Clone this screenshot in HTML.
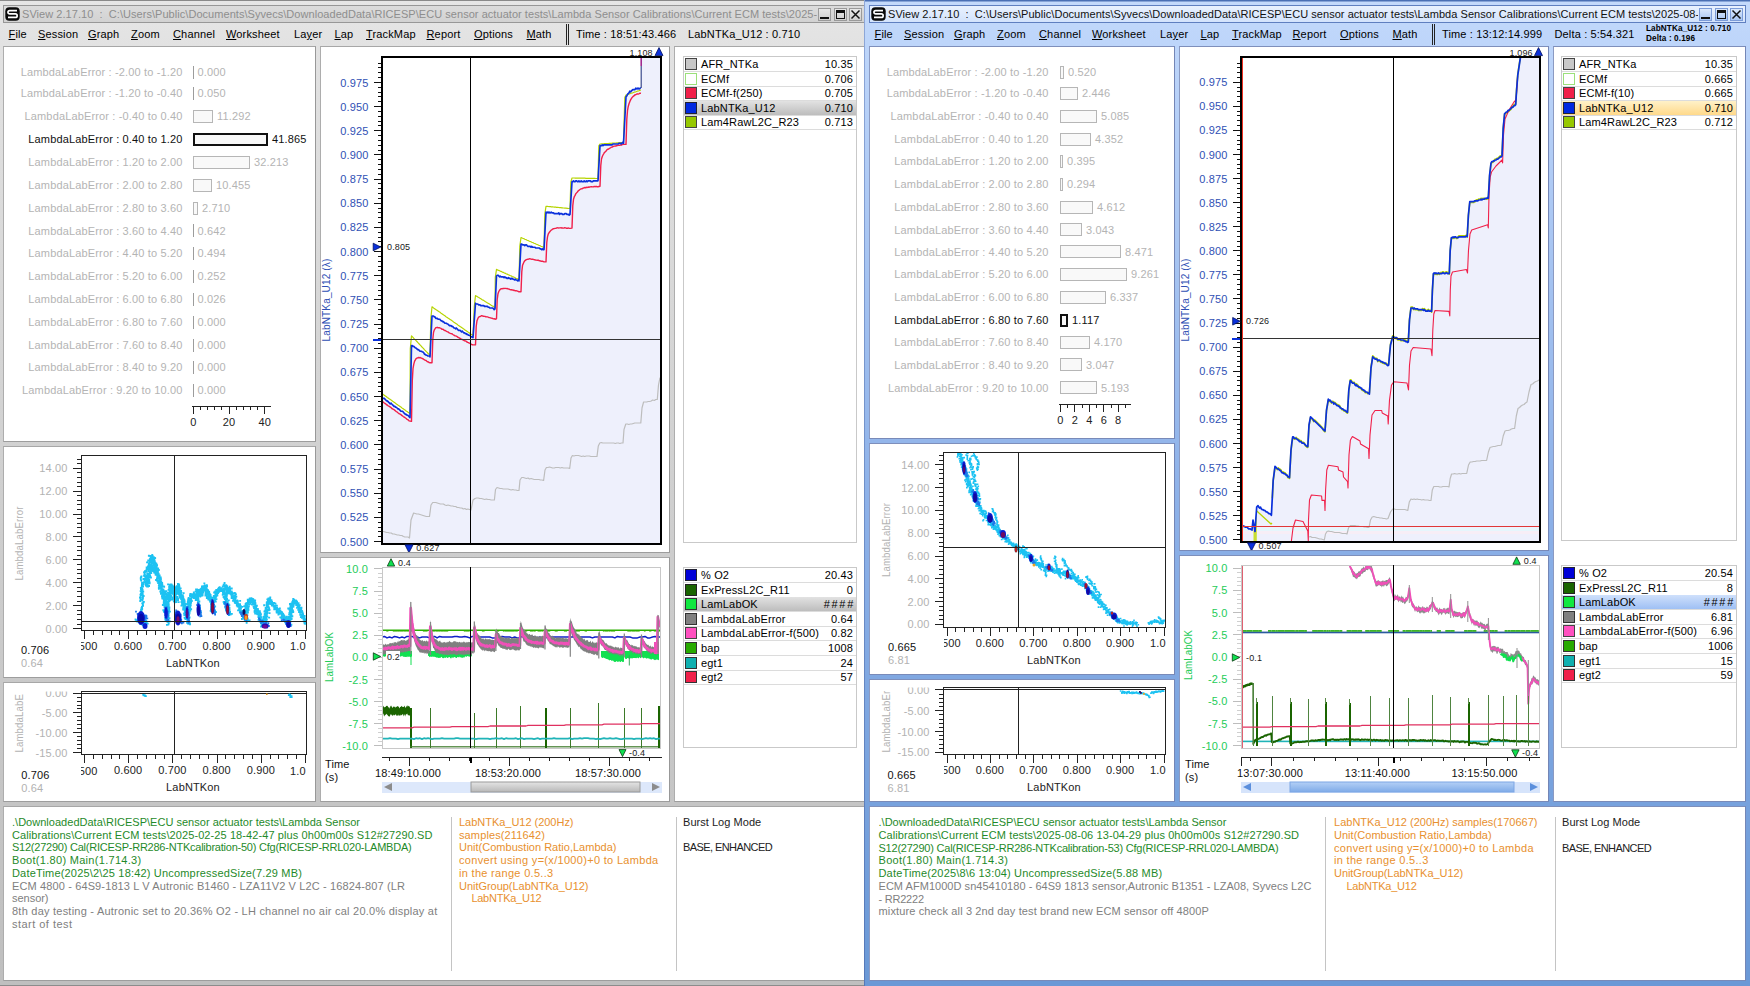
<!DOCTYPE html>
<html lang="en"><head><meta charset="utf-8"><title>SView</title>
<style>
*{box-sizing:border-box;margin:0;padding:0}
html,body{width:1750px;height:986px;overflow:hidden;background:#fff}
body{font-family:"Liberation Sans",sans-serif;font-size:11px;color:#000;position:relative;letter-spacing:0.15px}
.win{position:absolute;top:0;height:986px;overflow:hidden}
#L{left:0;width:864px;background:linear-gradient(#8a8a8a 0,#8a8a8a 1px,#e6e6e6 1px,#e2e2e2 46px,#cfcfcf 500px,#bfbfbf 985px,#8c8c8c 985px)}
#R{left:864px;width:886px;background:linear-gradient(#4a6fb4 0,#4a6fb4 1px,#c3d9fb 2px,#bdd5fa 46px,#8db1e8 500px,#6a98d6 986px);border-left:1px solid;border-image:linear-gradient(#8fa8d8,#6f8fc8 500px,#5578b8) 1}
#Ri{position:absolute;left:1px;top:0;width:884px;height:986px}
.abs{position:absolute}
.pn{position:absolute;background:#fff;border:1px solid;border-color:rgba(0,0,0,.34) rgba(0,0,0,.40) rgba(0,0,0,.38) rgba(0,0,0,.32);overflow:hidden}
#R .pn{border-color:rgba(25,55,135,.56) rgba(25,55,135,.60) rgba(25,55,135,.58) rgba(25,55,135,.5)}
.tb{position:absolute;left:3px;top:5px;height:18px;border:1px solid #979797;background:linear-gradient(#dcdcdc,#d2d2d2);overflow:hidden;white-space:nowrap}
#R .tb{border-color:#5f7fc0;background:linear-gradient(#e9f1fe,#d3e3fc)}
.tt{position:absolute;left:18px;top:2px;line-height:13px;font-size:11px;white-space:pre;color:#8e8e8e;letter-spacing:.045px}
#R .tt{color:#111}
.mi{position:absolute;top:27px;line-height:14px;white-space:pre}
.mi u{text-decoration:underline;text-underline-offset:1px}
.wb{position:absolute;top:2px;width:13px;height:13px;border:1px solid #9a9a9a;background:linear-gradient(#e8e8e8,#cfcfcf)}
#R .wb{border-color:#7c9cd8;background:linear-gradient(#dce9fd,#a9c6f3)}
svg{position:absolute;left:0;top:0;overflow:visible}
svg text{font-family:"Liberation Sans",sans-serif;letter-spacing:0.15px}
.r{white-space:pre;position:absolute;line-height:13px}
.info{position:absolute;white-space:pre;line-height:12.75px;font-size:11px;letter-spacing:.05px}
.lg{position:absolute;border:1px solid #c9c9c9;background:#fff}
.lr{position:absolute;left:0;right:0;height:15px;border-bottom:1px solid #dcdcdc;line-height:14px;white-space:pre}
.lr i{position:absolute;left:1px;top:1px;width:12px;height:12px;border:1px solid #3a3a3a}
.lr b{position:absolute;left:17px;top:0;font-weight:normal}
.lr s{position:absolute;right:3px;top:0;text-decoration:none}
</style></head>
<body>
<div id="L" class="win"><div class="tb" style="width:862px"><svg class="abs" style="left:1px;top:1px" width="15" height="14" viewBox="0 0 15 14"><rect x="0.3" y="0.3" width="14.4" height="13.4" rx="4" fill="#0a0a0a"/><path d="M12 3.6H4.6a1.6 1.6 0 0 0 0 3.3h5.8a1.7 1.7 0 0 1 0 3.5H3" fill="none" stroke="#fff" stroke-width="1.7"/></svg><div class="tt">SView 2.17.10  :  C:\Users\Public\Documents\Syvecs\DownloadedData\RICESP\ECU sensor actuator tests\Lambda Sensor Calibrations\Current ECM tests\2025-02-25 18-42-47</div><div class="abs" style="left:813px;top:0;width:60px;height:16px;background:inherit"></div><div class="wb" style="left:814px"><div class="abs" style="left:1px;top:8px;width:9px;height:2px;background:#111"></div></div><div class="wb" style="left:829.5px"><div class="abs" style="left:1px;top:1px;width:9px;height:9px;border:1px solid #111;border-top-width:3px"></div></div><div class="wb" style="left:845px"><svg width="11" height="11" viewBox="0 0 11 11"><path d="M1.5 1.5L9.5 9.5M9.5 1.5L1.5 9.5" stroke="#111" stroke-width="1.5"/></svg></div></div><div class="mi" style="left:8.5px"><u>F</u>ile</div><div class="mi" style="left:38px"><u>S</u>ession</div><div class="mi" style="left:88px"><u>G</u>raph</div><div class="mi" style="left:131px"><u>Z</u>oom</div><div class="mi" style="left:173px"><u>C</u>hannel</div><div class="mi" style="left:226px"><u>W</u>orksheet</div><div class="mi" style="left:294px">La<u>y</u>er</div><div class="mi" style="left:334.5px"><u>L</u>ap</div><div class="mi" style="left:366px"><u>T</u>rackMap</div><div class="mi" style="left:426.5px"><u>R</u>eport</div><div class="mi" style="left:474px"><u>O</u>ptions</div><div class="mi" style="left:526.5px"><u>M</u>ath</div><div class="abs" style="left:566px;top:24px;width:3px;height:21px;border-left:1px solid #222;border-right:1px solid #222"></div><div class="mi" style="left:576px">Time : 18:51:43.466</div><div class="mi" style="left:688px">LabNTKa_U12 : 0.710</div><div class="pn" style="left:3px;top:46px;width:313px;height:396px;"><div class="r" style="right:132.5px;top:18.8px;color:#b4b4b4">LambdaLabError : -2.00 to -1.20</div><div class="abs" style="left:189px;top:18.5px;width:1px;height:13px;background:#9c9c9c"></div><div class="r" style="left:193.5px;top:18.8px;color:#b4b4b4">0.000</div><div class="r" style="right:132.5px;top:40.1px;color:#b4b4b4">LambdaLabError : -1.20 to -0.40</div><div class="abs" style="left:189px;top:39.8px;width:1px;height:13px;background:#9c9c9c"></div><div class="r" style="left:193.5px;top:40.1px;color:#b4b4b4">0.050</div><div class="r" style="right:132.5px;top:63.1px;color:#b4b4b4">LambdaLabError : -0.40 to 0.40</div><div class="abs" style="left:189px;top:62.8px;width:20px;height:13px;border:1px solid #b6b6b6;background:#f9f9f9"></div><div class="r" style="left:213px;top:63.1px;color:#b4b4b4">11.292</div><div class="r" style="right:132.5px;top:86.1px;color:#111">LambdaLabError : 0.40 to 1.20</div><div class="abs" style="left:189px;top:85.8px;width:75px;height:13px;border:2px solid #111;background:#f8f8f8"></div><div class="r" style="left:268px;top:86.1px;color:#111">41.865</div><div class="r" style="right:132.5px;top:108.8px;color:#b4b4b4">LambdaLabError : 1.20 to 2.00</div><div class="abs" style="left:189px;top:108.5px;width:57px;height:13px;border:1px solid #b6b6b6;background:#f9f9f9"></div><div class="r" style="left:250px;top:108.8px;color:#b4b4b4">32.213</div><div class="r" style="right:132.5px;top:131.8px;color:#b4b4b4">LambdaLabError : 2.00 to 2.80</div><div class="abs" style="left:189px;top:131.5px;width:19px;height:13px;border:1px solid #b6b6b6;background:#f9f9f9"></div><div class="r" style="left:212px;top:131.8px;color:#b4b4b4">10.455</div><div class="r" style="right:132.5px;top:154.8px;color:#b4b4b4">LambdaLabError : 2.80 to 3.60</div><div class="abs" style="left:189px;top:154.5px;width:5px;height:13px;border:1px solid #b6b6b6;background:#f9f9f9"></div><div class="r" style="left:198px;top:154.8px;color:#b4b4b4">2.710</div><div class="r" style="right:132.5px;top:177.5px;color:#b4b4b4">LambdaLabError : 3.60 to 4.40</div><div class="abs" style="left:189px;top:177.2px;width:1px;height:13px;background:#9c9c9c"></div><div class="r" style="left:193.5px;top:177.5px;color:#b4b4b4">0.642</div><div class="r" style="right:132.5px;top:200.3px;color:#b4b4b4">LambdaLabError : 4.40 to 5.20</div><div class="abs" style="left:189px;top:200.0px;width:1px;height:13px;background:#9c9c9c"></div><div class="r" style="left:193.5px;top:200.3px;color:#b4b4b4">0.494</div><div class="r" style="right:132.5px;top:223.1px;color:#b4b4b4">LambdaLabError : 5.20 to 6.00</div><div class="abs" style="left:189px;top:222.8px;width:1px;height:13px;background:#9c9c9c"></div><div class="r" style="left:193.5px;top:223.1px;color:#b4b4b4">0.252</div><div class="r" style="right:132.5px;top:245.8px;color:#b4b4b4">LambdaLabError : 6.00 to 6.80</div><div class="abs" style="left:189px;top:245.5px;width:1px;height:13px;background:#9c9c9c"></div><div class="r" style="left:193.5px;top:245.8px;color:#b4b4b4">0.026</div><div class="r" style="right:132.5px;top:268.8px;color:#b4b4b4">LambdaLabError : 6.80 to 7.60</div><div class="abs" style="left:189px;top:268.5px;width:1px;height:13px;background:#9c9c9c"></div><div class="r" style="left:193.5px;top:268.8px;color:#b4b4b4">0.000</div><div class="r" style="right:132.5px;top:291.8px;color:#b4b4b4">LambdaLabError : 7.60 to 8.40</div><div class="abs" style="left:189px;top:291.5px;width:1px;height:13px;background:#9c9c9c"></div><div class="r" style="left:193.5px;top:291.8px;color:#b4b4b4">0.000</div><div class="r" style="right:132.5px;top:314.3px;color:#b4b4b4">LambdaLabError : 8.40 to 9.20</div><div class="abs" style="left:189px;top:314.0px;width:1px;height:13px;background:#9c9c9c"></div><div class="r" style="left:193.5px;top:314.3px;color:#b4b4b4">0.000</div><div class="r" style="right:132.5px;top:337.1px;color:#b4b4b4">LambdaLabError : 9.20 to 10.00</div><div class="abs" style="left:189px;top:336.8px;width:1px;height:13px;background:#9c9c9c"></div><div class="r" style="left:193.5px;top:337.1px;color:#b4b4b4">0.000</div><svg width="311" height="394" shape-rendering="crispEdges"><rect x="188" y="359" width="79" height="1" fill="#222"/><rect x="189" y="359" width="1" height="8" fill="#222"/><rect x="196" y="359" width="1" height="4" fill="#222"/><rect x="203" y="359" width="1" height="4" fill="#222"/><rect x="210" y="359" width="1" height="4" fill="#222"/><rect x="217" y="359" width="1" height="4" fill="#222"/><rect x="225" y="359" width="1" height="8" fill="#222"/><rect x="232" y="359" width="1" height="4" fill="#222"/><rect x="239" y="359" width="1" height="4" fill="#222"/><rect x="246" y="359" width="1" height="4" fill="#222"/><rect x="253" y="359" width="1" height="4" fill="#222"/><rect x="260" y="359" width="1" height="8" fill="#222"/></svg><div class="r" style="left:169.0px;width:41px;text-align:center;top:369px;color:#222">0</div><div class="r" style="left:204.6px;width:41px;text-align:center;top:369px;color:#222">20</div><div class="r" style="left:240.2px;width:41px;text-align:center;top:369px;color:#222">40</div></div><div class="pn" style="left:3px;top:446px;width:313px;height:232px;"><svg width="311" height="230" viewBox="4 447 311 230"><clipPath id="cs1"><rect x="82" y="456" width="224" height="174"/></clipPath><g clip-path="url(#cs1)"><path d="M140.4 612.7h1.9v1.9h-1.9zM139.7 610.7h1.9v1.9h-1.9zM140.5 611.3h1.9v1.9h-1.9zM140.6 609h1.9v1.9h-1.9zM140.1 608.8h1.9v1.9h-1.9zM141.2 608h1.9v1.9h-1.9zM140.6 607.1h1.9v1.9h-1.9zM141 606h1.9v1.9h-1.9zM141.1 605.8h1.9v1.9h-1.9zM142.1 604.8h1.9v1.9h-1.9zM141.9 603.5h1.9v1.9h-1.9zM141.9 603.3h1.9v1.9h-1.9zM141.3 602.4h1.9v1.9h-1.9zM142.2 601.4h1.9v1.9h-1.9zM142.4 601.6h1.9v1.9h-1.9zM142.9 600.9h1.9v1.9h-1.9zM141.3 599.4h1.9v1.9h-1.9zM141.5 598.9h1.9v1.9h-1.9zM141.9 597.7h1.9v1.9h-1.9zM142 596.5h1.9v1.9h-1.9zM141.7 595.6h1.9v1.9h-1.9zM142.7 595h1.9v1.9h-1.9zM141.6 593.5h1.9v1.9h-1.9zM140.7 593.2h1.9v1.9h-1.9zM141.8 593.2h1.9v1.9h-1.9zM141.5 591.7h1.9v1.9h-1.9zM142.3 590.7h1.9v1.9h-1.9zM140.8 590.7h1.9v1.9h-1.9zM140.6 589.8h1.9v1.9h-1.9zM141.6 588.8h1.9v1.9h-1.9zM141.2 588h1.9v1.9h-1.9zM140.9 585.6h1.9v1.9h-1.9zM140.8 586.5h1.9v1.9h-1.9zM140.8 585.4h1.9v1.9h-1.9zM142.1 585.7h1.9v1.9h-1.9zM141.4 583.9h1.9v1.9h-1.9zM142.5 583.7h1.9v1.9h-1.9zM141.9 583.6h1.9v1.9h-1.9zM142.4 582.4h1.9v1.9h-1.9zM143 581.3h1.9v1.9h-1.9zM144.2 580.7h1.9v1.9h-1.9zM143.6 579h1.9v1.9h-1.9zM143.4 578h1.9v1.9h-1.9zM145.1 577.2h1.9v1.9h-1.9zM142.5 578h1.9v1.9h-1.9zM144.4 576.1h1.9v1.9h-1.9zM144 575h1.9v1.9h-1.9zM143.1 574.9h1.9v1.9h-1.9zM143.5 573.5h1.9v1.9h-1.9zM144 573.3h1.9v1.9h-1.9zM143.1 571.4h1.9v1.9h-1.9zM143.5 571.2h1.9v1.9h-1.9zM143.9 571.1h1.9v1.9h-1.9zM144 570.2h1.9v1.9h-1.9zM145.2 569.5h1.9v1.9h-1.9zM146.5 567.8h1.9v1.9h-1.9zM145.7 567.4h1.9v1.9h-1.9zM146.1 568.7h1.9v1.9h-1.9zM145.7 566.5h1.9v1.9h-1.9zM139.3 600.1h1.9v1.9h-1.9zM139.6 598.1h1.9v1.9h-1.9zM139.8 597.1h1.9v1.9h-1.9zM139 596.5h1.9v1.9h-1.9zM139.9 594.7h1.9v1.9h-1.9zM139.5 593.7h1.9v1.9h-1.9zM140 592.4h1.9v1.9h-1.9zM139.7 590.2h1.9v1.9h-1.9zM140.9 590.1h1.9v1.9h-1.9zM140 588.1h1.9v1.9h-1.9zM140.4 587.3h1.9v1.9h-1.9zM139.9 586.9h1.9v1.9h-1.9zM141.2 584.9h1.9v1.9h-1.9zM141 583.8h1.9v1.9h-1.9zM141.2 582.5h1.9v1.9h-1.9zM141.1 581.8h1.9v1.9h-1.9zM140.3 579.7h1.9v1.9h-1.9zM139.9 578.5h1.9v1.9h-1.9zM139.8 577.3h1.9v1.9h-1.9zM140.1 576.2h1.9v1.9h-1.9zM140.5 575.5h1.9v1.9h-1.9zM145.6 584.9h1.9v1.9h-1.9zM145.4 582.3h1.9v1.9h-1.9zM146.4 582.4h1.9v1.9h-1.9zM147.5 584.4h1.9v1.9h-1.9zM148.1 585h1.9v1.9h-1.9zM147.1 585.7h1.9v1.9h-1.9zM146.2 585.6h1.9v1.9h-1.9zM146.1 583.8h1.9v1.9h-1.9zM145.4 583.9h1.9v1.9h-1.9zM147.2 582.4h1.9v1.9h-1.9zM144.7 582.8h1.9v1.9h-1.9zM146.9 582.4h1.9v1.9h-1.9zM145.2 581.5h1.9v1.9h-1.9zM146.1 578.9h1.9v1.9h-1.9zM145.8 583.7h1.9v1.9h-1.9zM144.9 581.4h1.9v1.9h-1.9zM148.7 582.4h1.9v1.9h-1.9zM147.7 581.1h1.9v1.9h-1.9zM145 584.7h1.9v1.9h-1.9zM147 581.1h1.9v1.9h-1.9zM148.7 581.6h1.9v1.9h-1.9zM146.8 579h1.9v1.9h-1.9zM146.6 580h1.9v1.9h-1.9zM145.9 578.9h1.9v1.9h-1.9zM145.6 579.6h1.9v1.9h-1.9zM146.1 580h1.9v1.9h-1.9zM148.2 579.7h1.9v1.9h-1.9zM147 581h1.9v1.9h-1.9zM147.8 577h1.9v1.9h-1.9zM146.1 578.9h1.9v1.9h-1.9zM145.9 579.3h1.9v1.9h-1.9zM144.9 575.8h1.9v1.9h-1.9zM148.3 578.7h1.9v1.9h-1.9zM145.1 577.8h1.9v1.9h-1.9zM148.8 576.1h1.9v1.9h-1.9zM145.7 575.8h1.9v1.9h-1.9zM146 574.9h1.9v1.9h-1.9zM146.7 575h1.9v1.9h-1.9zM147.4 579.4h1.9v1.9h-1.9zM146 577.5h1.9v1.9h-1.9zM148.8 573.3h1.9v1.9h-1.9zM147.5 576h1.9v1.9h-1.9zM147 576.8h1.9v1.9h-1.9zM146.9 576h1.9v1.9h-1.9zM147 575.1h1.9v1.9h-1.9zM146.5 577.9h1.9v1.9h-1.9zM147.5 573.5h1.9v1.9h-1.9zM150 576.6h1.9v1.9h-1.9zM147.4 573.6h1.9v1.9h-1.9zM146.7 575.8h1.9v1.9h-1.9zM147.3 573.1h1.9v1.9h-1.9zM148.8 573.4h1.9v1.9h-1.9zM147.7 576h1.9v1.9h-1.9zM148.9 574.9h1.9v1.9h-1.9zM148.4 574.7h1.9v1.9h-1.9zM147.7 574.1h1.9v1.9h-1.9zM149.2 572.1h1.9v1.9h-1.9zM146.3 573.1h1.9v1.9h-1.9zM147.8 573h1.9v1.9h-1.9zM147.2 572.7h1.9v1.9h-1.9zM149.2 574.7h1.9v1.9h-1.9zM150.3 572h1.9v1.9h-1.9zM149.9 570.5h1.9v1.9h-1.9zM149.5 571.3h1.9v1.9h-1.9zM149.8 571.3h1.9v1.9h-1.9zM147.8 569.8h1.9v1.9h-1.9zM149.7 570.5h1.9v1.9h-1.9zM149 570.8h1.9v1.9h-1.9zM145.6 570.8h1.9v1.9h-1.9zM147.7 570.3h1.9v1.9h-1.9zM148.8 567.3h1.9v1.9h-1.9zM147.8 569.3h1.9v1.9h-1.9zM148.7 570.3h1.9v1.9h-1.9zM147.4 568.6h1.9v1.9h-1.9zM149.1 566.4h1.9v1.9h-1.9zM150.6 567.3h1.9v1.9h-1.9zM150 568.4h1.9v1.9h-1.9zM150.7 569.3h1.9v1.9h-1.9zM148.3 565.7h1.9v1.9h-1.9zM148.5 568h1.9v1.9h-1.9zM149.1 565.8h1.9v1.9h-1.9zM147.4 566.1h1.9v1.9h-1.9zM148.8 565.8h1.9v1.9h-1.9zM148.3 567.8h1.9v1.9h-1.9zM147.9 568.1h1.9v1.9h-1.9zM148.9 565.9h1.9v1.9h-1.9zM149.9 566.6h1.9v1.9h-1.9zM148.2 565h1.9v1.9h-1.9zM148.5 566h1.9v1.9h-1.9zM150 565.7h1.9v1.9h-1.9zM147.8 563.4h1.9v1.9h-1.9zM148.9 565.4h1.9v1.9h-1.9zM150 564h1.9v1.9h-1.9zM147 565.5h1.9v1.9h-1.9zM148.4 562.7h1.9v1.9h-1.9zM150.7 565.1h1.9v1.9h-1.9zM148.8 564.1h1.9v1.9h-1.9zM147.8 564.8h1.9v1.9h-1.9zM148.2 562.8h1.9v1.9h-1.9zM148.4 561.7h1.9v1.9h-1.9zM150.1 565h1.9v1.9h-1.9zM149.7 560.1h1.9v1.9h-1.9zM148.4 561.6h1.9v1.9h-1.9zM149.3 559.5h1.9v1.9h-1.9zM146.1 561.4h1.9v1.9h-1.9zM150.1 561.5h1.9v1.9h-1.9zM151.6 560.5h1.9v1.9h-1.9zM148.9 561.2h1.9v1.9h-1.9zM147.9 562.5h1.9v1.9h-1.9zM147.3 559.6h1.9v1.9h-1.9zM148.5 560.1h1.9v1.9h-1.9zM150.4 559.8h1.9v1.9h-1.9zM149.6 559.6h1.9v1.9h-1.9zM150.6 560h1.9v1.9h-1.9zM149.4 557.8h1.9v1.9h-1.9zM150.1 558.8h1.9v1.9h-1.9zM150.5 560.1h1.9v1.9h-1.9zM150.2 560.7h1.9v1.9h-1.9zM150.1 558h1.9v1.9h-1.9zM149.9 559.1h1.9v1.9h-1.9zM148.4 559.4h1.9v1.9h-1.9zM151.8 558.8h1.9v1.9h-1.9zM150.2 558.9h1.9v1.9h-1.9zM151.6 557.4h1.9v1.9h-1.9zM151.5 557h1.9v1.9h-1.9zM151.1 558.4h1.9v1.9h-1.9zM148.9 558.3h1.9v1.9h-1.9zM150.9 555.2h1.9v1.9h-1.9zM150.2 556.4h1.9v1.9h-1.9zM149.8 557.5h1.9v1.9h-1.9zM150 556.8h1.9v1.9h-1.9zM149.8 556.2h1.9v1.9h-1.9zM153.5 556.9h1.9v1.9h-1.9zM149.4 555h1.9v1.9h-1.9zM151.3 554h1.9v1.9h-1.9zM152.8 556.2h1.9v1.9h-1.9zM151.6 556.5h1.9v1.9h-1.9zM150.9 555.2h1.9v1.9h-1.9zM147.9 554.8h1.9v1.9h-1.9zM152.2 557.9h1.9v1.9h-1.9zM151.7 555h1.9v1.9h-1.9zM151.6 557.5h1.9v1.9h-1.9zM150.5 559.4h1.9v1.9h-1.9zM150.8 557.9h1.9v1.9h-1.9zM150.9 559.3h1.9v1.9h-1.9zM150.8 557.2h1.9v1.9h-1.9zM153.8 557h1.9v1.9h-1.9zM151.8 559.4h1.9v1.9h-1.9zM153 556.8h1.9v1.9h-1.9zM153.4 558.8h1.9v1.9h-1.9zM154.2 557.2h1.9v1.9h-1.9zM153.7 560.1h1.9v1.9h-1.9zM152.4 559.3h1.9v1.9h-1.9zM153.4 559.2h1.9v1.9h-1.9zM152.6 559.3h1.9v1.9h-1.9zM153.3 561.3h1.9v1.9h-1.9zM151.2 560.7h1.9v1.9h-1.9zM153.6 562.8h1.9v1.9h-1.9zM152.4 562.7h1.9v1.9h-1.9zM152.8 561.9h1.9v1.9h-1.9zM153.7 561.9h1.9v1.9h-1.9zM153.1 560.5h1.9v1.9h-1.9zM155.5 563.8h1.9v1.9h-1.9zM153.6 561.9h1.9v1.9h-1.9zM153.5 560.7h1.9v1.9h-1.9zM152.5 563.1h1.9v1.9h-1.9zM155.1 562.5h1.9v1.9h-1.9zM152.8 561.6h1.9v1.9h-1.9zM153.3 564.1h1.9v1.9h-1.9zM154.2 561.6h1.9v1.9h-1.9zM152.7 564.1h1.9v1.9h-1.9zM154.6 566.1h1.9v1.9h-1.9zM156.1 564.3h1.9v1.9h-1.9zM153.5 564.6h1.9v1.9h-1.9zM153 563.7h1.9v1.9h-1.9zM155.7 565.5h1.9v1.9h-1.9zM155.7 566.9h1.9v1.9h-1.9zM154.1 566.2h1.9v1.9h-1.9zM154.7 565.8h1.9v1.9h-1.9zM155 566.3h1.9v1.9h-1.9zM153 564.1h1.9v1.9h-1.9zM154.9 566.6h1.9v1.9h-1.9zM154.3 566.1h1.9v1.9h-1.9zM153.2 567.7h1.9v1.9h-1.9zM155.6 568.6h1.9v1.9h-1.9zM154.5 566.8h1.9v1.9h-1.9zM155.2 568.8h1.9v1.9h-1.9zM155.9 567.8h1.9v1.9h-1.9zM153.2 566.5h1.9v1.9h-1.9zM153.4 567.5h1.9v1.9h-1.9zM156.4 568.1h1.9v1.9h-1.9zM154.2 570.8h1.9v1.9h-1.9zM154.1 570.2h1.9v1.9h-1.9zM157 569h1.9v1.9h-1.9zM157.2 567.5h1.9v1.9h-1.9zM154.9 568.7h1.9v1.9h-1.9zM156.1 569.1h1.9v1.9h-1.9zM157.9 569h1.9v1.9h-1.9zM155.5 568.2h1.9v1.9h-1.9zM156.4 570.9h1.9v1.9h-1.9zM155 568.6h1.9v1.9h-1.9zM154.2 571.8h1.9v1.9h-1.9zM157 571h1.9v1.9h-1.9zM157 571.4h1.9v1.9h-1.9zM156.7 569h1.9v1.9h-1.9zM156.8 572.1h1.9v1.9h-1.9zM157.7 572.7h1.9v1.9h-1.9zM155.5 572h1.9v1.9h-1.9zM154.6 573.7h1.9v1.9h-1.9zM154.7 573h1.9v1.9h-1.9zM155.5 571.3h1.9v1.9h-1.9zM155.4 572.1h1.9v1.9h-1.9zM157.1 574.2h1.9v1.9h-1.9zM156.3 574.1h1.9v1.9h-1.9zM157.8 575.8h1.9v1.9h-1.9zM156 573.8h1.9v1.9h-1.9zM157.7 573.8h1.9v1.9h-1.9zM157.7 573h1.9v1.9h-1.9zM156.5 573.3h1.9v1.9h-1.9zM156.2 573.2h1.9v1.9h-1.9zM156.9 573h1.9v1.9h-1.9zM156.4 575.5h1.9v1.9h-1.9zM155.2 573.6h1.9v1.9h-1.9zM156.7 573.8h1.9v1.9h-1.9zM156 577.7h1.9v1.9h-1.9zM157.8 575h1.9v1.9h-1.9zM156.5 573.9h1.9v1.9h-1.9zM156 573.1h1.9v1.9h-1.9zM158.2 575.6h1.9v1.9h-1.9zM158.7 576.5h1.9v1.9h-1.9zM155.1 579.1h1.9v1.9h-1.9zM158.3 578h1.9v1.9h-1.9zM157.1 576.4h1.9v1.9h-1.9zM157.6 579.6h1.9v1.9h-1.9zM156.3 576.2h1.9v1.9h-1.9zM158.6 575.3h1.9v1.9h-1.9zM159.8 576.5h1.9v1.9h-1.9zM159.5 578h1.9v1.9h-1.9zM157.7 577h1.9v1.9h-1.9zM160 578.3h1.9v1.9h-1.9zM156.6 579.6h1.9v1.9h-1.9zM158.1 579.7h1.9v1.9h-1.9zM157.9 579.7h1.9v1.9h-1.9zM159 579.5h1.9v1.9h-1.9zM156.4 580.3h1.9v1.9h-1.9zM160.3 580.5h1.9v1.9h-1.9zM159.8 581.1h1.9v1.9h-1.9zM158.3 581.7h1.9v1.9h-1.9zM158.4 579.3h1.9v1.9h-1.9zM157.2 582.1h1.9v1.9h-1.9zM159.7 581.8h1.9v1.9h-1.9zM158.2 578.9h1.9v1.9h-1.9zM159.9 581.3h1.9v1.9h-1.9zM158.3 580.9h1.9v1.9h-1.9zM158.4 579.5h1.9v1.9h-1.9zM159.9 583h1.9v1.9h-1.9zM160.3 581.8h1.9v1.9h-1.9zM157.7 580.8h1.9v1.9h-1.9zM159 584.9h1.9v1.9h-1.9zM160.6 583h1.9v1.9h-1.9zM160.1 584.2h1.9v1.9h-1.9zM159.6 583.7h1.9v1.9h-1.9zM159.9 582.9h1.9v1.9h-1.9zM158.2 583.1h1.9v1.9h-1.9zM161.2 582.1h1.9v1.9h-1.9zM159.2 583.7h1.9v1.9h-1.9zM159.9 583.9h1.9v1.9h-1.9zM160.9 584.2h1.9v1.9h-1.9zM160 585.8h1.9v1.9h-1.9zM158.3 586.5h1.9v1.9h-1.9zM161.4 583.7h1.9v1.9h-1.9zM160 584.6h1.9v1.9h-1.9zM159.8 586.7h1.9v1.9h-1.9zM157.9 587h1.9v1.9h-1.9zM160.9 586.2h1.9v1.9h-1.9zM163.2 585.8h1.9v1.9h-1.9zM158.6 587.1h1.9v1.9h-1.9zM160.7 586h1.9v1.9h-1.9zM157.9 584.7h1.9v1.9h-1.9zM162.7 585.4h1.9v1.9h-1.9zM162.4 588.5h1.9v1.9h-1.9zM158 587.9h1.9v1.9h-1.9zM161.6 589.3h1.9v1.9h-1.9zM162.5 589.7h1.9v1.9h-1.9zM160.9 588h1.9v1.9h-1.9zM160.8 589.2h1.9v1.9h-1.9zM159.9 587.4h1.9v1.9h-1.9zM164 590.2h1.9v1.9h-1.9zM162.5 588.9h1.9v1.9h-1.9zM160.2 588.9h1.9v1.9h-1.9zM160.3 588.8h1.9v1.9h-1.9zM159.4 590.6h1.9v1.9h-1.9zM161.9 591h1.9v1.9h-1.9zM161.6 589.4h1.9v1.9h-1.9zM164.1 591.7h1.9v1.9h-1.9zM162.3 591.8h1.9v1.9h-1.9zM161.3 591.8h1.9v1.9h-1.9zM160.8 592.4h1.9v1.9h-1.9zM163 592.4h1.9v1.9h-1.9zM162.4 591.7h1.9v1.9h-1.9zM162.2 592.7h1.9v1.9h-1.9zM161.4 592.9h1.9v1.9h-1.9zM163 590.6h1.9v1.9h-1.9zM160 592.8h1.9v1.9h-1.9zM161.7 591.6h1.9v1.9h-1.9zM160.7 591.5h1.9v1.9h-1.9zM160.2 592.6h1.9v1.9h-1.9zM160.4 591.2h1.9v1.9h-1.9zM162.2 595.4h1.9v1.9h-1.9zM164 593.5h1.9v1.9h-1.9zM163 593.6h1.9v1.9h-1.9zM162.4 593.2h1.9v1.9h-1.9zM162.6 593.1h1.9v1.9h-1.9zM161.7 594.4h1.9v1.9h-1.9zM162.6 597.4h1.9v1.9h-1.9zM161.7 593.7h1.9v1.9h-1.9zM163.6 596h1.9v1.9h-1.9zM163.7 595.3h1.9v1.9h-1.9zM161 595.3h1.9v1.9h-1.9zM161.4 595.8h1.9v1.9h-1.9zM165.2 595.7h1.9v1.9h-1.9zM163.2 597.7h1.9v1.9h-1.9zM161.5 597.5h1.9v1.9h-1.9zM162.8 595.9h1.9v1.9h-1.9zM162.8 595.8h1.9v1.9h-1.9zM164.4 597.3h1.9v1.9h-1.9zM162.8 598h1.9v1.9h-1.9zM161.5 594.2h1.9v1.9h-1.9zM165.1 597.2h1.9v1.9h-1.9zM164.4 597h1.9v1.9h-1.9zM161.3 596.9h1.9v1.9h-1.9zM164.7 599h1.9v1.9h-1.9zM162.9 599.6h1.9v1.9h-1.9zM163.4 599.2h1.9v1.9h-1.9zM162.4 596.4h1.9v1.9h-1.9zM163.9 600.2h1.9v1.9h-1.9zM162.8 601.6h1.9v1.9h-1.9zM164.3 602h1.9v1.9h-1.9zM164.8 601.6h1.9v1.9h-1.9zM163.7 598.4h1.9v1.9h-1.9zM166.8 602.1h1.9v1.9h-1.9zM165 599.5h1.9v1.9h-1.9zM165.3 599.6h1.9v1.9h-1.9zM164.9 602.3h1.9v1.9h-1.9zM165 600.1h1.9v1.9h-1.9zM165.1 601.8h1.9v1.9h-1.9zM165.1 603.4h1.9v1.9h-1.9zM163.7 601h1.9v1.9h-1.9zM161.9 604.1h1.9v1.9h-1.9zM163.6 604h1.9v1.9h-1.9zM165.1 604.1h1.9v1.9h-1.9zM165 603.5h1.9v1.9h-1.9zM164.5 603.7h1.9v1.9h-1.9zM163.5 604.6h1.9v1.9h-1.9zM162.8 602.9h1.9v1.9h-1.9zM164.4 603.9h1.9v1.9h-1.9zM164.8 602.7h1.9v1.9h-1.9zM165.1 600.8h1.9v1.9h-1.9zM164.1 604.3h1.9v1.9h-1.9zM164.1 605.8h1.9v1.9h-1.9zM164.9 605.4h1.9v1.9h-1.9zM163.6 606.2h1.9v1.9h-1.9zM166 603.4h1.9v1.9h-1.9zM166.9 604h1.9v1.9h-1.9zM163.7 606.7h1.9v1.9h-1.9zM167.3 606.7h1.9v1.9h-1.9zM165 605.3h1.9v1.9h-1.9zM164.3 606.6h1.9v1.9h-1.9zM165.7 605.4h1.9v1.9h-1.9zM165.9 604.1h1.9v1.9h-1.9zM165.6 605.9h1.9v1.9h-1.9zM163.7 609.9h1.9v1.9h-1.9zM166.1 607.1h1.9v1.9h-1.9zM164 609.5h1.9v1.9h-1.9zM165.5 607h1.9v1.9h-1.9zM162.4 609.3h1.9v1.9h-1.9zM166.3 609h1.9v1.9h-1.9zM164.1 606.3h1.9v1.9h-1.9zM166.9 608.4h1.9v1.9h-1.9zM166.4 605.8h1.9v1.9h-1.9zM165.2 610.1h1.9v1.9h-1.9zM165.5 611.8h1.9v1.9h-1.9zM166.7 611h1.9v1.9h-1.9zM166.4 609.6h1.9v1.9h-1.9zM164.6 609.1h1.9v1.9h-1.9zM167.2 610.1h1.9v1.9h-1.9zM163 610.8h1.9v1.9h-1.9zM165.8 610.2h1.9v1.9h-1.9zM166.2 609.9h1.9v1.9h-1.9zM169 610.7h1.9v1.9h-1.9zM164.5 611.6h1.9v1.9h-1.9zM166 612.8h1.9v1.9h-1.9zM166.1 612.7h1.9v1.9h-1.9zM165.9 611.8h1.9v1.9h-1.9zM164.6 611.5h1.9v1.9h-1.9zM165.8 611h1.9v1.9h-1.9zM166.9 612.4h1.9v1.9h-1.9zM167.4 614h1.9v1.9h-1.9zM165.6 617.1h1.9v1.9h-1.9zM167.8 612.6h1.9v1.9h-1.9zM166.6 613h1.9v1.9h-1.9zM164.9 614.1h1.9v1.9h-1.9zM165.4 615.2h1.9v1.9h-1.9zM164.3 614.7h1.9v1.9h-1.9zM167.7 614.9h1.9v1.9h-1.9zM168.5 617.3h1.9v1.9h-1.9zM164.6 614.6h1.9v1.9h-1.9zM165.5 617.1h1.9v1.9h-1.9zM165.6 612.9h1.9v1.9h-1.9zM165.4 615.3h1.9v1.9h-1.9zM166.1 615.7h1.9v1.9h-1.9zM166.3 615.1h1.9v1.9h-1.9zM166.3 615.8h1.9v1.9h-1.9zM165.8 616.2h1.9v1.9h-1.9zM167.4 617.1h1.9v1.9h-1.9zM167.2 616.1h1.9v1.9h-1.9zM164.3 617h1.9v1.9h-1.9zM167.5 617.4h1.9v1.9h-1.9zM165.8 615.7h1.9v1.9h-1.9zM166.9 616.9h1.9v1.9h-1.9zM164.4 618.6h1.9v1.9h-1.9zM166.6 619.9h1.9v1.9h-1.9zM165 616.8h1.9v1.9h-1.9zM166.7 620.8h1.9v1.9h-1.9zM166.8 619.8h1.9v1.9h-1.9zM164.9 619.6h1.9v1.9h-1.9zM164.8 617.2h1.9v1.9h-1.9zM167.5 621.1h1.9v1.9h-1.9zM165.8 620.1h1.9v1.9h-1.9zM167.4 619.9h1.9v1.9h-1.9zM166.8 620.8h1.9v1.9h-1.9zM165.7 619.2h1.9v1.9h-1.9zM167.3 623.7h1.9v1.9h-1.9zM166.3 620.5h1.9v1.9h-1.9zM169.2 620.4h1.9v1.9h-1.9zM166 623.9h1.9v1.9h-1.9zM167.8 622.6h1.9v1.9h-1.9zM148.6 559.4h1.9v1.9h-1.9zM150.7 559.4h1.9v1.9h-1.9zM151.7 560.7h1.9v1.9h-1.9zM152.1 561h1.9v1.9h-1.9zM150.6 560.5h1.9v1.9h-1.9zM152 559h1.9v1.9h-1.9zM149.9 559.7h1.9v1.9h-1.9zM150.6 559.7h1.9v1.9h-1.9zM151.1 559.8h1.9v1.9h-1.9zM151.8 561h1.9v1.9h-1.9zM150.7 560.3h1.9v1.9h-1.9zM152.1 560.9h1.9v1.9h-1.9zM151.4 560.8h1.9v1.9h-1.9zM150 561.9h1.9v1.9h-1.9zM150.9 562.4h1.9v1.9h-1.9zM151.8 562.4h1.9v1.9h-1.9zM153.2 562.2h1.9v1.9h-1.9zM153.6 563.9h1.9v1.9h-1.9zM155.4 562.8h1.9v1.9h-1.9zM151.7 564.6h1.9v1.9h-1.9zM153.5 564.1h1.9v1.9h-1.9zM153.5 564.9h1.9v1.9h-1.9zM151.1 565.4h1.9v1.9h-1.9zM153.8 565.9h1.9v1.9h-1.9zM152.8 564.8h1.9v1.9h-1.9zM153.8 567.7h1.9v1.9h-1.9zM151.5 567.1h1.9v1.9h-1.9zM151.1 567h1.9v1.9h-1.9zM150.2 566.8h1.9v1.9h-1.9zM154 565.7h1.9v1.9h-1.9zM151.9 567.8h1.9v1.9h-1.9zM153.2 568.4h1.9v1.9h-1.9zM155.1 567h1.9v1.9h-1.9zM153.9 566.5h1.9v1.9h-1.9zM150.3 567.9h1.9v1.9h-1.9zM150.7 569.9h1.9v1.9h-1.9zM154.9 570.2h1.9v1.9h-1.9zM152.1 569.1h1.9v1.9h-1.9zM152.2 570h1.9v1.9h-1.9zM153.2 571.7h1.9v1.9h-1.9zM155 569.3h1.9v1.9h-1.9zM156.4 571.3h1.9v1.9h-1.9zM156 571.3h1.9v1.9h-1.9zM156.6 572.9h1.9v1.9h-1.9zM156.3 573.4h1.9v1.9h-1.9zM156.3 572.5h1.9v1.9h-1.9zM154.9 570h1.9v1.9h-1.9zM157.4 573.3h1.9v1.9h-1.9zM154.9 573.9h1.9v1.9h-1.9zM156.6 573.3h1.9v1.9h-1.9zM158.7 574.6h1.9v1.9h-1.9zM155.3 573.8h1.9v1.9h-1.9zM167.1 613.2h1.9v1.9h-1.9zM166.6 611.3h1.9v1.9h-1.9zM166.4 609.5h1.9v1.9h-1.9zM167.5 611.2h1.9v1.9h-1.9zM165.5 610.3h1.9v1.9h-1.9zM166.3 609.9h1.9v1.9h-1.9zM165.1 609.5h1.9v1.9h-1.9zM168.1 610.2h1.9v1.9h-1.9zM166.7 610.5h1.9v1.9h-1.9zM165.5 610.7h1.9v1.9h-1.9zM166.1 608.8h1.9v1.9h-1.9zM165.2 609h1.9v1.9h-1.9zM165.8 610.6h1.9v1.9h-1.9zM163.6 610.1h1.9v1.9h-1.9zM167.9 610.3h1.9v1.9h-1.9zM165.6 607.5h1.9v1.9h-1.9zM167.8 608.9h1.9v1.9h-1.9zM166.7 607h1.9v1.9h-1.9zM166.1 606.4h1.9v1.9h-1.9zM168.3 608.6h1.9v1.9h-1.9zM166 608.4h1.9v1.9h-1.9zM166.7 604.8h1.9v1.9h-1.9zM167.2 605.9h1.9v1.9h-1.9zM166.9 606h1.9v1.9h-1.9zM165.5 605.9h1.9v1.9h-1.9zM167.7 604.8h1.9v1.9h-1.9zM165.6 604.2h1.9v1.9h-1.9zM166 606.5h1.9v1.9h-1.9zM167.5 605.9h1.9v1.9h-1.9zM167.2 606.8h1.9v1.9h-1.9zM168.4 606.6h1.9v1.9h-1.9zM165.8 603.9h1.9v1.9h-1.9zM167.6 605.2h1.9v1.9h-1.9zM166.2 603.9h1.9v1.9h-1.9zM167.8 603.8h1.9v1.9h-1.9zM166 604h1.9v1.9h-1.9zM166.3 604.1h1.9v1.9h-1.9zM167.1 602.9h1.9v1.9h-1.9zM165.9 604h1.9v1.9h-1.9zM166 602.8h1.9v1.9h-1.9zM166.6 602.5h1.9v1.9h-1.9zM166.6 603.3h1.9v1.9h-1.9zM167.1 600.9h1.9v1.9h-1.9zM165.7 602.6h1.9v1.9h-1.9zM166.8 602.9h1.9v1.9h-1.9zM167.6 602.7h1.9v1.9h-1.9zM165.6 600.7h1.9v1.9h-1.9zM168.5 599.4h1.9v1.9h-1.9zM167.9 600.5h1.9v1.9h-1.9zM168.3 600h1.9v1.9h-1.9zM166.4 601h1.9v1.9h-1.9zM169.6 598.6h1.9v1.9h-1.9zM167.5 598.8h1.9v1.9h-1.9zM167.8 599.9h1.9v1.9h-1.9zM166.5 597.7h1.9v1.9h-1.9zM167.4 598.9h1.9v1.9h-1.9zM168.3 598.6h1.9v1.9h-1.9zM168.5 598.7h1.9v1.9h-1.9zM169 599.3h1.9v1.9h-1.9zM165.9 597.7h1.9v1.9h-1.9zM167.9 597.5h1.9v1.9h-1.9zM167.9 599.3h1.9v1.9h-1.9zM166.6 596.5h1.9v1.9h-1.9zM166.6 598.2h1.9v1.9h-1.9zM170 595.9h1.9v1.9h-1.9zM170.1 595h1.9v1.9h-1.9zM167.7 596.5h1.9v1.9h-1.9zM168 595.3h1.9v1.9h-1.9zM166.4 595.6h1.9v1.9h-1.9zM168.8 595.4h1.9v1.9h-1.9zM168.2 595.9h1.9v1.9h-1.9zM169.3 594h1.9v1.9h-1.9zM169.5 597h1.9v1.9h-1.9zM166.5 595.9h1.9v1.9h-1.9zM165.8 593.5h1.9v1.9h-1.9zM167.5 594.2h1.9v1.9h-1.9zM165.8 593.2h1.9v1.9h-1.9zM166.1 594.7h1.9v1.9h-1.9zM166.9 593.8h1.9v1.9h-1.9zM167.4 593.8h1.9v1.9h-1.9zM165.2 592.9h1.9v1.9h-1.9zM166.4 591.7h1.9v1.9h-1.9zM168.4 593.4h1.9v1.9h-1.9zM167 591.7h1.9v1.9h-1.9zM170.2 592.1h1.9v1.9h-1.9zM169.1 592.9h1.9v1.9h-1.9zM169 591.4h1.9v1.9h-1.9zM168.1 592.3h1.9v1.9h-1.9zM165.3 590.3h1.9v1.9h-1.9zM168.8 591.5h1.9v1.9h-1.9zM169 590.1h1.9v1.9h-1.9zM167.6 588.9h1.9v1.9h-1.9zM168.7 590.1h1.9v1.9h-1.9zM168.7 587.5h1.9v1.9h-1.9zM168.2 588.5h1.9v1.9h-1.9zM169.7 590.2h1.9v1.9h-1.9zM169.4 589.8h1.9v1.9h-1.9zM170 589.2h1.9v1.9h-1.9zM168 588.9h1.9v1.9h-1.9zM169 588.9h1.9v1.9h-1.9zM169.5 588.3h1.9v1.9h-1.9zM169.3 588h1.9v1.9h-1.9zM168.8 586.6h1.9v1.9h-1.9zM168.3 587h1.9v1.9h-1.9zM171.1 587.1h1.9v1.9h-1.9zM168.3 587.7h1.9v1.9h-1.9zM169.8 586.5h1.9v1.9h-1.9zM170.4 585.5h1.9v1.9h-1.9zM168.2 585.8h1.9v1.9h-1.9zM169.1 585.9h1.9v1.9h-1.9zM169.5 586.9h1.9v1.9h-1.9zM169.7 586.1h1.9v1.9h-1.9zM169.4 584.3h1.9v1.9h-1.9zM169.6 584.1h1.9v1.9h-1.9zM170.5 584.7h1.9v1.9h-1.9zM168.7 584.6h1.9v1.9h-1.9zM170 583.9h1.9v1.9h-1.9zM168.8 583.9h1.9v1.9h-1.9zM169.4 583.4h1.9v1.9h-1.9zM167.1 583.4h1.9v1.9h-1.9zM172.5 586.2h1.9v1.9h-1.9zM171.4 584.4h1.9v1.9h-1.9zM171.4 585.5h1.9v1.9h-1.9zM170.5 585.1h1.9v1.9h-1.9zM170.5 583.5h1.9v1.9h-1.9zM171.7 586.6h1.9v1.9h-1.9zM171 586.2h1.9v1.9h-1.9zM169.9 585.9h1.9v1.9h-1.9zM170.1 585.2h1.9v1.9h-1.9zM171.3 588.9h1.9v1.9h-1.9zM173 586.8h1.9v1.9h-1.9zM170.7 589.2h1.9v1.9h-1.9zM170.3 586.5h1.9v1.9h-1.9zM171.7 589.5h1.9v1.9h-1.9zM173.1 585.5h1.9v1.9h-1.9zM169.4 586.6h1.9v1.9h-1.9zM172.8 587.1h1.9v1.9h-1.9zM170.9 589.6h1.9v1.9h-1.9zM170.6 590.2h1.9v1.9h-1.9zM169.8 588.1h1.9v1.9h-1.9zM173.3 587.9h1.9v1.9h-1.9zM172.3 590.2h1.9v1.9h-1.9zM172.9 590h1.9v1.9h-1.9zM172.6 590.5h1.9v1.9h-1.9zM172.4 589.4h1.9v1.9h-1.9zM174.4 589h1.9v1.9h-1.9zM172.5 589.6h1.9v1.9h-1.9zM172.2 591.8h1.9v1.9h-1.9zM170.8 589.2h1.9v1.9h-1.9zM173.1 591.1h1.9v1.9h-1.9zM172.8 591.1h1.9v1.9h-1.9zM173.4 591.1h1.9v1.9h-1.9zM174.1 591.6h1.9v1.9h-1.9zM171.4 590.8h1.9v1.9h-1.9zM173.5 591.2h1.9v1.9h-1.9zM171.3 592.9h1.9v1.9h-1.9zM173.1 593.6h1.9v1.9h-1.9zM174.7 591.3h1.9v1.9h-1.9zM173.7 592.3h1.9v1.9h-1.9zM173 593.9h1.9v1.9h-1.9zM173.5 593.4h1.9v1.9h-1.9zM173.5 594.1h1.9v1.9h-1.9zM170 595.1h1.9v1.9h-1.9zM174.2 594.7h1.9v1.9h-1.9zM173.3 596.3h1.9v1.9h-1.9zM173.2 595.4h1.9v1.9h-1.9zM172.8 592.9h1.9v1.9h-1.9zM173.9 595.7h1.9v1.9h-1.9zM171.6 597h1.9v1.9h-1.9zM174.3 596h1.9v1.9h-1.9zM172.7 594.6h1.9v1.9h-1.9zM173.5 596.4h1.9v1.9h-1.9zM173.4 596.4h1.9v1.9h-1.9zM174.3 596.9h1.9v1.9h-1.9zM174.5 596.8h1.9v1.9h-1.9zM172.1 597.5h1.9v1.9h-1.9zM174.4 598.5h1.9v1.9h-1.9zM174.5 596.4h1.9v1.9h-1.9zM174.7 599.2h1.9v1.9h-1.9zM176.2 598.1h1.9v1.9h-1.9zM174.5 598.4h1.9v1.9h-1.9zM175.5 599.1h1.9v1.9h-1.9zM177.1 599.1h1.9v1.9h-1.9zM174.1 600.5h1.9v1.9h-1.9zM175.3 598.6h1.9v1.9h-1.9zM174.6 599h1.9v1.9h-1.9zM172.9 600.4h1.9v1.9h-1.9zM173.9 600.2h1.9v1.9h-1.9zM175.3 599.5h1.9v1.9h-1.9zM175.5 600.1h1.9v1.9h-1.9zM175 600.3h1.9v1.9h-1.9zM173.6 598.7h1.9v1.9h-1.9zM174.1 600.5h1.9v1.9h-1.9zM177.7 601.2h1.9v1.9h-1.9zM175.3 601.1h1.9v1.9h-1.9zM175.4 600.9h1.9v1.9h-1.9zM174.3 600.1h1.9v1.9h-1.9zM171.4 598.6h1.9v1.9h-1.9zM173.8 601.4h1.9v1.9h-1.9zM176.9 598.4h1.9v1.9h-1.9zM174.7 599.1h1.9v1.9h-1.9zM177.2 597.7h1.9v1.9h-1.9zM174.6 599h1.9v1.9h-1.9zM174.2 597.6h1.9v1.9h-1.9zM174.9 598.3h1.9v1.9h-1.9zM173.4 597.1h1.9v1.9h-1.9zM174.8 596.8h1.9v1.9h-1.9zM176.1 595.9h1.9v1.9h-1.9zM173.4 598h1.9v1.9h-1.9zM174.3 596.1h1.9v1.9h-1.9zM175.7 595.9h1.9v1.9h-1.9zM172.4 596h1.9v1.9h-1.9zM175.6 596.1h1.9v1.9h-1.9zM176.6 596.1h1.9v1.9h-1.9zM175.1 597.3h1.9v1.9h-1.9zM174 591.5h1.9v1.9h-1.9zM175.3 596.1h1.9v1.9h-1.9zM175.2 593.5h1.9v1.9h-1.9zM175.7 596.1h1.9v1.9h-1.9zM175.3 593.1h1.9v1.9h-1.9zM174.5 594.5h1.9v1.9h-1.9zM173.2 595.1h1.9v1.9h-1.9zM173.3 595.9h1.9v1.9h-1.9zM174.3 594.4h1.9v1.9h-1.9zM175.6 590.6h1.9v1.9h-1.9zM175.9 591.8h1.9v1.9h-1.9zM174.6 592.8h1.9v1.9h-1.9zM173.2 591.9h1.9v1.9h-1.9zM175.7 593.1h1.9v1.9h-1.9zM176.5 592.4h1.9v1.9h-1.9zM171.9 592.1h1.9v1.9h-1.9zM174.2 589.1h1.9v1.9h-1.9zM175.9 592.4h1.9v1.9h-1.9zM175.4 590.5h1.9v1.9h-1.9zM174.1 590h1.9v1.9h-1.9zM176.4 590.6h1.9v1.9h-1.9zM175.8 589.6h1.9v1.9h-1.9zM174.9 589.1h1.9v1.9h-1.9zM173.9 591.3h1.9v1.9h-1.9zM173.8 591h1.9v1.9h-1.9zM176.4 587.9h1.9v1.9h-1.9zM176.7 589.7h1.9v1.9h-1.9zM176.7 588.6h1.9v1.9h-1.9zM175.2 588.2h1.9v1.9h-1.9zM175.7 586.6h1.9v1.9h-1.9zM177.2 587.1h1.9v1.9h-1.9zM177.6 589.2h1.9v1.9h-1.9zM173.6 586.3h1.9v1.9h-1.9zM175.1 587.3h1.9v1.9h-1.9zM174.7 587.7h1.9v1.9h-1.9zM175.7 585.3h1.9v1.9h-1.9zM177.2 585.6h1.9v1.9h-1.9zM176.9 588.7h1.9v1.9h-1.9zM176.1 585.5h1.9v1.9h-1.9zM174.1 586.5h1.9v1.9h-1.9zM175.9 585.4h1.9v1.9h-1.9zM177.7 584.1h1.9v1.9h-1.9zM177 586.9h1.9v1.9h-1.9zM177.5 583.8h1.9v1.9h-1.9zM178 584.8h1.9v1.9h-1.9zM178.4 585.6h1.9v1.9h-1.9zM178.1 583.4h1.9v1.9h-1.9zM177 583.1h1.9v1.9h-1.9zM177.4 584.9h1.9v1.9h-1.9zM177.7 586.6h1.9v1.9h-1.9zM179.7 587.4h1.9v1.9h-1.9zM178.2 584.4h1.9v1.9h-1.9zM177.6 585.7h1.9v1.9h-1.9zM177.2 587.1h1.9v1.9h-1.9zM178.2 588.4h1.9v1.9h-1.9zM178.6 588h1.9v1.9h-1.9zM177.1 587.8h1.9v1.9h-1.9zM178.1 588.6h1.9v1.9h-1.9zM175.8 588.9h1.9v1.9h-1.9zM176.3 589.1h1.9v1.9h-1.9zM177.7 586.7h1.9v1.9h-1.9zM178.6 587.7h1.9v1.9h-1.9zM179 589.4h1.9v1.9h-1.9zM178.3 590.5h1.9v1.9h-1.9zM177.4 588.9h1.9v1.9h-1.9zM178.5 590.6h1.9v1.9h-1.9zM178.5 586.3h1.9v1.9h-1.9zM178.6 589.7h1.9v1.9h-1.9zM178.2 588.6h1.9v1.9h-1.9zM177.4 590.4h1.9v1.9h-1.9zM180 590h1.9v1.9h-1.9zM179 590.5h1.9v1.9h-1.9zM180.1 590.1h1.9v1.9h-1.9zM180 593.2h1.9v1.9h-1.9zM180.1 590.8h1.9v1.9h-1.9zM178.9 593.8h1.9v1.9h-1.9zM182.7 592.2h1.9v1.9h-1.9zM179.3 593.8h1.9v1.9h-1.9zM179.4 593.2h1.9v1.9h-1.9zM179.1 592.7h1.9v1.9h-1.9zM177.9 593.5h1.9v1.9h-1.9zM176.8 592.2h1.9v1.9h-1.9zM180.4 594.4h1.9v1.9h-1.9zM181.9 594.6h1.9v1.9h-1.9zM180.1 595h1.9v1.9h-1.9zM178.1 591.7h1.9v1.9h-1.9zM180.5 591.7h1.9v1.9h-1.9zM181.8 594.3h1.9v1.9h-1.9zM180.9 597h1.9v1.9h-1.9zM180.7 595.7h1.9v1.9h-1.9zM179.3 596.9h1.9v1.9h-1.9zM179.9 594.9h1.9v1.9h-1.9zM181.3 596.5h1.9v1.9h-1.9zM179.8 595.4h1.9v1.9h-1.9zM179.1 596h1.9v1.9h-1.9zM178.9 595.6h1.9v1.9h-1.9zM182.3 596.2h1.9v1.9h-1.9zM180.2 598.2h1.9v1.9h-1.9zM181.2 598.1h1.9v1.9h-1.9zM181 596.4h1.9v1.9h-1.9zM182.4 598h1.9v1.9h-1.9zM181.2 598.5h1.9v1.9h-1.9zM183 598.5h1.9v1.9h-1.9zM182.2 596.4h1.9v1.9h-1.9zM180.9 598.3h1.9v1.9h-1.9zM181 598.3h1.9v1.9h-1.9zM181.8 600.3h1.9v1.9h-1.9zM182.1 599.9h1.9v1.9h-1.9zM182.3 599.6h1.9v1.9h-1.9zM183.6 599.6h1.9v1.9h-1.9zM181.9 599.6h1.9v1.9h-1.9zM181.6 599.7h1.9v1.9h-1.9zM180.7 600.6h1.9v1.9h-1.9zM182.5 600.5h1.9v1.9h-1.9zM183.7 601.1h1.9v1.9h-1.9zM180.5 601h1.9v1.9h-1.9zM183.2 602.1h1.9v1.9h-1.9zM182 600.2h1.9v1.9h-1.9zM182.3 602.1h1.9v1.9h-1.9zM184.8 602.9h1.9v1.9h-1.9zM182.5 602.9h1.9v1.9h-1.9zM182.4 603.5h1.9v1.9h-1.9zM182.3 602.8h1.9v1.9h-1.9zM181.1 602.7h1.9v1.9h-1.9zM181.2 603h1.9v1.9h-1.9zM182.9 604.8h1.9v1.9h-1.9zM182.9 602.9h1.9v1.9h-1.9zM183.3 603.4h1.9v1.9h-1.9zM180.5 604.7h1.9v1.9h-1.9zM182.6 603.7h1.9v1.9h-1.9zM182.5 605.5h1.9v1.9h-1.9zM183.2 603.9h1.9v1.9h-1.9zM184.2 603.7h1.9v1.9h-1.9zM184 604.2h1.9v1.9h-1.9zM183 607.4h1.9v1.9h-1.9zM183.1 606.1h1.9v1.9h-1.9zM182.8 606.4h1.9v1.9h-1.9zM184.4 606.8h1.9v1.9h-1.9zM185.3 606.1h1.9v1.9h-1.9zM182.3 607.5h1.9v1.9h-1.9zM182.6 608.1h1.9v1.9h-1.9zM183.7 609.6h1.9v1.9h-1.9zM184.2 606.3h1.9v1.9h-1.9zM182.9 607.4h1.9v1.9h-1.9zM184.3 605.8h1.9v1.9h-1.9zM184.6 608h1.9v1.9h-1.9zM184.8 608h1.9v1.9h-1.9zM185.1 609.5h1.9v1.9h-1.9zM183.9 608.5h1.9v1.9h-1.9zM182.4 606.8h1.9v1.9h-1.9zM184.7 607.2h1.9v1.9h-1.9zM185 610.5h1.9v1.9h-1.9zM184.5 611h1.9v1.9h-1.9zM187.4 607.5h1.9v1.9h-1.9zM184.4 611.8h1.9v1.9h-1.9zM182.2 608.6h1.9v1.9h-1.9zM184.1 611h1.9v1.9h-1.9zM185.3 611.4h1.9v1.9h-1.9zM184.3 611.3h1.9v1.9h-1.9zM184.6 610.8h1.9v1.9h-1.9zM186.7 612.2h1.9v1.9h-1.9zM183.1 612.4h1.9v1.9h-1.9zM184 611.6h1.9v1.9h-1.9zM187.2 613.4h1.9v1.9h-1.9zM184.8 611.8h1.9v1.9h-1.9zM186.7 613.7h1.9v1.9h-1.9zM187 612.3h1.9v1.9h-1.9zM188.6 611.6h1.9v1.9h-1.9zM185.9 614.1h1.9v1.9h-1.9zM184.9 613.9h1.9v1.9h-1.9zM183.4 614.2h1.9v1.9h-1.9zM185.4 616.4h1.9v1.9h-1.9zM185.6 616.6h1.9v1.9h-1.9zM186.2 615h1.9v1.9h-1.9zM187.2 615.4h1.9v1.9h-1.9zM187.6 615.4h1.9v1.9h-1.9zM183.6 616.7h1.9v1.9h-1.9zM184.2 617.1h1.9v1.9h-1.9zM186 614.8h1.9v1.9h-1.9zM186.3 614.6h1.9v1.9h-1.9zM185.1 615.7h1.9v1.9h-1.9zM187 617.8h1.9v1.9h-1.9zM185 616.7h1.9v1.9h-1.9zM187 617h1.9v1.9h-1.9zM187.6 616.5h1.9v1.9h-1.9zM187.6 618.4h1.9v1.9h-1.9zM187 619h1.9v1.9h-1.9zM184.5 618.2h1.9v1.9h-1.9zM186.9 618h1.9v1.9h-1.9zM188.6 616.5h1.9v1.9h-1.9zM186.9 619.1h1.9v1.9h-1.9zM186.4 619h1.9v1.9h-1.9zM187.8 620.1h1.9v1.9h-1.9zM187.2 620.9h1.9v1.9h-1.9zM187.4 621.3h1.9v1.9h-1.9zM186.6 619.5h1.9v1.9h-1.9zM186 617.6h1.9v1.9h-1.9zM187.4 620.3h1.9v1.9h-1.9zM186.7 619.6h1.9v1.9h-1.9zM186.1 621.4h1.9v1.9h-1.9zM188.8 621.5h1.9v1.9h-1.9zM188.9 622.9h1.9v1.9h-1.9zM188.7 622.4h1.9v1.9h-1.9zM187.1 621.6h1.9v1.9h-1.9zM188.5 622.8h1.9v1.9h-1.9zM187 622.6h1.9v1.9h-1.9zM188.3 622.9h1.9v1.9h-1.9zM187.9 622h1.9v1.9h-1.9zM187.7 622.3h1.9v1.9h-1.9zM188.6 621.2h1.9v1.9h-1.9zM188.7 622.5h1.9v1.9h-1.9zM189.1 623.3h1.9v1.9h-1.9zM186.4 622.2h1.9v1.9h-1.9zM188.2 612.3h1.9v1.9h-1.9zM187.7 611h1.9v1.9h-1.9zM188.3 612.9h1.9v1.9h-1.9zM188.5 612.1h1.9v1.9h-1.9zM188.2 611.5h1.9v1.9h-1.9zM189 608.7h1.9v1.9h-1.9zM188 609.3h1.9v1.9h-1.9zM189.4 609.6h1.9v1.9h-1.9zM187.9 610h1.9v1.9h-1.9zM187.7 610.5h1.9v1.9h-1.9zM186.5 607.1h1.9v1.9h-1.9zM187.5 608.6h1.9v1.9h-1.9zM188.4 608.7h1.9v1.9h-1.9zM188.3 608.5h1.9v1.9h-1.9zM190.2 608.2h1.9v1.9h-1.9zM189.6 608.3h1.9v1.9h-1.9zM187.6 607.1h1.9v1.9h-1.9zM188.3 606.4h1.9v1.9h-1.9zM186.3 608.2h1.9v1.9h-1.9zM189.2 607.1h1.9v1.9h-1.9zM188.2 610.9h1.9v1.9h-1.9zM187.8 607.9h1.9v1.9h-1.9zM187.5 606.4h1.9v1.9h-1.9zM187.5 606.7h1.9v1.9h-1.9zM186.5 607h1.9v1.9h-1.9zM188.7 603.3h1.9v1.9h-1.9zM189.3 605.3h1.9v1.9h-1.9zM188.8 603.7h1.9v1.9h-1.9zM187.5 604.3h1.9v1.9h-1.9zM189.8 604.3h1.9v1.9h-1.9zM189 604.5h1.9v1.9h-1.9zM188.1 605h1.9v1.9h-1.9zM188.3 603h1.9v1.9h-1.9zM188.1 605h1.9v1.9h-1.9zM187.6 603.9h1.9v1.9h-1.9zM187 603.6h1.9v1.9h-1.9zM189.4 603.4h1.9v1.9h-1.9zM186.9 602.8h1.9v1.9h-1.9zM187.1 601.8h1.9v1.9h-1.9zM186.3 603.6h1.9v1.9h-1.9zM188.8 601h1.9v1.9h-1.9zM186.8 601.2h1.9v1.9h-1.9zM188.5 602.8h1.9v1.9h-1.9zM187.4 601.6h1.9v1.9h-1.9zM190.1 601.8h1.9v1.9h-1.9zM190.8 600h1.9v1.9h-1.9zM187 600.4h1.9v1.9h-1.9zM188.5 601h1.9v1.9h-1.9zM189.5 599.1h1.9v1.9h-1.9zM187.6 599.1h1.9v1.9h-1.9zM189.8 599.8h1.9v1.9h-1.9zM187.2 598.9h1.9v1.9h-1.9zM187.9 597.1h1.9v1.9h-1.9zM190.9 599.7h1.9v1.9h-1.9zM189.9 599.2h1.9v1.9h-1.9zM187.7 600.4h1.9v1.9h-1.9zM190.1 597.5h1.9v1.9h-1.9zM187.4 597.6h1.9v1.9h-1.9zM190.1 598.2h1.9v1.9h-1.9zM188.8 597.9h1.9v1.9h-1.9zM188.9 598.5h1.9v1.9h-1.9zM190 598h1.9v1.9h-1.9zM188.4 598.5h1.9v1.9h-1.9zM190.3 596.2h1.9v1.9h-1.9zM190.3 595.1h1.9v1.9h-1.9zM190.6 597.1h1.9v1.9h-1.9zM190.6 596h1.9v1.9h-1.9zM189.2 595.2h1.9v1.9h-1.9zM191.1 594.2h1.9v1.9h-1.9zM190.8 595.3h1.9v1.9h-1.9zM190.3 593.3h1.9v1.9h-1.9zM189.4 593h1.9v1.9h-1.9zM192.1 596h1.9v1.9h-1.9zM192.1 594.9h1.9v1.9h-1.9zM190.7 595.8h1.9v1.9h-1.9zM190.6 595.6h1.9v1.9h-1.9zM190.7 594.5h1.9v1.9h-1.9zM189 594.4h1.9v1.9h-1.9zM191.3 594.9h1.9v1.9h-1.9zM193.6 593.1h1.9v1.9h-1.9zM192.9 591.6h1.9v1.9h-1.9zM193.4 594.2h1.9v1.9h-1.9zM194.5 594.4h1.9v1.9h-1.9zM192.1 593.6h1.9v1.9h-1.9zM194.7 593.5h1.9v1.9h-1.9zM191.7 594.2h1.9v1.9h-1.9zM192.7 595.4h1.9v1.9h-1.9zM193 597h1.9v1.9h-1.9zM192.3 595.3h1.9v1.9h-1.9zM192.4 593.2h1.9v1.9h-1.9zM194.5 595.9h1.9v1.9h-1.9zM194.4 594.9h1.9v1.9h-1.9zM193.2 595.3h1.9v1.9h-1.9zM193.9 594.5h1.9v1.9h-1.9zM193.6 597.1h1.9v1.9h-1.9zM197.1 595.4h1.9v1.9h-1.9zM193.4 596.9h1.9v1.9h-1.9zM194.8 599.1h1.9v1.9h-1.9zM197.1 596.7h1.9v1.9h-1.9zM196.1 594.3h1.9v1.9h-1.9zM194.6 596.6h1.9v1.9h-1.9zM194.6 595.5h1.9v1.9h-1.9zM195 597.7h1.9v1.9h-1.9zM196.3 596.8h1.9v1.9h-1.9zM197 596.4h1.9v1.9h-1.9zM196 596.2h1.9v1.9h-1.9zM196.9 593.9h1.9v1.9h-1.9zM196.1 595.9h1.9v1.9h-1.9zM194.7 596.4h1.9v1.9h-1.9zM197.8 593.4h1.9v1.9h-1.9zM195.3 596.2h1.9v1.9h-1.9zM196 594.5h1.9v1.9h-1.9zM198.6 593.3h1.9v1.9h-1.9zM197.7 594.2h1.9v1.9h-1.9zM195.4 594.2h1.9v1.9h-1.9zM196.1 594.2h1.9v1.9h-1.9zM198.6 594.6h1.9v1.9h-1.9zM196.7 593.8h1.9v1.9h-1.9zM198.1 594.5h1.9v1.9h-1.9zM198.5 591.4h1.9v1.9h-1.9zM196.8 591.6h1.9v1.9h-1.9zM197.6 590.5h1.9v1.9h-1.9zM201.2 592.2h1.9v1.9h-1.9zM197.9 591.8h1.9v1.9h-1.9zM198 589.6h1.9v1.9h-1.9zM197.4 592.5h1.9v1.9h-1.9zM200.4 591.6h1.9v1.9h-1.9zM197.6 589h1.9v1.9h-1.9zM196.1 591.1h1.9v1.9h-1.9zM198.7 590.5h1.9v1.9h-1.9zM199.8 590.8h1.9v1.9h-1.9zM195.1 588.4h1.9v1.9h-1.9zM195.8 589.1h1.9v1.9h-1.9zM196.2 588.5h1.9v1.9h-1.9zM194.9 590.5h1.9v1.9h-1.9zM194.7 590.5h1.9v1.9h-1.9zM195.5 590.8h1.9v1.9h-1.9zM196.1 592.1h1.9v1.9h-1.9zM196.6 592.7h1.9v1.9h-1.9zM196.6 593.2h1.9v1.9h-1.9zM195.7 593.3h1.9v1.9h-1.9zM196.4 594.6h1.9v1.9h-1.9zM195.8 595.1h1.9v1.9h-1.9zM196 596.1h1.9v1.9h-1.9zM196.5 596.2h1.9v1.9h-1.9zM196.4 598.4h1.9v1.9h-1.9zM197 598h1.9v1.9h-1.9zM197.5 598.3h1.9v1.9h-1.9zM197 599.6h1.9v1.9h-1.9zM196.5 599.1h1.9v1.9h-1.9zM198.4 600.6h1.9v1.9h-1.9zM197.2 601.1h1.9v1.9h-1.9zM197.5 601.4h1.9v1.9h-1.9zM197.3 602.6h1.9v1.9h-1.9zM198.2 603.4h1.9v1.9h-1.9zM197.4 603.7h1.9v1.9h-1.9zM198 604.6h1.9v1.9h-1.9zM198.8 604.4h1.9v1.9h-1.9zM198.9 606.5h1.9v1.9h-1.9zM197.7 606.3h1.9v1.9h-1.9zM197.6 607.6h1.9v1.9h-1.9zM199.1 607.6h1.9v1.9h-1.9zM197.9 608.8h1.9v1.9h-1.9zM198.9 609.9h1.9v1.9h-1.9zM199.2 609.4h1.9v1.9h-1.9zM198.3 610.3h1.9v1.9h-1.9zM199.9 611.2h1.9v1.9h-1.9zM197.2 595.8h1.9v1.9h-1.9zM199.4 594.9h1.9v1.9h-1.9zM198.5 594.8h1.9v1.9h-1.9zM199.3 594.3h1.9v1.9h-1.9zM201.2 594.6h1.9v1.9h-1.9zM197.8 594.6h1.9v1.9h-1.9zM198.6 594.2h1.9v1.9h-1.9zM200.9 594.6h1.9v1.9h-1.9zM199.3 595.6h1.9v1.9h-1.9zM199.9 594.8h1.9v1.9h-1.9zM201 593.6h1.9v1.9h-1.9zM199.9 592.8h1.9v1.9h-1.9zM201.6 594.3h1.9v1.9h-1.9zM198 594h1.9v1.9h-1.9zM201.6 593.1h1.9v1.9h-1.9zM199.5 592.1h1.9v1.9h-1.9zM200.1 591.6h1.9v1.9h-1.9zM201 592.6h1.9v1.9h-1.9zM201.7 592.3h1.9v1.9h-1.9zM200.7 591h1.9v1.9h-1.9zM200.4 592.6h1.9v1.9h-1.9zM201.2 593.8h1.9v1.9h-1.9zM201.1 590.5h1.9v1.9h-1.9zM199.4 588.5h1.9v1.9h-1.9zM202.2 590.7h1.9v1.9h-1.9zM202.1 590.6h1.9v1.9h-1.9zM202.1 591.1h1.9v1.9h-1.9zM201.8 591.9h1.9v1.9h-1.9zM200.9 590.1h1.9v1.9h-1.9zM200 589h1.9v1.9h-1.9zM201.3 587.2h1.9v1.9h-1.9zM201.5 590.3h1.9v1.9h-1.9zM201 585.6h1.9v1.9h-1.9zM200.1 588h1.9v1.9h-1.9zM201.1 589.5h1.9v1.9h-1.9zM201.3 589.5h1.9v1.9h-1.9zM201.7 589h1.9v1.9h-1.9zM202.6 587.8h1.9v1.9h-1.9zM202.9 586.6h1.9v1.9h-1.9zM203.1 587h1.9v1.9h-1.9zM200.5 589h1.9v1.9h-1.9zM200.6 587.4h1.9v1.9h-1.9zM202.6 585.3h1.9v1.9h-1.9zM202.6 586.5h1.9v1.9h-1.9zM203.7 584.9h1.9v1.9h-1.9zM203.4 582.4h1.9v1.9h-1.9zM203.9 584.5h1.9v1.9h-1.9zM204.1 586.5h1.9v1.9h-1.9zM202.3 585.3h1.9v1.9h-1.9zM204.2 585.1h1.9v1.9h-1.9zM201.3 587.1h1.9v1.9h-1.9zM206.1 585.3h1.9v1.9h-1.9zM202.3 587.9h1.9v1.9h-1.9zM202.6 586.7h1.9v1.9h-1.9zM203.3 585.9h1.9v1.9h-1.9zM203.5 585.9h1.9v1.9h-1.9zM202.1 585.4h1.9v1.9h-1.9zM205.7 587.4h1.9v1.9h-1.9zM202.9 586.8h1.9v1.9h-1.9zM204.4 586h1.9v1.9h-1.9zM204.8 588.5h1.9v1.9h-1.9zM202.9 589.3h1.9v1.9h-1.9zM204.9 589h1.9v1.9h-1.9zM205 586.6h1.9v1.9h-1.9zM204.4 588.8h1.9v1.9h-1.9zM204 589.6h1.9v1.9h-1.9zM205.9 584.3h1.9v1.9h-1.9zM203.7 588.5h1.9v1.9h-1.9zM205.4 587.6h1.9v1.9h-1.9zM205.4 591.2h1.9v1.9h-1.9zM206 588.7h1.9v1.9h-1.9zM206 589.3h1.9v1.9h-1.9zM206.2 591h1.9v1.9h-1.9zM207.1 589.3h1.9v1.9h-1.9zM205.5 591.1h1.9v1.9h-1.9zM204.6 590.8h1.9v1.9h-1.9zM204.1 589.2h1.9v1.9h-1.9zM207.8 592.3h1.9v1.9h-1.9zM208.2 590.7h1.9v1.9h-1.9zM206.1 589.2h1.9v1.9h-1.9zM207.6 590.9h1.9v1.9h-1.9zM204.6 592.5h1.9v1.9h-1.9zM207.7 593.2h1.9v1.9h-1.9zM208.3 592h1.9v1.9h-1.9zM206 593h1.9v1.9h-1.9zM205.1 592.9h1.9v1.9h-1.9zM208.4 593.8h1.9v1.9h-1.9zM204.5 594.5h1.9v1.9h-1.9zM208.1 592.5h1.9v1.9h-1.9zM205.9 597.1h1.9v1.9h-1.9zM209.6 593.9h1.9v1.9h-1.9zM208.8 594.1h1.9v1.9h-1.9zM206.7 592.7h1.9v1.9h-1.9zM207.3 593.8h1.9v1.9h-1.9zM206 596.1h1.9v1.9h-1.9zM207.8 596.5h1.9v1.9h-1.9zM205.8 594.3h1.9v1.9h-1.9zM209 593.3h1.9v1.9h-1.9zM207.2 597.3h1.9v1.9h-1.9zM208.8 595.5h1.9v1.9h-1.9zM208.3 594.7h1.9v1.9h-1.9zM207.2 597.5h1.9v1.9h-1.9zM209.6 593.9h1.9v1.9h-1.9zM209.6 593.9h1.9v1.9h-1.9zM209.8 595.8h1.9v1.9h-1.9zM207.9 594.6h1.9v1.9h-1.9zM208.6 597.1h1.9v1.9h-1.9zM207.5 598.7h1.9v1.9h-1.9zM209.7 597.9h1.9v1.9h-1.9zM210.3 596.5h1.9v1.9h-1.9zM211.5 598.5h1.9v1.9h-1.9zM208.4 597.7h1.9v1.9h-1.9zM209.1 598.3h1.9v1.9h-1.9zM210.8 600.4h1.9v1.9h-1.9zM208.9 597.6h1.9v1.9h-1.9zM208.9 599.7h1.9v1.9h-1.9zM211.8 601.8h1.9v1.9h-1.9zM209.5 601.1h1.9v1.9h-1.9zM209.8 600.1h1.9v1.9h-1.9zM209.7 601.1h1.9v1.9h-1.9zM212.4 602.3h1.9v1.9h-1.9zM210.7 601.7h1.9v1.9h-1.9zM210 603.2h1.9v1.9h-1.9zM211.6 599.9h1.9v1.9h-1.9zM209.3 600.2h1.9v1.9h-1.9zM212.3 602h1.9v1.9h-1.9zM213.1 601.1h1.9v1.9h-1.9zM211.2 601.8h1.9v1.9h-1.9zM209.9 598.5h1.9v1.9h-1.9zM210.9 603.6h1.9v1.9h-1.9zM211.8 602.6h1.9v1.9h-1.9zM212.1 604.6h1.9v1.9h-1.9zM210.3 604.8h1.9v1.9h-1.9zM211.1 604.4h1.9v1.9h-1.9zM210 603h1.9v1.9h-1.9zM210.4 602.6h1.9v1.9h-1.9zM211.3 605h1.9v1.9h-1.9zM211.8 604.7h1.9v1.9h-1.9zM211.1 603.6h1.9v1.9h-1.9zM211.7 604.9h1.9v1.9h-1.9zM212.6 603.7h1.9v1.9h-1.9zM212 607.5h1.9v1.9h-1.9zM211.9 605.3h1.9v1.9h-1.9zM212.4 607.6h1.9v1.9h-1.9zM211.8 605.1h1.9v1.9h-1.9zM210.6 606.4h1.9v1.9h-1.9zM210 608.2h1.9v1.9h-1.9zM210.3 606h1.9v1.9h-1.9zM214.2 605.5h1.9v1.9h-1.9zM211.8 607h1.9v1.9h-1.9zM209.7 609.9h1.9v1.9h-1.9zM211.7 607.8h1.9v1.9h-1.9zM211.3 606.6h1.9v1.9h-1.9zM211.9 606.6h1.9v1.9h-1.9zM212 609.6h1.9v1.9h-1.9zM213.1 609.7h1.9v1.9h-1.9zM211.6 608.9h1.9v1.9h-1.9zM214.1 609.7h1.9v1.9h-1.9zM211 607.7h1.9v1.9h-1.9zM211.9 609.7h1.9v1.9h-1.9zM211.5 609.7h1.9v1.9h-1.9zM213.3 609.6h1.9v1.9h-1.9zM213.3 608.7h1.9v1.9h-1.9zM212.2 612.2h1.9v1.9h-1.9zM213.7 611.2h1.9v1.9h-1.9zM212.7 610.7h1.9v1.9h-1.9zM210.3 610.3h1.9v1.9h-1.9zM215 611h1.9v1.9h-1.9zM213.5 610.8h1.9v1.9h-1.9zM212.4 600.8h1.9v1.9h-1.9zM213.6 600h1.9v1.9h-1.9zM214 599.8h1.9v1.9h-1.9zM212.6 600.4h1.9v1.9h-1.9zM210.9 599.3h1.9v1.9h-1.9zM212.4 599.9h1.9v1.9h-1.9zM213.9 597.3h1.9v1.9h-1.9zM212.9 595.1h1.9v1.9h-1.9zM214.4 597.5h1.9v1.9h-1.9zM215.2 595.5h1.9v1.9h-1.9zM213.8 598.4h1.9v1.9h-1.9zM213.5 595.6h1.9v1.9h-1.9zM214.8 600.6h1.9v1.9h-1.9zM210.5 597.7h1.9v1.9h-1.9zM212 596.7h1.9v1.9h-1.9zM215.5 598.2h1.9v1.9h-1.9zM213.3 596.6h1.9v1.9h-1.9zM212.5 596.9h1.9v1.9h-1.9zM215.9 594.4h1.9v1.9h-1.9zM216.2 594.5h1.9v1.9h-1.9zM213.9 595.9h1.9v1.9h-1.9zM215.6 594.4h1.9v1.9h-1.9zM216.4 594.4h1.9v1.9h-1.9zM215 593h1.9v1.9h-1.9zM215.1 595.8h1.9v1.9h-1.9zM214.4 593.7h1.9v1.9h-1.9zM213.3 595.6h1.9v1.9h-1.9zM214.9 593.9h1.9v1.9h-1.9zM215.2 594.8h1.9v1.9h-1.9zM214.7 594.8h1.9v1.9h-1.9zM214.9 594.4h1.9v1.9h-1.9zM217.2 591.6h1.9v1.9h-1.9zM215.3 591.2h1.9v1.9h-1.9zM213.2 591.6h1.9v1.9h-1.9zM215.7 593.2h1.9v1.9h-1.9zM216.3 592.9h1.9v1.9h-1.9zM214.8 593.4h1.9v1.9h-1.9zM214.4 592.8h1.9v1.9h-1.9zM214.2 590.4h1.9v1.9h-1.9zM214.5 591.5h1.9v1.9h-1.9zM217.1 592h1.9v1.9h-1.9zM215.4 591.4h1.9v1.9h-1.9zM217 589.4h1.9v1.9h-1.9zM217.4 591.1h1.9v1.9h-1.9zM215.2 590.6h1.9v1.9h-1.9zM215.3 588.9h1.9v1.9h-1.9zM217.5 589h1.9v1.9h-1.9zM217.8 587.3h1.9v1.9h-1.9zM217.1 589.7h1.9v1.9h-1.9zM218.2 590.6h1.9v1.9h-1.9zM218.5 588.2h1.9v1.9h-1.9zM217.9 590.8h1.9v1.9h-1.9zM218.7 586.2h1.9v1.9h-1.9zM217.4 588.6h1.9v1.9h-1.9zM217 588.3h1.9v1.9h-1.9zM218.8 589.2h1.9v1.9h-1.9zM219.6 587.8h1.9v1.9h-1.9zM220.2 587.3h1.9v1.9h-1.9zM222.1 588.4h1.9v1.9h-1.9zM220.3 588.1h1.9v1.9h-1.9zM219.6 587.8h1.9v1.9h-1.9zM220.5 587.6h1.9v1.9h-1.9zM218.6 586.8h1.9v1.9h-1.9zM218.1 587h1.9v1.9h-1.9zM222 591.6h1.9v1.9h-1.9zM220.3 588.2h1.9v1.9h-1.9zM221.7 589.1h1.9v1.9h-1.9zM222 589.9h1.9v1.9h-1.9zM222 590h1.9v1.9h-1.9zM222.6 587.8h1.9v1.9h-1.9zM221.4 590.2h1.9v1.9h-1.9zM222.7 590.3h1.9v1.9h-1.9zM222.5 590.2h1.9v1.9h-1.9zM223.2 590h1.9v1.9h-1.9zM222.5 589.9h1.9v1.9h-1.9zM222.7 590.8h1.9v1.9h-1.9zM220.1 590.1h1.9v1.9h-1.9zM223.5 589.8h1.9v1.9h-1.9zM223.3 589.8h1.9v1.9h-1.9zM222.1 591h1.9v1.9h-1.9zM222.4 592.9h1.9v1.9h-1.9zM222.8 592h1.9v1.9h-1.9zM223.5 592h1.9v1.9h-1.9zM221.8 593.8h1.9v1.9h-1.9zM223.1 591.6h1.9v1.9h-1.9zM222.5 592.5h1.9v1.9h-1.9zM225 593.7h1.9v1.9h-1.9zM224 593.3h1.9v1.9h-1.9zM224.3 594.1h1.9v1.9h-1.9zM224.1 592.8h1.9v1.9h-1.9zM222.6 593.6h1.9v1.9h-1.9zM224.7 593.1h1.9v1.9h-1.9zM224.5 592.8h1.9v1.9h-1.9zM225.7 595.5h1.9v1.9h-1.9zM223.5 590.5h1.9v1.9h-1.9zM224.4 596.6h1.9v1.9h-1.9zM225.9 594.3h1.9v1.9h-1.9zM224.3 594.5h1.9v1.9h-1.9zM224.2 596.5h1.9v1.9h-1.9zM224.8 596.1h1.9v1.9h-1.9zM223.4 597.1h1.9v1.9h-1.9zM223.1 595.9h1.9v1.9h-1.9zM222.6 596h1.9v1.9h-1.9zM224.7 595.3h1.9v1.9h-1.9zM225.3 597.1h1.9v1.9h-1.9zM224 598h1.9v1.9h-1.9zM224.7 596.6h1.9v1.9h-1.9zM225.4 599.4h1.9v1.9h-1.9zM225.5 596.9h1.9v1.9h-1.9zM223.5 597.3h1.9v1.9h-1.9zM225 599.6h1.9v1.9h-1.9zM227.8 599.4h1.9v1.9h-1.9zM225.2 601.3h1.9v1.9h-1.9zM226.1 598h1.9v1.9h-1.9zM225.7 600h1.9v1.9h-1.9zM225.6 599.1h1.9v1.9h-1.9zM225.2 600.5h1.9v1.9h-1.9zM223 602.6h1.9v1.9h-1.9zM222.7 601h1.9v1.9h-1.9zM225.3 600.1h1.9v1.9h-1.9zM224.7 601.4h1.9v1.9h-1.9zM225.8 601.6h1.9v1.9h-1.9zM226 603.5h1.9v1.9h-1.9zM224.3 600.7h1.9v1.9h-1.9zM225.1 603.1h1.9v1.9h-1.9zM225.4 601.9h1.9v1.9h-1.9zM226.8 603.8h1.9v1.9h-1.9zM224.9 600.3h1.9v1.9h-1.9zM224.1 603.1h1.9v1.9h-1.9zM227.5 602.8h1.9v1.9h-1.9zM226.7 601.3h1.9v1.9h-1.9zM223.9 602.8h1.9v1.9h-1.9zM226.1 602h1.9v1.9h-1.9zM227.3 604.7h1.9v1.9h-1.9zM224.1 601.4h1.9v1.9h-1.9zM227.6 604.3h1.9v1.9h-1.9zM226.4 604h1.9v1.9h-1.9zM225.3 602.8h1.9v1.9h-1.9zM226.9 603.3h1.9v1.9h-1.9zM225.3 602.9h1.9v1.9h-1.9zM226.3 605.4h1.9v1.9h-1.9zM226.1 604.7h1.9v1.9h-1.9zM226.8 606.1h1.9v1.9h-1.9zM228.4 604.3h1.9v1.9h-1.9zM224.4 606.5h1.9v1.9h-1.9zM226.3 607h1.9v1.9h-1.9zM225.8 606h1.9v1.9h-1.9zM228.5 607.5h1.9v1.9h-1.9zM228.5 607.1h1.9v1.9h-1.9zM227.1 608.3h1.9v1.9h-1.9zM225.4 609.2h1.9v1.9h-1.9zM226.4 607.4h1.9v1.9h-1.9zM226.2 609.5h1.9v1.9h-1.9zM228.2 607.9h1.9v1.9h-1.9zM227.8 606.4h1.9v1.9h-1.9zM227 607.8h1.9v1.9h-1.9zM228.4 610.8h1.9v1.9h-1.9zM227.3 610.7h1.9v1.9h-1.9zM225.6 610.3h1.9v1.9h-1.9zM228 609.4h1.9v1.9h-1.9zM229.1 610.9h1.9v1.9h-1.9zM227.5 611.8h1.9v1.9h-1.9zM227 612.9h1.9v1.9h-1.9zM225.8 609h1.9v1.9h-1.9zM226.9 611.6h1.9v1.9h-1.9zM227 610.4h1.9v1.9h-1.9zM230.9 612.9h1.9v1.9h-1.9zM227.8 611.2h1.9v1.9h-1.9zM227.1 612.1h1.9v1.9h-1.9zM229.2 612.7h1.9v1.9h-1.9zM228.6 609.3h1.9v1.9h-1.9zM228.7 611.9h1.9v1.9h-1.9zM229.6 613.2h1.9v1.9h-1.9zM227.2 613.1h1.9v1.9h-1.9zM227.9 614h1.9v1.9h-1.9zM228.9 613.1h1.9v1.9h-1.9zM229.6 613.5h1.9v1.9h-1.9zM223.6 582h1.9v1.9h-1.9zM224.4 586.5h1.9v1.9h-1.9zM224.6 584.2h1.9v1.9h-1.9zM223.9 585.5h1.9v1.9h-1.9zM222.7 583.7h1.9v1.9h-1.9zM225.3 584.2h1.9v1.9h-1.9zM226.2 585.3h1.9v1.9h-1.9zM224.4 584.3h1.9v1.9h-1.9zM223.6 584.8h1.9v1.9h-1.9zM225.2 584.7h1.9v1.9h-1.9zM224.4 587.1h1.9v1.9h-1.9zM224.4 587.2h1.9v1.9h-1.9zM221.8 585.6h1.9v1.9h-1.9zM226 586.9h1.9v1.9h-1.9zM223.9 588h1.9v1.9h-1.9zM225 587.8h1.9v1.9h-1.9zM226 589.9h1.9v1.9h-1.9zM225.1 588h1.9v1.9h-1.9zM224.8 587.6h1.9v1.9h-1.9zM227.1 587.2h1.9v1.9h-1.9zM226.7 588.7h1.9v1.9h-1.9zM226.6 589.3h1.9v1.9h-1.9zM226.6 586.9h1.9v1.9h-1.9zM227 588.4h1.9v1.9h-1.9zM224.7 588.8h1.9v1.9h-1.9zM225.8 592.6h1.9v1.9h-1.9zM227.5 592.4h1.9v1.9h-1.9zM226.8 592.1h1.9v1.9h-1.9zM226 590.4h1.9v1.9h-1.9zM226.8 589.2h1.9v1.9h-1.9zM230.1 593.7h1.9v1.9h-1.9zM227.7 589.8h1.9v1.9h-1.9zM228.8 592.6h1.9v1.9h-1.9zM229.6 592.3h1.9v1.9h-1.9zM227.2 589.7h1.9v1.9h-1.9zM228.4 591.1h1.9v1.9h-1.9zM226.2 592.6h1.9v1.9h-1.9zM226.1 592.4h1.9v1.9h-1.9zM226.7 589.8h1.9v1.9h-1.9zM225.5 591.3h1.9v1.9h-1.9zM230.1 591.2h1.9v1.9h-1.9zM227.7 591.7h1.9v1.9h-1.9zM227.6 589.1h1.9v1.9h-1.9zM227.6 590.6h1.9v1.9h-1.9zM227.7 588.7h1.9v1.9h-1.9zM227.7 590.9h1.9v1.9h-1.9zM225.5 588.2h1.9v1.9h-1.9zM227.6 588.6h1.9v1.9h-1.9zM229.1 589.8h1.9v1.9h-1.9zM228.9 589.6h1.9v1.9h-1.9zM228.7 587.5h1.9v1.9h-1.9zM228.5 589.1h1.9v1.9h-1.9zM228.7 585.7h1.9v1.9h-1.9zM228.7 587.1h1.9v1.9h-1.9zM228.6 588.4h1.9v1.9h-1.9zM229.1 589h1.9v1.9h-1.9zM227.6 588.7h1.9v1.9h-1.9zM227.5 588.6h1.9v1.9h-1.9zM230.8 587.5h1.9v1.9h-1.9zM228.2 590h1.9v1.9h-1.9zM228.3 588.4h1.9v1.9h-1.9zM230.2 587.5h1.9v1.9h-1.9zM228 590.5h1.9v1.9h-1.9zM227.9 590.8h1.9v1.9h-1.9zM228 591.1h1.9v1.9h-1.9zM232.2 592.7h1.9v1.9h-1.9zM233.7 592h1.9v1.9h-1.9zM230.5 590.5h1.9v1.9h-1.9zM230.4 592.1h1.9v1.9h-1.9zM230 591.8h1.9v1.9h-1.9zM231.5 592.9h1.9v1.9h-1.9zM230.8 590.8h1.9v1.9h-1.9zM231.4 592.2h1.9v1.9h-1.9zM234.4 592.6h1.9v1.9h-1.9zM231 591.7h1.9v1.9h-1.9zM231.5 592.6h1.9v1.9h-1.9zM231.7 592.9h1.9v1.9h-1.9zM231.7 593.6h1.9v1.9h-1.9zM231.8 592.6h1.9v1.9h-1.9zM230.9 594.3h1.9v1.9h-1.9zM230.1 592.8h1.9v1.9h-1.9zM231.5 593.7h1.9v1.9h-1.9zM233.8 594.9h1.9v1.9h-1.9zM231 595h1.9v1.9h-1.9zM233 595.3h1.9v1.9h-1.9zM235 593.4h1.9v1.9h-1.9zM232 596.2h1.9v1.9h-1.9zM234.3 594.1h1.9v1.9h-1.9zM231.9 597.2h1.9v1.9h-1.9zM232.7 596.4h1.9v1.9h-1.9zM234 595.4h1.9v1.9h-1.9zM235.4 595.7h1.9v1.9h-1.9zM230.7 595.8h1.9v1.9h-1.9zM232.1 597.3h1.9v1.9h-1.9zM233.5 597h1.9v1.9h-1.9zM233 597.4h1.9v1.9h-1.9zM232.7 598.3h1.9v1.9h-1.9zM232.6 599.1h1.9v1.9h-1.9zM234.2 596.4h1.9v1.9h-1.9zM230.7 597.1h1.9v1.9h-1.9zM232.8 598.2h1.9v1.9h-1.9zM234.1 598.1h1.9v1.9h-1.9zM234.2 599.4h1.9v1.9h-1.9zM234.2 598.8h1.9v1.9h-1.9zM234.7 597.1h1.9v1.9h-1.9zM232.1 599.9h1.9v1.9h-1.9zM233.6 599.6h1.9v1.9h-1.9zM235.8 600.4h1.9v1.9h-1.9zM233.8 601.4h1.9v1.9h-1.9zM235.3 599.6h1.9v1.9h-1.9zM233.7 600.2h1.9v1.9h-1.9zM234.3 601.4h1.9v1.9h-1.9zM236.5 600.5h1.9v1.9h-1.9zM234.2 601.8h1.9v1.9h-1.9zM236.9 600.3h1.9v1.9h-1.9zM236.8 601.3h1.9v1.9h-1.9zM236.3 599.5h1.9v1.9h-1.9zM239.2 599.9h1.9v1.9h-1.9zM235.1 601.9h1.9v1.9h-1.9zM234.5 602h1.9v1.9h-1.9zM237.7 603.6h1.9v1.9h-1.9zM236.3 601.8h1.9v1.9h-1.9zM235.9 604.7h1.9v1.9h-1.9zM239.1 603.3h1.9v1.9h-1.9zM236.5 602h1.9v1.9h-1.9zM235.8 603.3h1.9v1.9h-1.9zM237.2 603h1.9v1.9h-1.9zM237 603.9h1.9v1.9h-1.9zM239.7 604.9h1.9v1.9h-1.9zM237.7 604.5h1.9v1.9h-1.9zM237.4 603.2h1.9v1.9h-1.9zM239 606.7h1.9v1.9h-1.9zM238.6 605.9h1.9v1.9h-1.9zM236.6 603.5h1.9v1.9h-1.9zM237.2 604.3h1.9v1.9h-1.9zM238.5 606.4h1.9v1.9h-1.9zM236.7 605.5h1.9v1.9h-1.9zM237.1 609.4h1.9v1.9h-1.9zM238.3 603.8h1.9v1.9h-1.9zM238.8 609.4h1.9v1.9h-1.9zM239.8 606.4h1.9v1.9h-1.9zM241.4 605.9h1.9v1.9h-1.9zM239.4 606.9h1.9v1.9h-1.9zM238.9 607.9h1.9v1.9h-1.9zM239.4 607.3h1.9v1.9h-1.9zM238.8 607.9h1.9v1.9h-1.9zM239.5 605.8h1.9v1.9h-1.9zM240 607.9h1.9v1.9h-1.9zM239.9 610.3h1.9v1.9h-1.9zM238.8 608.7h1.9v1.9h-1.9zM238.6 608.3h1.9v1.9h-1.9zM239.2 607.4h1.9v1.9h-1.9zM239.2 610h1.9v1.9h-1.9zM242.4 610.3h1.9v1.9h-1.9zM241.6 609.9h1.9v1.9h-1.9zM238.8 607.6h1.9v1.9h-1.9zM238.2 607.5h1.9v1.9h-1.9zM241.9 610.2h1.9v1.9h-1.9zM239.9 610.8h1.9v1.9h-1.9zM240.2 611.3h1.9v1.9h-1.9zM239.5 610.8h1.9v1.9h-1.9zM242.8 610.2h1.9v1.9h-1.9zM240.2 611.5h1.9v1.9h-1.9zM238.9 611.5h1.9v1.9h-1.9zM241.6 611.4h1.9v1.9h-1.9zM243 612.5h1.9v1.9h-1.9zM241.1 612.8h1.9v1.9h-1.9zM241.1 614h1.9v1.9h-1.9zM242.3 614.7h1.9v1.9h-1.9zM240.9 611.8h1.9v1.9h-1.9zM240.7 614h1.9v1.9h-1.9zM240.8 613.6h1.9v1.9h-1.9zM241.7 612.9h1.9v1.9h-1.9zM240.7 614.4h1.9v1.9h-1.9zM241.6 614.4h1.9v1.9h-1.9zM242.6 613.5h1.9v1.9h-1.9zM242 616.7h1.9v1.9h-1.9zM243.5 613.5h1.9v1.9h-1.9zM242.9 614.7h1.9v1.9h-1.9zM245 616.5h1.9v1.9h-1.9zM242.7 614.5h1.9v1.9h-1.9zM245 615.2h1.9v1.9h-1.9zM243.9 614.9h1.9v1.9h-1.9zM243.5 615.6h1.9v1.9h-1.9zM241 618h1.9v1.9h-1.9zM244.2 616.4h1.9v1.9h-1.9zM243.6 617.6h1.9v1.9h-1.9zM244.7 615.8h1.9v1.9h-1.9zM246.1 616.7h1.9v1.9h-1.9zM244.9 618.2h1.9v1.9h-1.9zM244.5 618.1h1.9v1.9h-1.9zM244.2 619.1h1.9v1.9h-1.9zM246.7 617.6h1.9v1.9h-1.9zM243.9 618.9h1.9v1.9h-1.9zM244 618.7h1.9v1.9h-1.9zM244.6 617.3h1.9v1.9h-1.9zM244.3 619.1h1.9v1.9h-1.9zM245.7 621.9h1.9v1.9h-1.9zM248.6 619.5h1.9v1.9h-1.9zM244.9 617.7h1.9v1.9h-1.9zM244.9 617.7h1.9v1.9h-1.9zM245.8 620h1.9v1.9h-1.9zM247.4 619.5h1.9v1.9h-1.9zM245.3 613.6h1.9v1.9h-1.9zM245.1 616.2h1.9v1.9h-1.9zM246.3 614.3h1.9v1.9h-1.9zM244.5 615.4h1.9v1.9h-1.9zM245.1 614.8h1.9v1.9h-1.9zM245.7 612.1h1.9v1.9h-1.9zM244.4 615.3h1.9v1.9h-1.9zM245.3 613.8h1.9v1.9h-1.9zM245.2 616.4h1.9v1.9h-1.9zM244.8 615.5h1.9v1.9h-1.9zM243.7 612.6h1.9v1.9h-1.9zM245.4 614.4h1.9v1.9h-1.9zM243.2 615.1h1.9v1.9h-1.9zM246.4 614.2h1.9v1.9h-1.9zM245.9 609.5h1.9v1.9h-1.9zM245.7 612.9h1.9v1.9h-1.9zM243.4 611.3h1.9v1.9h-1.9zM244.2 610.5h1.9v1.9h-1.9zM243.1 612.5h1.9v1.9h-1.9zM243.7 611.4h1.9v1.9h-1.9zM247 611.6h1.9v1.9h-1.9zM246 611.5h1.9v1.9h-1.9zM246.2 610.4h1.9v1.9h-1.9zM247.5 609h1.9v1.9h-1.9zM246.5 611.5h1.9v1.9h-1.9zM246 610.1h1.9v1.9h-1.9zM245.5 609.6h1.9v1.9h-1.9zM244.3 607.3h1.9v1.9h-1.9zM245.7 612.2h1.9v1.9h-1.9zM245.4 608.8h1.9v1.9h-1.9zM245.5 609.7h1.9v1.9h-1.9zM245.9 609.8h1.9v1.9h-1.9zM246.8 609.5h1.9v1.9h-1.9zM245.6 606.9h1.9v1.9h-1.9zM247.1 608.7h1.9v1.9h-1.9zM245.2 608.4h1.9v1.9h-1.9zM245.5 605.5h1.9v1.9h-1.9zM247.4 608.1h1.9v1.9h-1.9zM247.2 606.1h1.9v1.9h-1.9zM245.5 607.5h1.9v1.9h-1.9zM244.8 607.2h1.9v1.9h-1.9zM243.4 605.2h1.9v1.9h-1.9zM247 606.9h1.9v1.9h-1.9zM244.8 604.6h1.9v1.9h-1.9zM244.6 603.2h1.9v1.9h-1.9zM245.7 605.2h1.9v1.9h-1.9zM244.7 604.7h1.9v1.9h-1.9zM247.9 605.7h1.9v1.9h-1.9zM245.9 604.5h1.9v1.9h-1.9zM244.8 603.4h1.9v1.9h-1.9zM245.6 605.7h1.9v1.9h-1.9zM245 606.1h1.9v1.9h-1.9zM246.4 604.8h1.9v1.9h-1.9zM245.2 603.3h1.9v1.9h-1.9zM245.1 602.4h1.9v1.9h-1.9zM247.1 602h1.9v1.9h-1.9zM247 601.7h1.9v1.9h-1.9zM246.7 602.7h1.9v1.9h-1.9zM245.4 603.3h1.9v1.9h-1.9zM247.8 600.9h1.9v1.9h-1.9zM248.7 601.2h1.9v1.9h-1.9zM246.2 601.9h1.9v1.9h-1.9zM247 600.8h1.9v1.9h-1.9zM248.2 603.5h1.9v1.9h-1.9zM249.2 602.9h1.9v1.9h-1.9zM246.8 598.8h1.9v1.9h-1.9zM248.1 599.9h1.9v1.9h-1.9zM247.3 599.5h1.9v1.9h-1.9zM247.5 598.8h1.9v1.9h-1.9zM247.1 600.5h1.9v1.9h-1.9zM248.5 600.9h1.9v1.9h-1.9zM250 600.1h1.9v1.9h-1.9zM248.8 597.4h1.9v1.9h-1.9zM248.5 598.5h1.9v1.9h-1.9zM251.2 600h1.9v1.9h-1.9zM250.9 598.4h1.9v1.9h-1.9zM249.6 598.5h1.9v1.9h-1.9zM250.5 597.3h1.9v1.9h-1.9zM248.4 599.6h1.9v1.9h-1.9zM252.6 598.7h1.9v1.9h-1.9zM252.1 598.3h1.9v1.9h-1.9zM252.8 599.6h1.9v1.9h-1.9zM251.6 598h1.9v1.9h-1.9zM250.5 597.4h1.9v1.9h-1.9zM251 600.6h1.9v1.9h-1.9zM248.9 599.2h1.9v1.9h-1.9zM248.2 599.4h1.9v1.9h-1.9zM250.3 599.9h1.9v1.9h-1.9zM251.6 597.9h1.9v1.9h-1.9zM250.9 599.7h1.9v1.9h-1.9zM251.4 600.8h1.9v1.9h-1.9zM254.2 599.6h1.9v1.9h-1.9zM251.9 601.5h1.9v1.9h-1.9zM251.6 601.2h1.9v1.9h-1.9zM252.5 600.2h1.9v1.9h-1.9zM252.1 599.7h1.9v1.9h-1.9zM249.9 601.3h1.9v1.9h-1.9zM251.6 601.8h1.9v1.9h-1.9zM251.1 603.7h1.9v1.9h-1.9zM252.9 602.5h1.9v1.9h-1.9zM252.8 602.6h1.9v1.9h-1.9zM252.6 601.5h1.9v1.9h-1.9zM252.3 603.1h1.9v1.9h-1.9zM252.5 603.2h1.9v1.9h-1.9zM254.2 602.6h1.9v1.9h-1.9zM254.5 602.6h1.9v1.9h-1.9zM253.9 601.4h1.9v1.9h-1.9zM254.4 603.4h1.9v1.9h-1.9zM255.9 604.8h1.9v1.9h-1.9zM251.6 603.7h1.9v1.9h-1.9zM253.8 606.3h1.9v1.9h-1.9zM255.3 605h1.9v1.9h-1.9zM253.5 602.6h1.9v1.9h-1.9zM253.5 605.4h1.9v1.9h-1.9zM254.3 602h1.9v1.9h-1.9zM254.3 605.3h1.9v1.9h-1.9zM255 606.7h1.9v1.9h-1.9zM253.9 606.5h1.9v1.9h-1.9zM255.1 606.6h1.9v1.9h-1.9zM253.8 605.2h1.9v1.9h-1.9zM254.9 606.4h1.9v1.9h-1.9zM253.6 607.2h1.9v1.9h-1.9zM254.8 608.5h1.9v1.9h-1.9zM254.8 606.4h1.9v1.9h-1.9zM254.3 607.7h1.9v1.9h-1.9zM252.6 605.7h1.9v1.9h-1.9zM255.3 607.8h1.9v1.9h-1.9zM253.1 607h1.9v1.9h-1.9zM255.8 608.1h1.9v1.9h-1.9zM253.7 609.5h1.9v1.9h-1.9zM255.4 607.5h1.9v1.9h-1.9zM256.9 608.1h1.9v1.9h-1.9zM257 609.1h1.9v1.9h-1.9zM256.4 609.3h1.9v1.9h-1.9zM255.5 610.4h1.9v1.9h-1.9zM253.6 610.8h1.9v1.9h-1.9zM254.4 609.6h1.9v1.9h-1.9zM258.9 610.3h1.9v1.9h-1.9zM255.8 612h1.9v1.9h-1.9zM257.6 611.5h1.9v1.9h-1.9zM257.9 612.5h1.9v1.9h-1.9zM254.2 612.5h1.9v1.9h-1.9zM257.2 610.3h1.9v1.9h-1.9zM256.7 613.3h1.9v1.9h-1.9zM256.7 612.4h1.9v1.9h-1.9zM259.3 612.1h1.9v1.9h-1.9zM256.8 611.2h1.9v1.9h-1.9zM258.1 612.2h1.9v1.9h-1.9zM257.3 613.6h1.9v1.9h-1.9zM257.6 612.9h1.9v1.9h-1.9zM257.9 615.3h1.9v1.9h-1.9zM258.1 614.3h1.9v1.9h-1.9zM257.9 613h1.9v1.9h-1.9zM255.9 612.9h1.9v1.9h-1.9zM259.7 615.1h1.9v1.9h-1.9zM257.4 613.1h1.9v1.9h-1.9zM259.5 613.5h1.9v1.9h-1.9zM260 613.2h1.9v1.9h-1.9zM258.1 615.3h1.9v1.9h-1.9zM258.9 615h1.9v1.9h-1.9zM260.2 616.2h1.9v1.9h-1.9zM259 617h1.9v1.9h-1.9zM259.3 615.6h1.9v1.9h-1.9zM259.3 616.2h1.9v1.9h-1.9zM257.5 616.1h1.9v1.9h-1.9zM259.6 618.9h1.9v1.9h-1.9zM259.3 615.9h1.9v1.9h-1.9zM258.3 615.9h1.9v1.9h-1.9zM259 616.1h1.9v1.9h-1.9zM259.1 617.8h1.9v1.9h-1.9zM258.3 616.8h1.9v1.9h-1.9zM257.6 618.9h1.9v1.9h-1.9zM259.9 617.5h1.9v1.9h-1.9zM260.9 618.8h1.9v1.9h-1.9zM259.4 618.8h1.9v1.9h-1.9zM258.4 617.1h1.9v1.9h-1.9zM258.8 620.5h1.9v1.9h-1.9zM261.5 620.6h1.9v1.9h-1.9zM258.8 618.2h1.9v1.9h-1.9zM259.8 617.9h1.9v1.9h-1.9zM259.7 620.2h1.9v1.9h-1.9zM259 618.9h1.9v1.9h-1.9zM260.8 619.1h1.9v1.9h-1.9zM259.7 620.3h1.9v1.9h-1.9zM258.7 620.2h1.9v1.9h-1.9zM260.6 621.4h1.9v1.9h-1.9zM261.2 619.9h1.9v1.9h-1.9zM260 622.4h1.9v1.9h-1.9zM261.9 619.3h1.9v1.9h-1.9zM259.6 619.7h1.9v1.9h-1.9zM262 622.3h1.9v1.9h-1.9zM261.5 620.9h1.9v1.9h-1.9zM260.1 625.5h1.9v1.9h-1.9zM260.8 623.2h1.9v1.9h-1.9zM262.7 623.1h1.9v1.9h-1.9zM262.8 625.9h1.9v1.9h-1.9zM262.7 622.2h1.9v1.9h-1.9zM260.9 623.5h1.9v1.9h-1.9zM261.9 623.5h1.9v1.9h-1.9zM262.5 623.8h1.9v1.9h-1.9zM264 622.8h1.9v1.9h-1.9zM264.5 621.1h1.9v1.9h-1.9zM263.3 620h1.9v1.9h-1.9zM264.1 621.1h1.9v1.9h-1.9zM265.3 620.4h1.9v1.9h-1.9zM265.8 621.9h1.9v1.9h-1.9zM263.6 619.6h1.9v1.9h-1.9zM264.1 619.1h1.9v1.9h-1.9zM263 619.9h1.9v1.9h-1.9zM264.8 617.7h1.9v1.9h-1.9zM262.7 621.6h1.9v1.9h-1.9zM265.1 617.8h1.9v1.9h-1.9zM264 617.9h1.9v1.9h-1.9zM262.6 617.9h1.9v1.9h-1.9zM264.3 617.4h1.9v1.9h-1.9zM265.9 618.6h1.9v1.9h-1.9zM264 619.1h1.9v1.9h-1.9zM263.7 619h1.9v1.9h-1.9zM262.4 617.5h1.9v1.9h-1.9zM264.5 616.3h1.9v1.9h-1.9zM265.3 616.6h1.9v1.9h-1.9zM263.4 615.6h1.9v1.9h-1.9zM263 617.7h1.9v1.9h-1.9zM266.3 615.6h1.9v1.9h-1.9zM264.2 616.5h1.9v1.9h-1.9zM264.3 614.5h1.9v1.9h-1.9zM264.4 615.7h1.9v1.9h-1.9zM265.4 615.7h1.9v1.9h-1.9zM268.2 616.7h1.9v1.9h-1.9zM262.6 616.1h1.9v1.9h-1.9zM263 616h1.9v1.9h-1.9zM265.7 614.8h1.9v1.9h-1.9zM264.8 612.9h1.9v1.9h-1.9zM264.8 614.6h1.9v1.9h-1.9zM266 612.8h1.9v1.9h-1.9zM263.7 613.3h1.9v1.9h-1.9zM265.4 612.8h1.9v1.9h-1.9zM264.9 614.2h1.9v1.9h-1.9zM264.4 612.8h1.9v1.9h-1.9zM265 613.1h1.9v1.9h-1.9zM265.2 612.3h1.9v1.9h-1.9zM265.7 612.6h1.9v1.9h-1.9zM265.6 611.4h1.9v1.9h-1.9zM264.2 612.8h1.9v1.9h-1.9zM264.8 610.3h1.9v1.9h-1.9zM264.8 611.3h1.9v1.9h-1.9zM268.6 612.2h1.9v1.9h-1.9zM263.5 610.6h1.9v1.9h-1.9zM266.5 611.8h1.9v1.9h-1.9zM265.6 608.8h1.9v1.9h-1.9zM268.6 608.9h1.9v1.9h-1.9zM266 610.5h1.9v1.9h-1.9zM264.9 609.8h1.9v1.9h-1.9zM264.7 609.3h1.9v1.9h-1.9zM266.2 609.6h1.9v1.9h-1.9zM266.6 609.1h1.9v1.9h-1.9zM264.3 609.5h1.9v1.9h-1.9zM267.8 609.3h1.9v1.9h-1.9zM266.2 606.3h1.9v1.9h-1.9zM265.2 608.1h1.9v1.9h-1.9zM266.3 608.6h1.9v1.9h-1.9zM263.2 604.3h1.9v1.9h-1.9zM266.3 609.5h1.9v1.9h-1.9zM267.6 605.8h1.9v1.9h-1.9zM265.5 608.4h1.9v1.9h-1.9zM266.3 604.4h1.9v1.9h-1.9zM267.2 603h1.9v1.9h-1.9zM266.2 604.8h1.9v1.9h-1.9zM266 606.3h1.9v1.9h-1.9zM264.7 607h1.9v1.9h-1.9zM268.2 607.2h1.9v1.9h-1.9zM266.5 604.5h1.9v1.9h-1.9zM267 603.3h1.9v1.9h-1.9zM266.5 606h1.9v1.9h-1.9zM265.6 603.9h1.9v1.9h-1.9zM266.2 604.2h1.9v1.9h-1.9zM265.7 605.6h1.9v1.9h-1.9zM265.9 601.2h1.9v1.9h-1.9zM265.6 604.1h1.9v1.9h-1.9zM265.7 605.5h1.9v1.9h-1.9zM267.2 601.4h1.9v1.9h-1.9zM266.9 604.5h1.9v1.9h-1.9zM268.2 601.6h1.9v1.9h-1.9zM268.4 602.8h1.9v1.9h-1.9zM267.3 602.3h1.9v1.9h-1.9zM268.2 602.7h1.9v1.9h-1.9zM266.4 598.4h1.9v1.9h-1.9zM269.1 601.1h1.9v1.9h-1.9zM269.1 600.4h1.9v1.9h-1.9zM268 602.6h1.9v1.9h-1.9zM265.8 602.2h1.9v1.9h-1.9zM267.9 600.7h1.9v1.9h-1.9zM269.5 601.3h1.9v1.9h-1.9zM267.1 599.4h1.9v1.9h-1.9zM269.2 598.1h1.9v1.9h-1.9zM268.2 598.7h1.9v1.9h-1.9zM267.4 597.8h1.9v1.9h-1.9zM268.9 599.3h1.9v1.9h-1.9zM267 599.4h1.9v1.9h-1.9zM268.8 599.6h1.9v1.9h-1.9zM268.8 600h1.9v1.9h-1.9zM269.2 598h1.9v1.9h-1.9zM268.1 598.3h1.9v1.9h-1.9zM268.7 598.3h1.9v1.9h-1.9zM269.3 596.6h1.9v1.9h-1.9zM269.1 598.4h1.9v1.9h-1.9zM270.3 599.4h1.9v1.9h-1.9zM270.5 599.3h1.9v1.9h-1.9zM267.7 597.5h1.9v1.9h-1.9zM270.5 599.7h1.9v1.9h-1.9zM268.3 600.4h1.9v1.9h-1.9zM271 600.8h1.9v1.9h-1.9zM273 602.1h1.9v1.9h-1.9zM269.1 600.6h1.9v1.9h-1.9zM271.1 601.1h1.9v1.9h-1.9zM270 600.4h1.9v1.9h-1.9zM271 601.1h1.9v1.9h-1.9zM271.9 602.2h1.9v1.9h-1.9zM270.4 601.9h1.9v1.9h-1.9zM270.9 601.7h1.9v1.9h-1.9zM271.1 603.6h1.9v1.9h-1.9zM269.4 601.3h1.9v1.9h-1.9zM272.7 605h1.9v1.9h-1.9zM272.4 602.1h1.9v1.9h-1.9zM270.9 604.6h1.9v1.9h-1.9zM272.3 604.1h1.9v1.9h-1.9zM272.1 602.4h1.9v1.9h-1.9zM269.9 603.2h1.9v1.9h-1.9zM270.5 601.7h1.9v1.9h-1.9zM273.2 602.2h1.9v1.9h-1.9zM274.4 604.9h1.9v1.9h-1.9zM274.5 602.8h1.9v1.9h-1.9zM273.4 602.2h1.9v1.9h-1.9zM272.4 604.7h1.9v1.9h-1.9zM274.2 605.7h1.9v1.9h-1.9zM273.4 602.1h1.9v1.9h-1.9zM272.2 603.3h1.9v1.9h-1.9zM273.2 605.5h1.9v1.9h-1.9zM272.7 605.5h1.9v1.9h-1.9zM273.4 606.8h1.9v1.9h-1.9zM273.4 605.5h1.9v1.9h-1.9zM275.9 604.7h1.9v1.9h-1.9zM274.2 605.6h1.9v1.9h-1.9zM272 604.3h1.9v1.9h-1.9zM277.1 608.3h1.9v1.9h-1.9zM275.9 607.4h1.9v1.9h-1.9zM276.1 608.8h1.9v1.9h-1.9zM273.3 608.4h1.9v1.9h-1.9zM274.8 607.2h1.9v1.9h-1.9zM274.8 607h1.9v1.9h-1.9zM275 608.3h1.9v1.9h-1.9zM276.4 608.4h1.9v1.9h-1.9zM276.1 606.8h1.9v1.9h-1.9zM278.9 607.4h1.9v1.9h-1.9zM277.9 608.5h1.9v1.9h-1.9zM276.3 607.6h1.9v1.9h-1.9zM276.6 609.4h1.9v1.9h-1.9zM276.7 608.2h1.9v1.9h-1.9zM275.3 608h1.9v1.9h-1.9zM278.6 609.4h1.9v1.9h-1.9zM276.6 608.1h1.9v1.9h-1.9zM275.6 610.5h1.9v1.9h-1.9zM276.4 610.7h1.9v1.9h-1.9zM279.5 609.8h1.9v1.9h-1.9zM276.2 610.4h1.9v1.9h-1.9zM278.9 610.3h1.9v1.9h-1.9zM278.1 611.1h1.9v1.9h-1.9zM275.8 611.5h1.9v1.9h-1.9zM278.8 610.4h1.9v1.9h-1.9zM278.5 611.2h1.9v1.9h-1.9zM276.2 611.5h1.9v1.9h-1.9zM280.5 610.9h1.9v1.9h-1.9zM280.5 611.4h1.9v1.9h-1.9zM278.1 612.3h1.9v1.9h-1.9zM276.2 611.4h1.9v1.9h-1.9zM278.9 612.8h1.9v1.9h-1.9zM281 612.1h1.9v1.9h-1.9zM279.4 611h1.9v1.9h-1.9zM279.8 612.6h1.9v1.9h-1.9zM277.5 613.5h1.9v1.9h-1.9zM279 612.6h1.9v1.9h-1.9zM280.9 612.5h1.9v1.9h-1.9zM281.1 611.6h1.9v1.9h-1.9zM280.9 611.5h1.9v1.9h-1.9zM281.4 614.3h1.9v1.9h-1.9zM279.4 616.4h1.9v1.9h-1.9zM282.2 612.7h1.9v1.9h-1.9zM282.3 614.6h1.9v1.9h-1.9zM281.1 616.1h1.9v1.9h-1.9zM282.3 613.9h1.9v1.9h-1.9zM280.8 614.7h1.9v1.9h-1.9zM283.4 615.1h1.9v1.9h-1.9zM284.9 616.3h1.9v1.9h-1.9zM281.3 616.8h1.9v1.9h-1.9zM281 614.2h1.9v1.9h-1.9zM282.4 615.7h1.9v1.9h-1.9zM282.7 617.3h1.9v1.9h-1.9zM282.4 615.2h1.9v1.9h-1.9zM283 614.6h1.9v1.9h-1.9zM282.5 613.9h1.9v1.9h-1.9zM280.5 617.2h1.9v1.9h-1.9zM284.6 616.9h1.9v1.9h-1.9zM285.4 617.6h1.9v1.9h-1.9zM285.1 617.4h1.9v1.9h-1.9zM286.4 617.4h1.9v1.9h-1.9zM282.8 616.1h1.9v1.9h-1.9zM283.9 617.8h1.9v1.9h-1.9zM284.6 619.3h1.9v1.9h-1.9zM285.5 616.5h1.9v1.9h-1.9zM284.3 619h1.9v1.9h-1.9zM285.9 615.7h1.9v1.9h-1.9zM285 618h1.9v1.9h-1.9zM284.5 619.7h1.9v1.9h-1.9zM284.9 619.9h1.9v1.9h-1.9zM285.5 619.3h1.9v1.9h-1.9zM284.3 621.3h1.9v1.9h-1.9zM287.6 620.4h1.9v1.9h-1.9zM286.7 621.2h1.9v1.9h-1.9zM287.2 620.6h1.9v1.9h-1.9zM285.3 621.3h1.9v1.9h-1.9zM287.9 621.2h1.9v1.9h-1.9zM286.2 619.6h1.9v1.9h-1.9zM289.3 621.3h1.9v1.9h-1.9zM285.8 621h1.9v1.9h-1.9zM287.1 620.2h1.9v1.9h-1.9zM289 620.8h1.9v1.9h-1.9zM287.3 621.4h1.9v1.9h-1.9zM286.9 621.9h1.9v1.9h-1.9zM285.4 622.5h1.9v1.9h-1.9zM286.2 622.5h1.9v1.9h-1.9zM289 622.2h1.9v1.9h-1.9zM289 621.1h1.9v1.9h-1.9zM288.9 623.2h1.9v1.9h-1.9zM287.9 623.3h1.9v1.9h-1.9zM286.4 621.7h1.9v1.9h-1.9zM289.4 620.6h1.9v1.9h-1.9zM290.4 623.8h1.9v1.9h-1.9zM287.9 623.1h1.9v1.9h-1.9zM289.1 623.8h1.9v1.9h-1.9zM289.4 619.3h1.9v1.9h-1.9zM288.8 618.2h1.9v1.9h-1.9zM289.5 616h1.9v1.9h-1.9zM289.1 617.4h1.9v1.9h-1.9zM287.9 616h1.9v1.9h-1.9zM289.5 614.9h1.9v1.9h-1.9zM287.2 618h1.9v1.9h-1.9zM290.2 617.6h1.9v1.9h-1.9zM290.4 618.1h1.9v1.9h-1.9zM290.7 617.8h1.9v1.9h-1.9zM289.4 615.1h1.9v1.9h-1.9zM288.6 613.7h1.9v1.9h-1.9zM289.2 613.7h1.9v1.9h-1.9zM291.4 615.3h1.9v1.9h-1.9zM289.4 615.4h1.9v1.9h-1.9zM289.2 613.4h1.9v1.9h-1.9zM289.9 614.5h1.9v1.9h-1.9zM290.1 613.6h1.9v1.9h-1.9zM290 615.4h1.9v1.9h-1.9zM289.3 613.1h1.9v1.9h-1.9zM288.8 612.3h1.9v1.9h-1.9zM288.2 613.7h1.9v1.9h-1.9zM289.9 613.5h1.9v1.9h-1.9zM288.5 612h1.9v1.9h-1.9zM289.4 611.9h1.9v1.9h-1.9zM290.5 613.8h1.9v1.9h-1.9zM288.9 610.9h1.9v1.9h-1.9zM290.8 610.8h1.9v1.9h-1.9zM289.7 612.4h1.9v1.9h-1.9zM290.5 612.1h1.9v1.9h-1.9zM290 610.3h1.9v1.9h-1.9zM289.4 611.6h1.9v1.9h-1.9zM289.8 611.1h1.9v1.9h-1.9zM289.5 609.5h1.9v1.9h-1.9zM292.3 611.1h1.9v1.9h-1.9zM289.5 607.4h1.9v1.9h-1.9zM290.9 609.7h1.9v1.9h-1.9zM288.4 608.5h1.9v1.9h-1.9zM292 609.4h1.9v1.9h-1.9zM287.3 607.5h1.9v1.9h-1.9zM290 608.5h1.9v1.9h-1.9zM289.1 609.6h1.9v1.9h-1.9zM289 608.5h1.9v1.9h-1.9zM289.1 607.3h1.9v1.9h-1.9zM290.9 607.9h1.9v1.9h-1.9zM291.3 606.1h1.9v1.9h-1.9zM290 607.4h1.9v1.9h-1.9zM290.6 606.4h1.9v1.9h-1.9zM291.1 608h1.9v1.9h-1.9zM290.1 607.1h1.9v1.9h-1.9zM290.2 606.9h1.9v1.9h-1.9zM292.5 605.5h1.9v1.9h-1.9zM291.7 605.6h1.9v1.9h-1.9zM291.7 605.8h1.9v1.9h-1.9zM289.5 606h1.9v1.9h-1.9zM289.1 603.4h1.9v1.9h-1.9zM290.3 604.7h1.9v1.9h-1.9zM289 603.1h1.9v1.9h-1.9zM291.5 605.2h1.9v1.9h-1.9zM290.7 603.3h1.9v1.9h-1.9zM289.6 604h1.9v1.9h-1.9zM290.5 603.9h1.9v1.9h-1.9zM291.2 604.5h1.9v1.9h-1.9zM291.1 603.3h1.9v1.9h-1.9zM292.6 602.5h1.9v1.9h-1.9zM291.5 604.5h1.9v1.9h-1.9zM291.9 600.1h1.9v1.9h-1.9zM292.1 601.3h1.9v1.9h-1.9zM291.4 603.1h1.9v1.9h-1.9zM290.3 602.7h1.9v1.9h-1.9zM290.7 603.1h1.9v1.9h-1.9zM291.3 601.2h1.9v1.9h-1.9zM292.2 601.9h1.9v1.9h-1.9zM293.7 602h1.9v1.9h-1.9zM293 601.1h1.9v1.9h-1.9zM291.3 601.3h1.9v1.9h-1.9zM292.8 603.7h1.9v1.9h-1.9zM295.1 602h1.9v1.9h-1.9zM292.3 598.1h1.9v1.9h-1.9zM291.7 601.7h1.9v1.9h-1.9zM294.6 601.5h1.9v1.9h-1.9zM294.7 599.6h1.9v1.9h-1.9zM293 600.8h1.9v1.9h-1.9zM293.1 598.7h1.9v1.9h-1.9zM293.7 600.2h1.9v1.9h-1.9zM294.9 600.3h1.9v1.9h-1.9zM295.3 599.9h1.9v1.9h-1.9zM295 600.3h1.9v1.9h-1.9zM295.1 599.7h1.9v1.9h-1.9zM295.5 601.8h1.9v1.9h-1.9zM293.9 602.4h1.9v1.9h-1.9zM296.1 600.7h1.9v1.9h-1.9zM295.6 603.5h1.9v1.9h-1.9zM295.6 601.4h1.9v1.9h-1.9zM295.8 602h1.9v1.9h-1.9zM296 602.8h1.9v1.9h-1.9zM296.3 602.9h1.9v1.9h-1.9zM295.7 603h1.9v1.9h-1.9zM297.6 602.2h1.9v1.9h-1.9zM296.5 602.4h1.9v1.9h-1.9zM297.3 604.2h1.9v1.9h-1.9zM295.5 602.5h1.9v1.9h-1.9zM297.2 603.7h1.9v1.9h-1.9zM295.5 604.1h1.9v1.9h-1.9zM295.2 603.9h1.9v1.9h-1.9zM296.7 604.6h1.9v1.9h-1.9zM297.6 603.2h1.9v1.9h-1.9zM298.4 605.4h1.9v1.9h-1.9zM296.9 604.8h1.9v1.9h-1.9zM296.1 606.9h1.9v1.9h-1.9zM296.4 603.9h1.9v1.9h-1.9zM296.9 604.3h1.9v1.9h-1.9zM298.8 604.2h1.9v1.9h-1.9zM296.6 605.9h1.9v1.9h-1.9zM297.6 606h1.9v1.9h-1.9zM298.1 606.8h1.9v1.9h-1.9zM299.1 607.7h1.9v1.9h-1.9zM298.9 607.6h1.9v1.9h-1.9zM298.1 607.5h1.9v1.9h-1.9zM297.5 604.9h1.9v1.9h-1.9zM297.8 608.1h1.9v1.9h-1.9zM299.5 608.4h1.9v1.9h-1.9zM300.5 606.7h1.9v1.9h-1.9zM299.7 606.7h1.9v1.9h-1.9zM300.1 608.6h1.9v1.9h-1.9zM298.6 609.4h1.9v1.9h-1.9zM300.4 607.8h1.9v1.9h-1.9zM299.3 608.5h1.9v1.9h-1.9zM297.3 608.9h1.9v1.9h-1.9zM298.3 610.4h1.9v1.9h-1.9zM301 610.1h1.9v1.9h-1.9zM298.3 610.5h1.9v1.9h-1.9zM298.9 609h1.9v1.9h-1.9zM298.1 611.1h1.9v1.9h-1.9zM300.2 610.7h1.9v1.9h-1.9zM300.3 611.4h1.9v1.9h-1.9zM299.1 611.8h1.9v1.9h-1.9zM301.2 613.4h1.9v1.9h-1.9zM299.8 611.1h1.9v1.9h-1.9zM301.4 610.8h1.9v1.9h-1.9zM301 611.4h1.9v1.9h-1.9zM300 611.4h1.9v1.9h-1.9zM300.2 610h1.9v1.9h-1.9zM302 612.4h1.9v1.9h-1.9zM302.1 614.2h1.9v1.9h-1.9zM301.9 612.7h1.9v1.9h-1.9zM300.4 614.4h1.9v1.9h-1.9zM301.3 614.5h1.9v1.9h-1.9zM300.4 614.9h1.9v1.9h-1.9zM299.8 613.9h1.9v1.9h-1.9zM299.3 613.9h1.9v1.9h-1.9zM303.7 615h1.9v1.9h-1.9zM303.3 615.3h1.9v1.9h-1.9zM300.5 613.4h1.9v1.9h-1.9zM301 614.8h1.9v1.9h-1.9zM299.9 616.2h1.9v1.9h-1.9zM301.4 615.9h1.9v1.9h-1.9zM301 616.8h1.9v1.9h-1.9zM302.7 616.3h1.9v1.9h-1.9zM301.7 616.4h1.9v1.9h-1.9zM302.1 616.7h1.9v1.9h-1.9zM303.1 618.3h1.9v1.9h-1.9zM303.7 617.2h1.9v1.9h-1.9zM302.6 618.6h1.9v1.9h-1.9zM302.9 618.8h1.9v1.9h-1.9zM302.9 616.3h1.9v1.9h-1.9zM302.8 618h1.9v1.9h-1.9zM302.8 616.4h1.9v1.9h-1.9zM303.1 618.6h1.9v1.9h-1.9zM305.4 618.9h1.9v1.9h-1.9zM303 617.6h1.9v1.9h-1.9zM302.6 617.8h1.9v1.9h-1.9zM304.3 618.4h1.9v1.9h-1.9zM304.2 619.8h1.9v1.9h-1.9zM303.7 619.3h1.9v1.9h-1.9zM302.7 618.7h1.9v1.9h-1.9zM303.5 621.2h1.9v1.9h-1.9zM304 620h1.9v1.9h-1.9zM304.1 620.9h1.9v1.9h-1.9zM303.4 621.6h1.9v1.9h-1.9zM304.5 622.9h1.9v1.9h-1.9zM304.6 621.6h1.9v1.9h-1.9zM306 620.7h1.9v1.9h-1.9zM306.3 620.1h1.9v1.9h-1.9zM303.8 622.7h1.9v1.9h-1.9zM306.4 621h1.9v1.9h-1.9zM136.5 620.5h1.9v1.9h-1.9zM135.4 619.3h1.9v1.9h-1.9zM136.1 619.8h1.9v1.9h-1.9zM137.4 620.6h1.9v1.9h-1.9zM134.6 618.6h1.9v1.9h-1.9zM137.5 617.8h1.9v1.9h-1.9zM136.1 620.4h1.9v1.9h-1.9zM137.8 620.4h1.9v1.9h-1.9zM139 622.6h1.9v1.9h-1.9zM141.4 619.9h1.9v1.9h-1.9zM139.2 622.5h1.9v1.9h-1.9zM140.7 621.4h1.9v1.9h-1.9zM142.7 621.9h1.9v1.9h-1.9zM141.1 621.9h1.9v1.9h-1.9zM141.9 620.6h1.9v1.9h-1.9zM141.8 622.4h1.9v1.9h-1.9zM140.6 621.3h1.9v1.9h-1.9zM141.6 620.3h1.9v1.9h-1.9zM143.3 621.6h1.9v1.9h-1.9zM141.7 624h1.9v1.9h-1.9zM140.2 622.9h1.9v1.9h-1.9zM141.7 622.3h1.9v1.9h-1.9zM143.9 620.1h1.9v1.9h-1.9zM143.3 624.2h1.9v1.9h-1.9zM145.3 619.9h1.9v1.9h-1.9zM145.7 621.3h1.9v1.9h-1.9zM144.8 621.3h1.9v1.9h-1.9zM146.7 622.7h1.9v1.9h-1.9zM145.3 621.4h1.9v1.9h-1.9zM144.9 621.8h1.9v1.9h-1.9z" fill="#1cc2f2"/><path d="M138.1 613.3h1.8v1.8h-1.8zM135.1 610.7h1.8v1.8h-1.8zM138.9 614h1.8v1.8h-1.8zM137.6 615h1.8v1.8h-1.8zM136.7 613h1.8v1.8h-1.8zM141.9 615.5h1.8v1.8h-1.8zM137.1 613.4h1.8v1.8h-1.8zM138.4 614.7h1.8v1.8h-1.8zM139.8 614.9h1.8v1.8h-1.8zM139.2 614.7h1.8v1.8h-1.8zM139.8 613.6h1.8v1.8h-1.8zM139.8 613.9h1.8v1.8h-1.8zM139 613.9h1.8v1.8h-1.8zM142.3 613h1.8v1.8h-1.8zM140.2 614.8h1.8v1.8h-1.8zM140.1 614.6h1.8v1.8h-1.8zM138.2 615.5h1.8v1.8h-1.8zM140.3 614.7h1.8v1.8h-1.8zM143.1 615.7h1.8v1.8h-1.8zM143 616.2h1.8v1.8h-1.8zM141.3 614.8h1.8v1.8h-1.8zM142.2 615.7h1.8v1.8h-1.8zM144.9 618h1.8v1.8h-1.8zM143.4 616.4h1.8v1.8h-1.8zM142.5 616.9h1.8v1.8h-1.8zM143.9 618.6h1.8v1.8h-1.8zM144.4 614.5h1.8v1.8h-1.8zM145.6 615.3h1.8v1.8h-1.8zM145.2 614.8h1.8v1.8h-1.8zM146.4 617.5h1.8v1.8h-1.8zM144 615.1h1.8v1.8h-1.8zM145.2 616.4h1.8v1.8h-1.8zM165.8 606.4h1.8v1.8h-1.8zM164.9 607.1h1.8v1.8h-1.8zM164.6 607.8h1.8v1.8h-1.8zM164.4 606.7h1.8v1.8h-1.8zM165.5 607.1h1.8v1.8h-1.8zM164.7 608.4h1.8v1.8h-1.8zM165.6 609.3h1.8v1.8h-1.8zM165.9 609.4h1.8v1.8h-1.8zM164.7 611.1h1.8v1.8h-1.8zM166.2 610.5h1.8v1.8h-1.8zM166.9 610.7h1.8v1.8h-1.8zM166.1 611.6h1.8v1.8h-1.8zM166.4 611.5h1.8v1.8h-1.8zM166.5 612.7h1.8v1.8h-1.8zM166.6 613.4h1.8v1.8h-1.8zM166.3 614.6h1.8v1.8h-1.8zM166.9 613.2h1.8v1.8h-1.8zM165.5 614.6h1.8v1.8h-1.8zM166.1 615.2h1.8v1.8h-1.8zM167 614.9h1.8v1.8h-1.8zM166.7 615.4h1.8v1.8h-1.8zM166.6 616.3h1.8v1.8h-1.8zM166.2 616.8h1.8v1.8h-1.8zM165.6 618.5h1.8v1.8h-1.8zM166.3 618.2h1.8v1.8h-1.8zM167.6 618.9h1.8v1.8h-1.8zM165.9 619.4h1.8v1.8h-1.8zM167 619.3h1.8v1.8h-1.8zM175.3 609.6h1.8v1.8h-1.8zM175 612h1.8v1.8h-1.8zM176.6 610.9h1.8v1.8h-1.8zM176.3 610.7h1.8v1.8h-1.8zM177.6 611.4h1.8v1.8h-1.8zM175.9 610.8h1.8v1.8h-1.8zM176.7 612.8h1.8v1.8h-1.8zM174.9 611.6h1.8v1.8h-1.8zM176.4 612.7h1.8v1.8h-1.8zM177.7 613.3h1.8v1.8h-1.8zM176.6 612.9h1.8v1.8h-1.8zM175.5 613.9h1.8v1.8h-1.8zM176.1 613.4h1.8v1.8h-1.8zM176.4 613.4h1.8v1.8h-1.8zM177.3 614.5h1.8v1.8h-1.8zM177.2 615.3h1.8v1.8h-1.8zM174.5 615.3h1.8v1.8h-1.8zM177.3 614.2h1.8v1.8h-1.8zM176.4 614.9h1.8v1.8h-1.8zM179.8 613.8h1.8v1.8h-1.8zM178.3 616.2h1.8v1.8h-1.8zM179.7 615.4h1.8v1.8h-1.8zM178.4 617.5h1.8v1.8h-1.8zM176.5 616.9h1.8v1.8h-1.8zM177.3 618.7h1.8v1.8h-1.8zM178.3 616.9h1.8v1.8h-1.8zM177.8 618.3h1.8v1.8h-1.8zM178.6 617.9h1.8v1.8h-1.8zM179.1 618.6h1.8v1.8h-1.8zM180.3 618.8h1.8v1.8h-1.8zM177.7 618.9h1.8v1.8h-1.8zM180.3 620h1.8v1.8h-1.8zM178.1 620.9h1.8v1.8h-1.8zM179.1 618.1h1.8v1.8h-1.8zM179.3 620.4h1.8v1.8h-1.8zM180.8 621.3h1.8v1.8h-1.8zM182.5 621.8h1.8v1.8h-1.8zM180 621.1h1.8v1.8h-1.8zM180.9 622.5h1.8v1.8h-1.8zM180.7 622h1.8v1.8h-1.8zM186.5 605.9h1.8v1.8h-1.8zM186.7 606.3h1.8v1.8h-1.8zM186.4 606.2h1.8v1.8h-1.8zM185.7 607.6h1.8v1.8h-1.8zM186.4 608.2h1.8v1.8h-1.8zM186 608.3h1.8v1.8h-1.8zM186.2 609.4h1.8v1.8h-1.8zM187 608.7h1.8v1.8h-1.8zM186.2 610.4h1.8v1.8h-1.8zM186.6 611.2h1.8v1.8h-1.8zM186.5 610.9h1.8v1.8h-1.8zM187 611.2h1.8v1.8h-1.8zM186.9 612.3h1.8v1.8h-1.8zM187.3 612.1h1.8v1.8h-1.8zM186.7 613.6h1.8v1.8h-1.8zM187.1 613h1.8v1.8h-1.8zM186.9 613.7h1.8v1.8h-1.8zM188 614.2h1.8v1.8h-1.8zM187.5 615.2h1.8v1.8h-1.8zM187.5 615.2h1.8v1.8h-1.8zM187.6 615.8h1.8v1.8h-1.8zM188 617.1h1.8v1.8h-1.8zM186.8 617.9h1.8v1.8h-1.8zM187.3 616.8h1.8v1.8h-1.8zM187.8 617.7h1.8v1.8h-1.8zM187.2 619h1.8v1.8h-1.8zM187.8 619.2h1.8v1.8h-1.8zM188.1 619.7h1.8v1.8h-1.8zM187.5 621h1.8v1.8h-1.8zM188.1 621h1.8v1.8h-1.8zM187.7 621.5h1.8v1.8h-1.8zM187.7 622h1.8v1.8h-1.8zM197.6 603.3h1.8v1.8h-1.8zM196.9 602.2h1.8v1.8h-1.8zM196.3 604.1h1.8v1.8h-1.8zM197.3 604.1h1.8v1.8h-1.8zM197.6 603.9h1.8v1.8h-1.8zM197.1 604.9h1.8v1.8h-1.8zM198.8 604.7h1.8v1.8h-1.8zM198.2 605.3h1.8v1.8h-1.8zM197.8 607.2h1.8v1.8h-1.8zM198.5 606.6h1.8v1.8h-1.8zM198.4 607.6h1.8v1.8h-1.8zM198.6 608.1h1.8v1.8h-1.8zM198.1 608.8h1.8v1.8h-1.8zM197.8 609.6h1.8v1.8h-1.8zM197.5 610.7h1.8v1.8h-1.8zM199.2 611.3h1.8v1.8h-1.8zM199.7 610h1.8v1.8h-1.8zM199 611.9h1.8v1.8h-1.8zM199.9 612.1h1.8v1.8h-1.8zM199.4 612.6h1.8v1.8h-1.8zM199.5 612.8h1.8v1.8h-1.8zM199.9 613.2h1.8v1.8h-1.8zM200 614.1h1.8v1.8h-1.8zM199.8 613.7h1.8v1.8h-1.8zM200.5 615.2h1.8v1.8h-1.8zM199.3 615.4h1.8v1.8h-1.8zM211.2 599.2h1.8v1.8h-1.8zM211.8 598.9h1.8v1.8h-1.8zM210.9 599.1h1.8v1.8h-1.8zM210.6 600.1h1.8v1.8h-1.8zM211.8 600.2h1.8v1.8h-1.8zM211.4 602.4h1.8v1.8h-1.8zM211.6 601.6h1.8v1.8h-1.8zM211.1 602.7h1.8v1.8h-1.8zM212.4 602.4h1.8v1.8h-1.8zM212 603.1h1.8v1.8h-1.8zM213 603.7h1.8v1.8h-1.8zM211.5 603.8h1.8v1.8h-1.8zM212.6 604.4h1.8v1.8h-1.8zM211.7 605.8h1.8v1.8h-1.8zM212.7 606.2h1.8v1.8h-1.8zM211.8 606.2h1.8v1.8h-1.8zM213.2 606.9h1.8v1.8h-1.8zM213.2 606.8h1.8v1.8h-1.8zM212 607h1.8v1.8h-1.8zM213 608.1h1.8v1.8h-1.8zM213.4 608.8h1.8v1.8h-1.8zM213.3 610h1.8v1.8h-1.8zM212.1 610.4h1.8v1.8h-1.8zM213 611.3h1.8v1.8h-1.8zM213.5 610.7h1.8v1.8h-1.8zM213.8 611.1h1.8v1.8h-1.8zM213.5 612.3h1.8v1.8h-1.8zM213.7 612.4h1.8v1.8h-1.8zM214 612h1.8v1.8h-1.8zM214.2 613.6h1.8v1.8h-1.8zM224 601.5h1.8v1.8h-1.8zM225.1 603.1h1.8v1.8h-1.8zM224.8 602.8h1.8v1.8h-1.8zM224.6 603.6h1.8v1.8h-1.8zM224.2 602.8h1.8v1.8h-1.8zM225.4 604.4h1.8v1.8h-1.8zM224.7 605.3h1.8v1.8h-1.8zM225.9 606h1.8v1.8h-1.8zM224.4 605.8h1.8v1.8h-1.8zM225.9 606.3h1.8v1.8h-1.8zM226.4 606.7h1.8v1.8h-1.8zM226 606.4h1.8v1.8h-1.8zM225.3 607.9h1.8v1.8h-1.8zM225.9 607.8h1.8v1.8h-1.8zM225.4 609.5h1.8v1.8h-1.8zM226.7 609.7h1.8v1.8h-1.8zM226.3 609.9h1.8v1.8h-1.8zM226.9 609.9h1.8v1.8h-1.8zM226.8 610.1h1.8v1.8h-1.8zM227 611.7h1.8v1.8h-1.8zM227.6 612h1.8v1.8h-1.8zM227.3 612.5h1.8v1.8h-1.8zM227.9 612.2h1.8v1.8h-1.8zM228 613.7h1.8v1.8h-1.8zM227.2 612.8h1.8v1.8h-1.8zM240.5 611.7h1.8v1.8h-1.8zM239.7 611.4h1.8v1.8h-1.8zM240.3 612.1h1.8v1.8h-1.8zM240.2 613.2h1.8v1.8h-1.8zM241.1 613.5h1.8v1.8h-1.8zM241.9 612.4h1.8v1.8h-1.8zM242.3 614.6h1.8v1.8h-1.8zM242 614.1h1.8v1.8h-1.8zM241 615.1h1.8v1.8h-1.8zM243.6 614.5h1.8v1.8h-1.8zM243.7 615.1h1.8v1.8h-1.8zM243.4 616.9h1.8v1.8h-1.8zM244.5 616.7h1.8v1.8h-1.8zM244.2 617.2h1.8v1.8h-1.8zM244 617.1h1.8v1.8h-1.8zM243.9 617.6h1.8v1.8h-1.8zM243.6 618.5h1.8v1.8h-1.8zM245.5 619.3h1.8v1.8h-1.8zM245.6 619.9h1.8v1.8h-1.8zM245.6 620h1.8v1.8h-1.8zM258.1 617.5h1.8v1.8h-1.8zM258.8 619h1.8v1.8h-1.8zM258.8 618.8h1.8v1.8h-1.8zM259.1 618.8h1.8v1.8h-1.8zM258.9 619.5h1.8v1.8h-1.8zM260.4 620.2h1.8v1.8h-1.8zM260.6 620h1.8v1.8h-1.8zM261 620.9h1.8v1.8h-1.8zM261.4 619.9h1.8v1.8h-1.8zM260.3 622h1.8v1.8h-1.8zM262.1 620.6h1.8v1.8h-1.8zM261.8 621.5h1.8v1.8h-1.8zM262.2 620.8h1.8v1.8h-1.8zM263.2 623.2h1.8v1.8h-1.8zM263.9 622.5h1.8v1.8h-1.8zM262.9 623.3h1.8v1.8h-1.8zM264.1 623.5h1.8v1.8h-1.8zM265.2 622.1h1.8v1.8h-1.8zM265.9 624.6h1.8v1.8h-1.8zM267.5 622.2h1.8v1.8h-1.8zM266.9 624.1h1.8v1.8h-1.8zM266.9 625.5h1.8v1.8h-1.8zM268 625.2h1.8v1.8h-1.8zM268 625.1h1.8v1.8h-1.8zM266.1 626.8h1.8v1.8h-1.8zM280.8 619.2h1.8v1.8h-1.8zM282.9 619.1h1.8v1.8h-1.8zM282.5 618.7h1.8v1.8h-1.8zM283.5 619.5h1.8v1.8h-1.8zM283.1 619.3h1.8v1.8h-1.8zM284 620.5h1.8v1.8h-1.8zM283.2 620.1h1.8v1.8h-1.8zM285.3 621.5h1.8v1.8h-1.8zM285.8 620h1.8v1.8h-1.8zM285 621.7h1.8v1.8h-1.8zM285.6 621.7h1.8v1.8h-1.8zM285.3 623.3h1.8v1.8h-1.8zM285.9 622.6h1.8v1.8h-1.8zM286.3 623.2h1.8v1.8h-1.8zM286.1 623.6h1.8v1.8h-1.8zM286.4 624.7h1.8v1.8h-1.8zM288 623.8h1.8v1.8h-1.8zM287.7 624.6h1.8v1.8h-1.8zM288.7 624.1h1.8v1.8h-1.8zM289.4 624.6h1.8v1.8h-1.8zM289 624.7h1.8v1.8h-1.8zM289.8 625.2h1.8v1.8h-1.8z" fill="#1c78e8"/><ellipse cx="141" cy="618" rx="4" ry="7" fill="#0a1ed0"/><ellipse cx="141" cy="618.8" rx="2.9" ry="5" fill="#0808a8"/><ellipse cx="145" cy="626" rx="2.5" ry="3" fill="#0a1ed0"/><ellipse cx="166" cy="613" rx="1.8" ry="6" fill="#0a1ed0"/><ellipse cx="178" cy="618" rx="3.5" ry="7.5" fill="#0a1ed0"/><ellipse cx="178" cy="618.8" rx="2.5" ry="5.4" fill="#0808a8"/><ellipse cx="178" cy="619.6" rx="1.5" ry="3.3" fill="#7a0a6a"/><ellipse cx="187" cy="613" rx="1.5" ry="6" fill="#0a1ed0"/><ellipse cx="187" cy="613.8" rx="1.1" ry="4.3" fill="#5a0a8a"/><ellipse cx="198.5" cy="610" rx="2" ry="6.5" fill="#0a1ed0"/><ellipse cx="198.5" cy="610.8" rx="1.4" ry="4.7" fill="#1408a0"/><ellipse cx="212.5" cy="607" rx="1.8" ry="7.5" fill="#1414b4"/><ellipse cx="212.5" cy="607.8" rx="1.3" ry="5.4" fill="#8a0a3a"/><ellipse cx="227.5" cy="609" rx="1.6" ry="6" fill="#1414b4"/><ellipse cx="227.5" cy="609.8" rx="1.2" ry="4.3" fill="#a01030"/><ellipse cx="244" cy="612" rx="1.5" ry="3" fill="#0a0a60"/><ellipse cx="246" cy="617" rx="2" ry="3" fill="#d03020"/><ellipse cx="246" cy="617.8" rx="1.4" ry="2.2" fill="#f0a020"/><ellipse cx="265" cy="626" rx="3.5" ry="2.5" fill="#2a0ab0"/><ellipse cx="265" cy="626.8" rx="2.5" ry="1.8" fill="#700a90"/><ellipse cx="288.5" cy="624" rx="2.5" ry="4" fill="#0a1ed0"/><ellipse cx="288.5" cy="624.8" rx="1.8" ry="2.9" fill="#0808a8"/></g><rect x="81" y="455" width="226" height="1" fill="#222" shape-rendering="crispEdges"/><rect x="81" y="455" width="1" height="175" fill="#222" shape-rendering="crispEdges"/><rect x="306" y="455" width="1" height="175" fill="#222" shape-rendering="crispEdges"/><rect x="174" y="455" width="1" height="175" fill="#222" shape-rendering="crispEdges"/><rect x="81" y="621" width="225" height="1" fill="#222" shape-rendering="crispEdges"/><rect x="81" y="630" width="226" height="1" fill="#222" shape-rendering="crispEdges"/><rect x="84" y="630" width="1" height="9" fill="#222" shape-rendering="crispEdges"/><rect x="93" y="630" width="1" height="5" fill="#222" shape-rendering="crispEdges"/><rect x="102" y="630" width="1" height="5" fill="#222" shape-rendering="crispEdges"/><rect x="111" y="630" width="1" height="5" fill="#222" shape-rendering="crispEdges"/><rect x="119" y="630" width="1" height="5" fill="#222" shape-rendering="crispEdges"/><rect x="128" y="630" width="1" height="9" fill="#222" shape-rendering="crispEdges"/><rect x="137" y="630" width="1" height="5" fill="#222" shape-rendering="crispEdges"/><rect x="146" y="630" width="1" height="5" fill="#222" shape-rendering="crispEdges"/><rect x="155" y="630" width="1" height="5" fill="#222" shape-rendering="crispEdges"/><rect x="164" y="630" width="1" height="5" fill="#222" shape-rendering="crispEdges"/><rect x="172" y="630" width="1" height="9" fill="#222" shape-rendering="crispEdges"/><rect x="181" y="630" width="1" height="5" fill="#222" shape-rendering="crispEdges"/><rect x="190" y="630" width="1" height="5" fill="#222" shape-rendering="crispEdges"/><rect x="199" y="630" width="1" height="5" fill="#222" shape-rendering="crispEdges"/><rect x="208" y="630" width="1" height="5" fill="#222" shape-rendering="crispEdges"/><rect x="217" y="630" width="1" height="9" fill="#222" shape-rendering="crispEdges"/><rect x="225" y="630" width="1" height="5" fill="#222" shape-rendering="crispEdges"/><rect x="234" y="630" width="1" height="5" fill="#222" shape-rendering="crispEdges"/><rect x="243" y="630" width="1" height="5" fill="#222" shape-rendering="crispEdges"/><rect x="252" y="630" width="1" height="5" fill="#222" shape-rendering="crispEdges"/><rect x="261" y="630" width="1" height="9" fill="#222" shape-rendering="crispEdges"/><rect x="270" y="630" width="1" height="5" fill="#222" shape-rendering="crispEdges"/><rect x="278" y="630" width="1" height="5" fill="#222" shape-rendering="crispEdges"/><rect x="287" y="630" width="1" height="5" fill="#222" shape-rendering="crispEdges"/><rect x="296" y="630" width="1" height="5" fill="#222" shape-rendering="crispEdges"/><rect x="305" y="630" width="1" height="9" fill="#222" shape-rendering="crispEdges"/><text x="128.2" y="650" fill="#222" font-size="11" text-anchor="middle">0.600</text><text x="172.4" y="650" fill="#222" font-size="11" text-anchor="middle">0.700</text><text x="216.6" y="650" fill="#222" font-size="11" text-anchor="middle">0.800</text><text x="260.8" y="650" fill="#222" font-size="11" text-anchor="middle">0.900</text><clipPath id="cx1"><rect x="81" y="630" width="60" height="30"/></clipPath><text x="83.5" y="650" fill="#222" font-size="11" text-anchor="middle" clip-path="url(#cx1)">0.500</text><text x="290" y="650" fill="#222" font-size="11" text-anchor="start">1.0</text><rect x="73" y="628" width="8" height="1" fill="#222" shape-rendering="crispEdges"/><text x="67.5" y="632.6" fill="#b2b2b2" font-size="11" text-anchor="end">0.00</text><rect x="73" y="605" width="8" height="1" fill="#222" shape-rendering="crispEdges"/><text x="67.5" y="609.7" fill="#b2b2b2" font-size="11" text-anchor="end">2.00</text><rect x="73" y="582" width="8" height="1" fill="#222" shape-rendering="crispEdges"/><text x="67.5" y="586.8" fill="#b2b2b2" font-size="11" text-anchor="end">4.00</text><rect x="73" y="559" width="8" height="1" fill="#222" shape-rendering="crispEdges"/><text x="67.5" y="563.9" fill="#b2b2b2" font-size="11" text-anchor="end">6.00</text><rect x="73" y="536" width="8" height="1" fill="#222" shape-rendering="crispEdges"/><text x="67.5" y="541" fill="#b2b2b2" font-size="11" text-anchor="end">8.00</text><rect x="73" y="514" width="8" height="1" fill="#222" shape-rendering="crispEdges"/><text x="67.5" y="518.1" fill="#b2b2b2" font-size="11" text-anchor="end">10.00</text><rect x="73" y="491" width="8" height="1" fill="#222" shape-rendering="crispEdges"/><text x="67.5" y="495.2" fill="#b2b2b2" font-size="11" text-anchor="end">12.00</text><rect x="73" y="468" width="8" height="1" fill="#222" shape-rendering="crispEdges"/><text x="67.5" y="472.3" fill="#b2b2b2" font-size="11" text-anchor="end">14.00</text><rect x="77" y="624" width="4" height="1" fill="#222" shape-rendering="crispEdges"/><rect x="77" y="619" width="4" height="1" fill="#222" shape-rendering="crispEdges"/><rect x="77" y="614" width="4" height="1" fill="#222" shape-rendering="crispEdges"/><rect x="77" y="610" width="4" height="1" fill="#222" shape-rendering="crispEdges"/><rect x="77" y="601" width="4" height="1" fill="#222" shape-rendering="crispEdges"/><rect x="77" y="596" width="4" height="1" fill="#222" shape-rendering="crispEdges"/><rect x="77" y="591" width="4" height="1" fill="#222" shape-rendering="crispEdges"/><rect x="77" y="587" width="4" height="1" fill="#222" shape-rendering="crispEdges"/><rect x="77" y="578" width="4" height="1" fill="#222" shape-rendering="crispEdges"/><rect x="77" y="573" width="4" height="1" fill="#222" shape-rendering="crispEdges"/><rect x="77" y="569" width="4" height="1" fill="#222" shape-rendering="crispEdges"/><rect x="77" y="564" width="4" height="1" fill="#222" shape-rendering="crispEdges"/><rect x="77" y="555" width="4" height="1" fill="#222" shape-rendering="crispEdges"/><rect x="77" y="550" width="4" height="1" fill="#222" shape-rendering="crispEdges"/><rect x="77" y="546" width="4" height="1" fill="#222" shape-rendering="crispEdges"/><rect x="77" y="541" width="4" height="1" fill="#222" shape-rendering="crispEdges"/><rect x="77" y="532" width="4" height="1" fill="#222" shape-rendering="crispEdges"/><rect x="77" y="527" width="4" height="1" fill="#222" shape-rendering="crispEdges"/><rect x="77" y="523" width="4" height="1" fill="#222" shape-rendering="crispEdges"/><rect x="77" y="518" width="4" height="1" fill="#222" shape-rendering="crispEdges"/><rect x="77" y="509" width="4" height="1" fill="#222" shape-rendering="crispEdges"/><rect x="77" y="504" width="4" height="1" fill="#222" shape-rendering="crispEdges"/><rect x="77" y="500" width="4" height="1" fill="#222" shape-rendering="crispEdges"/><rect x="77" y="495" width="4" height="1" fill="#222" shape-rendering="crispEdges"/><rect x="77" y="486" width="4" height="1" fill="#222" shape-rendering="crispEdges"/><rect x="77" y="482" width="4" height="1" fill="#222" shape-rendering="crispEdges"/><rect x="77" y="477" width="4" height="1" fill="#222" shape-rendering="crispEdges"/><rect x="77" y="472" width="4" height="1" fill="#222" shape-rendering="crispEdges"/><rect x="77" y="463" width="4" height="1" fill="#222" shape-rendering="crispEdges"/><rect x="77" y="459" width="4" height="1" fill="#222" shape-rendering="crispEdges"/><text transform="translate(23,543.5) rotate(-90)" fill="#b2b2b2" font-size="11" text-anchor="middle" textLength="74" lengthAdjust="spacingAndGlyphs">LambdaLabError</text><text x="193" y="667" fill="#222" font-size="11" text-anchor="middle">LabNTKon</text><text x="21" y="654" fill="#111" font-size="11" text-anchor="start">0.706</text><text x="21" y="667" fill="#b2b2b2" font-size="11" text-anchor="start">0.64</text></svg></div><div class="pn" style="left:3px;top:682px;width:313px;height:120px;"><svg width="311" height="118" viewBox="4 683 311 118"><rect x="81" y="691" width="226" height="1" fill="#222" shape-rendering="crispEdges"/><rect x="81" y="691" width="1" height="63" fill="#222" shape-rendering="crispEdges"/><rect x="306" y="691" width="1" height="63" fill="#222" shape-rendering="crispEdges"/><rect x="81" y="693" width="225" height="1" fill="#222" shape-rendering="crispEdges"/><path d="M142.3 693.9h1.6v1.6h-1.6zM144.2 694.5h1.6v1.6h-1.6zM142.7 694.7h1.6v1.6h-1.6zM142.6 694.2h1.6v1.6h-1.6zM143.5 694.5h1.6v1.6h-1.6zM144 694.9h1.6v1.6h-1.6zM142.8 694.5h1.6v1.6h-1.6zM143.6 694.3h1.6v1.6h-1.6zM144.4 695.4h1.6v1.6h-1.6zM145.2 695.3h1.6v1.6h-1.6zM287.9 694.3h1.6v1.6h-1.6zM288.7 693.6h1.6v1.6h-1.6zM289.5 694h1.6v1.6h-1.6zM289.6 694.4h1.6v1.6h-1.6zM289 694.1h1.6v1.6h-1.6zM289.4 696.4h1.6v1.6h-1.6zM289.4 696.1h1.6v1.6h-1.6zM290.9 695.2h1.6v1.6h-1.6zM291 696.4h1.6v1.6h-1.6zM290.5 695.5h1.6v1.6h-1.6z" fill="#1cc2f2"/><path d="M266 693.5h1.6v1.6h-1.6z" fill="#f0a020"/><rect x="174" y="691" width="1" height="63" fill="#222" shape-rendering="crispEdges"/><rect x="81" y="754" width="226" height="1" fill="#222" shape-rendering="crispEdges"/><rect x="84" y="754" width="1" height="9" fill="#222" shape-rendering="crispEdges"/><rect x="93" y="754" width="1" height="5" fill="#222" shape-rendering="crispEdges"/><rect x="102" y="754" width="1" height="5" fill="#222" shape-rendering="crispEdges"/><rect x="111" y="754" width="1" height="5" fill="#222" shape-rendering="crispEdges"/><rect x="119" y="754" width="1" height="5" fill="#222" shape-rendering="crispEdges"/><rect x="128" y="754" width="1" height="9" fill="#222" shape-rendering="crispEdges"/><rect x="137" y="754" width="1" height="5" fill="#222" shape-rendering="crispEdges"/><rect x="146" y="754" width="1" height="5" fill="#222" shape-rendering="crispEdges"/><rect x="155" y="754" width="1" height="5" fill="#222" shape-rendering="crispEdges"/><rect x="164" y="754" width="1" height="5" fill="#222" shape-rendering="crispEdges"/><rect x="172" y="754" width="1" height="9" fill="#222" shape-rendering="crispEdges"/><rect x="181" y="754" width="1" height="5" fill="#222" shape-rendering="crispEdges"/><rect x="190" y="754" width="1" height="5" fill="#222" shape-rendering="crispEdges"/><rect x="199" y="754" width="1" height="5" fill="#222" shape-rendering="crispEdges"/><rect x="208" y="754" width="1" height="5" fill="#222" shape-rendering="crispEdges"/><rect x="217" y="754" width="1" height="9" fill="#222" shape-rendering="crispEdges"/><rect x="225" y="754" width="1" height="5" fill="#222" shape-rendering="crispEdges"/><rect x="234" y="754" width="1" height="5" fill="#222" shape-rendering="crispEdges"/><rect x="243" y="754" width="1" height="5" fill="#222" shape-rendering="crispEdges"/><rect x="252" y="754" width="1" height="5" fill="#222" shape-rendering="crispEdges"/><rect x="261" y="754" width="1" height="9" fill="#222" shape-rendering="crispEdges"/><rect x="270" y="754" width="1" height="5" fill="#222" shape-rendering="crispEdges"/><rect x="278" y="754" width="1" height="5" fill="#222" shape-rendering="crispEdges"/><rect x="287" y="754" width="1" height="5" fill="#222" shape-rendering="crispEdges"/><rect x="296" y="754" width="1" height="5" fill="#222" shape-rendering="crispEdges"/><rect x="305" y="754" width="1" height="9" fill="#222" shape-rendering="crispEdges"/><text x="128.2" y="774.3" fill="#222" font-size="11" text-anchor="middle">0.600</text><text x="172.4" y="774.3" fill="#222" font-size="11" text-anchor="middle">0.700</text><text x="216.6" y="774.3" fill="#222" font-size="11" text-anchor="middle">0.800</text><text x="260.8" y="774.3" fill="#222" font-size="11" text-anchor="middle">0.900</text><clipPath id="cx2"><rect x="81" y="754" width="60" height="30"/></clipPath><text x="83.5" y="774.5" fill="#222" font-size="11" text-anchor="middle" clip-path="url(#cx2)">0.500</text><text x="290" y="774.5" fill="#222" font-size="11" text-anchor="start">1.0</text><clipPath id="cs2"><rect x="4" y="691.5" width="80" height="80"/></clipPath><g clip-path="url(#cs2)"><rect x="73" y="693" width="8" height="1" fill="#222" shape-rendering="crispEdges"/><text x="67.5" y="697.2" fill="#b2b2b2" font-size="11" text-anchor="end">0.00</text><rect x="73" y="712" width="8" height="1" fill="#222" shape-rendering="crispEdges"/><text x="67.5" y="717" fill="#b2b2b2" font-size="11" text-anchor="end">-5.00</text><rect x="73" y="732" width="8" height="1" fill="#222" shape-rendering="crispEdges"/><text x="67.5" y="736.7" fill="#b2b2b2" font-size="11" text-anchor="end">-10.00</text><rect x="73" y="752" width="8" height="1" fill="#222" shape-rendering="crispEdges"/><text x="67.5" y="756.5" fill="#b2b2b2" font-size="11" text-anchor="end">-15.00</text><rect x="77" y="748" width="4" height="1" fill="#222" shape-rendering="crispEdges"/><rect x="77" y="744" width="4" height="1" fill="#222" shape-rendering="crispEdges"/><rect x="77" y="740" width="4" height="1" fill="#222" shape-rendering="crispEdges"/><rect x="77" y="736" width="4" height="1" fill="#222" shape-rendering="crispEdges"/><rect x="77" y="728" width="4" height="1" fill="#222" shape-rendering="crispEdges"/><rect x="77" y="724" width="4" height="1" fill="#222" shape-rendering="crispEdges"/><rect x="77" y="720" width="4" height="1" fill="#222" shape-rendering="crispEdges"/><rect x="77" y="716" width="4" height="1" fill="#222" shape-rendering="crispEdges"/><rect x="77" y="708" width="4" height="1" fill="#222" shape-rendering="crispEdges"/><rect x="77" y="705" width="4" height="1" fill="#222" shape-rendering="crispEdges"/><rect x="77" y="701" width="4" height="1" fill="#222" shape-rendering="crispEdges"/><rect x="77" y="697" width="4" height="1" fill="#222" shape-rendering="crispEdges"/></g><clipPath id="cy2"><rect x="4" y="694" width="40" height="80"/></clipPath><g clip-path="url(#cy2)"><text transform="translate(23,752.5) rotate(-90)" fill="#b2b2b2" font-size="11" text-anchor="start" textLength="74" lengthAdjust="spacingAndGlyphs">LambdaLabError</text></g><text x="193" y="791" fill="#222" font-size="11" text-anchor="middle">LabNTKon</text><text x="21.3" y="779" fill="#111" font-size="11" text-anchor="start">0.706</text><text x="21.3" y="791.8" fill="#b2b2b2" font-size="11" text-anchor="start">0.64</text></svg></div><div class="pn" style="left:320px;top:46px;width:350px;height:507px;"><svg width="348" height="505" viewBox="321 47 348 505"><polygon points="382,543 382,397.6 382.8,398.4 383.5,398.4 384.3,398.4 385,399.2 385.8,400 386.5,400.8 387.3,400.8 388.1,401.6 388.8,402.4 389.6,403.2 390.3,404 391.1,403.2 391.8,404 392.6,404.8 393.4,405.6 394.1,406.4 394.9,406.4 395.6,407.2 396.4,407.2 397.1,408 397.9,408.8 398.6,408.8 399.4,409.6 400.2,410.4 400.9,411.2 401.7,411.2 402.4,411.2 403.2,412 403.9,412.8 404.7,413.6 405.5,414.4 406.2,414.4 407,415.2 407.7,415.2 408.5,416 409.2,416.8 410,417.6 411.5,345.6 412.3,345.6 413,346.4 413.8,346.4 414.6,347.2 415.4,348 416.1,348 416.9,348.8 417.7,349.6 418.4,349.6 419.2,350.4 420,351.2 420.8,351.2 421.5,351.2 422.3,352 423.1,352 423.8,352.8 424.6,354.4 425.4,354.4 426.1,355.2 426.9,355.2 427.7,356 428.5,356 429.2,356 430,356.8 432,316 432.8,316 433.5,316 434.3,316.8 435,316.8 435.8,318.4 436.6,318.4 437.3,318.4 438.1,319.2 438.8,319.2 439.6,319.2 440.4,320 441.1,320.8 441.9,320.8 442.6,321.6 443.4,321.6 444.1,322.4 444.9,323.2 445.7,323.2 446.4,323.2 447.2,324 447.9,324 448.7,324.8 449.5,325.6 450.2,325.6 451,325.6 451.7,326.4 452.5,326.4 453.3,327.2 454,328 454.8,328 455.5,328.8 456.3,328 457.1,328.8 457.8,329.6 458.6,330.4 459.3,330.4 460.1,330.4 460.9,331.2 461.6,332 462.4,331.2 463.1,332 463.9,332.8 464.6,332.8 465.4,333.6 466.2,333.6 466.9,334.4 467.7,334.4 468.4,335.2 469.2,335.2 470,335.2 470.7,336.8 471.5,336.8 472.2,336.8 473,337.6 475.5,303.2 476.2,304 477,304 477.8,304 478.5,304.8 479.2,304.8 480,304.8 480.8,305.6 481.5,305.6 482.2,305.6 483,305.6 483.8,305.6 484.5,306.4 485.2,306.4 486,306.4 486.8,306.4 487.5,306.4 488.2,307.2 489,307.2 489.8,308 490.5,308 491.2,308 492,308 492.8,308 493.5,308.8 494.2,309.6 495,308.8 496.5,276 497.2,275.2 498,275.2 498.8,276 499.5,276.8 500.2,276 501,276.8 501.8,276.8 502.5,276.8 503.2,276.8 504,277.6 504.8,276.8 505.5,277.6 506.2,277.6 507,278.4 507.8,278.4 508.5,277.6 509.2,278.4 510,278.4 510.8,279.2 511.5,278.4 512.2,278.4 513,279.2 513.8,279.2 514.5,280 515.2,279.2 516,280 516.8,280 517.5,280.8 518.2,280 519,280.8 521,244 521.8,244 522.5,244.8 523.3,244.8 524.1,244.8 524.8,245.6 525.6,244.8 526.4,244.8 527.1,245.6 527.9,246.4 528.7,246.4 529.4,246.4 530.2,246.4 531,247.2 531.7,246.4 532.5,247.2 533.3,247.2 534,247.2 534.8,247.2 535.6,248 536.3,248 537.1,248 537.9,248 538.6,248 539.4,248 540.2,248.8 540.9,248.8 541.7,249.6 542.5,248.8 543.2,249.6 544,249.6 546,212 546.8,212.8 547.5,212 548.2,212.8 549,212 549.8,212.8 550.5,212.8 551.2,212 552,212.8 552.8,212.8 553.5,212.8 554.2,213.6 555,213.6 555.8,213.6 556.5,213.6 557.2,213.6 558,213.6 558.8,212.8 559.5,214.4 560.2,213.6 561,213.6 561.8,213.6 562.5,214.4 563.2,214.4 564,214.4 564.8,213.6 565.5,213.6 566.2,213.6 567,214.4 567.8,214.4 568.5,214.4 569.2,215.2 570,214.4 572,181.6 572.8,181.6 573.5,180.8 574.3,181.6 575.1,181.6 575.8,180.8 576.6,180.8 577.4,181.6 578.1,181.6 578.9,180.8 579.6,181.6 580.4,181.6 581.2,180.8 581.9,181.6 582.7,181.6 583.5,181.6 584.2,180.8 585,181.6 585.8,181.6 586.5,180.8 587.3,181.6 588.1,180.8 588.8,180.8 589.6,180.8 590.4,180.8 591.1,181.6 591.9,181.6 592.6,181.6 593.4,180.8 594.2,180.8 594.9,180.8 595.7,180.8 596.5,180.8 597.2,180.8 598,180.8 600,145.6 600.8,145.6 601.5,145.6 602.3,144.8 603,145.6 603.8,144.8 604.5,144.8 605.3,144.8 606.1,144.8 606.8,144.8 607.6,144.8 608.3,144.8 609.1,144.8 609.9,144.8 610.6,144.8 611.4,144.8 612.1,144.8 612.9,144 613.6,144 614.4,144 615.2,144 615.9,144 616.7,144 617.4,144 618.2,144 619,143.2 619.7,143.2 620.5,143.2 621.2,144 622,143.2 622.7,142.4 623.5,143.2 626,96.8 626.8,96 627.5,94.4 628.2,93.6 629,92.8 629.8,91.2 630.5,92 631.2,91.2 632,90.4 632.8,89.6 633.5,89.6 634.2,89.6 635,89.6 635.8,88 636.5,88.8 637.2,88.8 638,88 638.8,88.8 639.5,88.8 640.2,88 641,88 641.3,57 660,57 660,543" fill="#eef0fc"/><polyline points="382,531.5 383.5,531.5 385.1,532 386.6,532.5 388.1,532.5 389.6,533 391.2,533 392.7,534 394.2,534 395.8,534.5 397.3,535 398.8,535 400.3,535.5 401.9,535.5 403.4,536.5 404.9,537 406.4,537 408,537 409.5,538 411,520 413.6,513 415.2,513.5 416.8,514 418.4,514 420,514.5 421.6,515 423.1,515.5 424.7,516 426.3,516.5 427.9,516.5 429.5,516.5 431,505 432.7,502.5 434.2,502.5 435.8,502.5 437.3,503 438.8,503.5 440.4,504 441.9,504 443.4,504 445,505 446.5,505.5 448,505 449.6,505.5 451.1,506 452.6,506 454.1,506.5 455.7,506.5 457.2,507.5 458.7,507.5 460.3,508 461.8,508 463.3,509 464.9,508.5 466.4,509.5 467.9,509 469.5,509.5 471,510 473,500 475,498.5 476.6,498 478.2,498 479.9,498.5 481.5,498.5 483.1,499 484.7,499.5 486.3,499 487.9,499.5 489.5,499.5 491.2,500 492.8,500 494.4,500 495.5,489.5 497,487.5 498.6,488 500.1,488.5 501.7,488.5 503.3,489 504.9,489 506.4,489 508,489 509.6,489.5 511.1,490 512.7,489.5 514.3,490 515.9,490 517.4,490.5 519,490.5 520,480 521.7,477.5 523.3,477.5 524.8,478 526.4,478.5 528,478 529.5,479 531.1,478.5 532.7,479 534.2,479.5 535.8,479.5 537.3,479.5 538.9,479.5 540.5,480 542,480 543.6,480.5 545,470 546.4,467.5 548,467.5 549.5,467 551.1,467.5 552.6,468 554.2,468 555.7,467.5 557.3,467.5 558.8,467.5 560.4,468 561.9,467.5 563.5,468 565,468 566.6,468 568.1,468 569.7,468.5 571,458 572.4,455.5 573.9,456 575.5,455.5 577,455.5 578.5,455.5 580.1,456 581.6,456.5 583.2,456 584.7,456.5 586.2,456 587.8,456 589.3,456 590.9,456.5 592.4,456.5 593.9,456.5 595.5,456.5 597,456.5 598.3,446 599.8,443 601.3,442.5 602.9,443 604.4,443 606,443 607.5,443 609.1,443 610.6,443 612.2,443 613.7,443 615.3,443.5 616.8,443 618.4,443 619.9,443.5 621.5,443 623,443 624,429.5 625.8,424 627.3,424 628.8,424.5 630.3,424 631.8,424 633.3,423.5 634.8,423 636.3,423 637.8,423 639.3,423 640.8,423 642,408 643.6,402 645.1,402 646.6,402 648.2,401.5 649.7,401.5 651.2,401 652.7,400 654.3,400.5 655.8,399.5 657.3,399.5 658.5,385 660,377.6" fill="none" stroke="#bdbdbd" stroke-width="1.2" stroke-linejoin="round"/><polyline points="382,393.6 382.8,394.1 383.5,394.7 384.3,395.2 385,395.8 385.8,396.3 386.5,396.8 387.3,397.4 388.1,397.9 388.8,398.5 389.6,399 390.3,399.5 391.1,400.1 391.8,400.6 392.6,401.2 393.4,401.7 394.1,402.2 394.9,402.8 395.6,403.3 396.4,403.9 397.1,404.4 397.9,405 398.6,405.5 399.4,406 400.2,406.6 400.9,407.1 401.7,407.7 402.4,408.2 403.2,408.7 403.9,409.3 404.7,409.8 405.5,410.4 406.2,410.9 407,411.4 407.7,412 408.5,412.5 409.2,413.1 410,413.6 410.3,348.5 411.5,335.8 412.3,336.6 413,337.4 413.8,338.3 414.6,339.1 415.4,339.9 416.1,340.7 416.9,341.5 417.7,342.4 418.4,343.2 419.2,344 420,344.8 420.8,345.6 421.5,346.5 422.3,347.3 423.1,348.1 423.8,348.9 424.6,349.8 425.4,350.6 426.1,351.4 426.9,352.2 427.7,353 428.5,353.9 429.2,354.7 430,355.5 430.8,318.8 432,306.8 432.8,307.3 433.5,307.9 434.3,308.4 435,308.9 435.8,309.5 436.6,310 437.3,310.5 438.1,311.1 438.8,311.6 439.6,312.1 440.4,312.6 441.1,313.2 441.9,313.7 442.6,314.2 443.4,314.8 444.1,315.3 444.9,315.8 445.7,316.4 446.4,316.9 447.2,317.4 447.9,318 448.7,318.5 449.5,319 450.2,319.6 451,320.1 451.7,320.6 452.5,321.1 453.3,321.7 454,322.2 454.8,322.7 455.5,323.3 456.3,323.8 457.1,324.3 457.8,324.9 458.6,325.4 459.3,325.9 460.1,326.5 460.9,327 461.6,327.5 462.4,328.1 463.1,328.6 463.9,329.1 464.6,329.7 465.4,330.2 466.2,330.7 466.9,331.2 467.7,331.8 468.4,332.3 469.2,332.8 470,333.4 470.7,333.9 471.5,334.4 472.2,335 473,335.5 474.3,306.3 475.5,295.5 476.2,296 477,296.4 477.8,296.9 478.5,297.3 479.2,297.8 480,298.3 480.8,298.7 481.5,299.2 482.2,299.7 483,300.1 483.8,300.6 484.5,301 485.2,301.5 486,302 486.8,302.4 487.5,302.9 488.2,303.3 489,303.8 489.8,304.3 490.5,304.7 491.2,305.2 492,305.7 492.8,306.1 493.5,306.6 494.2,307 495,307.5 495.3,277.3 496.5,269.4 497.2,269.7 498,270.1 498.8,270.4 499.5,270.7 500.2,271.1 501,271.4 501.8,271.8 502.5,272.1 503.2,272.4 504,272.8 504.8,273.1 505.5,273.4 506.2,273.8 507,274.1 507.8,274.4 508.5,274.8 509.2,275.1 510,275.5 510.8,275.8 511.5,276.1 512.2,276.5 513,276.8 513.8,277.1 514.5,277.5 515.2,277.8 516,278.2 516.8,278.5 517.5,278.8 518.2,279.2 519,279.5 519.8,246.3 521,237.5 521.8,237.8 522.5,238.2 523.3,238.5 524.1,238.8 524.8,239.2 525.6,239.5 526.4,239.8 527.1,240.2 527.9,240.5 528.7,240.8 529.4,241.2 530.2,241.5 531,241.8 531.7,242.2 532.5,242.5 533.3,242.8 534,243.2 534.8,243.5 535.6,243.8 536.3,244.2 537.1,244.5 537.9,244.8 538.6,245.2 539.4,245.5 540.2,245.8 540.9,246.2 541.7,246.5 542.5,246.8 543.2,247.2 544,247.5 544.8,214.2 546,206.3 546.8,206.4 547.5,206.4 548.2,206.5 549,206.6 549.8,206.7 550.5,206.7 551.2,206.8 552,206.9 552.8,206.9 553.5,207 554.2,207.1 555,207.2 555.8,207.2 556.5,207.3 557.2,207.4 558,207.4 558.8,207.5 559.5,207.6 560.2,207.7 561,207.7 561.8,207.8 562.5,207.9 563.2,208 564,208 564.8,208.1 565.5,208.2 566.2,208.2 567,208.3 567.8,208.4 568.5,208.5 569.2,208.5 570,208.6 570.8,182.2 572,178 572.8,178 573.5,178 574.3,178 575.1,178.1 575.8,178.1 576.6,178.1 577.4,178.1 578.1,178.1 578.9,178.1 579.6,178.1 580.4,178.2 581.2,178.2 581.9,178.2 582.7,178.2 583.5,178.2 584.2,178.2 585,178.2 585.8,178.3 586.5,178.3 587.3,178.3 588.1,178.3 588.8,178.3 589.6,178.3 590.4,178.4 591.1,178.4 591.9,178.4 592.6,178.4 593.4,178.4 594.2,178.4 594.9,178.4 595.7,178.5 596.5,178.5 597.2,178.5 598,178.5 598.8,145.9 600,144 600.8,144 601.5,143.9 602.3,143.9 603,143.8 603.8,143.8 604.5,143.7 605.3,143.7 606.1,143.6 606.8,143.6 607.6,143.5 608.3,143.5 609.1,143.4 609.9,143.4 610.6,143.3 611.4,143.3 612.1,143.2 612.9,143.2 613.6,143.1 614.4,143.1 615.2,143 615.9,143 616.7,142.9 617.4,142.9 618.2,142.8 619,142.8 619.7,142.7 620.5,142.7 621.2,142.6 622,142.6 622.7,142.5 623.5,142.5 624.8,97.6 626,95 626.8,94.8 627.5,94.5 628.2,94.2 629,94 629.8,93.8 630.5,93.5 631.2,93.2 632,93 632.8,92.8 633.5,92.5 634.2,92.2 635,92 635.8,91.8 636.5,91.5 637.2,91.2 638,91 638.8,90.8 639.5,90.5 640.2,90.2 641,90" fill="none" stroke="#b6d400" stroke-width="1.2" stroke-linejoin="round"/><polyline points="382,401.2 382.8,401.7 383.5,402.4 384.3,403 385,403.5 385.8,403.9 386.5,404.8 387.3,405 388.1,405.9 388.8,406.2 389.6,406.5 390.3,407.2 391.1,407.6 391.8,408.5 392.6,408.9 393.4,409.4 394.1,409.7 394.9,410.4 395.6,411 396.4,411.6 397.1,412 397.9,412.7 398.6,413.2 399.4,413.9 400.2,414.1 400.9,414.6 401.7,415.4 402.4,415.8 403.2,416.5 403.9,417 404.7,417.4 405.5,418 406.2,418.5 407,419.3 407.7,419.7 408.5,420.2 409.2,420.9 410,421.1 411.5,421.3 412.3,380.7 413,368.6 413.8,364.1 414.6,361.2 415.4,359.8 416.1,358.6 416.9,358.2 417.7,357.8 418.4,357.5 419.2,357.8 420,357.5 420.8,357.8 421.5,358.2 422.3,358.5 423.1,358.9 423.8,359.4 424.6,359.9 425.4,360.3 426.1,360.5 426.9,361.3 427.7,361.8 428.5,362 429.2,362.6 430,362.8 432,362.8 432.8,339.4 433.5,332.5 434.3,329.9 435,328.8 435.8,327.7 436.6,327.5 437.3,327.3 438.1,327.8 438.8,327.7 439.6,327.8 440.4,328.2 441.1,328.4 441.9,329.2 442.6,329.1 443.4,329.4 444.1,330.3 444.9,330.5 445.7,330.7 446.4,331.3 447.2,331.7 447.9,331.9 448.7,332.6 449.5,332.9 450.2,333.3 451,333.6 451.7,333.7 452.5,334.2 453.3,334.8 454,335.1 454.8,335.8 455.5,335.9 456.3,336.2 457.1,336.6 457.8,337.3 458.6,337.5 459.3,338 460.1,338.4 460.9,338.8 461.6,339.1 462.4,339.6 463.1,340 463.9,340.2 464.6,340.9 465.4,340.9 466.2,341.3 466.9,342 467.7,342.4 468.4,342.7 469.2,343.1 470,343.2 470.7,343.9 471.5,344.4 472.2,344.8 473,344.9 475.5,344.9 476.2,326.5 477,320.7 477.8,318.7 478.5,317.3 479.2,316.8 480,316.5 480.8,316.1 481.5,315.7 482.2,315.8 483,316.2 483.8,316.2 484.5,316.4 485.2,316.5 486,316.8 486.8,316.9 487.5,316.9 488.2,317.2 489,317.5 489.8,317.6 490.5,317.8 491.2,318.1 492,318.2 492.8,318.6 493.5,318.8 494.2,318.7 495,319.2 496.5,318.8 497.2,299.7 498,293.7 498.8,291.5 499.5,290.3 500.2,289.5 501,288.7 501.8,288.8 502.5,288.7 503.2,288.4 504,288.5 504.8,288.4 505.5,288.4 506.2,288.6 507,288.5 507.8,288.9 508.5,289 509.2,289.2 510,289.6 510.8,289.8 511.5,289.6 512.2,290.1 513,289.9 513.8,290.5 514.5,290.3 515.2,290.8 516,290.9 516.8,290.8 517.5,291.1 518.2,291.5 519,291.7 521,291.7 521.8,271.7 522.5,265.6 523.3,263.5 524.1,261.7 524.8,260.8 525.6,260.1 526.4,259.6 527.1,259.4 527.9,259.2 528.7,259 529.4,258.8 530.2,258.8 531,259.1 531.7,259.2 532.5,259.1 533.3,259.4 534,259.7 534.8,259.7 535.6,260.1 536.3,260.1 537.1,260.2 537.9,260.2 538.6,260.3 539.4,260.8 540.2,260.7 540.9,261.2 541.7,261.3 542.5,261.2 543.2,261.5 544,261.7 546,261.9 546.8,242.3 547.5,236.9 548.2,234.2 549,232.8 549.8,231.8 550.5,230.9 551.2,230.1 552,229.6 552.8,229 553.5,228.7 554.2,228.6 555,228.4 555.8,228.4 556.5,228 557.2,227.8 558,227.9 558.8,228 559.5,227.9 560.2,227.9 561,227.8 561.8,228 562.5,228 563.2,228.1 564,228 564.8,227.7 565.5,227.9 566.2,228.2 567,228.2 567.8,228.2 568.5,228 569.2,228.4 570,228.4 572,228.1 572.8,205.6 573.5,199.3 574.3,196.7 575.1,195.4 575.8,193.8 576.6,192.9 577.4,192 578.1,191 578.9,190.4 579.6,189.8 580.4,189.2 581.2,188.9 581.9,188.8 582.7,188.3 583.5,188.1 584.2,187.7 585,187.5 585.8,187.7 586.5,187.3 587.3,187.5 588.1,187 588.8,187.3 589.6,187 590.4,186.9 591.1,186.7 591.9,186.8 592.6,186.9 593.4,186.9 594.2,186.5 594.9,186.7 595.7,186.5 596.5,186.5 597.2,186.8 598,186.7 600,186.3 600.8,165.3 601.5,159 602.3,156.5 603,155 603.8,153.6 604.5,152.3 605.3,151.8 606.1,151 606.8,150 607.6,149.3 608.3,149.2 609.1,148.6 609.9,148.2 610.6,147.7 611.4,147.1 612.1,147 612.9,146.8 613.6,146.3 614.4,146.1 615.2,146 615.9,146 616.7,145.6 617.4,145.5 618.2,145.4 619,145.2 619.7,145.4 620.5,144.9 621.2,145.2 622,144.7 622.7,144.5 623.5,144.4 626,144.4 626.8,119.4 627.5,110.7 628.2,106.7 629,103.8 629.8,101.7 630.5,100 631.2,98.9 632,97.6 632.8,96.7 633.5,96.1 634.2,95.7 635,94.8 635.8,94.8 636.5,94.3 637.2,93.8 638,94.1 638.8,93.8 639.5,93.4 640.2,93.2 641,93.4" fill="none" stroke="#f0204a" stroke-width="1.4" stroke-linejoin="round"/><polyline points="382,397.6 382.8,398.4 383.5,398.4 384.3,398.4 385,399.2 385.8,400 386.5,400.8 387.3,400.8 388.1,401.6 388.8,402.4 389.6,403.2 390.3,404 391.1,403.2 391.8,404 392.6,404.8 393.4,405.6 394.1,406.4 394.9,406.4 395.6,407.2 396.4,407.2 397.1,408 397.9,408.8 398.6,408.8 399.4,409.6 400.2,410.4 400.9,411.2 401.7,411.2 402.4,411.2 403.2,412 403.9,412.8 404.7,413.6 405.5,414.4 406.2,414.4 407,415.2 407.7,415.2 408.5,416 409.2,416.8 410,417.6 411.5,345.6 412.3,345.6 413,346.4 413.8,346.4 414.6,347.2 415.4,348 416.1,348 416.9,348.8 417.7,349.6 418.4,349.6 419.2,350.4 420,351.2 420.8,351.2 421.5,351.2 422.3,352 423.1,352 423.8,352.8 424.6,354.4 425.4,354.4 426.1,355.2 426.9,355.2 427.7,356 428.5,356 429.2,356 430,356.8 432,316 432.8,316 433.5,316 434.3,316.8 435,316.8 435.8,318.4 436.6,318.4 437.3,318.4 438.1,319.2 438.8,319.2 439.6,319.2 440.4,320 441.1,320.8 441.9,320.8 442.6,321.6 443.4,321.6 444.1,322.4 444.9,323.2 445.7,323.2 446.4,323.2 447.2,324 447.9,324 448.7,324.8 449.5,325.6 450.2,325.6 451,325.6 451.7,326.4 452.5,326.4 453.3,327.2 454,328 454.8,328 455.5,328.8 456.3,328 457.1,328.8 457.8,329.6 458.6,330.4 459.3,330.4 460.1,330.4 460.9,331.2 461.6,332 462.4,331.2 463.1,332 463.9,332.8 464.6,332.8 465.4,333.6 466.2,333.6 466.9,334.4 467.7,334.4 468.4,335.2 469.2,335.2 470,335.2 470.7,336.8 471.5,336.8 472.2,336.8 473,337.6 475.5,303.2 476.2,304 477,304 477.8,304 478.5,304.8 479.2,304.8 480,304.8 480.8,305.6 481.5,305.6 482.2,305.6 483,305.6 483.8,305.6 484.5,306.4 485.2,306.4 486,306.4 486.8,306.4 487.5,306.4 488.2,307.2 489,307.2 489.8,308 490.5,308 491.2,308 492,308 492.8,308 493.5,308.8 494.2,309.6 495,308.8 496.5,276 497.2,275.2 498,275.2 498.8,276 499.5,276.8 500.2,276 501,276.8 501.8,276.8 502.5,276.8 503.2,276.8 504,277.6 504.8,276.8 505.5,277.6 506.2,277.6 507,278.4 507.8,278.4 508.5,277.6 509.2,278.4 510,278.4 510.8,279.2 511.5,278.4 512.2,278.4 513,279.2 513.8,279.2 514.5,280 515.2,279.2 516,280 516.8,280 517.5,280.8 518.2,280 519,280.8 521,244 521.8,244 522.5,244.8 523.3,244.8 524.1,244.8 524.8,245.6 525.6,244.8 526.4,244.8 527.1,245.6 527.9,246.4 528.7,246.4 529.4,246.4 530.2,246.4 531,247.2 531.7,246.4 532.5,247.2 533.3,247.2 534,247.2 534.8,247.2 535.6,248 536.3,248 537.1,248 537.9,248 538.6,248 539.4,248 540.2,248.8 540.9,248.8 541.7,249.6 542.5,248.8 543.2,249.6 544,249.6 546,212 546.8,212.8 547.5,212 548.2,212.8 549,212 549.8,212.8 550.5,212.8 551.2,212 552,212.8 552.8,212.8 553.5,212.8 554.2,213.6 555,213.6 555.8,213.6 556.5,213.6 557.2,213.6 558,213.6 558.8,212.8 559.5,214.4 560.2,213.6 561,213.6 561.8,213.6 562.5,214.4 563.2,214.4 564,214.4 564.8,213.6 565.5,213.6 566.2,213.6 567,214.4 567.8,214.4 568.5,214.4 569.2,215.2 570,214.4 572,181.6 572.8,181.6 573.5,180.8 574.3,181.6 575.1,181.6 575.8,180.8 576.6,180.8 577.4,181.6 578.1,181.6 578.9,180.8 579.6,181.6 580.4,181.6 581.2,180.8 581.9,181.6 582.7,181.6 583.5,181.6 584.2,180.8 585,181.6 585.8,181.6 586.5,180.8 587.3,181.6 588.1,180.8 588.8,180.8 589.6,180.8 590.4,180.8 591.1,181.6 591.9,181.6 592.6,181.6 593.4,180.8 594.2,180.8 594.9,180.8 595.7,180.8 596.5,180.8 597.2,180.8 598,180.8 600,145.6 600.8,145.6 601.5,145.6 602.3,144.8 603,145.6 603.8,144.8 604.5,144.8 605.3,144.8 606.1,144.8 606.8,144.8 607.6,144.8 608.3,144.8 609.1,144.8 609.9,144.8 610.6,144.8 611.4,144.8 612.1,144.8 612.9,144 613.6,144 614.4,144 615.2,144 615.9,144 616.7,144 617.4,144 618.2,144 619,143.2 619.7,143.2 620.5,143.2 621.2,144 622,143.2 622.7,142.4 623.5,143.2 626,96.8 626.8,96 627.5,94.4 628.2,93.6 629,92.8 629.8,91.2 630.5,92 631.2,91.2 632,90.4 632.8,89.6 633.5,89.6 634.2,89.6 635,89.6 635.8,88 636.5,88.8 637.2,88.8 638,88 638.8,88.8 639.5,88.8 640.2,88 641,88" fill="none" stroke="#0a30dc" stroke-width="1.65" stroke-linejoin="round"/><polyline points="641.2,88 641.2,66" fill="none" stroke="#3a4a8c" stroke-width="1.2" stroke-linejoin="round"/><polyline points="641.2,66 641.2,57" fill="none" stroke="#a02a90" stroke-width="1.6" stroke-linejoin="round"/><rect x="470" y="58" width="1" height="485" fill="#000" shape-rendering="crispEdges"/><rect x="383" y="339" width="277" height="1" fill="#333" shape-rendering="crispEdges"/><rect x="373" y="338.5" width="8" height="2" fill="#0a30dc" shape-rendering="crispEdges"/><rect x="381" y="56" width="281" height="2" fill="#000" shape-rendering="crispEdges"/><rect x="381" y="543" width="281" height="2" fill="#000" shape-rendering="crispEdges"/><rect x="381" y="56" width="2" height="489" fill="#000" shape-rendering="crispEdges"/><rect x="660" y="56" width="2" height="489" fill="#000" shape-rendering="crispEdges"/><rect x="374" y="541" width="7" height="1" fill="#111" shape-rendering="crispEdges"/><text x="368.5" y="545.5" fill="#2f50b4" font-size="11" text-anchor="end">0.500</text><rect x="374" y="517" width="7" height="1" fill="#111" shape-rendering="crispEdges"/><text x="368.5" y="521.3" fill="#2f50b4" font-size="11" text-anchor="end">0.525</text><rect x="374" y="493" width="7" height="1" fill="#111" shape-rendering="crispEdges"/><text x="368.5" y="497.2" fill="#2f50b4" font-size="11" text-anchor="end">0.550</text><rect x="374" y="469" width="7" height="1" fill="#111" shape-rendering="crispEdges"/><text x="368.5" y="473" fill="#2f50b4" font-size="11" text-anchor="end">0.575</text><rect x="374" y="444" width="7" height="1" fill="#111" shape-rendering="crispEdges"/><text x="368.5" y="448.9" fill="#2f50b4" font-size="11" text-anchor="end">0.600</text><rect x="374" y="420" width="7" height="1" fill="#111" shape-rendering="crispEdges"/><text x="368.5" y="424.7" fill="#2f50b4" font-size="11" text-anchor="end">0.625</text><rect x="374" y="396" width="7" height="1" fill="#111" shape-rendering="crispEdges"/><text x="368.5" y="400.5" fill="#2f50b4" font-size="11" text-anchor="end">0.650</text><rect x="374" y="372" width="7" height="1" fill="#111" shape-rendering="crispEdges"/><text x="368.5" y="376.4" fill="#2f50b4" font-size="11" text-anchor="end">0.675</text><rect x="374" y="348" width="7" height="1" fill="#111" shape-rendering="crispEdges"/><text x="368.5" y="352.2" fill="#2f50b4" font-size="11" text-anchor="end">0.700</text><rect x="374" y="324" width="7" height="1" fill="#111" shape-rendering="crispEdges"/><text x="368.5" y="328.1" fill="#2f50b4" font-size="11" text-anchor="end">0.725</text><rect x="374" y="299" width="7" height="1" fill="#111" shape-rendering="crispEdges"/><text x="368.5" y="303.9" fill="#2f50b4" font-size="11" text-anchor="end">0.750</text><rect x="374" y="275" width="7" height="1" fill="#111" shape-rendering="crispEdges"/><text x="368.5" y="279.7" fill="#2f50b4" font-size="11" text-anchor="end">0.775</text><rect x="374" y="251" width="7" height="1" fill="#111" shape-rendering="crispEdges"/><text x="368.5" y="255.6" fill="#2f50b4" font-size="11" text-anchor="end">0.800</text><rect x="374" y="227" width="7" height="1" fill="#111" shape-rendering="crispEdges"/><text x="368.5" y="231.4" fill="#2f50b4" font-size="11" text-anchor="end">0.825</text><rect x="374" y="203" width="7" height="1" fill="#111" shape-rendering="crispEdges"/><text x="368.5" y="207.3" fill="#2f50b4" font-size="11" text-anchor="end">0.850</text><rect x="374" y="179" width="7" height="1" fill="#111" shape-rendering="crispEdges"/><text x="368.5" y="183.1" fill="#2f50b4" font-size="11" text-anchor="end">0.875</text><rect x="374" y="154" width="7" height="1" fill="#111" shape-rendering="crispEdges"/><text x="368.5" y="158.9" fill="#2f50b4" font-size="11" text-anchor="end">0.900</text><rect x="374" y="130" width="7" height="1" fill="#111" shape-rendering="crispEdges"/><text x="368.5" y="134.8" fill="#2f50b4" font-size="11" text-anchor="end">0.925</text><rect x="374" y="106" width="7" height="1" fill="#111" shape-rendering="crispEdges"/><text x="368.5" y="110.6" fill="#2f50b4" font-size="11" text-anchor="end">0.950</text><rect x="374" y="82" width="7" height="1" fill="#111" shape-rendering="crispEdges"/><text x="368.5" y="86.5" fill="#2f50b4" font-size="11" text-anchor="end">0.975</text><rect x="378" y="536" width="3" height="1" fill="#111" shape-rendering="crispEdges"/><rect x="378" y="531" width="3" height="1" fill="#111" shape-rendering="crispEdges"/><rect x="378" y="527" width="3" height="1" fill="#111" shape-rendering="crispEdges"/><rect x="378" y="522" width="3" height="1" fill="#111" shape-rendering="crispEdges"/><rect x="378" y="512" width="3" height="1" fill="#111" shape-rendering="crispEdges"/><rect x="378" y="507" width="3" height="1" fill="#111" shape-rendering="crispEdges"/><rect x="378" y="502" width="3" height="1" fill="#111" shape-rendering="crispEdges"/><rect x="378" y="498" width="3" height="1" fill="#111" shape-rendering="crispEdges"/><rect x="378" y="488" width="3" height="1" fill="#111" shape-rendering="crispEdges"/><rect x="378" y="483" width="3" height="1" fill="#111" shape-rendering="crispEdges"/><rect x="378" y="478" width="3" height="1" fill="#111" shape-rendering="crispEdges"/><rect x="378" y="473" width="3" height="1" fill="#111" shape-rendering="crispEdges"/><rect x="378" y="464" width="3" height="1" fill="#111" shape-rendering="crispEdges"/><rect x="378" y="459" width="3" height="1" fill="#111" shape-rendering="crispEdges"/><rect x="378" y="454" width="3" height="1" fill="#111" shape-rendering="crispEdges"/><rect x="378" y="449" width="3" height="1" fill="#111" shape-rendering="crispEdges"/><rect x="378" y="440" width="3" height="1" fill="#111" shape-rendering="crispEdges"/><rect x="378" y="435" width="3" height="1" fill="#111" shape-rendering="crispEdges"/><rect x="378" y="430" width="3" height="1" fill="#111" shape-rendering="crispEdges"/><rect x="378" y="425" width="3" height="1" fill="#111" shape-rendering="crispEdges"/><rect x="378" y="415" width="3" height="1" fill="#111" shape-rendering="crispEdges"/><rect x="378" y="411" width="3" height="1" fill="#111" shape-rendering="crispEdges"/><rect x="378" y="406" width="3" height="1" fill="#111" shape-rendering="crispEdges"/><rect x="378" y="401" width="3" height="1" fill="#111" shape-rendering="crispEdges"/><rect x="378" y="391" width="3" height="1" fill="#111" shape-rendering="crispEdges"/><rect x="378" y="386" width="3" height="1" fill="#111" shape-rendering="crispEdges"/><rect x="378" y="382" width="3" height="1" fill="#111" shape-rendering="crispEdges"/><rect x="378" y="377" width="3" height="1" fill="#111" shape-rendering="crispEdges"/><rect x="378" y="367" width="3" height="1" fill="#111" shape-rendering="crispEdges"/><rect x="378" y="362" width="3" height="1" fill="#111" shape-rendering="crispEdges"/><rect x="378" y="357" width="3" height="1" fill="#111" shape-rendering="crispEdges"/><rect x="378" y="353" width="3" height="1" fill="#111" shape-rendering="crispEdges"/><rect x="378" y="343" width="3" height="1" fill="#111" shape-rendering="crispEdges"/><rect x="378" y="338" width="3" height="1" fill="#111" shape-rendering="crispEdges"/><rect x="378" y="333" width="3" height="1" fill="#111" shape-rendering="crispEdges"/><rect x="378" y="328" width="3" height="1" fill="#111" shape-rendering="crispEdges"/><rect x="378" y="319" width="3" height="1" fill="#111" shape-rendering="crispEdges"/><rect x="378" y="314" width="3" height="1" fill="#111" shape-rendering="crispEdges"/><rect x="378" y="309" width="3" height="1" fill="#111" shape-rendering="crispEdges"/><rect x="378" y="304" width="3" height="1" fill="#111" shape-rendering="crispEdges"/><rect x="378" y="295" width="3" height="1" fill="#111" shape-rendering="crispEdges"/><rect x="378" y="290" width="3" height="1" fill="#111" shape-rendering="crispEdges"/><rect x="378" y="285" width="3" height="1" fill="#111" shape-rendering="crispEdges"/><rect x="378" y="280" width="3" height="1" fill="#111" shape-rendering="crispEdges"/><rect x="378" y="270" width="3" height="1" fill="#111" shape-rendering="crispEdges"/><rect x="378" y="266" width="3" height="1" fill="#111" shape-rendering="crispEdges"/><rect x="378" y="261" width="3" height="1" fill="#111" shape-rendering="crispEdges"/><rect x="378" y="256" width="3" height="1" fill="#111" shape-rendering="crispEdges"/><rect x="378" y="246" width="3" height="1" fill="#111" shape-rendering="crispEdges"/><rect x="378" y="241" width="3" height="1" fill="#111" shape-rendering="crispEdges"/><rect x="378" y="237" width="3" height="1" fill="#111" shape-rendering="crispEdges"/><rect x="378" y="232" width="3" height="1" fill="#111" shape-rendering="crispEdges"/><rect x="378" y="222" width="3" height="1" fill="#111" shape-rendering="crispEdges"/><rect x="378" y="217" width="3" height="1" fill="#111" shape-rendering="crispEdges"/><rect x="378" y="212" width="3" height="1" fill="#111" shape-rendering="crispEdges"/><rect x="378" y="208" width="3" height="1" fill="#111" shape-rendering="crispEdges"/><rect x="378" y="198" width="3" height="1" fill="#111" shape-rendering="crispEdges"/><rect x="378" y="193" width="3" height="1" fill="#111" shape-rendering="crispEdges"/><rect x="378" y="188" width="3" height="1" fill="#111" shape-rendering="crispEdges"/><rect x="378" y="183" width="3" height="1" fill="#111" shape-rendering="crispEdges"/><rect x="378" y="174" width="3" height="1" fill="#111" shape-rendering="crispEdges"/><rect x="378" y="169" width="3" height="1" fill="#111" shape-rendering="crispEdges"/><rect x="378" y="164" width="3" height="1" fill="#111" shape-rendering="crispEdges"/><rect x="378" y="159" width="3" height="1" fill="#111" shape-rendering="crispEdges"/><rect x="378" y="150" width="3" height="1" fill="#111" shape-rendering="crispEdges"/><rect x="378" y="145" width="3" height="1" fill="#111" shape-rendering="crispEdges"/><rect x="378" y="140" width="3" height="1" fill="#111" shape-rendering="crispEdges"/><rect x="378" y="135" width="3" height="1" fill="#111" shape-rendering="crispEdges"/><rect x="378" y="125" width="3" height="1" fill="#111" shape-rendering="crispEdges"/><rect x="378" y="121" width="3" height="1" fill="#111" shape-rendering="crispEdges"/><rect x="378" y="116" width="3" height="1" fill="#111" shape-rendering="crispEdges"/><rect x="378" y="111" width="3" height="1" fill="#111" shape-rendering="crispEdges"/><rect x="378" y="101" width="3" height="1" fill="#111" shape-rendering="crispEdges"/><rect x="378" y="96" width="3" height="1" fill="#111" shape-rendering="crispEdges"/><rect x="378" y="92" width="3" height="1" fill="#111" shape-rendering="crispEdges"/><rect x="378" y="87" width="3" height="1" fill="#111" shape-rendering="crispEdges"/><rect x="378" y="77" width="3" height="1" fill="#111" shape-rendering="crispEdges"/><rect x="378" y="72" width="3" height="1" fill="#111" shape-rendering="crispEdges"/><rect x="378" y="67" width="3" height="1" fill="#111" shape-rendering="crispEdges"/><rect x="378" y="63" width="3" height="1" fill="#111" shape-rendering="crispEdges"/><text transform="translate(330,300) rotate(-90)" fill="#2f50b4" font-size="11" text-anchor="middle" textLength="83" lengthAdjust="spacingAndGlyphs">LabNTKa_U12 (λ)</text><polygon points="373.2,243.2 373.2,250.8 380.8,247" fill="#0a30dc" stroke="#001060" stroke-width="0.8"/><text x="387" y="250.3" fill="#1a1a1a" font-size="9" text-anchor="start">0.805</text><text x="629.5" y="55.5" fill="#1a1a1a" font-size="9" text-anchor="start">1.108</text><polygon points="655,55.6 663,55.6 659,47.6" fill="#0a30dc" stroke="#001060" stroke-width="0.8"/><polygon points="405,544.8 413,544.8 409,552.8" fill="#0a30dc" stroke="#001060" stroke-width="0.8"/><text x="416.3" y="551" fill="#1a1a1a" font-size="9" text-anchor="start">0.627</text></svg></div><div class="pn" style="left:320px;top:557px;width:350px;height:245px;"><svg width="348" height="243" viewBox="321 558 348 243"><rect x="382.5" y="567.5" width="278" height="181" fill="#fff" stroke="#c8c8c8" stroke-width="1"/><clipPath id="cl1"><rect x="383" y="568" width="277" height="180"/></clipPath><g clip-path="url(#cl1)"><polygon points="382,651 382.8,651 383.6,651 384.4,651 385.2,651 386.1,651 386.9,651 387.7,651 388.5,651 389.3,651 390.1,651 390.9,651 391.7,651 392.5,651 393.4,651 394.2,651 395,651 395.8,651 396.6,651 397.4,651 398.2,651 399,651 399.8,651 400.6,651 401.5,651 402.3,651 403.1,651 403.9,651 404.7,651 405.5,651 406.3,651 407.1,651 407.9,651 408.8,651 409.6,651 410.4,651 411.2,651 412,651 412,655.9 411.2,657.1 410.4,657.2 409.6,656.4 408.8,657 407.9,656.3 407.1,657.2 406.3,656.8 405.5,657.1 404.7,656.9 403.9,656.5 403.1,657.1 402.3,655.7 401.5,656.2 400.6,656.6 399.8,656.9 399,655.8 398.2,656.8 397.4,656.9 396.6,656.5 395.8,657.1 395,656.7 394.2,655.9 393.4,656.7 392.5,656.5 391.7,657 390.9,656.5 390.1,657.3 389.3,656.1 388.5,656.1 387.7,657 386.9,655.7 386.1,655.8 385.2,656.7 384.4,656.7 383.6,656.3 382.8,656.6 382,656.1" fill="#10e050"/><polygon points="428,651 428.8,651 429.6,651 430.4,651 431.2,651 432,651 432.8,651 433.6,651 434.4,651 435.2,651 436,651 436.8,651 437.6,651 438.4,651 439.2,651 440,651 440.8,651 441.6,651 442.4,651 443.2,651 444,651 444.8,651 445.6,651 446.4,651 447.2,651 448,651 448.8,651 449.6,651 450.4,651 451.2,651 452,651 452.8,651 453.6,651 454.4,651 455.2,651 456,651 456.8,651 457.6,651 458.4,651 459.2,651 460,651 460.8,651 461.6,651 462.4,651 463.2,651 464,651 464.8,651 465.6,651 466.4,651 467.2,651 468,651 468.8,651 469.6,651 470.4,651 471.2,651 472,651 472,657 471.2,655.8 470.4,656 469.6,656.8 468.8,656.6 468,656.3 467.2,656.1 466.4,657.1 465.6,656.3 464.8,656.7 464,657.9 463.2,657.1 462.4,658 461.6,657.8 460.8,657 460,657.7 459.2,656.6 458.4,657.6 457.6,656.7 456.8,658.1 456,657.9 455.2,657.2 454.4,657 453.6,657.4 452.8,658.1 452,656.9 451.2,658.4 450.4,658.2 449.6,656.9 448.8,657.2 448,657.7 447.2,658.1 446.4,657.1 445.6,657.9 444.8,657.6 444,658.1 443.2,658.2 442.4,658 441.6,656.8 440.8,657.6 440,658.1 439.2,657.8 438.4,657.9 437.6,657.4 436.8,657.7 436,657.2 435.2,657.1 434.4,656.7 433.6,656.7 432.8,656.8 432,656.4 431.2,656.9 430.4,656.5 429.6,657.3 428.8,656 428,655.8" fill="#10e050"/><polygon points="601,651 601.8,651 602.6,651 603.5,651 604.3,651 605.1,651 605.9,651 606.8,651 607.6,651 608.4,651 609.2,651 610,651 610.9,651 611.7,651 612.5,651 613.3,651 614.1,651 615,651 615.8,651 616.6,651 617.4,651 618.2,651 619.1,651 619.9,651 620.7,651 621.5,651 622.4,651 623.2,651 624,651 624,662.1 623.2,661.7 622.4,662 621.5,661.1 620.7,662 619.9,662 619.1,661 618.2,661.9 617.4,661.7 616.6,661 615.8,661.9 615,661.7 614.1,662.1 613.3,660.8 612.5,660.4 611.7,660.9 610.9,660.1 610,660 609.2,660.4 608.4,659.6 607.6,659.2 606.8,659 605.9,658.7 605.1,658.3 604.3,657.9 603.5,657.5 602.6,658 601.8,657.8 601,656.5" fill="#10e050"/><polygon points="625,651 625.8,651 626.6,651 627.4,651 628.2,651 629,651 629.8,651 630.6,651 631.4,651 632.2,651 633,651 633.8,651 634.6,651 635.4,651 636.2,651 637,651 637.8,651 638.6,651 639.4,651 640.2,651 641,651 641,658.2 640.2,658 639.4,657.1 638.6,658.4 637.8,657.8 637,657.7 636.2,658.3 635.4,657.9 634.6,657.9 633.8,658 633,658 632.2,658.5 631.4,658.3 630.6,658.1 629.8,659.2 629,658.8 628.2,657.9 627.4,657.9 626.6,659.1 625.8,659.1 625,658.6" fill="#10e050"/><polygon points="642,651 642.8,651 643.6,651 644.4,651 645.2,651 646,651 646.9,651 647.7,651 648.5,651 649.3,651 650.1,651 650.9,651 651.7,651 652.5,651 653.3,651 654.1,651 655,651 655.8,651 656.6,651 657.4,651 658.2,651 659,651 659,659.8 658.2,660.2 657.4,659.5 656.6,659.5 655.8,659.7 655,660.3 654.1,659.8 653.3,659.2 652.5,658.8 651.7,659.8 650.9,659 650.1,659.5 649.3,658.6 648.5,658.5 647.7,658 646.9,658.8 646,658.3 645.2,657.8 644.4,657.7 643.6,658.5 642.8,657.5 642,657.5" fill="#10e050"/><polyline points="411,655 411,665" fill="none" stroke="#10e050" stroke-width="1" stroke-linejoin="round"/><polyline points="629.3,655 629.3,665.5" fill="none" stroke="#3aa860" stroke-width="1" stroke-linejoin="round"/><polyline points="382,630.3 385,630.3 388,630.3 391.1,630.3 394.1,630.3 397.1,630.3 400.1,630.3 403.2,630.3 406.2,630.3 409.2,630.3 412.2,630.3 415.2,630.3 418.3,630.3 421.3,630.3 424.3,630.3 427.3,630.3 430.3,630.3 433.4,630.3 436.4,630.3 439.4,630.3 442.4,630.3 445.5,630.3 448.5,630.3 451.5,630.3 454.5,630.3 457.5,630.3 460.6,630.3 463.6,630.3 466.6,630.3 469.6,630.3 472.7,630.3 475.7,630.3 478.7,630.3 481.7,630.3 484.7,630.3 487.8,630.3 490.8,630.3 493.8,630.3 496.8,630.3 499.8,630.3 502.9,630.3 505.9,630.3 508.9,630.3 511.9,630.3 515,630.3 518,630.3 521,630.3 524,630.3 527,630.3 530.1,630.3 533.1,630.3 536.1,630.3 539.1,630.3 542.2,630.3 545.2,630.3 548.2,630.3 551.2,630.3 554.2,630.3 557.3,630.3 560.3,630.3 563.3,630.3 566.3,630.3 569.3,630.3 572.4,630.3 575.4,630.3 578.4,630.3 581.4,630.3 584.5,630.3 587.5,630.3 590.5,630.3 593.5,630.3 596.5,630.3 599.6,630.3 602.6,630.3 605.6,630.3 608.6,630.3 611.7,630.3 614.7,630.3 617.7,630.3 620.7,630.3 623.7,630.3 626.8,630.3 629.8,630.3 632.8,630.3 635.8,630.3 638.8,630.3 641.9,630.3 644.9,630.3 647.9,630.3 650.9,630.3 654,630.3 657,630.3 660,630.3" fill="none" stroke="#2cb000" stroke-width="1.4" stroke-linejoin="round"/><rect x="386.3" y="631" width="2.1" height="1" fill="#8fd070"/><rect x="392.8" y="631" width="4.3" height="1" fill="#8fd070"/><rect x="397.1" y="631" width="2" height="1" fill="#8fd070"/><rect x="399.1" y="631" width="4.3" height="1" fill="#8fd070"/><rect x="403.3" y="631" width="2.7" height="1" fill="#8fd070"/><rect x="406.1" y="631" width="3" height="1" fill="#8fd070"/><rect x="409" y="631" width="4.7" height="1" fill="#8fd070"/><rect x="422.9" y="631" width="4.7" height="1" fill="#8fd070"/><rect x="431.7" y="631" width="3.8" height="1" fill="#8fd070"/><rect x="435.5" y="631" width="2.5" height="1" fill="#8fd070"/><rect x="438.1" y="631" width="2.3" height="1" fill="#8fd070"/><rect x="440.3" y="631" width="3.6" height="1" fill="#8fd070"/><rect x="443.9" y="631" width="4.3" height="1" fill="#8fd070"/><rect x="463.8" y="631" width="2.1" height="1" fill="#8fd070"/><rect x="465.9" y="631" width="3.8" height="1" fill="#8fd070"/><rect x="472.7" y="631" width="3.6" height="1" fill="#8fd070"/><rect x="481.9" y="631" width="2.7" height="1" fill="#8fd070"/><rect x="494.8" y="631" width="4.4" height="1" fill="#8fd070"/><rect x="502.9" y="631" width="1.7" height="1" fill="#8fd070"/><rect x="504.6" y="631" width="2.4" height="1" fill="#8fd070"/><rect x="507" y="631" width="3" height="1" fill="#8fd070"/><rect x="510" y="631" width="4.2" height="1" fill="#8fd070"/><rect x="514.2" y="631" width="1.7" height="1" fill="#8fd070"/><rect x="515.9" y="631" width="1.9" height="1" fill="#8fd070"/><rect x="522.8" y="631" width="1.8" height="1" fill="#8fd070"/><rect x="524.6" y="631" width="2.6" height="1" fill="#8fd070"/><rect x="529.9" y="631" width="3.6" height="1" fill="#8fd070"/><rect x="533.5" y="631" width="2.2" height="1" fill="#8fd070"/><rect x="537.6" y="631" width="4" height="1" fill="#8fd070"/><rect x="541.6" y="631" width="1.8" height="1" fill="#8fd070"/><rect x="546.1" y="631" width="4.2" height="1" fill="#8fd070"/><rect x="554.7" y="631" width="3" height="1" fill="#8fd070"/><rect x="563.9" y="631" width="3.1" height="1" fill="#8fd070"/><rect x="570.4" y="631" width="1.8" height="1" fill="#8fd070"/><rect x="575.1" y="631" width="4.8" height="1" fill="#8fd070"/><rect x="584.6" y="631" width="2.4" height="1" fill="#8fd070"/><rect x="602.9" y="631" width="1.5" height="1" fill="#8fd070"/><rect x="604.4" y="631" width="4.2" height="1" fill="#8fd070"/><rect x="608.7" y="631" width="1.8" height="1" fill="#8fd070"/><rect x="610.5" y="631" width="4.6" height="1" fill="#8fd070"/><rect x="627.3" y="631" width="4.3" height="1" fill="#8fd070"/><rect x="631.6" y="631" width="4.2" height="1" fill="#8fd070"/><rect x="635.7" y="631" width="4" height="1" fill="#8fd070"/><rect x="643.9" y="631" width="1.7" height="1" fill="#8fd070"/><rect x="649.1" y="631" width="2.3" height="1" fill="#8fd070"/><rect x="653.8" y="631" width="4.1" height="1" fill="#8fd070"/><rect x="657.9" y="631" width="2.8" height="1" fill="#8fd070"/><polyline points="382,637 384.5,636.4 387,637.9 389.5,637 392,637.9 394.5,636.4 397,637 399.5,637.9 402,637 404.5,637.9 407,636.4 409.5,636.4 412.1,636.4 414.6,637.9 417.1,637 419.6,637.9 422.1,637 424.6,637 427.1,637 429.6,637.9 432.1,637.9 434.6,636.4 437.1,637.9 439.6,636.4 442.1,637 444.6,637 447.1,637 449.6,637 452.1,637 454.6,636.4 457.1,636.4 459.6,637 462.1,637 464.6,636.4 467.2,637 469.7,637.9 472.2,636.4 474.7,636.4 477.2,636.4 479.7,637 482.2,637 484.7,637 487.2,637 489.7,637 492.2,637.9 494.7,637.9 497.2,637 499.7,637 502.2,636.4 504.7,637 507.2,637 509.7,637 512.2,637.9 514.7,637 517.2,637.9 519.7,637.9 522.3,636.4 524.8,637 527.3,637.9 529.8,636.4 532.3,636.4 534.8,637 537.3,637.9 539.8,637 542.3,637.9 544.8,637 547.3,637.9 549.8,637 552.3,637 554.8,637 557.3,637 559.8,637 562.3,637 564.8,637 567.3,637 569.8,637 572.3,637 574.8,636.4 577.4,637 579.9,637 582.4,637 584.9,637 587.4,637 589.9,637 592.4,637.9 594.9,637 597.4,637 599.9,637 602.4,637 604.9,637 607.4,637 609.9,637 612.4,637 614.9,637.9 617.4,636.4 619.9,637 622.4,637 624.9,637 627.4,637 629.9,637 632.5,637.9 635,637.9 637.5,637.9 640,637 642.5,637 645,636.4 647.5,637.9 650,637.9 652.5,637 655,636.4 657.5,637 660,637" fill="none" stroke="#1020c8" stroke-width="1.5" stroke-linejoin="round"/><polygon points="382,645.1 382.7,645.8 383.4,644.2 384.1,644.4 384.8,645.1 385.5,643.6 386.2,644.8 386.9,644.4 387.6,644.3 388.3,644.3 389,644.2 389.7,643.1 390.4,643 391.1,643.6 391.8,642.9 392.5,642.7 393.2,643.7 393.9,642.1 394.6,642.5 395.3,641.9 396,642.6 396.7,642.8 397.4,642.2 398.1,640.5 398.8,642.3 399.5,641 400.2,641.1 400.9,640.3 401.6,640 402.3,639.8 403,641 403.7,639.7 404.4,640 405.1,640.6 405.8,641 406.5,640.5 407.2,639.6 407.9,639.9 408.6,638.3 409.3,638.6 410,638.7 410.7,600.7 411.4,608.8 412.1,614.6 412.8,620.8 413.5,625.6 414.2,628.4 414.9,631.4 415.6,633.6 416.3,635.3 417,635.1 417.7,637.6 418.4,637.5 419.1,638.5 419.8,639.8 420.5,640 421.2,640.7 421.9,640.5 422.6,640.1 423.3,641.5 424,641 424.7,640.7 425.4,641.8 426.1,640.6 426.8,640.8 427.5,641.5 428.2,641.4 428.9,641.2 429.6,641.3 430.3,619.9 431,624 431.7,628.3 432.4,632.1 433.1,634.8 433.8,636.5 434.5,638.5 435.2,639 435.9,639.3 436.6,639.5 437.3,640.3 438,640.9 438.7,641.8 439.4,641 440.1,640.6 440.8,642.2 441.5,642.5 442.2,642.3 442.9,643.1 443.6,642.1 444.3,642.2 445,641.7 445.7,642.9 446.4,642.2 447.1,642.4 447.8,641.7 448.5,642.3 449.2,640.8 449.9,641.4 450.6,641.9 451.3,642.4 452,642.1 452.7,642.5 453.4,641.2 454.1,641.5 454.8,641 455.5,641.5 456.2,641.5 456.9,642.5 457.6,641.7 458.3,642.6 459,642.1 459.7,641.8 460.4,642.8 461.1,641.8 461.8,642.7 462.5,642.3 463.2,642.2 463.9,641.3 464.6,642.3 465.3,642.3 466,643 466.7,641.8 467.4,642.5 468.1,641.7 468.8,642.3 469.5,642 470.2,642.3 470.9,643.1 471.6,642.3 472.3,642.3 473,642.2 473.7,642.1 474.4,621 475.1,624.6 475.8,627.9 476.5,630.5 477.2,632.9 477.9,633.7 478.6,634.9 479.3,635.3 480,636.3 480.7,636.8 481.4,638.8 482.1,638.2 482.8,639 483.5,638.3 484.2,640 484.9,638.6 485.6,638.4 486.3,639.5 487,638.6 487.7,639.6 488.4,638.9 489.1,639.4 489.8,638.4 490.5,639.4 491.2,640 491.9,639.4 492.6,639.8 493.3,640.1 494,640.1 494.7,640.1 495.4,638.9 496.1,628.2 496.8,630 497.5,631.3 498.2,633.1 498.9,633 499.6,634.2 500.3,635.9 501,635.6 501.7,636.8 502.4,636.8 503.1,637.9 503.8,636.8 504.5,638.4 505.2,637.4 505.9,638.1 506.6,638 507.3,638.2 508,637.5 508.7,637.7 509.4,637.6 510.1,638.8 510.8,638.5 511.5,637.6 512.2,638.3 512.9,637.6 513.6,638.4 514.3,637.8 515,638.4 515.7,637.9 516.4,638.2 517.1,637.5 517.8,638.1 518.5,638.1 519.2,638.7 519.9,638.2 520.6,621 521.3,622.4 522,625.2 522.7,627.4 523.4,628.8 524.1,630 524.8,629.4 525.5,631.1 526.2,632.3 526.9,633.2 527.6,633.5 528.3,634.7 529,634 529.7,634 530.4,635.3 531.1,634.5 531.8,635.1 532.5,634.3 533.2,636.6 533.9,636 534.6,635.4 535.3,635.5 536,636 536.7,636.5 537.4,636 538.1,636.7 538.8,636.8 539.5,635.8 540.2,637.2 540.9,635.7 541.6,636.6 542.3,635.6 543,636.3 543.7,636 544.4,637.2 545.1,624.7 545.8,627.3 546.5,629 547.2,629.2 547.9,631.5 548.6,633 549.3,633 550,634.7 550.7,635.6 551.4,636 552.1,636.8 552.8,635.3 553.5,637.3 554.2,636.8 554.9,637.7 555.6,638.4 556.3,637.1 557,638.2 557.7,637.2 558.4,637.5 559.1,637.5 559.8,637.5 560.5,637.9 561.2,638.3 561.9,637.9 562.6,637.7 563.3,637.3 564,638.8 564.7,638.2 565.4,638.5 566.1,637.5 566.8,638.7 567.5,639 568.2,637.5 568.9,638.7 569.6,637 570.3,617.8 571,620.4 571.7,621.6 572.4,623.8 573.1,626 573.8,627.6 574.5,628.6 575.2,629.4 575.9,630.4 576.6,632.9 577.3,633.9 578,633.4 578.7,634.8 579.4,634.5 580.1,636.8 580.8,635.9 581.5,637.4 582.2,638.4 582.9,637.9 583.6,639.7 584.3,638.5 585,639.9 585.7,641.1 586.4,640.1 587.1,640.6 587.8,639.8 588.5,642 589.2,641.9 589.9,641.7 590.6,640.6 591.3,643.3 592,641.9 592.7,641.2 593.4,642.3 594.1,643.4 594.8,642.3 595.5,643 596.2,642.3 596.9,642.5 597.6,642.5 598.3,643.2 599,630.4 599.7,632 600.4,635 601.1,638.3 601.8,638.4 602.5,639.8 603.2,640.1 603.9,640.8 604.6,642.3 605.3,643 606,643.7 606.7,643.1 607.4,644.6 608.1,645 608.8,645.5 609.5,645.6 610.2,645.9 610.9,645.2 611.6,646.3 612.3,646.5 613,646.6 613.7,647.2 614.4,647.6 615.1,647.3 615.8,646.4 616.5,647.4 617.2,647.3 617.9,647.8 618.6,647.1 619.3,648.6 620,648.6 620.7,647.3 621.4,647.9 622.1,648 622.8,648.4 623.5,648.1 624.2,633.8 624.9,635.7 625.6,638 626.3,640.2 627,639.4 627.7,641.1 628.4,642.5 629.1,644 629.8,644 630.5,645.4 631.2,644.5 631.9,645.5 632.6,645.1 633.3,645.7 634,646.6 634.7,645.7 635.4,646.2 636.1,646.5 636.8,646.5 637.5,647.4 638.2,647 638.9,647.5 639.6,647.5 640.3,647 641,647.7 641.7,635.9 642.4,637.3 643.1,638.6 643.8,640.5 644.5,641.1 645.2,642.3 645.9,643.4 646.6,643.9 647.3,645 648,644.6 648.7,645.2 649.4,646.3 650.1,646.5 650.8,645.2 651.5,647.4 652.2,646.6 652.9,646.4 653.6,647.3 654.3,647.1 655,647.1 655.7,647.9 656.4,646.8 657.1,647.4 657.8,614.2 658.5,617.6 659.2,619.5 659.9,622.1 659.9,629.5 659.2,626.8 658.5,624.5 657.8,620.8 657.1,653.9 656.4,655.4 655.7,654.6 655,653.8 654.3,653.7 653.6,653.5 652.9,652.7 652.2,653.3 651.5,653.7 650.8,653.7 650.1,653.9 649.4,652.3 648.7,653.1 648,652 647.3,651.6 646.6,650.8 645.9,650 645.2,648.6 644.5,648.3 643.8,647.7 643.1,645.6 642.4,644.5 641.7,642.5 641,655.1 640.3,654.3 639.6,653.9 638.9,654.1 638.2,654.4 637.5,653.7 636.8,654 636.1,653.7 635.4,653.8 634.7,652.6 634,652.9 633.3,653.4 632.6,653.1 631.9,652.1 631.2,651 630.5,652.1 629.8,651.1 629.1,650.3 628.4,649.3 627.7,649.1 627,646.9 626.3,646.3 625.6,645.1 624.9,642.3 624.2,640 623.5,654.5 622.8,655.3 622.1,656 621.4,655.1 620.7,655.5 620,655.8 619.3,655.7 618.6,655.1 617.9,654.5 617.2,654.5 616.5,654.4 615.8,654 615.1,654.4 614.4,654.2 613.7,654.3 613,654.5 612.3,653.5 611.6,653.8 610.9,652.7 610.2,653.4 609.5,653.1 608.8,652.9 608.1,652.2 607.4,651.6 606.7,650.7 606,650.3 605.3,650.1 604.6,649.7 603.9,648.3 603.2,647.1 602.5,646.3 601.8,645.4 601.1,645.5 600.4,643.2 599.7,643.2 599,642.3 598.3,654.5 597.6,655.6 596.9,655.4 596.2,654.8 595.5,653.7 594.8,655.1 594.1,654.6 593.4,654.8 592.7,654.3 592,653.7 591.3,653.9 590.6,652.9 589.9,653.4 589.2,653 588.5,653.5 587.8,652.2 587.1,652.9 586.4,652.4 585.7,651.6 585,652.1 584.3,651.3 583.6,651.3 582.9,650.6 582.2,650.2 581.5,649.3 580.8,649.2 580.1,647.8 579.4,646.6 578.7,647.3 578,646.1 577.3,645 576.6,643.9 575.9,642.5 575.2,641.4 574.5,640.6 573.8,639.4 573.1,636.7 572.4,636.3 571.7,634.6 571,632.4 570.3,628.8 569.6,646.6 568.9,648.1 568.2,647.1 567.5,647.9 566.8,647.7 566.1,647.2 565.4,647.6 564.7,647 564,647.6 563.3,647.7 562.6,647.7 561.9,647.4 561.2,646.9 560.5,647.3 559.8,648.1 559.1,646.9 558.4,646.8 557.7,646.4 557,647.9 556.3,646.8 555.6,647.5 554.9,646.5 554.2,646.7 553.5,646.1 552.8,645.6 552.1,645.3 551.4,644.6 550.7,644.1 550,644.5 549.3,642.8 548.6,641.5 547.9,641.1 547.2,639.3 546.5,637.8 545.8,637.2 545.1,634.2 544.4,648.4 543.7,648.3 543,648.3 542.3,647.8 541.6,647.8 540.9,647.3 540.2,647.8 539.5,647.3 538.8,648.3 538.1,648.5 537.4,647.8 536.7,647.9 536,647.3 535.3,648.2 534.6,647.2 533.9,647.6 533.2,648.1 532.5,646.8 531.8,647.3 531.1,646 530.4,646.7 529.7,646.2 529,645.6 528.3,646 527.6,645.4 526.9,644.7 526.2,644.4 525.5,642.9 524.8,641.7 524.1,641.7 523.4,641.2 522.7,638.6 522,636.2 521.3,634.8 520.6,632.9 519.9,649.9 519.2,650.5 518.5,650.3 517.8,650.6 517.1,649.5 516.4,650.7 515.7,650.5 515,650.4 514.3,650 513.6,649.5 512.9,649.4 512.2,649.2 511.5,649.7 510.8,650.3 510.1,649.7 509.4,650 508.7,648.7 508,648.9 507.3,650.3 506.6,649.6 505.9,649.9 505.2,648.8 504.5,649.1 503.8,648.6 503.1,649 502.4,648.5 501.7,648.1 501,647.9 500.3,647.5 499.6,646.4 498.9,646.1 498.2,645.2 497.5,643.4 496.8,642.4 496.1,639.6 495.4,650.8 494.7,652.2 494,652.1 493.3,651.5 492.6,650.9 491.9,651.9 491.2,651.6 490.5,651.8 489.8,651.1 489.1,651.3 488.4,651.2 487.7,651.1 487,651.3 486.3,650.5 485.6,650.5 484.9,650.3 484.2,651.4 483.5,649.6 482.8,651 482.1,649.8 481.4,649.7 480.7,649 480,648 479.3,647.3 478.6,646.2 477.9,645.1 477.2,644.3 476.5,641.9 475.8,639.6 475.1,636 474.4,632.1 473.7,654.1 473,652.9 472.3,653.3 471.6,655.4 470.9,655.4 470.2,654.1 469.5,654.2 468.8,654.4 468.1,654.8 467.4,653.9 466.7,654.7 466,654.2 465.3,654.6 464.6,655 463.9,654.3 463.2,655.4 462.5,654.3 461.8,654.8 461.1,654.6 460.4,654.3 459.7,654.7 459,653.7 458.3,654.6 457.6,654.8 456.9,655.3 456.2,654.9 455.5,654.8 454.8,653.9 454.1,654.5 453.4,654.3 452.7,653.8 452,655.6 451.3,653.9 450.6,654.3 449.9,654.2 449.2,654.9 448.5,654.9 447.8,655.2 447.1,654.5 446.4,654.9 445.7,654.9 445,654 444.3,655.3 443.6,653.9 442.9,655.2 442.2,653.7 441.5,654.2 440.8,654 440.1,653.5 439.4,654.4 438.7,653.8 438,652.9 437.3,652.7 436.6,653.4 435.9,652.4 435.2,651.6 434.5,650.1 433.8,648.2 433.1,647.9 432.4,643.8 431.7,642.1 431,637.1 430.3,631.2 429.6,652.7 428.9,654.5 428.2,653.1 427.5,653.5 426.8,654.3 426.1,652.5 425.4,653.4 424.7,653.8 424,652.2 423.3,653.2 422.6,652.7 421.9,652.8 421.2,652.5 420.5,652.4 419.8,652.6 419.1,651.4 418.4,650.3 417.7,649.7 417,648.1 416.3,646.8 415.6,645.3 414.9,643.1 414.2,640.8 413.5,637.6 412.8,633 412.1,628.3 411.4,622 410.7,613.4 410,651 409.3,651.1 408.6,651.1 407.9,650.9 407.2,651.8 406.5,651.3 405.8,652.4 405.1,651.5 404.4,651.8 403.7,652.1 403,652.9 402.3,651.9 401.6,652 400.9,653.2 400.2,652.6 399.5,652.9 398.8,652.8 398.1,653.1 397.4,651.9 396.7,652.7 396,653.4 395.3,653.6 394.6,652.8 393.9,652.8 393.2,653.3 392.5,652.8 391.8,653.7 391.1,654.4 390.4,653.9 389.7,653.8 389,654.4 388.3,654 387.6,654.8 386.9,654.2 386.2,654 385.5,653.7 384.8,654.6 384.1,654.5 383.4,654.6 382.7,654.9 382,655.4" fill="#808080"/><polyline points="382,648.8 382.7,648.4 383.4,648.7 384.1,648.9 384.8,649 385.5,647.9 386.2,648.8 386.9,648.8 387.6,648.1 388.3,647.6 389,647.6 389.7,648 390.4,648.5 391.1,647.8 391.8,648 392.5,646.9 393.2,648.5 393.9,647.6 394.6,647.3 395.3,647.3 396,648 396.7,647 397.4,646.5 398.1,647.4 398.8,647.6 399.5,647.3 400.2,647.1 400.9,646.3 401.6,646.5 402.3,646.3 403,647.1 403.7,646.1 404.4,645.9 405.1,646.1 405.8,646.5 406.5,646.3 407.2,646.6 407.9,645.5 408.6,645.7 409.3,644.8 410,645.9 410.7,608.1 411.4,616.2 412.1,622.7 412.8,627.4 413.5,632.7 414.2,635.6 414.9,637.7 415.6,639.6 416.3,641.9 417,642.2 417.7,643.6 418.4,644.5 419.1,645.2 419.8,646 420.5,646.4 421.2,647.7 421.9,647.5 422.6,647.6 423.3,648.2 424,647.2 424.7,647 425.4,648.5 426.1,647.3 426.8,647.4 427.5,648.2 428.2,648 428.9,648.7 429.6,647.2 430.3,626.6 431,631.5 431.7,636 432.4,638.9 433.1,641.9 433.8,643 434.5,645.1 435.2,645.4 435.9,646.8 436.6,647.4 437.3,647.4 438,647.4 438.7,648.1 439.4,648.6 440.1,648.5 440.8,649.5 441.5,649.1 442.2,648.4 442.9,649.7 443.6,649.2 444.3,649.5 445,648.4 445.7,649.1 446.4,648.5 447.1,649 447.8,649 448.5,649.2 449.2,648 449.9,648.5 450.6,648.9 451.3,648.7 452,649.7 452.7,648.9 453.4,649 454.1,648.7 454.8,648.6 455.5,649.4 456.2,648.5 456.9,649.9 457.6,649.4 458.3,649.1 459,648.3 459.7,648.2 460.4,649.6 461.1,648.1 461.8,649.4 462.5,648.2 463.2,649.4 463.9,648.3 464.6,648.7 465.3,648.8 466,649.4 466.7,648.5 467.4,648.9 468.1,648.9 468.8,648.3 469.5,649.2 470.2,648.8 470.9,649.1 471.6,649.4 472.3,648.6 473,648.4 473.7,649.8 474.4,627.6 475.1,630.8 475.8,633.9 476.5,636.8 477.2,639 477.9,640.2 478.6,641.5 479.3,642.5 480,643.6 480.7,644.8 481.4,644.3 482.1,645.4 482.8,645.2 483.5,645 484.2,645.5 484.9,646.2 485.6,646.4 486.3,645.5 487,645.6 487.7,646.7 488.4,646.2 489.1,646 489.8,645.4 490.5,646.1 491.2,647.3 491.9,646.9 492.6,645.9 493.3,646.9 494,646.8 494.7,646.7 495.4,645.7 496.1,634.4 496.8,637.4 497.5,639.2 498.2,639.3 498.9,641.1 499.6,641.8 500.3,642.7 501,642.9 501.7,642.7 502.4,643.7 503.1,644.2 503.8,643.6 504.5,644.3 505.2,644.1 505.9,644 506.6,644.7 507.3,645.5 508,644.9 508.7,644.4 509.4,645.3 510.1,645.2 510.8,645.8 511.5,645 512.2,644.7 512.9,644.4 513.6,644.7 514.3,644.7 515,644.9 515.7,644.9 516.4,644.8 517.1,645.2 517.8,645.7 518.5,645.3 519.2,645.6 519.9,645.2 520.6,628 521.3,630.4 522,631.9 522.7,633.9 523.4,636.2 524.1,636 524.8,637 525.5,637.9 526.2,639.4 526.9,639.7 527.6,640.1 528.3,641.3 529,640.9 529.7,641.1 530.4,641.9 531.1,641.5 531.8,642.5 532.5,642.2 533.2,642.4 533.9,642.4 534.6,642.8 535.3,642.3 536,642.2 536.7,643.4 537.4,642.2 538.1,643.4 538.8,643 539.5,643.3 540.2,642.8 540.9,643 541.6,642.7 542.3,643.4 543,643.5 543.7,643.4 544.4,643.3 545.1,630.5 545.8,632.3 546.5,634.2 547.2,635.7 547.9,636.9 548.6,638.3 549.3,638.1 550,640.5 550.7,640.5 551.4,640.9 552.1,641.2 552.8,641.2 553.5,642.5 554.2,642.3 554.9,643 555.6,643 556.3,642.6 557,643.2 557.7,643.1 558.4,643 559.1,643.9 559.8,643.6 560.5,642.8 561.2,643.1 561.9,643.4 562.6,643.1 563.3,643.3 564,643.9 564.7,643.2 565.4,644.1 566.1,643 566.8,643.1 567.5,644.1 568.2,643.6 568.9,644.3 569.6,642.8 570.3,624 571,626.9 571.7,629.4 572.4,630.4 573.1,632.5 573.8,633.7 574.5,636 575.2,636.9 575.9,638.5 576.6,638.9 577.3,639.9 578,640.6 578.7,641.8 579.4,642.2 580.1,643.1 580.8,643 581.5,644.6 582.2,645 582.9,644.9 583.6,646.1 584.3,646.1 585,646.5 585.7,646.8 586.4,647.1 587.1,647.6 587.8,647.9 588.5,648.8 589.2,648 589.9,648.4 590.6,647.8 591.3,649.6 592,649 592.7,649.2 593.4,648.9 594.1,649.4 594.8,650 595.5,648.8 596.2,649.7 596.9,650.2 597.6,649.7 598.3,649.6 599,637 599.7,638.7 600.4,640.1 601.1,642.4 601.8,642.3 602.5,643.4 603.2,644.6 603.9,645.6 604.6,646.3 605.3,646.8 606,647.6 606.7,647.8 607.4,649.2 608.1,649.2 608.8,649.2 609.5,649.3 610.2,649.9 610.9,650.5 611.6,650.4 612.3,650.2 613,651.7 613.7,651.2 614.4,650.8 615.1,651.3 615.8,651.3 616.5,651.2 617.2,651.9 617.9,652 618.6,651.8 619.3,652.5 620,651.9 620.7,652.2 621.4,652.8 622.1,652.6 622.8,651.6 623.5,651.9 624.2,637.8 624.9,639.9 625.6,642.4 626.3,643 627,644.2 627.7,646 628.4,646.1 629.1,648.2 629.8,647.1 630.5,648.4 631.2,648.5 631.9,649.4 632.6,649.4 633.3,649.4 634,650.4 634.7,650.7 635.4,650.1 636.1,651.3 636.8,650.4 637.5,650.4 638.2,651.3 638.9,651.8 639.6,650.7 640.3,651.3 641,651.1 641.7,638.9 642.4,640.3 643.1,642.4 643.8,644 644.5,645.6 645.2,646.4 645.9,647.6 646.6,648 647.3,648.3 648,649.4 648.7,649.7 649.4,650.1 650.1,649.9 650.8,649.8 651.5,651.3 652.2,650.2 652.9,650.5 653.6,650.2 654.3,651.2 655,651.1 655.7,651.7 656.4,651.5 657.1,651.1 657.8,617 658.5,621.5 659.2,623.9 659.9,626.4" fill="none" stroke="#f050b8" stroke-width="2.7" stroke-linejoin="round"/><rect x="654" y="642" width="5" height="12" fill="#f050b8"/><polyline points="410.8,602 410.8,654" fill="none" stroke="#858585" stroke-width="1.2" stroke-linejoin="round"/><polyline points="430.5,622 430.5,655" fill="none" stroke="#858585" stroke-width="1.2" stroke-linejoin="round"/><polyline points="474.3,621.5 474.3,652.5" fill="none" stroke="#858585" stroke-width="1.2" stroke-linejoin="round"/><polyline points="495.9,630 495.9,651" fill="none" stroke="#858585" stroke-width="1.2" stroke-linejoin="round"/><polyline points="520.5,623 520.5,649" fill="none" stroke="#858585" stroke-width="1.2" stroke-linejoin="round"/><polyline points="545,625.6 545,649.6" fill="none" stroke="#858585" stroke-width="1.2" stroke-linejoin="round"/><polyline points="570.3,620.8 570.3,656.8" fill="none" stroke="#858585" stroke-width="1.2" stroke-linejoin="round"/><polyline points="598.8,632.5 598.8,658.5" fill="none" stroke="#858585" stroke-width="1.2" stroke-linejoin="round"/><polyline points="624.3,633.5 624.3,657.5" fill="none" stroke="#858585" stroke-width="1.2" stroke-linejoin="round"/><polyline points="641.5,634.5 641.5,657.5" fill="none" stroke="#858585" stroke-width="1.2" stroke-linejoin="round"/><polyline points="658.1,615 658.1,654" fill="none" stroke="#858585" stroke-width="1.2" stroke-linejoin="round"/><polygon points="382,706.4 382.7,705.4 383.4,706 384.1,707.4 384.8,707 385.5,706.9 386.2,705.7 386.9,706.1 387.6,705.8 388.3,707.8 389,706.7 389.7,708.7 390.4,706.3 391.1,705.4 391.8,706.8 392.5,708.1 393.2,706.8 393.9,706.4 394.6,706.7 395.3,707.8 396,706.5 396.7,707 397.4,706.1 398.1,706.6 398.8,706.8 399.5,708.4 400.2,706.8 400.9,707.1 401.6,705.7 402.3,706.7 403,707.1 403.7,707 404.4,705.6 405.1,707.2 405.8,707.8 406.5,706.3 407.2,705.2 407.9,706.8 408.6,705.7 409.3,706.2 410,707.5 410,715.4 409.3,715.5 408.6,715.3 407.9,715.3 407.2,713.6 406.5,714.3 405.8,714.5 405.1,716.4 404.4,714 403.7,716.5 403,714 402.3,714.5 401.6,715.5 400.9,714.4 400.2,715.7 399.5,715.7 398.8,714.5 398.1,716 397.4,715.2 396.7,716.1 396,714.6 395.3,714.4 394.6,715.3 393.9,715.4 393.2,714.5 392.5,716 391.8,715.2 391.1,714.3 390.4,714.5 389.7,717 389,715.7 388.3,716.4 387.6,715.1 386.9,714.5 386.2,713.8 385.5,715 384.8,715.2 384.1,716.6 383.4,713.4 382.7,714.5 382,713.4" fill="#1a6400"/><rect x="409.5" y="708" width="2" height="40" fill="#1a6400" shape-rendering="crispEdges"/><rect x="410" y="746.2" width="251" height="1.2" fill="#3f7a2c"/><rect x="430" y="708" width="1" height="40" fill="#3d7a28" shape-rendering="crispEdges"/><rect x="474" y="713" width="1" height="35" fill="#3d7a28" shape-rendering="crispEdges"/><rect x="496" y="708" width="1" height="40" fill="#3d7a28" shape-rendering="crispEdges"/><rect x="520" y="705.6" width="1" height="42.4" fill="#3d7a28" shape-rendering="crispEdges"/><rect x="544.5" y="708" width="2" height="40" fill="#1a6400" shape-rendering="crispEdges"/><rect x="570" y="708" width="1" height="40" fill="#3d7a28" shape-rendering="crispEdges"/><rect x="598" y="703" width="1" height="45" fill="#3d7a28" shape-rendering="crispEdges"/><rect x="624" y="708" width="1" height="40" fill="#3d7a28" shape-rendering="crispEdges"/><rect x="641" y="707.7" width="1" height="40.3" fill="#3d7a28" shape-rendering="crispEdges"/><rect x="657.5" y="706" width="2" height="42" fill="#1a6400" shape-rendering="crispEdges"/><polyline points="382,727.8 384,727.8 386,727.8 388,727.8 390,727.8 392,727.8 394,727.8 396,727.8 398,727.8 400,727.8 402,727.8 404,727.8 406,727.8 408,727.8 410,727.8 412,727.8 414,727.2 416,727.2 418,727.2 420,727.2 422,727.2 424,727.2 426,727.2 428,727.2 430,727.2 432,727.2 434,727.2 436,727.2 438,727.2 440,727.2 442,727.2 444,727.2 446,727.2 448,727.2 450,727.2 452,726.6 454,726.6 456,726.6 458,726.6 460,726.6 462,726.6 464,726.6 466,726.6 468,726.6 470,726.6 472,726.6 474,726.6 476,726.6 478,726.6 480,726.6 482,726.6 484,726.6 486,726.6 488,726.6 490,726 492,726 494,726 496,726 498,726 500,726 502,726 504,726 506,726 508,726 510,726 512,726 514,726 516,726 518,726 520,726 522,726 524,726 526,726 528,725.4 530,725.4 532,725.4 534,725.4 536,725.4 538,725.4 540,725.4 542,725.4 544,725.4 546,725.4 548,725.4 550,725.4 552,725.4 554,725.4 556,725.4 558,725.4 560,725.4 562,725.4 564,725.4 566,724.8 568,724.8 570,724.8 572,724.8 574,724.8 576,724.8 578,724.8 580,724.8 582,724.8 584,724.8 586,724.8 588,724.8 590,724.8 592,724.8 594,724.8 596,724.8 598,724.8 600,724.8 602,724.8 604,724.2 606,724.2 608,724.2 610,724.2 612,724.2 614,724.2 616,724.2 618,724.2 620,724.2 622,724.2 624,724.2 626,724.2 628,724.2 630,724.2 632,724.2 634,724.2 636,724.2 638,724.2 640,724.2 642,723.6 644,723.6 646,723.6 648,723.6 650,723.6 652,723.6 654,723.6 656,723.6 658,723.6 660,723.6" fill="none" stroke="#e03060" stroke-width="1.3" stroke-linejoin="round"/><polyline points="382,738.6 384,738.6 386,738.6 388,738.6 390,738.2 392,738.6 394,738.6 396,738.6 398,739.1 400,738.6 402,738.6 404,738.6 406,738.6 408,738.6 410,738.6 412,738.6 414,739.1 416,738.2 418,738.6 420,738.2 422,739.1 424,738.2 426,738.6 428,738.2 430,738.6 432,739.1 434,738.6 436,738.6 438,738.6 440,738.6 442,738.2 444,738.6 446,738.6 448,738.6 450,738.6 452,738.6 454,738.6 456,738.2 458,738.2 460,738.6 462,738.6 464,738.6 466,738.6 468,738.6 470,738.6 472,738.6 474,738.6 476,739.1 478,738.6 480,738.6 482,738.6 484,738.6 486,738.6 488,738.6 490,739.1 492,738.6 494,738.6 496,738.2 498,738.6 500,738.6 502,738.2 504,739.1 506,738.2 508,738.6 510,738.6 512,738.6 514,738.6 516,738.2 518,739.1 520,738.6 522,738.2 524,739.1 526,738.6 528,738.6 530,738.6 532,738.6 534,739.1 536,738.6 538,738.2 540,739.1 542,738.6 544,738.6 546,738.6 548,738.6 550,738.6 552,738.6 554,738.2 556,738.6 558,738.6 560,738.6 562,738.6 564,738.6 566,738.6 568,738.6 570,738.2 572,739.1 574,738.6 576,738.6 578,738.6 580,738.2 582,738.6 584,738.2 586,738.2 588,738.2 590,738.6 592,738.6 594,738.6 596,739.1 598,738.6 600,739.1 602,738.6 604,738.2 606,738.6 608,738.6 610,738.2 612,738.6 614,738.6 616,738.2 618,738.6 620,739.1 622,739.1 624,738.6 626,738.6 628,738.6 630,738.6 632,738.6 634,739.1 636,738.6 638,738.6 640,738.6 642,739.1 644,738.6 646,738.2 648,738.6 650,738.2 652,738.6 654,738.2 656,739.1 658,738.6 660,738.6" fill="none" stroke="#20b4b8" stroke-width="1.8" stroke-linejoin="round"/></g><rect x="470" y="567" width="1" height="181" fill="#000" shape-rendering="crispEdges"/><rect x="374" y="745" width="8" height="1" fill="#bdbdbd" shape-rendering="crispEdges"/><text x="368" y="749.9" fill="#24cc58" font-size="11" text-anchor="end">-10.0</text><rect x="374" y="723" width="8" height="1" fill="#bdbdbd" shape-rendering="crispEdges"/><text x="368" y="727.8" fill="#24cc58" font-size="11" text-anchor="end">-7.5</text><rect x="374" y="701" width="8" height="1" fill="#bdbdbd" shape-rendering="crispEdges"/><text x="368" y="705.6" fill="#24cc58" font-size="11" text-anchor="end">-5.0</text><rect x="374" y="679" width="8" height="1" fill="#bdbdbd" shape-rendering="crispEdges"/><text x="368" y="683.5" fill="#24cc58" font-size="11" text-anchor="end">-2.5</text><rect x="374" y="657" width="8" height="1" fill="#bdbdbd" shape-rendering="crispEdges"/><text x="368" y="661.4" fill="#24cc58" font-size="11" text-anchor="end">0.0</text><rect x="374" y="635" width="8" height="1" fill="#bdbdbd" shape-rendering="crispEdges"/><text x="368" y="639.3" fill="#24cc58" font-size="11" text-anchor="end">2.5</text><rect x="374" y="613" width="8" height="1" fill="#bdbdbd" shape-rendering="crispEdges"/><text x="368" y="617.2" fill="#24cc58" font-size="11" text-anchor="end">5.0</text><rect x="374" y="591" width="8" height="1" fill="#bdbdbd" shape-rendering="crispEdges"/><text x="368" y="595" fill="#24cc58" font-size="11" text-anchor="end">7.5</text><rect x="374" y="568" width="8" height="1" fill="#bdbdbd" shape-rendering="crispEdges"/><text x="368" y="572.9" fill="#24cc58" font-size="11" text-anchor="end">10.0</text><rect x="378" y="741" width="4" height="1" fill="#cfcfcf" shape-rendering="crispEdges"/><rect x="378" y="737" width="4" height="1" fill="#cfcfcf" shape-rendering="crispEdges"/><rect x="378" y="732" width="4" height="1" fill="#cfcfcf" shape-rendering="crispEdges"/><rect x="378" y="728" width="4" height="1" fill="#cfcfcf" shape-rendering="crispEdges"/><rect x="378" y="719" width="4" height="1" fill="#cfcfcf" shape-rendering="crispEdges"/><rect x="378" y="714" width="4" height="1" fill="#cfcfcf" shape-rendering="crispEdges"/><rect x="378" y="710" width="4" height="1" fill="#cfcfcf" shape-rendering="crispEdges"/><rect x="378" y="706" width="4" height="1" fill="#cfcfcf" shape-rendering="crispEdges"/><rect x="378" y="697" width="4" height="1" fill="#cfcfcf" shape-rendering="crispEdges"/><rect x="378" y="692" width="4" height="1" fill="#cfcfcf" shape-rendering="crispEdges"/><rect x="378" y="688" width="4" height="1" fill="#cfcfcf" shape-rendering="crispEdges"/><rect x="378" y="683" width="4" height="1" fill="#cfcfcf" shape-rendering="crispEdges"/><rect x="378" y="675" width="4" height="1" fill="#cfcfcf" shape-rendering="crispEdges"/><rect x="378" y="670" width="4" height="1" fill="#cfcfcf" shape-rendering="crispEdges"/><rect x="378" y="666" width="4" height="1" fill="#cfcfcf" shape-rendering="crispEdges"/><rect x="378" y="661" width="4" height="1" fill="#cfcfcf" shape-rendering="crispEdges"/><rect x="378" y="652" width="4" height="1" fill="#cfcfcf" shape-rendering="crispEdges"/><rect x="378" y="648" width="4" height="1" fill="#cfcfcf" shape-rendering="crispEdges"/><rect x="378" y="644" width="4" height="1" fill="#cfcfcf" shape-rendering="crispEdges"/><rect x="378" y="639" width="4" height="1" fill="#cfcfcf" shape-rendering="crispEdges"/><rect x="378" y="630" width="4" height="1" fill="#cfcfcf" shape-rendering="crispEdges"/><rect x="378" y="626" width="4" height="1" fill="#cfcfcf" shape-rendering="crispEdges"/><rect x="378" y="622" width="4" height="1" fill="#cfcfcf" shape-rendering="crispEdges"/><rect x="378" y="617" width="4" height="1" fill="#cfcfcf" shape-rendering="crispEdges"/><rect x="378" y="608" width="4" height="1" fill="#cfcfcf" shape-rendering="crispEdges"/><rect x="378" y="604" width="4" height="1" fill="#cfcfcf" shape-rendering="crispEdges"/><rect x="378" y="599" width="4" height="1" fill="#cfcfcf" shape-rendering="crispEdges"/><rect x="378" y="595" width="4" height="1" fill="#cfcfcf" shape-rendering="crispEdges"/><rect x="378" y="586" width="4" height="1" fill="#cfcfcf" shape-rendering="crispEdges"/><rect x="378" y="582" width="4" height="1" fill="#cfcfcf" shape-rendering="crispEdges"/><rect x="378" y="577" width="4" height="1" fill="#cfcfcf" shape-rendering="crispEdges"/><rect x="378" y="573" width="4" height="1" fill="#cfcfcf" shape-rendering="crispEdges"/><text transform="translate(333,657) rotate(-90)" fill="#24cc58" font-size="11" text-anchor="middle" textLength="50" lengthAdjust="spacingAndGlyphs">LamLabOK</text><polygon points="387.3,566.1 394.7,566.1 391,558.7" fill="#10e050" stroke="#0a3a10" stroke-width="0.8"/><text x="398" y="566" fill="#1a1a1a" font-size="9" text-anchor="start">0.4</text><rect x="386" y="651" width="14" height="9" fill="#fff" shape-rendering="crispEdges"/><polygon points="373.3,652.8 373.3,660.2 380.7,656.5" fill="#10e050" stroke="#0a3a10" stroke-width="0.8"/><text x="387" y="660" fill="#1a1a1a" font-size="9" text-anchor="start">0.2</text><polygon points="619,749.6 626,749.6 622.5,756.6" fill="#10e050" stroke="#0a3a10" stroke-width="0.8"/><text x="629" y="756" fill="#1a1a1a" font-size="9" text-anchor="start">-0.4</text><rect x="382" y="757" width="280" height="1" fill="#222" shape-rendering="crispEdges"/><rect x="389" y="757" width="1" height="4" fill="#222" shape-rendering="crispEdges"/><rect x="409" y="757" width="1" height="4" fill="#222" shape-rendering="crispEdges"/><rect x="429" y="757" width="1" height="4" fill="#222" shape-rendering="crispEdges"/><rect x="449" y="757" width="1" height="4" fill="#222" shape-rendering="crispEdges"/><rect x="469" y="757" width="1" height="4" fill="#222" shape-rendering="crispEdges"/><rect x="489" y="757" width="1" height="4" fill="#222" shape-rendering="crispEdges"/><rect x="509" y="757" width="1" height="4" fill="#222" shape-rendering="crispEdges"/><rect x="529" y="757" width="1" height="4" fill="#222" shape-rendering="crispEdges"/><rect x="549" y="757" width="1" height="4" fill="#222" shape-rendering="crispEdges"/><rect x="569" y="757" width="1" height="4" fill="#222" shape-rendering="crispEdges"/><rect x="589" y="757" width="1" height="4" fill="#222" shape-rendering="crispEdges"/><rect x="609" y="757" width="1" height="4" fill="#222" shape-rendering="crispEdges"/><rect x="629" y="757" width="1" height="4" fill="#222" shape-rendering="crispEdges"/><rect x="649" y="757" width="1" height="4" fill="#222" shape-rendering="crispEdges"/><rect x="409" y="757" width="1" height="9" fill="#222" shape-rendering="crispEdges"/><rect x="509" y="757" width="1" height="9" fill="#222" shape-rendering="crispEdges"/><rect x="609" y="757" width="1" height="9" fill="#222" shape-rendering="crispEdges"/><rect x="469.5" y="757" width="2" height="6" fill="#000" shape-rendering="crispEdges"/><text x="408" y="777" fill="#111" font-size="11" text-anchor="middle">18:49:10.000</text><text x="508" y="777" fill="#111" font-size="11" text-anchor="middle">18:53:20.000</text><text x="608" y="777" fill="#111" font-size="11" text-anchor="middle">18:57:30.000</text><text x="325" y="767.5" fill="#111" font-size="11" text-anchor="start">Time</text><text x="325" y="780.5" fill="#111" font-size="11" text-anchor="start">(s)</text><rect x="382" y="781.5" width="280" height="11" fill="#dde8fb" shape-rendering="crispEdges"/><polygon points="384,787 392,783 392,791" fill="#8c8c8c"/><polygon points="660,787 652,783 652,791" fill="#8c8c8c"/><defs><linearGradient id="sbG" x1="0" y1="0" x2="0" y2="1"><stop offset="0" stop-color="#e4e4e4"/><stop offset="1" stop-color="#b8b8b8"/></linearGradient></defs><rect x="471" y="782.0" width="169" height="10" fill="url(#sbG)" stroke="#9a9a9a" stroke-width="1"/></svg></div><div class="pn" style="left:674px;top:46px;width:200px;height:756px;"><div class="lg" style="left:8px;top:9px;width:174px;height:487px"><div class="lr" style="top:0.0px;"><i style="background:#c8c8c8;border-color:#444"></i><b>AFR_NTKa</b><s>10.35</s></div><div class="lr" style="top:14.6px;"><i style="background:#ffffff;border-color:#9be07a"></i><b>ECMf</b><s>0.706</s></div><div class="lr" style="top:29.2px;"><i style="background:#f0204a;border-color:#444"></i><b>ECMf-f(250)</b><s>0.705</s></div><div class="lr" style="top:43.8px;background:linear-gradient(#e2e2e2,#bdbdbd);"><i style="background:#0028e0;border-color:#223"></i><b>LabNTKa_U12</b><s>0.710</s></div><div class="lr" style="top:58.4px;"><i style="background:#96c800;border-color:#444"></i><b>Lam4RawL2C_R23</b><s>0.713</s></div></div><div class="lg" style="left:8px;top:520px;width:174px;height:181px"><div class="lr" style="top:0.0px;"><i style="background:#0000d8;border-color:#223"></i><b>% O2</b><s>20.43</s></div><div class="lr" style="top:14.6px;"><i style="background:#1a6400;border-color:#222"></i><b>ExPressL2C_R11</b><s>0</s></div><div class="lr" style="top:29.2px;background:linear-gradient(#e2e2e2,#bdbdbd);"><i style="background:#10e840;border-color:#333"></i><b>LamLabOK</b><s style="letter-spacing:1.7px;right:1px">####</s></div><div class="lr" style="top:43.8px;"><i style="background:#808080;border-color:#333"></i><b>LambdaLabError</b><s>0.64</s></div><div class="lr" style="top:58.4px;"><i style="background:#ff50c0;border-color:#444"></i><b>LambdaLabError-f(500)</b><s>0.82</s></div><div class="lr" style="top:73.0px;"><i style="background:#28aa00;border-color:#333"></i><b>bap</b><s>1008</s></div><div class="lr" style="top:87.6px;"><i style="background:#10b0b0;border-color:#333"></i><b>egt1</b><s>24</s></div><div class="lr" style="top:102.2px;"><i style="background:#f0204a;border-color:#333"></i><b>egt2</b><s>57</s></div></div></div><div class="pn" style="left:3px;top:806px;width:870px;height:175px;"><div class="info" style="left:8.0px;top:8.80px;color:#1f8a2a;letter-spacing:0.021px">.\DownloadedData\RICESP\ECU sensor actuator tests\Lambda Sensor</div><div class="info" style="left:8.0px;top:21.55px;color:#1f8a2a;letter-spacing:0.093px">Calibrations\Current ECM tests\2025-02-25 18-42-47 plus 0h00m00s S12#27290.SD</div><div class="info" style="left:8.0px;top:34.30px;color:#1f8a2a;letter-spacing:-0.234px">S12(27290) Cal(RICESP-RR286-NTKcalibration-50) Cfg(RICESP-RRL020-LAMBDA)</div><div class="info" style="left:8.0px;top:47.05px;color:#1f8a2a;letter-spacing:0.300px">Boot(1.80) Main(1.714.3)</div><div class="info" style="left:8.0px;top:59.80px;color:#1f8a2a;letter-spacing:0.180px">DateTime(2025\2\25 18:42) UncompressedSize(7.29 MB)</div><div class="info" style="left:8.0px;top:72.55px;color:#808080;letter-spacing:0.127px">ECM 4800 - 64S9-1813 L V Autronic B1460 - LZA11V2 V L2C - 16824-807 (LR</div><div class="info" style="left:8.0px;top:85.30px;color:#808080;letter-spacing:-0.027px">sensor)</div><div class="info" style="left:8.0px;top:98.05px;color:#808080;letter-spacing:0.232px">8th day testing - Autronic set to 20.36% O2 - LH channel no air cal 20.0% display at</div><div class="info" style="left:8.0px;top:110.80px;color:#808080;letter-spacing:0.468px">start of test</div><div class="abs" style="left:446.5px;top:10px;width:1px;height:154px;background:#c4c4c4"></div><div class="info" style="left:455.0px;top:8.80px;color:#e8902e;letter-spacing:-0.024px">LabNTKa_U12 (200Hz)</div><div class="info" style="left:455.0px;top:21.55px;color:#e8902e;letter-spacing:0.121px">samples(211642)</div><div class="info" style="left:455.0px;top:34.30px;color:#e8902e;letter-spacing:0.012px">Unit(Combustion Ratio,Lambda)</div><div class="info" style="left:455.0px;top:47.05px;color:#e8902e;letter-spacing:0.310px">convert using y=(x/1000)+0 to Lambda</div><div class="info" style="left:455.0px;top:59.80px;color:#e8902e;letter-spacing:0.306px">in the range 0.5..3</div><div class="info" style="left:455.0px;top:72.55px;color:#e8902e;letter-spacing:-0.033px">UnitGroup(LabNTKa_U12)</div><div class="info" style="left:467.4px;top:85.30px;color:#e8902e;letter-spacing:-0.253px">LabNTKa_U12</div><div class="abs" style="left:672px;top:10px;width:1px;height:154px;background:#c4c4c4"></div><div class="info" style="left:679.0px;top:8.80px;color:#222;letter-spacing:0.039px">Burst Log Mode</div><div class="info" style="left:679.0px;top:21.55px;color:#222;letter-spacing:0.050px"></div><div class="info" style="left:679.0px;top:34.30px;color:#222;letter-spacing:-0.586px">BASE, ENHANCED</div></div></div>
<div id="R" class="win"><div id="Ri"><div class="tb" style="width:877px"><svg class="abs" style="left:1px;top:1px" width="15" height="14" viewBox="0 0 15 14"><rect x="0.3" y="0.3" width="14.4" height="13.4" rx="4" fill="#0a0a0a"/><path d="M12 3.6H4.6a1.6 1.6 0 0 0 0 3.3h5.8a1.7 1.7 0 0 1 0 3.5H3" fill="none" stroke="#fff" stroke-width="1.7"/></svg><div class="tt">SView 2.17.10  :  C:\Users\Public\Documents\Syvecs\DownloadedData\RICESP\ECU sensor actuator tests\Lambda Sensor Calibrations\Current ECM tests\2025-08-06 13-04-29</div><div class="abs" style="left:828px;top:0;width:60px;height:16px;background:inherit"></div><div class="wb" style="left:829px"><div class="abs" style="left:1px;top:8px;width:9px;height:2px;background:#111"></div></div><div class="wb" style="left:844.5px"><div class="abs" style="left:1px;top:1px;width:9px;height:9px;border:1px solid #111;border-top-width:3px"></div></div><div class="wb" style="left:860px"><svg width="11" height="11" viewBox="0 0 11 11"><path d="M1.5 1.5L9.5 9.5M9.5 1.5L1.5 9.5" stroke="#111" stroke-width="1.5"/></svg></div></div><div class="mi" style="left:8.5px"><u>F</u>ile</div><div class="mi" style="left:38px"><u>S</u>ession</div><div class="mi" style="left:88px"><u>G</u>raph</div><div class="mi" style="left:131px"><u>Z</u>oom</div><div class="mi" style="left:173px"><u>C</u>hannel</div><div class="mi" style="left:226px"><u>W</u>orksheet</div><div class="mi" style="left:294px">La<u>y</u>er</div><div class="mi" style="left:334.5px"><u>L</u>ap</div><div class="mi" style="left:366px"><u>T</u>rackMap</div><div class="mi" style="left:426.5px"><u>R</u>eport</div><div class="mi" style="left:474px"><u>O</u>ptions</div><div class="mi" style="left:526.5px"><u>M</u>ath</div><div class="abs" style="left:566px;top:24px;width:3px;height:21px;border-left:1px solid #222;border-right:1px solid #222"></div><div class="mi" style="left:576px">Time : 13:12:14.999</div><div class="mi" style="left:688.5px">Delta : 5:54.321</div><div class="abs" style="left:780px;top:23.5px;font-size:8.2px;line-height:10px;white-space:pre;font-weight:bold;letter-spacing:.1px">LabNTKa_U12 : 0.710
Delta : 0.196</div><div class="pn" style="left:3px;top:46px;width:306px;height:393px;"><div class="r" style="right:125.5px;top:18.8px;color:#b4b4b4">LambdaLabError : -2.00 to -1.20</div><div class="abs" style="left:190px;top:18.5px;width:4px;height:13px;border:1px solid #b6b6b6;background:#f9f9f9"></div><div class="r" style="left:198px;top:18.8px;color:#b4b4b4">0.520</div><div class="r" style="right:125.5px;top:40.1px;color:#b4b4b4">LambdaLabError : -1.20 to -0.40</div><div class="abs" style="left:190px;top:39.8px;width:18px;height:13px;border:1px solid #b6b6b6;background:#f9f9f9"></div><div class="r" style="left:212px;top:40.1px;color:#b4b4b4">2.446</div><div class="r" style="right:125.5px;top:63.1px;color:#b4b4b4">LambdaLabError : -0.40 to 0.40</div><div class="abs" style="left:190px;top:62.8px;width:37px;height:13px;border:1px solid #b6b6b6;background:#f9f9f9"></div><div class="r" style="left:231px;top:63.1px;color:#b4b4b4">5.085</div><div class="r" style="right:125.5px;top:86.1px;color:#b4b4b4">LambdaLabError : 0.40 to 1.20</div><div class="abs" style="left:190px;top:85.8px;width:31px;height:13px;border:1px solid #b6b6b6;background:#f9f9f9"></div><div class="r" style="left:225px;top:86.1px;color:#b4b4b4">4.352</div><div class="r" style="right:125.5px;top:108.1px;color:#b4b4b4">LambdaLabError : 1.20 to 2.00</div><div class="abs" style="left:190px;top:107.8px;width:3px;height:13px;border:1px solid #b6b6b6;background:#f9f9f9"></div><div class="r" style="left:197px;top:108.1px;color:#b4b4b4">0.395</div><div class="r" style="right:125.5px;top:130.8px;color:#b4b4b4">LambdaLabError : 2.00 to 2.80</div><div class="abs" style="left:190px;top:130.5px;width:3px;height:13px;border:1px solid #b6b6b6;background:#f9f9f9"></div><div class="r" style="left:197px;top:130.8px;color:#b4b4b4">0.294</div><div class="r" style="right:125.5px;top:153.8px;color:#b4b4b4">LambdaLabError : 2.80 to 3.60</div><div class="abs" style="left:190px;top:153.5px;width:33px;height:13px;border:1px solid #b6b6b6;background:#f9f9f9"></div><div class="r" style="left:227px;top:153.8px;color:#b4b4b4">4.612</div><div class="r" style="right:125.5px;top:176.6px;color:#b4b4b4">LambdaLabError : 3.60 to 4.40</div><div class="abs" style="left:190px;top:176.3px;width:22px;height:13px;border:1px solid #b6b6b6;background:#f9f9f9"></div><div class="r" style="left:216px;top:176.6px;color:#b4b4b4">3.043</div><div class="r" style="right:125.5px;top:198.6px;color:#b4b4b4">LambdaLabError : 4.40 to 5.20</div><div class="abs" style="left:190px;top:198.3px;width:61px;height:13px;border:1px solid #b6b6b6;background:#f9f9f9"></div><div class="r" style="left:255px;top:198.6px;color:#b4b4b4">8.471</div><div class="r" style="right:125.5px;top:221.3px;color:#b4b4b4">LambdaLabError : 5.20 to 6.00</div><div class="abs" style="left:190px;top:221.0px;width:67px;height:13px;border:1px solid #b6b6b6;background:#f9f9f9"></div><div class="r" style="left:261px;top:221.3px;color:#b4b4b4">9.261</div><div class="r" style="right:125.5px;top:243.8px;color:#b4b4b4">LambdaLabError : 6.00 to 6.80</div><div class="abs" style="left:190px;top:243.5px;width:46px;height:13px;border:1px solid #b6b6b6;background:#f9f9f9"></div><div class="r" style="left:240px;top:243.8px;color:#b4b4b4">6.337</div><div class="r" style="right:125.5px;top:266.8px;color:#111">LambdaLabError : 6.80 to 7.60</div><div class="abs" style="left:190px;top:266.5px;width:8px;height:13px;border:2px solid #111;background:#f8f8f8"></div><div class="r" style="left:202px;top:266.8px;color:#111">1.117</div><div class="r" style="right:125.5px;top:289.1px;color:#b4b4b4">LambdaLabError : 7.60 to 8.40</div><div class="abs" style="left:190px;top:288.8px;width:30px;height:13px;border:1px solid #b6b6b6;background:#f9f9f9"></div><div class="r" style="left:224px;top:289.1px;color:#b4b4b4">4.170</div><div class="r" style="right:125.5px;top:311.6px;color:#b4b4b4">LambdaLabError : 8.40 to 9.20</div><div class="abs" style="left:190px;top:311.3px;width:22px;height:13px;border:1px solid #b6b6b6;background:#f9f9f9"></div><div class="r" style="left:216px;top:311.6px;color:#b4b4b4">3.047</div><div class="r" style="right:125.5px;top:334.5px;color:#b4b4b4">LambdaLabError : 9.20 to 10.00</div><div class="abs" style="left:190px;top:334.2px;width:37px;height:13px;border:1px solid #b6b6b6;background:#f9f9f9"></div><div class="r" style="left:231px;top:334.5px;color:#b4b4b4">5.193</div><svg width="304" height="391" shape-rendering="crispEdges"><rect x="189" y="357" width="72" height="1" fill="#222"/><rect x="190" y="357" width="1" height="8" fill="#222"/><rect x="197" y="357" width="1" height="4" fill="#222"/><rect x="204" y="357" width="1" height="8" fill="#222"/><rect x="212" y="357" width="1" height="4" fill="#222"/><rect x="219" y="357" width="1" height="8" fill="#222"/><rect x="226" y="357" width="1" height="4" fill="#222"/><rect x="233" y="357" width="1" height="8" fill="#222"/><rect x="241" y="357" width="1" height="4" fill="#222"/><rect x="248" y="357" width="1" height="8" fill="#222"/><rect x="255" y="357" width="1" height="4" fill="#222"/></svg><div class="r" style="left:170.0px;width:41px;text-align:center;top:367px;color:#222">0</div><div class="r" style="left:184.44px;width:41px;text-align:center;top:367px;color:#222">2</div><div class="r" style="left:198.88px;width:41px;text-align:center;top:367px;color:#222">4</div><div class="r" style="left:213.32px;width:41px;text-align:center;top:367px;color:#222">6</div><div class="r" style="left:227.76px;width:41px;text-align:center;top:367px;color:#222">8</div></div><div class="pn" style="left:3px;top:443px;width:306px;height:232px;"><svg width="304" height="230" viewBox="4 444 304 230"><clipPath id="cs3"><rect x="78" y="453" width="221" height="174"/></clipPath><g clip-path="url(#cs3)"><path d="M94.7 448.6h1.6v1.6h-1.6zM92.5 449.9h1.6v1.6h-1.6zM91 449.7h1.6v1.6h-1.6zM91.5 450.5h1.6v1.6h-1.6zM92.7 452h1.6v1.6h-1.6zM92.6 452.3h1.6v1.6h-1.6zM92.9 451.2h1.6v1.6h-1.6zM92.1 450.1h1.6v1.6h-1.6zM90.4 451.4h1.6v1.6h-1.6zM92.3 452.1h1.6v1.6h-1.6zM92.9 450.3h1.6v1.6h-1.6zM91.7 450.7h1.6v1.6h-1.6zM93.9 452.1h1.6v1.6h-1.6zM92.9 451.3h1.6v1.6h-1.6zM91.2 451.9h1.6v1.6h-1.6zM92.7 453.4h1.6v1.6h-1.6zM91 453.4h1.6v1.6h-1.6zM91.9 452.5h1.6v1.6h-1.6zM92.6 452.8h1.6v1.6h-1.6zM93.6 454.7h1.6v1.6h-1.6zM93.5 453.1h1.6v1.6h-1.6zM93.7 454.4h1.6v1.6h-1.6zM94.3 454.5h1.6v1.6h-1.6zM91.3 453.4h1.6v1.6h-1.6zM92.9 455.7h1.6v1.6h-1.6zM93.2 455.9h1.6v1.6h-1.6zM93.8 453.4h1.6v1.6h-1.6zM93.6 455.8h1.6v1.6h-1.6zM94.1 453.5h1.6v1.6h-1.6zM94.2 454.8h1.6v1.6h-1.6zM91.1 455h1.6v1.6h-1.6zM91.3 454.3h1.6v1.6h-1.6zM95.6 459.1h1.6v1.6h-1.6zM95.2 456.8h1.6v1.6h-1.6zM96.3 456.9h1.6v1.6h-1.6zM92.8 453.6h1.6v1.6h-1.6zM95.2 454h1.6v1.6h-1.6zM90.6 456.2h1.6v1.6h-1.6zM94.3 456.2h1.6v1.6h-1.6zM95.6 457.3h1.6v1.6h-1.6zM94.6 458.2h1.6v1.6h-1.6zM93.7 458.1h1.6v1.6h-1.6zM97.4 456.8h1.6v1.6h-1.6zM94.7 458.9h1.6v1.6h-1.6zM93.9 458.3h1.6v1.6h-1.6zM92.5 458h1.6v1.6h-1.6zM94.7 460.2h1.6v1.6h-1.6zM95.9 458.3h1.6v1.6h-1.6zM93.4 461.5h1.6v1.6h-1.6zM96 457h1.6v1.6h-1.6zM94.5 458.4h1.6v1.6h-1.6zM94.2 457.6h1.6v1.6h-1.6zM94.5 459.3h1.6v1.6h-1.6zM94.8 461.5h1.6v1.6h-1.6zM95.5 458.8h1.6v1.6h-1.6zM93.1 459.9h1.6v1.6h-1.6zM96.8 461.9h1.6v1.6h-1.6zM94.6 462.4h1.6v1.6h-1.6zM96 460.4h1.6v1.6h-1.6zM96 461.2h1.6v1.6h-1.6zM94.2 461h1.6v1.6h-1.6zM95.8 463.4h1.6v1.6h-1.6zM94.4 462.2h1.6v1.6h-1.6zM95.8 462h1.6v1.6h-1.6zM94.3 463.9h1.6v1.6h-1.6zM97.5 464.5h1.6v1.6h-1.6zM96.5 464.5h1.6v1.6h-1.6zM96.7 464.1h1.6v1.6h-1.6zM95.6 463.4h1.6v1.6h-1.6zM95.7 461.9h1.6v1.6h-1.6zM95.6 462h1.6v1.6h-1.6zM94.8 463.2h1.6v1.6h-1.6zM95.5 466.5h1.6v1.6h-1.6zM98.6 465.4h1.6v1.6h-1.6zM97.4 463.1h1.6v1.6h-1.6zM96.8 462.6h1.6v1.6h-1.6zM95.8 464h1.6v1.6h-1.6zM96.1 465.9h1.6v1.6h-1.6zM95.7 468.1h1.6v1.6h-1.6zM96.1 466.3h1.6v1.6h-1.6zM94.8 466.5h1.6v1.6h-1.6zM95.3 465.8h1.6v1.6h-1.6zM96.9 466.8h1.6v1.6h-1.6zM97.7 466.5h1.6v1.6h-1.6zM96.8 468.6h1.6v1.6h-1.6zM96.5 466.4h1.6v1.6h-1.6zM96.6 466.7h1.6v1.6h-1.6zM96 466.2h1.6v1.6h-1.6zM97.9 466.2h1.6v1.6h-1.6zM97.9 466.4h1.6v1.6h-1.6zM99.2 467.2h1.6v1.6h-1.6zM99.7 468.1h1.6v1.6h-1.6zM97.4 468.9h1.6v1.6h-1.6zM99.1 469.8h1.6v1.6h-1.6zM99.4 469.2h1.6v1.6h-1.6zM96.2 469.5h1.6v1.6h-1.6zM97.6 469h1.6v1.6h-1.6zM99.4 467.8h1.6v1.6h-1.6zM99.6 471.9h1.6v1.6h-1.6zM98.6 468.7h1.6v1.6h-1.6zM99.7 469.5h1.6v1.6h-1.6zM99.4 471h1.6v1.6h-1.6zM96.2 470h1.6v1.6h-1.6zM96.2 468.9h1.6v1.6h-1.6zM99 468.5h1.6v1.6h-1.6zM97.4 469.6h1.6v1.6h-1.6zM98.8 470.8h1.6v1.6h-1.6zM99 470h1.6v1.6h-1.6zM97.5 471.3h1.6v1.6h-1.6zM97.4 469.9h1.6v1.6h-1.6zM99.5 470.2h1.6v1.6h-1.6zM97.5 472.8h1.6v1.6h-1.6zM98.7 468.7h1.6v1.6h-1.6zM97.8 474.2h1.6v1.6h-1.6zM102.4 471.6h1.6v1.6h-1.6zM99.8 473.1h1.6v1.6h-1.6zM99.3 470h1.6v1.6h-1.6zM100.3 472.9h1.6v1.6h-1.6zM98.8 470.7h1.6v1.6h-1.6zM98.3 472.8h1.6v1.6h-1.6zM98.9 473.4h1.6v1.6h-1.6zM98.8 474.5h1.6v1.6h-1.6zM100.1 472h1.6v1.6h-1.6zM98.6 474.2h1.6v1.6h-1.6zM98.7 475.6h1.6v1.6h-1.6zM98.8 474.4h1.6v1.6h-1.6zM100.3 472.8h1.6v1.6h-1.6zM101.2 474.2h1.6v1.6h-1.6zM98.8 473.7h1.6v1.6h-1.6zM97.6 473.1h1.6v1.6h-1.6zM101.7 474.8h1.6v1.6h-1.6zM99.5 475.4h1.6v1.6h-1.6zM100.6 474.4h1.6v1.6h-1.6zM99.7 475.9h1.6v1.6h-1.6zM101.3 476.1h1.6v1.6h-1.6zM102.2 475.7h1.6v1.6h-1.6zM99.7 474.4h1.6v1.6h-1.6zM100.1 477.2h1.6v1.6h-1.6zM99.9 476.3h1.6v1.6h-1.6zM99.1 476h1.6v1.6h-1.6zM99.8 476.8h1.6v1.6h-1.6zM101.8 477.8h1.6v1.6h-1.6zM101.7 478.8h1.6v1.6h-1.6zM100 479.2h1.6v1.6h-1.6zM100.7 476h1.6v1.6h-1.6zM99.9 477.8h1.6v1.6h-1.6zM98.8 481h1.6v1.6h-1.6zM100.7 479.4h1.6v1.6h-1.6zM99.3 478.6h1.6v1.6h-1.6zM101.2 477.7h1.6v1.6h-1.6zM101.3 478.9h1.6v1.6h-1.6zM101.5 477.5h1.6v1.6h-1.6zM101.7 478.9h1.6v1.6h-1.6zM100.1 476.7h1.6v1.6h-1.6zM101 479.2h1.6v1.6h-1.6zM104.3 478.3h1.6v1.6h-1.6zM103.2 481.6h1.6v1.6h-1.6zM101.9 480.5h1.6v1.6h-1.6zM102.1 478.5h1.6v1.6h-1.6zM103.3 480.2h1.6v1.6h-1.6zM100.6 480.8h1.6v1.6h-1.6zM98.2 479.3h1.6v1.6h-1.6zM100.2 479.2h1.6v1.6h-1.6zM102.5 483.4h1.6v1.6h-1.6zM101.8 481.1h1.6v1.6h-1.6zM102.3 481.1h1.6v1.6h-1.6zM102.1 482.4h1.6v1.6h-1.6zM101.7 481.6h1.6v1.6h-1.6zM102.1 482.4h1.6v1.6h-1.6zM103 480.6h1.6v1.6h-1.6zM100.8 482.1h1.6v1.6h-1.6zM102.8 481.2h1.6v1.6h-1.6zM103.8 484.9h1.6v1.6h-1.6zM101.4 484.7h1.6v1.6h-1.6zM99.8 483.3h1.6v1.6h-1.6zM100.5 485h1.6v1.6h-1.6zM103.6 484.5h1.6v1.6h-1.6zM101.9 482.6h1.6v1.6h-1.6zM103.2 483.5h1.6v1.6h-1.6zM103.6 482.4h1.6v1.6h-1.6zM103.3 485.2h1.6v1.6h-1.6zM100 483.1h1.6v1.6h-1.6zM102 484.2h1.6v1.6h-1.6zM100.8 485.1h1.6v1.6h-1.6zM101.6 485.2h1.6v1.6h-1.6zM100.8 484h1.6v1.6h-1.6zM104 483.5h1.6v1.6h-1.6zM103.2 487.7h1.6v1.6h-1.6zM104.3 484.4h1.6v1.6h-1.6zM106.1 485.5h1.6v1.6h-1.6zM104.6 487.7h1.6v1.6h-1.6zM103.1 487.4h1.6v1.6h-1.6zM100 486.9h1.6v1.6h-1.6zM103.8 486.6h1.6v1.6h-1.6zM103.8 488.5h1.6v1.6h-1.6zM104.9 486.6h1.6v1.6h-1.6zM104.8 489.1h1.6v1.6h-1.6zM104 488.3h1.6v1.6h-1.6zM100.8 486h1.6v1.6h-1.6zM104.4 486.3h1.6v1.6h-1.6zM105.1 489.8h1.6v1.6h-1.6zM102.8 487.1h1.6v1.6h-1.6zM103.9 489h1.6v1.6h-1.6zM105.2 488.6h1.6v1.6h-1.6zM104.3 487.8h1.6v1.6h-1.6zM104.7 488.3h1.6v1.6h-1.6zM105.7 490.3h1.6v1.6h-1.6zM102.4 490.1h1.6v1.6h-1.6zM103.1 491.1h1.6v1.6h-1.6zM103.3 491.6h1.6v1.6h-1.6zM106 492.7h1.6v1.6h-1.6zM105.1 490.5h1.6v1.6h-1.6zM106.3 489.1h1.6v1.6h-1.6zM104.8 490.4h1.6v1.6h-1.6zM104.8 489h1.6v1.6h-1.6zM102.8 489h1.6v1.6h-1.6zM106.9 490.9h1.6v1.6h-1.6zM105.9 491.4h1.6v1.6h-1.6zM104.8 493.4h1.6v1.6h-1.6zM102.3 491.7h1.6v1.6h-1.6zM104.3 491h1.6v1.6h-1.6zM103.3 490.4h1.6v1.6h-1.6zM103.9 493.9h1.6v1.6h-1.6zM104.6 492.1h1.6v1.6h-1.6zM105.3 493.7h1.6v1.6h-1.6zM106.9 493.3h1.6v1.6h-1.6zM105.6 493.9h1.6v1.6h-1.6zM104.7 493.7h1.6v1.6h-1.6zM107.9 492.8h1.6v1.6h-1.6zM104.8 491.9h1.6v1.6h-1.6zM106 494.8h1.6v1.6h-1.6zM105.5 493.8h1.6v1.6h-1.6zM107.6 494.4h1.6v1.6h-1.6zM107 494.1h1.6v1.6h-1.6zM107.9 495.9h1.6v1.6h-1.6zM106.1 494.2h1.6v1.6h-1.6zM109.6 493.8h1.6v1.6h-1.6zM105.3 492.2h1.6v1.6h-1.6zM107.4 495.6h1.6v1.6h-1.6zM106.6 493.8h1.6v1.6h-1.6zM106.8 494.9h1.6v1.6h-1.6zM105.4 495.8h1.6v1.6h-1.6zM107.3 496.1h1.6v1.6h-1.6zM106.4 497.3h1.6v1.6h-1.6zM107.4 496.1h1.6v1.6h-1.6zM107.9 497.2h1.6v1.6h-1.6zM108.4 498h1.6v1.6h-1.6zM108.3 496.4h1.6v1.6h-1.6zM109.1 498.6h1.6v1.6h-1.6zM106.8 499.1h1.6v1.6h-1.6zM107.7 496.5h1.6v1.6h-1.6zM107.6 496.3h1.6v1.6h-1.6zM109.2 496.5h1.6v1.6h-1.6zM109.7 497.2h1.6v1.6h-1.6zM107.7 500.1h1.6v1.6h-1.6zM108.4 496.6h1.6v1.6h-1.6zM107.9 496.6h1.6v1.6h-1.6zM109 497.7h1.6v1.6h-1.6zM108.1 499h1.6v1.6h-1.6zM106.4 499.8h1.6v1.6h-1.6zM110.6 498.4h1.6v1.6h-1.6zM107.8 500.2h1.6v1.6h-1.6zM110.1 498.8h1.6v1.6h-1.6zM108.9 500.6h1.6v1.6h-1.6zM110 499.3h1.6v1.6h-1.6zM111.9 503h1.6v1.6h-1.6zM107.2 499.7h1.6v1.6h-1.6zM109.4 500.1h1.6v1.6h-1.6zM108.4 501.1h1.6v1.6h-1.6zM108.2 500.5h1.6v1.6h-1.6zM109.5 500.9h1.6v1.6h-1.6zM109.8 502.9h1.6v1.6h-1.6zM110.8 501.9h1.6v1.6h-1.6zM112 501.5h1.6v1.6h-1.6zM110.7 504.4h1.6v1.6h-1.6zM109.9 503.4h1.6v1.6h-1.6zM109.2 501.8h1.6v1.6h-1.6zM110.1 503.3h1.6v1.6h-1.6zM110.4 503.7h1.6v1.6h-1.6zM110.4 503h1.6v1.6h-1.6zM109.4 503.1h1.6v1.6h-1.6zM110.3 503.4h1.6v1.6h-1.6zM109 505.2h1.6v1.6h-1.6zM111.8 504h1.6v1.6h-1.6zM110 505.3h1.6v1.6h-1.6zM110.4 503.8h1.6v1.6h-1.6zM111.6 503.6h1.6v1.6h-1.6zM111.1 503.8h1.6v1.6h-1.6zM111.8 505.1h1.6v1.6h-1.6zM112 505.3h1.6v1.6h-1.6zM111.7 505.4h1.6v1.6h-1.6zM112.4 503.9h1.6v1.6h-1.6zM110.1 505.4h1.6v1.6h-1.6zM111.8 505.1h1.6v1.6h-1.6zM113.6 506.2h1.6v1.6h-1.6zM113.4 505.9h1.6v1.6h-1.6zM110.3 504.3h1.6v1.6h-1.6zM113.4 506.2h1.6v1.6h-1.6zM111.6 507.9h1.6v1.6h-1.6zM114.4 506.9h1.6v1.6h-1.6zM114 506.2h1.6v1.6h-1.6zM111.4 504.8h1.6v1.6h-1.6zM114 505.1h1.6v1.6h-1.6zM112.2 507.2h1.6v1.6h-1.6zM113.6 505h1.6v1.6h-1.6zM112.7 506.5h1.6v1.6h-1.6zM114.8 507.4h1.6v1.6h-1.6zM112.4 509.9h1.6v1.6h-1.6zM113.5 508.9h1.6v1.6h-1.6zM113.8 507.9h1.6v1.6h-1.6zM114.4 507.4h1.6v1.6h-1.6zM111.9 507.7h1.6v1.6h-1.6zM114.5 508.2h1.6v1.6h-1.6zM115.1 509.7h1.6v1.6h-1.6zM114.2 510.3h1.6v1.6h-1.6zM114.5 509.5h1.6v1.6h-1.6zM113.8 509.2h1.6v1.6h-1.6zM114.2 510.7h1.6v1.6h-1.6zM116.3 510.9h1.6v1.6h-1.6zM114.8 509.6h1.6v1.6h-1.6zM114.9 509.3h1.6v1.6h-1.6zM114.7 509.7h1.6v1.6h-1.6zM114.8 507.4h1.6v1.6h-1.6zM115 511.3h1.6v1.6h-1.6zM113.8 512.8h1.6v1.6h-1.6zM115.4 510.1h1.6v1.6h-1.6zM117 509.8h1.6v1.6h-1.6zM118.7 510.3h1.6v1.6h-1.6zM116.7 513h1.6v1.6h-1.6zM116.5 511.6h1.6v1.6h-1.6zM114.9 511.5h1.6v1.6h-1.6zM116.1 513h1.6v1.6h-1.6zM113.3 512.7h1.6v1.6h-1.6zM114.7 511.4h1.6v1.6h-1.6zM116.1 511.5h1.6v1.6h-1.6zM117.1 510.5h1.6v1.6h-1.6zM117 511.4h1.6v1.6h-1.6zM116.1 512.7h1.6v1.6h-1.6zM115 513.4h1.6v1.6h-1.6zM119.4 512.3h1.6v1.6h-1.6zM115.9 515h1.6v1.6h-1.6zM119.1 510.9h1.6v1.6h-1.6zM116.8 512.5h1.6v1.6h-1.6zM117.5 513.6h1.6v1.6h-1.6zM116.2 513.3h1.6v1.6h-1.6zM118.9 512.9h1.6v1.6h-1.6zM118 514.9h1.6v1.6h-1.6zM119.9 514.8h1.6v1.6h-1.6zM118.3 513.3h1.6v1.6h-1.6zM118.4 516.2h1.6v1.6h-1.6zM118.8 516.3h1.6v1.6h-1.6zM117.8 515.9h1.6v1.6h-1.6zM118.2 514.2h1.6v1.6h-1.6zM117.8 516.7h1.6v1.6h-1.6zM119.4 515.2h1.6v1.6h-1.6zM118.5 516.5h1.6v1.6h-1.6zM118.4 517.1h1.6v1.6h-1.6zM119.5 515.2h1.6v1.6h-1.6zM119 514.7h1.6v1.6h-1.6zM118 515.6h1.6v1.6h-1.6zM118.9 515.9h1.6v1.6h-1.6zM118.7 515.7h1.6v1.6h-1.6zM120.1 515h1.6v1.6h-1.6zM116.8 518.9h1.6v1.6h-1.6zM120.1 517.2h1.6v1.6h-1.6zM121.5 518.5h1.6v1.6h-1.6zM122 518.4h1.6v1.6h-1.6zM121.3 518h1.6v1.6h-1.6zM120.3 517.4h1.6v1.6h-1.6zM116.2 519.8h1.6v1.6h-1.6zM120.6 516.7h1.6v1.6h-1.6zM122.2 517.2h1.6v1.6h-1.6zM121.4 517.2h1.6v1.6h-1.6zM119.7 519.7h1.6v1.6h-1.6zM121.4 516.6h1.6v1.6h-1.6zM122.1 519.8h1.6v1.6h-1.6zM121.1 519.7h1.6v1.6h-1.6zM123.2 520.4h1.6v1.6h-1.6zM122.5 520.1h1.6v1.6h-1.6zM123.8 519.6h1.6v1.6h-1.6zM121.6 519.1h1.6v1.6h-1.6zM126 518.4h1.6v1.6h-1.6zM122.3 517.5h1.6v1.6h-1.6zM122.3 519.7h1.6v1.6h-1.6zM122.4 521h1.6v1.6h-1.6zM124.4 520.5h1.6v1.6h-1.6zM121.7 519.8h1.6v1.6h-1.6zM122.9 519.7h1.6v1.6h-1.6zM122.9 521.4h1.6v1.6h-1.6zM123.4 523.4h1.6v1.6h-1.6zM121.2 521.2h1.6v1.6h-1.6zM124.6 519.8h1.6v1.6h-1.6zM121.4 523.9h1.6v1.6h-1.6zM124.8 522.2h1.6v1.6h-1.6zM125.2 520.4h1.6v1.6h-1.6zM122.4 523.7h1.6v1.6h-1.6zM124.1 520h1.6v1.6h-1.6zM123.9 524h1.6v1.6h-1.6zM122.9 520.3h1.6v1.6h-1.6zM121.5 522.2h1.6v1.6h-1.6zM124.4 521.8h1.6v1.6h-1.6zM123.9 522.4h1.6v1.6h-1.6zM124 522.2h1.6v1.6h-1.6zM126.1 523h1.6v1.6h-1.6zM125.6 520.9h1.6v1.6h-1.6zM124 524.6h1.6v1.6h-1.6zM125.5 524.7h1.6v1.6h-1.6zM123.6 524.4h1.6v1.6h-1.6zM124.8 523.8h1.6v1.6h-1.6zM124.8 522.7h1.6v1.6h-1.6zM124.5 523.9h1.6v1.6h-1.6zM127.2 522.9h1.6v1.6h-1.6zM125.3 523.2h1.6v1.6h-1.6zM125.2 525.3h1.6v1.6h-1.6zM125.8 523.5h1.6v1.6h-1.6zM127.3 525.2h1.6v1.6h-1.6zM127 525.2h1.6v1.6h-1.6zM126 526.1h1.6v1.6h-1.6zM126.1 525.5h1.6v1.6h-1.6zM127.2 526.8h1.6v1.6h-1.6zM126.9 526.6h1.6v1.6h-1.6zM125.2 525.9h1.6v1.6h-1.6zM127.6 526h1.6v1.6h-1.6zM125 526.9h1.6v1.6h-1.6zM126.9 525.3h1.6v1.6h-1.6zM129.7 526.1h1.6v1.6h-1.6zM129.1 524.4h1.6v1.6h-1.6zM128.9 526.9h1.6v1.6h-1.6zM128.5 525.6h1.6v1.6h-1.6zM128.8 526.7h1.6v1.6h-1.6zM130.1 526.5h1.6v1.6h-1.6zM126.6 528.5h1.6v1.6h-1.6zM127.4 527.1h1.6v1.6h-1.6zM129.8 529.6h1.6v1.6h-1.6zM129.7 528.6h1.6v1.6h-1.6zM129.3 528h1.6v1.6h-1.6zM129.2 528.4h1.6v1.6h-1.6zM128.3 528.4h1.6v1.6h-1.6zM130.9 528.5h1.6v1.6h-1.6zM129.5 529.4h1.6v1.6h-1.6zM128.7 528.4h1.6v1.6h-1.6zM132.7 529.8h1.6v1.6h-1.6zM131 528.8h1.6v1.6h-1.6zM129.3 527.7h1.6v1.6h-1.6zM130.4 530.8h1.6v1.6h-1.6zM130.4 530.4h1.6v1.6h-1.6zM130.2 529.7h1.6v1.6h-1.6zM131.2 533.3h1.6v1.6h-1.6zM131 528.7h1.6v1.6h-1.6zM132.1 530h1.6v1.6h-1.6zM131.8 529.2h1.6v1.6h-1.6zM132.4 529.4h1.6v1.6h-1.6zM131.9 529.9h1.6v1.6h-1.6zM130.7 531.3h1.6v1.6h-1.6zM132.2 528.2h1.6v1.6h-1.6zM132.7 531.8h1.6v1.6h-1.6zM132.2 531.4h1.6v1.6h-1.6zM132.5 531.5h1.6v1.6h-1.6zM131.9 532.6h1.6v1.6h-1.6zM133.9 530.4h1.6v1.6h-1.6zM132.6 530.4h1.6v1.6h-1.6zM132.1 532.9h1.6v1.6h-1.6zM132.9 532.1h1.6v1.6h-1.6zM132.5 534.9h1.6v1.6h-1.6zM134.6 532.6h1.6v1.6h-1.6zM133.5 534.4h1.6v1.6h-1.6zM134.9 532.8h1.6v1.6h-1.6zM133.4 531.2h1.6v1.6h-1.6zM135.4 534.8h1.6v1.6h-1.6zM136.7 533.2h1.6v1.6h-1.6zM135.1 530.6h1.6v1.6h-1.6zM134.9 532.2h1.6v1.6h-1.6zM133.3 532.3h1.6v1.6h-1.6zM133.4 532.8h1.6v1.6h-1.6zM135.2 532.7h1.6v1.6h-1.6zM134.3 533.5h1.6v1.6h-1.6zM137.3 534.8h1.6v1.6h-1.6zM134.2 535h1.6v1.6h-1.6zM137.2 534h1.6v1.6h-1.6zM136.2 535.6h1.6v1.6h-1.6zM133.7 534.6h1.6v1.6h-1.6zM135.4 535.6h1.6v1.6h-1.6zM137.3 534.1h1.6v1.6h-1.6zM134 534.3h1.6v1.6h-1.6zM136 534.2h1.6v1.6h-1.6zM136.4 533.7h1.6v1.6h-1.6zM136.9 536.2h1.6v1.6h-1.6zM138.9 535.3h1.6v1.6h-1.6zM137.8 534.7h1.6v1.6h-1.6zM135.9 534.8h1.6v1.6h-1.6zM136.7 534.3h1.6v1.6h-1.6zM134.8 538.7h1.6v1.6h-1.6zM136.8 536.1h1.6v1.6h-1.6zM137.5 535.7h1.6v1.6h-1.6zM137.2 537.8h1.6v1.6h-1.6zM137.9 537.9h1.6v1.6h-1.6zM136.3 537.2h1.6v1.6h-1.6zM136.8 535.2h1.6v1.6h-1.6zM138.9 537.2h1.6v1.6h-1.6zM139.1 537.8h1.6v1.6h-1.6zM136 537.8h1.6v1.6h-1.6zM140.8 537.5h1.6v1.6h-1.6zM139.8 539.2h1.6v1.6h-1.6zM141 534.6h1.6v1.6h-1.6zM138.6 537.5h1.6v1.6h-1.6zM138.8 539.1h1.6v1.6h-1.6zM137.8 535h1.6v1.6h-1.6zM139.8 537.8h1.6v1.6h-1.6zM140.9 539.5h1.6v1.6h-1.6zM140.2 540h1.6v1.6h-1.6zM138.3 538.4h1.6v1.6h-1.6zM138.4 540.9h1.6v1.6h-1.6zM139.9 539.9h1.6v1.6h-1.6zM140.9 539.8h1.6v1.6h-1.6zM141.7 540.3h1.6v1.6h-1.6zM141.6 539.3h1.6v1.6h-1.6zM141.7 537h1.6v1.6h-1.6zM139.9 541.1h1.6v1.6h-1.6zM141.8 537.8h1.6v1.6h-1.6zM139.7 538.2h1.6v1.6h-1.6zM140.9 540.8h1.6v1.6h-1.6zM141.5 540.8h1.6v1.6h-1.6zM140.2 539.9h1.6v1.6h-1.6zM142.1 540.7h1.6v1.6h-1.6zM142.9 540.4h1.6v1.6h-1.6zM143.2 541.9h1.6v1.6h-1.6zM142.9 539.1h1.6v1.6h-1.6zM141.7 539.7h1.6v1.6h-1.6zM144.5 541.8h1.6v1.6h-1.6zM142.9 540.2h1.6v1.6h-1.6zM142.2 542.9h1.6v1.6h-1.6zM142.9 540.5h1.6v1.6h-1.6zM142.3 542.2h1.6v1.6h-1.6zM141.2 540.8h1.6v1.6h-1.6zM144.3 542.6h1.6v1.6h-1.6zM144.4 541.4h1.6v1.6h-1.6zM144.8 543.9h1.6v1.6h-1.6zM143 541h1.6v1.6h-1.6zM143.7 542.2h1.6v1.6h-1.6zM143.7 541.5h1.6v1.6h-1.6zM141.8 543.4h1.6v1.6h-1.6zM143.4 542.5h1.6v1.6h-1.6zM144.2 543.4h1.6v1.6h-1.6zM143.5 541.4h1.6v1.6h-1.6zM145.2 542.9h1.6v1.6h-1.6zM144.7 543.4h1.6v1.6h-1.6zM144.8 542.6h1.6v1.6h-1.6zM144.2 543.2h1.6v1.6h-1.6zM146.9 543.1h1.6v1.6h-1.6zM145.8 544.6h1.6v1.6h-1.6zM145.6 542.8h1.6v1.6h-1.6zM146.3 545.7h1.6v1.6h-1.6zM145.9 543.7h1.6v1.6h-1.6zM146.9 543.4h1.6v1.6h-1.6zM146.3 545.6h1.6v1.6h-1.6zM144.8 544.7h1.6v1.6h-1.6zM148.1 545.8h1.6v1.6h-1.6zM147.5 545h1.6v1.6h-1.6zM146.7 542.5h1.6v1.6h-1.6zM147.8 544.8h1.6v1.6h-1.6zM148.2 546.3h1.6v1.6h-1.6zM150.9 545.5h1.6v1.6h-1.6zM150.1 545.2h1.6v1.6h-1.6zM148.6 544h1.6v1.6h-1.6zM148.6 544.5h1.6v1.6h-1.6zM148.7 543.7h1.6v1.6h-1.6zM150 543.7h1.6v1.6h-1.6zM149.4 543.2h1.6v1.6h-1.6zM149 546h1.6v1.6h-1.6zM150.1 547.7h1.6v1.6h-1.6zM147.8 545.8h1.6v1.6h-1.6zM149.2 546.1h1.6v1.6h-1.6zM151.1 545.5h1.6v1.6h-1.6zM148.5 545.6h1.6v1.6h-1.6zM151 545.5h1.6v1.6h-1.6zM147.9 546h1.6v1.6h-1.6zM151.6 548.6h1.6v1.6h-1.6zM149.6 546h1.6v1.6h-1.6zM151.5 548.1h1.6v1.6h-1.6zM150.7 547.1h1.6v1.6h-1.6zM151.8 545.3h1.6v1.6h-1.6zM152.8 546h1.6v1.6h-1.6zM148.9 549h1.6v1.6h-1.6zM151.4 548.5h1.6v1.6h-1.6zM149.7 548h1.6v1.6h-1.6zM152 548h1.6v1.6h-1.6zM152 547.8h1.6v1.6h-1.6zM151.9 546.6h1.6v1.6h-1.6zM154.6 547.5h1.6v1.6h-1.6zM150.8 548.6h1.6v1.6h-1.6zM152.1 547.5h1.6v1.6h-1.6zM156.5 549h1.6v1.6h-1.6zM150.6 548h1.6v1.6h-1.6zM152.4 548.7h1.6v1.6h-1.6zM153.8 549.5h1.6v1.6h-1.6zM155.5 548.5h1.6v1.6h-1.6zM153 550.5h1.6v1.6h-1.6zM155 549h1.6v1.6h-1.6zM153.1 550.8h1.6v1.6h-1.6zM154.6 551h1.6v1.6h-1.6zM155.4 550.3h1.6v1.6h-1.6zM154.4 550h1.6v1.6h-1.6zM154.4 548.4h1.6v1.6h-1.6zM155.1 551.1h1.6v1.6h-1.6zM155.5 549.4h1.6v1.6h-1.6zM154.6 551.7h1.6v1.6h-1.6zM156.3 549.4h1.6v1.6h-1.6zM153.3 550.9h1.6v1.6h-1.6zM153.5 553h1.6v1.6h-1.6zM155.3 551.7h1.6v1.6h-1.6zM153.3 551.1h1.6v1.6h-1.6zM156 549.2h1.6v1.6h-1.6zM158.1 551.2h1.6v1.6h-1.6zM156.6 551h1.6v1.6h-1.6zM156.4 552.3h1.6v1.6h-1.6zM156.8 552.1h1.6v1.6h-1.6zM154.5 551.7h1.6v1.6h-1.6zM155.1 552.2h1.6v1.6h-1.6zM155.9 549.8h1.6v1.6h-1.6zM158.9 551.8h1.6v1.6h-1.6zM156.6 552.2h1.6v1.6h-1.6zM157 553.2h1.6v1.6h-1.6zM159.4 552h1.6v1.6h-1.6zM158.3 553.4h1.6v1.6h-1.6zM156.1 553.6h1.6v1.6h-1.6zM159 552.7h1.6v1.6h-1.6zM157.6 551.8h1.6v1.6h-1.6zM159.4 552.3h1.6v1.6h-1.6zM158.5 551.6h1.6v1.6h-1.6zM158.1 551.3h1.6v1.6h-1.6zM157.6 554.3h1.6v1.6h-1.6zM157.4 552.2h1.6v1.6h-1.6zM158 553h1.6v1.6h-1.6zM157.7 553.9h1.6v1.6h-1.6zM158.5 554.6h1.6v1.6h-1.6zM159.9 554.2h1.6v1.6h-1.6zM160 554.6h1.6v1.6h-1.6zM157.5 556.6h1.6v1.6h-1.6zM157.7 556h1.6v1.6h-1.6zM159.1 551.7h1.6v1.6h-1.6zM158.5 552h1.6v1.6h-1.6zM160.7 554.2h1.6v1.6h-1.6zM163.9 554.8h1.6v1.6h-1.6zM159.8 556.4h1.6v1.6h-1.6zM164.5 553.9h1.6v1.6h-1.6zM160.1 554.9h1.6v1.6h-1.6zM159.7 554.2h1.6v1.6h-1.6zM163.4 556.6h1.6v1.6h-1.6zM162.9 555.5h1.6v1.6h-1.6zM163.3 553.4h1.6v1.6h-1.6zM163.6 553.7h1.6v1.6h-1.6zM160.9 556.1h1.6v1.6h-1.6zM160.8 556.1h1.6v1.6h-1.6zM162.7 557.2h1.6v1.6h-1.6zM162.4 556.1h1.6v1.6h-1.6zM162.4 556h1.6v1.6h-1.6zM162.6 556.2h1.6v1.6h-1.6zM163.7 557.7h1.6v1.6h-1.6zM163.6 552.8h1.6v1.6h-1.6zM163.7 554.4h1.6v1.6h-1.6zM162.3 557.4h1.6v1.6h-1.6zM160.7 555.9h1.6v1.6h-1.6zM164.1 556.8h1.6v1.6h-1.6zM163.4 555.3h1.6v1.6h-1.6zM166.6 555.4h1.6v1.6h-1.6zM163.4 558.2h1.6v1.6h-1.6zM164.7 558.3h1.6v1.6h-1.6zM166.3 556.2h1.6v1.6h-1.6zM165.5 556.8h1.6v1.6h-1.6zM165.1 557.7h1.6v1.6h-1.6zM164.1 558h1.6v1.6h-1.6zM164.2 561.8h1.6v1.6h-1.6zM168.7 558.3h1.6v1.6h-1.6zM163.7 554.9h1.6v1.6h-1.6zM163.6 560h1.6v1.6h-1.6zM164.4 558.1h1.6v1.6h-1.6zM165.5 558.1h1.6v1.6h-1.6zM165.7 558.4h1.6v1.6h-1.6zM168.4 559.5h1.6v1.6h-1.6zM169.4 559.7h1.6v1.6h-1.6zM167.2 562.1h1.6v1.6h-1.6zM166.2 561.3h1.6v1.6h-1.6zM166.1 561.2h1.6v1.6h-1.6zM167.6 560.5h1.6v1.6h-1.6zM167 563.4h1.6v1.6h-1.6zM168.6 559.2h1.6v1.6h-1.6zM170.5 559.3h1.6v1.6h-1.6zM168.9 561.6h1.6v1.6h-1.6zM168.3 561.5h1.6v1.6h-1.6zM167.9 561.3h1.6v1.6h-1.6zM167.6 560.1h1.6v1.6h-1.6zM168.1 561.3h1.6v1.6h-1.6zM168.4 563h1.6v1.6h-1.6zM168 564.2h1.6v1.6h-1.6zM169.2 561.3h1.6v1.6h-1.6zM169.1 562.7h1.6v1.6h-1.6zM168.8 562.5h1.6v1.6h-1.6zM169.4 559.6h1.6v1.6h-1.6zM169.7 564.2h1.6v1.6h-1.6zM168.6 563h1.6v1.6h-1.6zM168.5 563.5h1.6v1.6h-1.6zM168.7 561.3h1.6v1.6h-1.6zM170.4 562.6h1.6v1.6h-1.6zM170.2 564.7h1.6v1.6h-1.6zM171.6 561.8h1.6v1.6h-1.6zM171.4 562.8h1.6v1.6h-1.6zM171.4 562.3h1.6v1.6h-1.6zM170.6 562.9h1.6v1.6h-1.6zM170 562.8h1.6v1.6h-1.6zM174.9 562.5h1.6v1.6h-1.6zM169.1 563h1.6v1.6h-1.6zM171 561.9h1.6v1.6h-1.6zM171.9 562.9h1.6v1.6h-1.6zM173.2 565.4h1.6v1.6h-1.6zM170.3 563.2h1.6v1.6h-1.6zM170.4 562.1h1.6v1.6h-1.6zM172.5 564.5h1.6v1.6h-1.6zM172 566.2h1.6v1.6h-1.6zM170.7 563.8h1.6v1.6h-1.6zM173.2 562.9h1.6v1.6h-1.6zM173 561.9h1.6v1.6h-1.6zM171.8 564.1h1.6v1.6h-1.6zM172.1 564.6h1.6v1.6h-1.6zM174.1 566h1.6v1.6h-1.6zM174.4 563.8h1.6v1.6h-1.6zM172.9 565.3h1.6v1.6h-1.6zM173.3 567.5h1.6v1.6h-1.6zM174.3 564.4h1.6v1.6h-1.6zM173.3 564.9h1.6v1.6h-1.6zM174.3 565.6h1.6v1.6h-1.6zM173.9 564.5h1.6v1.6h-1.6zM174.7 564.8h1.6v1.6h-1.6zM173.8 565.3h1.6v1.6h-1.6zM175 565.2h1.6v1.6h-1.6zM175.9 564.2h1.6v1.6h-1.6zM175.7 566.5h1.6v1.6h-1.6zM175.9 565.7h1.6v1.6h-1.6zM175.1 565.4h1.6v1.6h-1.6zM174.4 568.8h1.6v1.6h-1.6zM176.9 566.7h1.6v1.6h-1.6zM177.8 566.2h1.6v1.6h-1.6zM177.1 566.4h1.6v1.6h-1.6zM175.7 563.5h1.6v1.6h-1.6zM178 567.8h1.6v1.6h-1.6zM178.1 566.2h1.6v1.6h-1.6zM178.4 567.6h1.6v1.6h-1.6zM179.3 567h1.6v1.6h-1.6zM179.3 564.2h1.6v1.6h-1.6zM179.4 567.6h1.6v1.6h-1.6zM177 566.6h1.6v1.6h-1.6zM179.2 568.2h1.6v1.6h-1.6zM179.8 568.2h1.6v1.6h-1.6zM179 566.8h1.6v1.6h-1.6zM179.8 565.9h1.6v1.6h-1.6zM178 567.6h1.6v1.6h-1.6zM179.3 566.9h1.6v1.6h-1.6zM181.2 563.8h1.6v1.6h-1.6zM179.6 568h1.6v1.6h-1.6zM179.8 568.8h1.6v1.6h-1.6zM178.7 566.8h1.6v1.6h-1.6zM179.7 566.5h1.6v1.6h-1.6zM179.1 567h1.6v1.6h-1.6zM179.6 565.9h1.6v1.6h-1.6zM181.7 567.2h1.6v1.6h-1.6zM179.6 567.2h1.6v1.6h-1.6zM182.1 568.4h1.6v1.6h-1.6zM181.7 569h1.6v1.6h-1.6zM181.6 566.5h1.6v1.6h-1.6zM181.2 567.7h1.6v1.6h-1.6zM179 569.6h1.6v1.6h-1.6zM183.3 566.8h1.6v1.6h-1.6zM182.2 568.3h1.6v1.6h-1.6zM185 565.8h1.6v1.6h-1.6zM184.3 568.1h1.6v1.6h-1.6zM182.5 568.4h1.6v1.6h-1.6zM182.2 565.8h1.6v1.6h-1.6zM181.2 570.5h1.6v1.6h-1.6zM183.1 567.4h1.6v1.6h-1.6zM183.7 567.4h1.6v1.6h-1.6zM182.8 568.9h1.6v1.6h-1.6zM184.6 568.7h1.6v1.6h-1.6zM182.8 569.9h1.6v1.6h-1.6zM185.2 569.7h1.6v1.6h-1.6zM184.3 567.8h1.6v1.6h-1.6zM183.4 570.2h1.6v1.6h-1.6zM185.7 566.9h1.6v1.6h-1.6zM185.4 568.5h1.6v1.6h-1.6zM185.8 569.8h1.6v1.6h-1.6zM187.2 569.2h1.6v1.6h-1.6zM184.7 567.6h1.6v1.6h-1.6zM185.1 567.9h1.6v1.6h-1.6zM187 568.1h1.6v1.6h-1.6zM186.4 569.9h1.6v1.6h-1.6zM186.1 571.5h1.6v1.6h-1.6zM184.4 569.9h1.6v1.6h-1.6zM186 569.3h1.6v1.6h-1.6zM187.2 569.1h1.6v1.6h-1.6zM186.5 569.5h1.6v1.6h-1.6zM186.5 569.6h1.6v1.6h-1.6zM187.1 567.9h1.6v1.6h-1.6zM189.7 569.6h1.6v1.6h-1.6zM187.3 570.3h1.6v1.6h-1.6zM189.5 571.8h1.6v1.6h-1.6zM189.2 570.7h1.6v1.6h-1.6zM187.7 572.3h1.6v1.6h-1.6zM188.4 570h1.6v1.6h-1.6zM189.6 571.1h1.6v1.6h-1.6zM189.6 570h1.6v1.6h-1.6zM189.8 572.2h1.6v1.6h-1.6zM191.3 571.1h1.6v1.6h-1.6zM190.8 569.1h1.6v1.6h-1.6zM189.7 568.8h1.6v1.6h-1.6zM192.9 568.2h1.6v1.6h-1.6zM189 569.4h1.6v1.6h-1.6zM190.2 568.3h1.6v1.6h-1.6zM189.5 571.7h1.6v1.6h-1.6zM189.1 572h1.6v1.6h-1.6zM191.9 569.8h1.6v1.6h-1.6zM188 569.9h1.6v1.6h-1.6zM191.7 570h1.6v1.6h-1.6zM191.5 571.1h1.6v1.6h-1.6zM191.9 573.3h1.6v1.6h-1.6zM193.1 572.7h1.6v1.6h-1.6zM192.8 568.1h1.6v1.6h-1.6zM192.4 571.5h1.6v1.6h-1.6zM191.3 572.2h1.6v1.6h-1.6zM193.3 569h1.6v1.6h-1.6zM194.6 572h1.6v1.6h-1.6zM193.4 570.6h1.6v1.6h-1.6zM195.1 568.3h1.6v1.6h-1.6zM193.1 573.2h1.6v1.6h-1.6zM195.9 572.3h1.6v1.6h-1.6zM196.4 571.2h1.6v1.6h-1.6zM193.2 574.5h1.6v1.6h-1.6zM196.3 572h1.6v1.6h-1.6zM196.1 572.6h1.6v1.6h-1.6zM195 572.8h1.6v1.6h-1.6zM196.9 570.6h1.6v1.6h-1.6zM194.7 572.1h1.6v1.6h-1.6zM194.7 572.3h1.6v1.6h-1.6zM194 571.9h1.6v1.6h-1.6zM196.9 572.2h1.6v1.6h-1.6zM196.1 573.4h1.6v1.6h-1.6zM198.5 571.9h1.6v1.6h-1.6zM195.8 573.8h1.6v1.6h-1.6zM197.5 571.3h1.6v1.6h-1.6zM195.8 572.2h1.6v1.6h-1.6zM197.1 572.9h1.6v1.6h-1.6zM198.4 575.1h1.6v1.6h-1.6zM199 572.3h1.6v1.6h-1.6zM197 572h1.6v1.6h-1.6zM196.8 574.5h1.6v1.6h-1.6zM198.6 570.6h1.6v1.6h-1.6zM198.2 574.7h1.6v1.6h-1.6zM196.5 574.2h1.6v1.6h-1.6zM201 571.1h1.6v1.6h-1.6zM198 572.1h1.6v1.6h-1.6zM199.4 573.9h1.6v1.6h-1.6zM201 574h1.6v1.6h-1.6zM199.1 573.6h1.6v1.6h-1.6zM201.1 572.6h1.6v1.6h-1.6zM199.5 573h1.6v1.6h-1.6zM199.5 575.5h1.6v1.6h-1.6zM199.4 575.4h1.6v1.6h-1.6zM199.4 572.7h1.6v1.6h-1.6zM198.7 577.8h1.6v1.6h-1.6zM200.7 575.9h1.6v1.6h-1.6zM200.7 574.6h1.6v1.6h-1.6zM200 575.9h1.6v1.6h-1.6zM202.2 573.6h1.6v1.6h-1.6zM202.5 576.1h1.6v1.6h-1.6zM203.1 575.1h1.6v1.6h-1.6zM203.3 576.1h1.6v1.6h-1.6zM202.2 572.6h1.6v1.6h-1.6zM201 576.8h1.6v1.6h-1.6zM201.5 574.9h1.6v1.6h-1.6zM202.4 574.2h1.6v1.6h-1.6zM205 574.4h1.6v1.6h-1.6zM204.9 575.3h1.6v1.6h-1.6zM202.8 575.4h1.6v1.6h-1.6zM201.7 575.6h1.6v1.6h-1.6zM204.3 575.6h1.6v1.6h-1.6zM203.9 574.5h1.6v1.6h-1.6zM204.8 574.6h1.6v1.6h-1.6zM203.5 574.6h1.6v1.6h-1.6zM206.2 575.9h1.6v1.6h-1.6zM204.1 577.4h1.6v1.6h-1.6zM204.2 574.4h1.6v1.6h-1.6zM205.2 576.7h1.6v1.6h-1.6zM206.4 573.7h1.6v1.6h-1.6zM204.4 577.6h1.6v1.6h-1.6zM206.2 576h1.6v1.6h-1.6zM203.4 576.2h1.6v1.6h-1.6zM204.9 575h1.6v1.6h-1.6zM206.3 575.2h1.6v1.6h-1.6zM206.4 577.6h1.6v1.6h-1.6zM205.9 577.8h1.6v1.6h-1.6zM208.4 578.3h1.6v1.6h-1.6zM205.6 575.2h1.6v1.6h-1.6zM205.8 575h1.6v1.6h-1.6zM206.2 577.2h1.6v1.6h-1.6zM207.5 577.6h1.6v1.6h-1.6zM209.4 576.6h1.6v1.6h-1.6zM206.6 575.8h1.6v1.6h-1.6zM206.5 577.8h1.6v1.6h-1.6zM210 577.7h1.6v1.6h-1.6zM207.8 577.6h1.6v1.6h-1.6zM209.9 576.9h1.6v1.6h-1.6zM209.6 577.6h1.6v1.6h-1.6zM208.2 578.9h1.6v1.6h-1.6zM210.3 577.6h1.6v1.6h-1.6zM208.3 576.1h1.6v1.6h-1.6zM208.4 579.5h1.6v1.6h-1.6zM209.8 578.1h1.6v1.6h-1.6zM210.6 578h1.6v1.6h-1.6zM210.5 577h1.6v1.6h-1.6zM211.9 577h1.6v1.6h-1.6zM211.4 575.1h1.6v1.6h-1.6zM209.3 576.9h1.6v1.6h-1.6zM211.3 576.8h1.6v1.6h-1.6zM209 579.5h1.6v1.6h-1.6zM212.8 579.9h1.6v1.6h-1.6zM213.9 580.1h1.6v1.6h-1.6zM209.8 576.4h1.6v1.6h-1.6zM210.5 578.2h1.6v1.6h-1.6zM210.1 579.3h1.6v1.6h-1.6zM213.6 580.8h1.6v1.6h-1.6zM212.2 580.4h1.6v1.6h-1.6zM211 581.4h1.6v1.6h-1.6zM211.2 580.4h1.6v1.6h-1.6zM211.3 579.4h1.6v1.6h-1.6zM213.4 582.2h1.6v1.6h-1.6zM210.7 580.8h1.6v1.6h-1.6zM216.3 581h1.6v1.6h-1.6zM213.5 582h1.6v1.6h-1.6zM213.5 581.6h1.6v1.6h-1.6zM213.4 579.3h1.6v1.6h-1.6zM213.9 580.8h1.6v1.6h-1.6zM215.4 579.1h1.6v1.6h-1.6zM212.4 583.7h1.6v1.6h-1.6zM213.5 583.2h1.6v1.6h-1.6zM213.2 582.8h1.6v1.6h-1.6zM212.4 579.8h1.6v1.6h-1.6zM214 582.2h1.6v1.6h-1.6zM214 583.9h1.6v1.6h-1.6zM213.8 583.1h1.6v1.6h-1.6zM213.9 581h1.6v1.6h-1.6zM215.8 581.4h1.6v1.6h-1.6zM212.4 582.6h1.6v1.6h-1.6zM216.3 582.9h1.6v1.6h-1.6zM214.4 581h1.6v1.6h-1.6zM214.2 583.2h1.6v1.6h-1.6zM217.8 581.4h1.6v1.6h-1.6zM215.6 584.4h1.6v1.6h-1.6zM216.5 583.2h1.6v1.6h-1.6zM215.3 584.3h1.6v1.6h-1.6zM216 582.8h1.6v1.6h-1.6zM214 584.3h1.6v1.6h-1.6zM217.1 584.3h1.6v1.6h-1.6zM215.6 585.1h1.6v1.6h-1.6zM217.6 583.6h1.6v1.6h-1.6zM215.3 584.6h1.6v1.6h-1.6zM218.3 581.7h1.6v1.6h-1.6zM217.9 583.9h1.6v1.6h-1.6zM217.2 584.8h1.6v1.6h-1.6zM218.8 584.9h1.6v1.6h-1.6zM216.1 585.4h1.6v1.6h-1.6zM218.4 584.6h1.6v1.6h-1.6zM219.9 584.6h1.6v1.6h-1.6zM219.4 586.6h1.6v1.6h-1.6zM218.6 585.6h1.6v1.6h-1.6zM218.1 584.8h1.6v1.6h-1.6zM217.9 584.4h1.6v1.6h-1.6zM218.2 584.8h1.6v1.6h-1.6zM218.4 585.5h1.6v1.6h-1.6zM220.4 584.3h1.6v1.6h-1.6zM218 587.5h1.6v1.6h-1.6zM220.8 587.3h1.6v1.6h-1.6zM219.7 589.6h1.6v1.6h-1.6zM219.8 586.8h1.6v1.6h-1.6zM221.2 585.5h1.6v1.6h-1.6zM219.5 586.5h1.6v1.6h-1.6zM218.1 587.7h1.6v1.6h-1.6zM222.2 588.1h1.6v1.6h-1.6zM219.7 586.9h1.6v1.6h-1.6zM219.1 587.3h1.6v1.6h-1.6zM221.1 586h1.6v1.6h-1.6zM221.8 585.9h1.6v1.6h-1.6zM220 587.9h1.6v1.6h-1.6zM222.1 587.9h1.6v1.6h-1.6zM219.5 586.4h1.6v1.6h-1.6zM221.4 588.7h1.6v1.6h-1.6zM221.9 586.4h1.6v1.6h-1.6zM222.1 589.5h1.6v1.6h-1.6zM220.5 587.6h1.6v1.6h-1.6zM222.7 587.7h1.6v1.6h-1.6zM222.8 591h1.6v1.6h-1.6zM221.3 589.6h1.6v1.6h-1.6zM222.9 590h1.6v1.6h-1.6zM222.9 589.9h1.6v1.6h-1.6zM222 589.5h1.6v1.6h-1.6zM223.6 591.5h1.6v1.6h-1.6zM223.8 591.8h1.6v1.6h-1.6zM224.1 590.1h1.6v1.6h-1.6zM224.1 591.4h1.6v1.6h-1.6zM221.2 590.5h1.6v1.6h-1.6zM221.2 591.4h1.6v1.6h-1.6zM225.2 591.2h1.6v1.6h-1.6zM224.8 591.1h1.6v1.6h-1.6zM224.6 590.3h1.6v1.6h-1.6zM227.3 592.3h1.6v1.6h-1.6zM225.8 591.3h1.6v1.6h-1.6zM225.3 592.7h1.6v1.6h-1.6zM224.7 590.9h1.6v1.6h-1.6zM226.2 590.7h1.6v1.6h-1.6zM225.3 592.3h1.6v1.6h-1.6zM223.1 593.3h1.6v1.6h-1.6zM225.5 591.5h1.6v1.6h-1.6zM226.2 590.9h1.6v1.6h-1.6zM226.7 592.7h1.6v1.6h-1.6zM225 594.1h1.6v1.6h-1.6zM225.6 592h1.6v1.6h-1.6zM226 593h1.6v1.6h-1.6zM223.7 592.5h1.6v1.6h-1.6zM225.6 595.1h1.6v1.6h-1.6zM227 592.2h1.6v1.6h-1.6zM226.3 593.5h1.6v1.6h-1.6zM227.9 594.9h1.6v1.6h-1.6zM226.4 593.6h1.6v1.6h-1.6zM224.7 591.8h1.6v1.6h-1.6zM225.7 597.1h1.6v1.6h-1.6zM227 593.4h1.6v1.6h-1.6zM227.8 596.5h1.6v1.6h-1.6zM227 594.8h1.6v1.6h-1.6zM229.1 594.8h1.6v1.6h-1.6zM227 594.1h1.6v1.6h-1.6zM228.4 594.3h1.6v1.6h-1.6zM227.6 596h1.6v1.6h-1.6zM226.5 593.5h1.6v1.6h-1.6zM228.1 595h1.6v1.6h-1.6zM227.2 594.7h1.6v1.6h-1.6zM229.7 596.6h1.6v1.6h-1.6zM228.5 596.3h1.6v1.6h-1.6zM228.8 595.9h1.6v1.6h-1.6zM227.2 596.3h1.6v1.6h-1.6zM230.3 599.6h1.6v1.6h-1.6zM229.2 596.6h1.6v1.6h-1.6zM228.2 598.1h1.6v1.6h-1.6zM227.2 596h1.6v1.6h-1.6zM227.9 596.2h1.6v1.6h-1.6zM229.9 597h1.6v1.6h-1.6zM228.3 597.4h1.6v1.6h-1.6zM231 597.1h1.6v1.6h-1.6zM227.5 597.5h1.6v1.6h-1.6zM231.7 597.5h1.6v1.6h-1.6zM230.7 598h1.6v1.6h-1.6zM230.4 598.2h1.6v1.6h-1.6zM233.2 598.8h1.6v1.6h-1.6zM228.6 599.4h1.6v1.6h-1.6zM230.4 599.3h1.6v1.6h-1.6zM231.1 598.5h1.6v1.6h-1.6zM231 598.4h1.6v1.6h-1.6zM229.5 599h1.6v1.6h-1.6zM229.4 598.3h1.6v1.6h-1.6zM232.9 601h1.6v1.6h-1.6zM231.5 600.2h1.6v1.6h-1.6zM232.2 599.7h1.6v1.6h-1.6zM230.3 598.9h1.6v1.6h-1.6zM233.9 599.1h1.6v1.6h-1.6zM231.1 600.8h1.6v1.6h-1.6zM230.9 600h1.6v1.6h-1.6zM230.9 601.6h1.6v1.6h-1.6zM232.7 603.4h1.6v1.6h-1.6zM233.7 599.2h1.6v1.6h-1.6zM231.7 596.5h1.6v1.6h-1.6zM231.3 601h1.6v1.6h-1.6zM231.4 599.2h1.6v1.6h-1.6zM232 601.4h1.6v1.6h-1.6zM235 601.2h1.6v1.6h-1.6zM232.9 600.9h1.6v1.6h-1.6zM231.8 602.5h1.6v1.6h-1.6zM234.1 600.9h1.6v1.6h-1.6zM235.2 602.9h1.6v1.6h-1.6zM234.7 600.8h1.6v1.6h-1.6zM233.5 601.1h1.6v1.6h-1.6zM233.7 602.9h1.6v1.6h-1.6zM235.8 603.8h1.6v1.6h-1.6zM234.9 601.1h1.6v1.6h-1.6zM232.9 602.3h1.6v1.6h-1.6zM234.6 602.4h1.6v1.6h-1.6zM234.8 603.8h1.6v1.6h-1.6zM236.2 603h1.6v1.6h-1.6zM234.6 602.3h1.6v1.6h-1.6zM235.8 601.5h1.6v1.6h-1.6zM231.7 606.3h1.6v1.6h-1.6zM237.4 603.6h1.6v1.6h-1.6zM233.7 606.5h1.6v1.6h-1.6zM237.1 603.8h1.6v1.6h-1.6zM234.5 605.6h1.6v1.6h-1.6zM235.5 605h1.6v1.6h-1.6zM235.5 605.7h1.6v1.6h-1.6zM234.5 604.9h1.6v1.6h-1.6zM237.8 604h1.6v1.6h-1.6zM235 605.4h1.6v1.6h-1.6zM236.9 603.4h1.6v1.6h-1.6zM235.5 605.9h1.6v1.6h-1.6zM236.6 603.6h1.6v1.6h-1.6zM236.5 606.2h1.6v1.6h-1.6zM237.2 606h1.6v1.6h-1.6zM236.6 603.5h1.6v1.6h-1.6zM237 605.9h1.6v1.6h-1.6zM236.9 606.9h1.6v1.6h-1.6zM239 607.3h1.6v1.6h-1.6zM239.1 604.6h1.6v1.6h-1.6zM238.2 605.8h1.6v1.6h-1.6zM237.8 605.8h1.6v1.6h-1.6zM236.8 608.7h1.6v1.6h-1.6zM239.9 607.3h1.6v1.6h-1.6zM237.7 608.5h1.6v1.6h-1.6zM238.6 608.2h1.6v1.6h-1.6zM240 607.2h1.6v1.6h-1.6zM239.2 609.5h1.6v1.6h-1.6zM239.9 606.9h1.6v1.6h-1.6zM237 606.8h1.6v1.6h-1.6zM240.2 607.2h1.6v1.6h-1.6zM238.6 608h1.6v1.6h-1.6zM241.2 611.1h1.6v1.6h-1.6zM239.7 610.1h1.6v1.6h-1.6zM239.8 609.3h1.6v1.6h-1.6zM239.7 610.2h1.6v1.6h-1.6zM240.1 611.8h1.6v1.6h-1.6zM239.4 611.8h1.6v1.6h-1.6zM238.8 607h1.6v1.6h-1.6zM240.2 609.5h1.6v1.6h-1.6zM240.9 610h1.6v1.6h-1.6zM241 610h1.6v1.6h-1.6zM240.9 611.3h1.6v1.6h-1.6zM240.6 609.3h1.6v1.6h-1.6zM239.4 611.2h1.6v1.6h-1.6zM242.8 611.5h1.6v1.6h-1.6zM241.6 610.5h1.6v1.6h-1.6zM241.8 609h1.6v1.6h-1.6zM240.9 610.1h1.6v1.6h-1.6zM242.8 612.2h1.6v1.6h-1.6zM240.7 614.5h1.6v1.6h-1.6zM242.9 608.6h1.6v1.6h-1.6zM242.8 612.4h1.6v1.6h-1.6zM242 611.9h1.6v1.6h-1.6zM240.9 611.8h1.6v1.6h-1.6zM242.5 612.5h1.6v1.6h-1.6zM243.8 612h1.6v1.6h-1.6zM239.2 612.3h1.6v1.6h-1.6zM242.9 611.2h1.6v1.6h-1.6zM243.2 613.1h1.6v1.6h-1.6zM243.5 612.3h1.6v1.6h-1.6zM245.4 611.4h1.6v1.6h-1.6zM243.2 614.3h1.6v1.6h-1.6zM245.4 614.1h1.6v1.6h-1.6zM246.6 615h1.6v1.6h-1.6zM242.6 614.1h1.6v1.6h-1.6zM246.9 612.7h1.6v1.6h-1.6zM245.2 611.9h1.6v1.6h-1.6zM243.5 614.7h1.6v1.6h-1.6zM244.7 612.6h1.6v1.6h-1.6zM246.5 613.2h1.6v1.6h-1.6zM245.6 613.7h1.6v1.6h-1.6zM243.6 614.2h1.6v1.6h-1.6zM244.8 615.8h1.6v1.6h-1.6zM244.2 614.4h1.6v1.6h-1.6zM245.5 616.1h1.6v1.6h-1.6zM245 615.3h1.6v1.6h-1.6zM247.2 615.3h1.6v1.6h-1.6zM245.7 614.4h1.6v1.6h-1.6zM246.7 614.7h1.6v1.6h-1.6zM246.6 615.5h1.6v1.6h-1.6zM246.8 614.6h1.6v1.6h-1.6zM248.4 616.2h1.6v1.6h-1.6zM246.8 616.8h1.6v1.6h-1.6zM246 615.3h1.6v1.6h-1.6zM248.1 615h1.6v1.6h-1.6zM246 614.6h1.6v1.6h-1.6zM245.4 615.5h1.6v1.6h-1.6zM247.3 617h1.6v1.6h-1.6zM245.4 617.1h1.6v1.6h-1.6zM246.4 616.7h1.6v1.6h-1.6zM249.9 615.2h1.6v1.6h-1.6zM250.1 616.2h1.6v1.6h-1.6zM247.7 615.8h1.6v1.6h-1.6zM248.7 619.5h1.6v1.6h-1.6zM246.7 614.4h1.6v1.6h-1.6zM249 620.2h1.6v1.6h-1.6zM249.5 619.4h1.6v1.6h-1.6zM246.9 618.5h1.6v1.6h-1.6zM248.4 617h1.6v1.6h-1.6zM249.7 617h1.6v1.6h-1.6zM249.4 616.2h1.6v1.6h-1.6zM249.6 615.6h1.6v1.6h-1.6zM251.5 620.2h1.6v1.6h-1.6zM250.1 616.1h1.6v1.6h-1.6zM251.8 618.1h1.6v1.6h-1.6zM250.6 617.1h1.6v1.6h-1.6zM251.8 618.2h1.6v1.6h-1.6zM250.4 618.8h1.6v1.6h-1.6zM250.2 619.3h1.6v1.6h-1.6zM252.5 619.2h1.6v1.6h-1.6zM251.6 619.5h1.6v1.6h-1.6zM252.1 619.2h1.6v1.6h-1.6zM250.3 621.2h1.6v1.6h-1.6zM254 620.2h1.6v1.6h-1.6zM251.2 619.8h1.6v1.6h-1.6zM252.8 620.5h1.6v1.6h-1.6zM251.2 618.7h1.6v1.6h-1.6zM252 620.5h1.6v1.6h-1.6zM252.2 619.2h1.6v1.6h-1.6zM251.3 620.5h1.6v1.6h-1.6zM250.1 618.9h1.6v1.6h-1.6zM253.8 617.7h1.6v1.6h-1.6zM252.9 622.1h1.6v1.6h-1.6zM252.4 618.5h1.6v1.6h-1.6zM251.1 621.8h1.6v1.6h-1.6zM251.2 620.7h1.6v1.6h-1.6zM252 620.8h1.6v1.6h-1.6zM254.3 621.4h1.6v1.6h-1.6zM252.6 620.2h1.6v1.6h-1.6zM252.1 620.5h1.6v1.6h-1.6zM255.6 619.7h1.6v1.6h-1.6zM256 621.3h1.6v1.6h-1.6zM256.4 622.8h1.6v1.6h-1.6zM255.1 622.7h1.6v1.6h-1.6zM255.3 619.5h1.6v1.6h-1.6zM256.6 620.1h1.6v1.6h-1.6zM252.9 621.6h1.6v1.6h-1.6zM256.8 622.8h1.6v1.6h-1.6zM257.2 621.3h1.6v1.6h-1.6zM253.6 621.3h1.6v1.6h-1.6zM258.2 619.6h1.6v1.6h-1.6zM258 622.5h1.6v1.6h-1.6zM257 621.8h1.6v1.6h-1.6zM257.1 619h1.6v1.6h-1.6zM255.9 622h1.6v1.6h-1.6zM257 622.4h1.6v1.6h-1.6zM259.7 622.5h1.6v1.6h-1.6zM257.9 620.5h1.6v1.6h-1.6zM257.2 625.2h1.6v1.6h-1.6zM258.7 623.1h1.6v1.6h-1.6zM261.2 622.9h1.6v1.6h-1.6zM258.9 620.2h1.6v1.6h-1.6zM258.5 622.3h1.6v1.6h-1.6zM260.2 623.4h1.6v1.6h-1.6zM258.3 622.1h1.6v1.6h-1.6zM258.8 621.7h1.6v1.6h-1.6zM260.6 620.4h1.6v1.6h-1.6zM260.8 622.9h1.6v1.6h-1.6zM261.3 623h1.6v1.6h-1.6zM259.6 622.3h1.6v1.6h-1.6zM262.6 621.9h1.6v1.6h-1.6zM259.6 623.3h1.6v1.6h-1.6zM260.7 621.7h1.6v1.6h-1.6zM259.5 622h1.6v1.6h-1.6zM261 623.3h1.6v1.6h-1.6zM260.5 620.7h1.6v1.6h-1.6zM262.5 621.7h1.6v1.6h-1.6zM260.3 624.2h1.6v1.6h-1.6zM262.6 622.5h1.6v1.6h-1.6zM263.3 622.6h1.6v1.6h-1.6zM263.3 623.3h1.6v1.6h-1.6zM261.9 622.3h1.6v1.6h-1.6zM261.3 621.4h1.6v1.6h-1.6zM262.9 623h1.6v1.6h-1.6zM264.7 622.2h1.6v1.6h-1.6zM264.1 622.7h1.6v1.6h-1.6zM263.6 621h1.6v1.6h-1.6zM265.9 621.6h1.6v1.6h-1.6zM266 623.5h1.6v1.6h-1.6zM269 621.4h1.6v1.6h-1.6zM265.6 621h1.6v1.6h-1.6zM266.8 621.4h1.6v1.6h-1.6zM264.1 623h1.6v1.6h-1.6zM265.7 622.6h1.6v1.6h-1.6zM265 622.9h1.6v1.6h-1.6zM266.5 623.6h1.6v1.6h-1.6zM265.7 625.8h1.6v1.6h-1.6zM266.6 624.1h1.6v1.6h-1.6zM264.9 622.5h1.6v1.6h-1.6zM267.2 619.6h1.6v1.6h-1.6zM266.8 622.3h1.6v1.6h-1.6zM266 623.7h1.6v1.6h-1.6zM268.6 621.7h1.6v1.6h-1.6zM265.8 624.2h1.6v1.6h-1.6zM267.9 622.7h1.6v1.6h-1.6zM268.2 622.7h1.6v1.6h-1.6zM268.2 622.8h1.6v1.6h-1.6zM268.7 622h1.6v1.6h-1.6zM269.4 621.5h1.6v1.6h-1.6zM271.5 623.9h1.6v1.6h-1.6zM270.2 625.4h1.6v1.6h-1.6zM270 621.9h1.6v1.6h-1.6zM269.5 623.2h1.6v1.6h-1.6zM269.3 623.8h1.6v1.6h-1.6zM269.4 622.1h1.6v1.6h-1.6zM269.1 623.2h1.6v1.6h-1.6zM270.4 622h1.6v1.6h-1.6zM101.3 452.2h1.6v1.6h-1.6zM99.8 451.6h1.6v1.6h-1.6zM100.4 452.3h1.6v1.6h-1.6zM101 452.1h1.6v1.6h-1.6zM99.3 454.2h1.6v1.6h-1.6zM100.5 455.4h1.6v1.6h-1.6zM100.8 454.7h1.6v1.6h-1.6zM99.9 454.5h1.6v1.6h-1.6zM104.7 455.5h1.6v1.6h-1.6zM100.5 456.9h1.6v1.6h-1.6zM103.4 458.2h1.6v1.6h-1.6zM102.9 457.7h1.6v1.6h-1.6zM100.5 458.3h1.6v1.6h-1.6zM103.8 457.5h1.6v1.6h-1.6zM104 458.5h1.6v1.6h-1.6zM102.8 459.3h1.6v1.6h-1.6zM101.4 459.9h1.6v1.6h-1.6zM103.7 459.1h1.6v1.6h-1.6zM102.9 459.8h1.6v1.6h-1.6zM103.3 461.8h1.6v1.6h-1.6zM103.3 461h1.6v1.6h-1.6zM104.5 462.7h1.6v1.6h-1.6zM102.5 462.1h1.6v1.6h-1.6zM103.1 463.3h1.6v1.6h-1.6zM104.8 463.5h1.6v1.6h-1.6zM103 463.7h1.6v1.6h-1.6zM104.7 464.7h1.6v1.6h-1.6zM103.3 466.8h1.6v1.6h-1.6zM106.4 466.1h1.6v1.6h-1.6zM104 465.6h1.6v1.6h-1.6zM104.8 464.9h1.6v1.6h-1.6zM105.1 466.9h1.6v1.6h-1.6zM105.7 467h1.6v1.6h-1.6zM105.9 467.3h1.6v1.6h-1.6zM105.7 468.3h1.6v1.6h-1.6zM104.1 469h1.6v1.6h-1.6zM105.2 470.9h1.6v1.6h-1.6zM106.6 470.8h1.6v1.6h-1.6zM107.4 470.7h1.6v1.6h-1.6zM106 472.2h1.6v1.6h-1.6zM107 471.9h1.6v1.6h-1.6zM105.9 471.8h1.6v1.6h-1.6zM106.1 473.7h1.6v1.6h-1.6zM105.5 472.6h1.6v1.6h-1.6zM108 473.9h1.6v1.6h-1.6zM105.6 474.1h1.6v1.6h-1.6zM108.6 474.8h1.6v1.6h-1.6zM107.9 475.3h1.6v1.6h-1.6zM106.5 475.8h1.6v1.6h-1.6zM107.6 476.4h1.6v1.6h-1.6zM107.4 476.1h1.6v1.6h-1.6zM105.9 477.9h1.6v1.6h-1.6zM107 479h1.6v1.6h-1.6zM108 478.5h1.6v1.6h-1.6zM107.4 478.7h1.6v1.6h-1.6zM108.3 479.9h1.6v1.6h-1.6zM107.7 479.5h1.6v1.6h-1.6zM107.9 480.6h1.6v1.6h-1.6zM107.1 481h1.6v1.6h-1.6zM106.6 481.6h1.6v1.6h-1.6zM108.9 480.4h1.6v1.6h-1.6zM106.5 482.5h1.6v1.6h-1.6zM108.1 483.3h1.6v1.6h-1.6zM109.2 483.5h1.6v1.6h-1.6zM110.8 483.4h1.6v1.6h-1.6zM108.3 484.8h1.6v1.6h-1.6zM108.8 485.4h1.6v1.6h-1.6zM108.9 484.4h1.6v1.6h-1.6zM111.5 485.4h1.6v1.6h-1.6zM109 485.6h1.6v1.6h-1.6zM111.1 487.4h1.6v1.6h-1.6zM110.4 486.7h1.6v1.6h-1.6zM109.4 488.1h1.6v1.6h-1.6zM109.8 487.5h1.6v1.6h-1.6zM109.2 488.4h1.6v1.6h-1.6zM110.4 490.5h1.6v1.6h-1.6zM110.8 488.7h1.6v1.6h-1.6zM109.7 490.3h1.6v1.6h-1.6zM110.6 490.6h1.6v1.6h-1.6zM110.3 491.1h1.6v1.6h-1.6zM110.4 491.8h1.6v1.6h-1.6zM110 490.7h1.6v1.6h-1.6zM111.3 492.2h1.6v1.6h-1.6zM111.7 491.4h1.6v1.6h-1.6zM112 492.5h1.6v1.6h-1.6zM111.7 492.3h1.6v1.6h-1.6zM112.6 494.6h1.6v1.6h-1.6zM112.6 493.2h1.6v1.6h-1.6zM111 494.5h1.6v1.6h-1.6zM111 496.4h1.6v1.6h-1.6zM111.2 496.7h1.6v1.6h-1.6zM112.7 495.5h1.6v1.6h-1.6zM111 497.6h1.6v1.6h-1.6zM113.6 498h1.6v1.6h-1.6zM111.7 498.1h1.6v1.6h-1.6zM113.2 498.5h1.6v1.6h-1.6zM113 501.3h1.6v1.6h-1.6zM112.9 498.9h1.6v1.6h-1.6zM106.8 450.9h1.6v1.6h-1.6zM107 452.3h1.6v1.6h-1.6zM107.5 453.9h1.6v1.6h-1.6zM106.1 454.8h1.6v1.6h-1.6zM107.6 455.1h1.6v1.6h-1.6zM108.5 455.3h1.6v1.6h-1.6zM110.1 456.3h1.6v1.6h-1.6zM108.5 456.8h1.6v1.6h-1.6zM109.3 457.2h1.6v1.6h-1.6zM109.3 458.2h1.6v1.6h-1.6zM109.5 458.1h1.6v1.6h-1.6zM109.9 458.9h1.6v1.6h-1.6zM110.9 459.3h1.6v1.6h-1.6zM111 460.3h1.6v1.6h-1.6zM111.7 460.4h1.6v1.6h-1.6zM111.7 461.2h1.6v1.6h-1.6zM112 461.7h1.6v1.6h-1.6zM111.6 463.1h1.6v1.6h-1.6zM110.7 463.1h1.6v1.6h-1.6zM112.3 463.6h1.6v1.6h-1.6zM110.6 463.7h1.6v1.6h-1.6zM110.8 465.7h1.6v1.6h-1.6zM111.6 466.3h1.6v1.6h-1.6zM110.9 466.5h1.6v1.6h-1.6zM109.9 467.2h1.6v1.6h-1.6zM110.1 468.1h1.6v1.6h-1.6zM111.2 468.3h1.6v1.6h-1.6zM110.6 469.5h1.6v1.6h-1.6zM125.4 508h1.6v1.6h-1.6zM126 508.3h1.6v1.6h-1.6zM126.5 509.7h1.6v1.6h-1.6zM125.8 510.6h1.6v1.6h-1.6zM126.5 510.6h1.6v1.6h-1.6zM126.8 511.4h1.6v1.6h-1.6zM127.5 512.7h1.6v1.6h-1.6zM128.3 512h1.6v1.6h-1.6zM128.9 512.9h1.6v1.6h-1.6zM128 514.1h1.6v1.6h-1.6zM129.1 514h1.6v1.6h-1.6zM128.7 515.5h1.6v1.6h-1.6zM128.5 517h1.6v1.6h-1.6zM128.9 517h1.6v1.6h-1.6zM129.4 517.3h1.6v1.6h-1.6zM129.8 516.8h1.6v1.6h-1.6zM129.1 518.9h1.6v1.6h-1.6zM130.2 519.6h1.6v1.6h-1.6zM130 519.6h1.6v1.6h-1.6zM130.8 521.2h1.6v1.6h-1.6zM130.4 521h1.6v1.6h-1.6zM130.3 521.5h1.6v1.6h-1.6zM130.2 522.9h1.6v1.6h-1.6zM131 524.9h1.6v1.6h-1.6zM130.4 523.5h1.6v1.6h-1.6zM131.8 524.2h1.6v1.6h-1.6zM131.7 525.5h1.6v1.6h-1.6zM131.6 526.1h1.6v1.6h-1.6zM132.3 527.2h1.6v1.6h-1.6zM131.5 527h1.6v1.6h-1.6zM132.2 527.9h1.6v1.6h-1.6zM130.8 528.7h1.6v1.6h-1.6zM133.2 528.8h1.6v1.6h-1.6zM132.1 529.3h1.6v1.6h-1.6zM132.8 530.5h1.6v1.6h-1.6zM132.3 531.5h1.6v1.6h-1.6zM134.2 531.2h1.6v1.6h-1.6zM134 532.3h1.6v1.6h-1.6zM133.4 533.7h1.6v1.6h-1.6zM133.4 534h1.6v1.6h-1.6zM135 534.9h1.6v1.6h-1.6zM133.7 536h1.6v1.6h-1.6zM156.5 545.8h1.6v1.6h-1.6zM156.1 545.3h1.6v1.6h-1.6zM156.2 545.3h1.6v1.6h-1.6zM157.4 545.9h1.6v1.6h-1.6zM157.3 550.7h1.6v1.6h-1.6zM158 548.8h1.6v1.6h-1.6zM159.4 547.6h1.6v1.6h-1.6zM157.8 549.3h1.6v1.6h-1.6zM159.3 550.7h1.6v1.6h-1.6zM160.1 547.9h1.6v1.6h-1.6zM158 551.2h1.6v1.6h-1.6zM158.2 550.6h1.6v1.6h-1.6zM160.6 551.7h1.6v1.6h-1.6zM160.1 553.2h1.6v1.6h-1.6zM160 553.1h1.6v1.6h-1.6zM162.1 552.2h1.6v1.6h-1.6zM161.9 551.8h1.6v1.6h-1.6zM161.9 552.2h1.6v1.6h-1.6zM159.2 553.4h1.6v1.6h-1.6zM161.9 554h1.6v1.6h-1.6zM188.1 555.6h1.6v1.6h-1.6zM188.8 556h1.6v1.6h-1.6zM188.8 556.4h1.6v1.6h-1.6zM187.5 557.6h1.6v1.6h-1.6zM188.2 557.6h1.6v1.6h-1.6zM188.9 559.4h1.6v1.6h-1.6zM187.8 560.4h1.6v1.6h-1.6zM188.4 560.9h1.6v1.6h-1.6zM188.4 561h1.6v1.6h-1.6zM189 561.7h1.6v1.6h-1.6zM188.9 563.1h1.6v1.6h-1.6zM188.6 562.9h1.6v1.6h-1.6zM190 563.9h1.6v1.6h-1.6zM189.3 563.4h1.6v1.6h-1.6zM189.5 564.6h1.6v1.6h-1.6zM190 565.6h1.6v1.6h-1.6zM189.3 565.4h1.6v1.6h-1.6zM189.7 566.7h1.6v1.6h-1.6zM190.3 567.6h1.6v1.6h-1.6zM189.9 568.2h1.6v1.6h-1.6zM191.4 568h1.6v1.6h-1.6zM191.7 569.6h1.6v1.6h-1.6zM190.2 569h1.6v1.6h-1.6zM190.7 570.5h1.6v1.6h-1.6zM191.3 570.5h1.6v1.6h-1.6zM191.3 571.9h1.6v1.6h-1.6zM191.7 572.4h1.6v1.6h-1.6zM191.7 572.6h1.6v1.6h-1.6zM193.2 572h1.6v1.6h-1.6zM192.1 574h1.6v1.6h-1.6zM191.5 573.4h1.6v1.6h-1.6zM192.4 574.6h1.6v1.6h-1.6zM192.6 575.2h1.6v1.6h-1.6zM193.4 576.2h1.6v1.6h-1.6zM194 576.5h1.6v1.6h-1.6zM194 577h1.6v1.6h-1.6zM195.8 557.7h1.6v1.6h-1.6zM195.5 558.9h1.6v1.6h-1.6zM196 559.6h1.6v1.6h-1.6zM198.2 559.9h1.6v1.6h-1.6zM197.1 558.8h1.6v1.6h-1.6zM197 559.5h1.6v1.6h-1.6zM195.9 559.9h1.6v1.6h-1.6zM197.5 561.2h1.6v1.6h-1.6zM198.1 562.1h1.6v1.6h-1.6zM198.4 561.5h1.6v1.6h-1.6zM197.6 562.9h1.6v1.6h-1.6zM199.2 563.6h1.6v1.6h-1.6zM197.7 562.3h1.6v1.6h-1.6zM197.6 565h1.6v1.6h-1.6zM198.8 564.9h1.6v1.6h-1.6zM200.1 565h1.6v1.6h-1.6zM199.9 565.2h1.6v1.6h-1.6zM199.7 565.1h1.6v1.6h-1.6zM200.6 566.2h1.6v1.6h-1.6zM201.8 566.9h1.6v1.6h-1.6zM201.5 567.3h1.6v1.6h-1.6zM202.1 568.9h1.6v1.6h-1.6zM202.8 568.7h1.6v1.6h-1.6zM201.6 567.2h1.6v1.6h-1.6zM201.9 568.6h1.6v1.6h-1.6zM202.5 568.5h1.6v1.6h-1.6zM203.7 569.3h1.6v1.6h-1.6zM204.4 569.3h1.6v1.6h-1.6zM204.6 568.7h1.6v1.6h-1.6zM204.6 570.5h1.6v1.6h-1.6zM205.9 571.7h1.6v1.6h-1.6zM204.6 572.5h1.6v1.6h-1.6zM205.2 570.3h1.6v1.6h-1.6zM206.1 572h1.6v1.6h-1.6zM208.1 573.4h1.6v1.6h-1.6zM206.4 571.7h1.6v1.6h-1.6zM208.1 573.8h1.6v1.6h-1.6zM206.7 573h1.6v1.6h-1.6zM207.3 574.2h1.6v1.6h-1.6zM206.6 575.9h1.6v1.6h-1.6zM205.8 576.1h1.6v1.6h-1.6zM208.1 577.3h1.6v1.6h-1.6zM207.3 575.2h1.6v1.6h-1.6zM210.1 576.4h1.6v1.6h-1.6zM209.3 578.7h1.6v1.6h-1.6zM209.7 578.1h1.6v1.6h-1.6zM209.7 578.4h1.6v1.6h-1.6zM210.3 577.7h1.6v1.6h-1.6zM209.3 578.5h1.6v1.6h-1.6zM210.9 578.7h1.6v1.6h-1.6zM209.7 578.9h1.6v1.6h-1.6zM210.1 581.5h1.6v1.6h-1.6zM209.5 580.5h1.6v1.6h-1.6zM211 580.5h1.6v1.6h-1.6zM208.9 580.3h1.6v1.6h-1.6zM211.5 582.9h1.6v1.6h-1.6zM213.1 582.9h1.6v1.6h-1.6zM212.9 583.6h1.6v1.6h-1.6zM211.9 583.6h1.6v1.6h-1.6zM173.9 555.2h1.6v1.6h-1.6zM173.6 556.5h1.6v1.6h-1.6zM174.5 557.5h1.6v1.6h-1.6zM173.8 557.8h1.6v1.6h-1.6zM174.4 559h1.6v1.6h-1.6zM174.8 559.6h1.6v1.6h-1.6zM174.7 559.6h1.6v1.6h-1.6zM176.1 560.4h1.6v1.6h-1.6zM175.3 561.1h1.6v1.6h-1.6zM176.1 562.5h1.6v1.6h-1.6zM176 562.7h1.6v1.6h-1.6zM176 563.4h1.6v1.6h-1.6zM176.5 563.1h1.6v1.6h-1.6zM176.2 564.4h1.6v1.6h-1.6zM176.6 564.7h1.6v1.6h-1.6zM176.4 566.4h1.6v1.6h-1.6zM176.7 566h1.6v1.6h-1.6zM177.6 567.7h1.6v1.6h-1.6zM178.1 567.6h1.6v1.6h-1.6zM176.8 569.5h1.6v1.6h-1.6zM178.1 569.2h1.6v1.6h-1.6zM176.9 569.9h1.6v1.6h-1.6zM178.1 570.4h1.6v1.6h-1.6zM178.8 571.1h1.6v1.6h-1.6zM179.1 571.7h1.6v1.6h-1.6zM178.8 572.3h1.6v1.6h-1.6zM178.8 574h1.6v1.6h-1.6zM178.6 574.3h1.6v1.6h-1.6zM179.8 574.5h1.6v1.6h-1.6zM179.5 575.6h1.6v1.6h-1.6zM219.4 575.9h1.6v1.6h-1.6zM220.5 576.1h1.6v1.6h-1.6zM219.2 576.5h1.6v1.6h-1.6zM220.3 576.6h1.6v1.6h-1.6zM220.7 575.5h1.6v1.6h-1.6zM220.9 578.6h1.6v1.6h-1.6zM220.5 577.9h1.6v1.6h-1.6zM221 577.7h1.6v1.6h-1.6zM222.9 578.4h1.6v1.6h-1.6zM222.2 579.7h1.6v1.6h-1.6zM223.7 579.7h1.6v1.6h-1.6zM224 580.7h1.6v1.6h-1.6zM222.4 582.4h1.6v1.6h-1.6zM224.1 580.5h1.6v1.6h-1.6zM225.2 581.2h1.6v1.6h-1.6zM223 582.9h1.6v1.6h-1.6zM224.5 582h1.6v1.6h-1.6zM225.5 582.9h1.6v1.6h-1.6zM225.3 584.9h1.6v1.6h-1.6zM227.6 583.1h1.6v1.6h-1.6zM224.5 583.4h1.6v1.6h-1.6zM227.9 583h1.6v1.6h-1.6zM226.9 585.7h1.6v1.6h-1.6zM227.1 586.7h1.6v1.6h-1.6zM228.5 585.9h1.6v1.6h-1.6zM228.4 586.4h1.6v1.6h-1.6zM228.7 587.3h1.6v1.6h-1.6zM227 587.1h1.6v1.6h-1.6zM228.6 587.5h1.6v1.6h-1.6zM229 588.4h1.6v1.6h-1.6zM228.8 589h1.6v1.6h-1.6zM227 588h1.6v1.6h-1.6zM228.5 588.9h1.6v1.6h-1.6zM228.4 589.9h1.6v1.6h-1.6zM229.6 588.5h1.6v1.6h-1.6zM229.2 591.4h1.6v1.6h-1.6zM231.2 590.9h1.6v1.6h-1.6zM230.3 590.8h1.6v1.6h-1.6zM232.4 592.2h1.6v1.6h-1.6zM232.2 591.6h1.6v1.6h-1.6zM232 591.4h1.6v1.6h-1.6zM230.7 594h1.6v1.6h-1.6zM231.6 594.5h1.6v1.6h-1.6zM234.3 593.7h1.6v1.6h-1.6zM233 593.7h1.6v1.6h-1.6zM232.4 596h1.6v1.6h-1.6zM233.1 595.3h1.6v1.6h-1.6zM232.8 596.2h1.6v1.6h-1.6zM282.3 623.5h1.6v1.6h-1.6zM281.6 622.1h1.6v1.6h-1.6zM282.7 622.3h1.6v1.6h-1.6zM282.5 622.4h1.6v1.6h-1.6zM284.8 623.1h1.6v1.6h-1.6zM284.8 621.9h1.6v1.6h-1.6zM283.6 622.1h1.6v1.6h-1.6zM285.5 622.2h1.6v1.6h-1.6zM283.6 621h1.6v1.6h-1.6zM284.2 620.8h1.6v1.6h-1.6zM284.6 620.6h1.6v1.6h-1.6zM285.3 621.7h1.6v1.6h-1.6zM284.8 621.4h1.6v1.6h-1.6zM287.3 621.3h1.6v1.6h-1.6zM286.6 620.5h1.6v1.6h-1.6zM287.3 621.3h1.6v1.6h-1.6zM287.9 620.8h1.6v1.6h-1.6zM286.3 620.3h1.6v1.6h-1.6zM288 620.5h1.6v1.6h-1.6zM287.5 621.4h1.6v1.6h-1.6zM288.2 620.2h1.6v1.6h-1.6zM287.8 619.1h1.6v1.6h-1.6zM289.8 620.8h1.6v1.6h-1.6zM289.6 620.2h1.6v1.6h-1.6zM288.4 621h1.6v1.6h-1.6zM290.3 620.8h1.6v1.6h-1.6zM289.6 621.4h1.6v1.6h-1.6zM289.6 619.4h1.6v1.6h-1.6zM291 620h1.6v1.6h-1.6zM291.6 621.4h1.6v1.6h-1.6zM291 621.2h1.6v1.6h-1.6zM292.3 621.7h1.6v1.6h-1.6zM291.7 620.9h1.6v1.6h-1.6zM293.1 621.4h1.6v1.6h-1.6zM294 621.4h1.6v1.6h-1.6zM294.1 622.3h1.6v1.6h-1.6zM293 621.8h1.6v1.6h-1.6zM292.7 622.5h1.6v1.6h-1.6zM292.8 622.9h1.6v1.6h-1.6zM294.2 621.2h1.6v1.6h-1.6zM293 622.4h1.6v1.6h-1.6zM294.6 621.2h1.6v1.6h-1.6zM294.8 621.5h1.6v1.6h-1.6zM295.5 622h1.6v1.6h-1.6zM295.4 622.9h1.6v1.6h-1.6zM295.2 620.5h1.6v1.6h-1.6zM296.1 620.3h1.6v1.6h-1.6zM296.3 619.6h1.6v1.6h-1.6zM296.7 620.1h1.6v1.6h-1.6zM296.1 620h1.6v1.6h-1.6zM297.2 620.6h1.6v1.6h-1.6zM298 619.5h1.6v1.6h-1.6zM297.2 619.9h1.6v1.6h-1.6zM299 619.9h1.6v1.6h-1.6zM299.6 619h1.6v1.6h-1.6zM291.7 616.3h1.6v1.6h-1.6zM292 616.9h1.6v1.6h-1.6zM292.2 617.4h1.6v1.6h-1.6zM292.2 616.7h1.6v1.6h-1.6zM293.3 617.4h1.6v1.6h-1.6zM294 618.3h1.6v1.6h-1.6zM293.4 618.7h1.6v1.6h-1.6zM293.4 619h1.6v1.6h-1.6zM293.9 619.1h1.6v1.6h-1.6zM294.4 620h1.6v1.6h-1.6zM295.3 620.8h1.6v1.6h-1.6zM296 621.8h1.6v1.6h-1.6zM296.5 622.4h1.6v1.6h-1.6zM295.9 621h1.6v1.6h-1.6z" fill="#1cc2f2"/><path d="M95.4 462.2h1.7v1.7h-1.7zM95.9 462.7h1.7v1.7h-1.7zM95.8 463h1.7v1.7h-1.7zM96.5 462.2h1.7v1.7h-1.7zM97.6 462.4h1.7v1.7h-1.7zM96.3 464.3h1.7v1.7h-1.7zM96.4 464.2h1.7v1.7h-1.7zM96.7 464.1h1.7v1.7h-1.7zM96.5 465.7h1.7v1.7h-1.7zM97.4 464.8h1.7v1.7h-1.7zM97.7 464.9h1.7v1.7h-1.7zM97.5 465.2h1.7v1.7h-1.7zM97.2 465h1.7v1.7h-1.7zM95.9 465.2h1.7v1.7h-1.7zM97.4 467.1h1.7v1.7h-1.7zM97.5 467h1.7v1.7h-1.7zM96.6 467.3h1.7v1.7h-1.7zM98.2 467.2h1.7v1.7h-1.7zM96.9 467.3h1.7v1.7h-1.7zM97.8 467.9h1.7v1.7h-1.7zM98.9 469.1h1.7v1.7h-1.7zM98.2 469.2h1.7v1.7h-1.7zM98 468.6h1.7v1.7h-1.7zM98 469.3h1.7v1.7h-1.7zM97.9 470h1.7v1.7h-1.7zM98.2 469.8h1.7v1.7h-1.7zM99.1 470.4h1.7v1.7h-1.7zM98.8 470.4h1.7v1.7h-1.7zM99.7 470.9h1.7v1.7h-1.7zM99.5 471.2h1.7v1.7h-1.7zM99 471.3h1.7v1.7h-1.7zM98.7 471.8h1.7v1.7h-1.7zM99.1 472.8h1.7v1.7h-1.7zM100 472.3h1.7v1.7h-1.7zM99.9 473.8h1.7v1.7h-1.7zM98.7 473.3h1.7v1.7h-1.7zM99.2 473.9h1.7v1.7h-1.7zM99.5 472.9h1.7v1.7h-1.7zM100.7 475h1.7v1.7h-1.7zM99.2 474.8h1.7v1.7h-1.7zM99.8 475.3h1.7v1.7h-1.7zM99.9 474.4h1.7v1.7h-1.7zM99.8 475.5h1.7v1.7h-1.7zM106.5 489.3h1.7v1.7h-1.7zM106.5 489.3h1.7v1.7h-1.7zM106.5 491.4h1.7v1.7h-1.7zM105.3 490.8h1.7v1.7h-1.7zM106.1 490.8h1.7v1.7h-1.7zM107 491.4h1.7v1.7h-1.7zM107.7 491.8h1.7v1.7h-1.7zM107.2 492.5h1.7v1.7h-1.7zM107.1 492.1h1.7v1.7h-1.7zM107.1 493.2h1.7v1.7h-1.7zM108 492.3h1.7v1.7h-1.7zM107.4 493.9h1.7v1.7h-1.7zM108.6 493.3h1.7v1.7h-1.7zM107.8 494.1h1.7v1.7h-1.7zM107.8 494h1.7v1.7h-1.7zM107.6 494h1.7v1.7h-1.7zM108.9 494.8h1.7v1.7h-1.7zM109.1 494.3h1.7v1.7h-1.7zM108.6 495.9h1.7v1.7h-1.7zM107.2 495h1.7v1.7h-1.7zM109.4 495.8h1.7v1.7h-1.7zM108.5 496.3h1.7v1.7h-1.7zM109 497.5h1.7v1.7h-1.7zM109 496.9h1.7v1.7h-1.7zM108.4 497h1.7v1.7h-1.7zM109.3 498.4h1.7v1.7h-1.7zM111 498.6h1.7v1.7h-1.7zM110.8 497.9h1.7v1.7h-1.7zM109.8 499.3h1.7v1.7h-1.7zM109 499.3h1.7v1.7h-1.7zM110.2 499h1.7v1.7h-1.7zM109.8 499.1h1.7v1.7h-1.7zM110.5 500.8h1.7v1.7h-1.7zM110.7 500.3h1.7v1.7h-1.7zM110.9 501.2h1.7v1.7h-1.7zM111.3 500.7h1.7v1.7h-1.7zM110.7 501.6h1.7v1.7h-1.7zM111.4 501.4h1.7v1.7h-1.7zM110.5 501.5h1.7v1.7h-1.7zM110.3 502.4h1.7v1.7h-1.7zM111.4 502h1.7v1.7h-1.7zM110.3 503.4h1.7v1.7h-1.7zM112.7 502.5h1.7v1.7h-1.7zM111.2 503.2h1.7v1.7h-1.7zM112.4 504.3h1.7v1.7h-1.7zM121.8 512.3h1.7v1.7h-1.7zM122.4 515.2h1.7v1.7h-1.7zM122.7 515.1h1.7v1.7h-1.7zM122.2 515.9h1.7v1.7h-1.7zM123.6 516.5h1.7v1.7h-1.7zM122.2 515.8h1.7v1.7h-1.7zM122.2 515.9h1.7v1.7h-1.7zM123.1 516.4h1.7v1.7h-1.7zM122.1 516h1.7v1.7h-1.7zM124.6 517.1h1.7v1.7h-1.7zM124.1 516.3h1.7v1.7h-1.7zM123.3 517.8h1.7v1.7h-1.7zM124 518.2h1.7v1.7h-1.7zM124.8 518h1.7v1.7h-1.7zM124 519.4h1.7v1.7h-1.7zM124.8 519.6h1.7v1.7h-1.7zM124.5 519h1.7v1.7h-1.7zM124.9 519.5h1.7v1.7h-1.7zM125.8 518.8h1.7v1.7h-1.7zM125.6 520.1h1.7v1.7h-1.7zM125.8 519.6h1.7v1.7h-1.7zM126.2 519.7h1.7v1.7h-1.7zM125.9 520.5h1.7v1.7h-1.7zM125.7 520.5h1.7v1.7h-1.7zM126.7 520.9h1.7v1.7h-1.7zM126.3 520.7h1.7v1.7h-1.7zM126 520.6h1.7v1.7h-1.7zM126.6 522h1.7v1.7h-1.7zM127.3 520.7h1.7v1.7h-1.7zM127.7 522.2h1.7v1.7h-1.7zM128 522.6h1.7v1.7h-1.7zM126.8 524.3h1.7v1.7h-1.7zM125.8 523.2h1.7v1.7h-1.7zM126.8 523.9h1.7v1.7h-1.7zM133.4 529.8h1.7v1.7h-1.7zM134.1 530.6h1.7v1.7h-1.7zM132.8 531.5h1.7v1.7h-1.7zM134.9 530.3h1.7v1.7h-1.7zM135 531.1h1.7v1.7h-1.7zM135 531.2h1.7v1.7h-1.7zM134.4 532.8h1.7v1.7h-1.7zM135.4 533.3h1.7v1.7h-1.7zM135.4 531.8h1.7v1.7h-1.7zM136.1 533.6h1.7v1.7h-1.7zM136.4 532.4h1.7v1.7h-1.7zM136.5 534.7h1.7v1.7h-1.7zM135.9 533.7h1.7v1.7h-1.7zM136.9 533.6h1.7v1.7h-1.7zM137.5 534.2h1.7v1.7h-1.7zM137.2 533.8h1.7v1.7h-1.7zM137.9 534h1.7v1.7h-1.7zM136.2 535.2h1.7v1.7h-1.7zM138.3 533.9h1.7v1.7h-1.7zM136.4 534.7h1.7v1.7h-1.7zM137.8 535.2h1.7v1.7h-1.7zM137.9 536h1.7v1.7h-1.7zM137.8 535.3h1.7v1.7h-1.7zM137.9 536.4h1.7v1.7h-1.7zM138.2 536.6h1.7v1.7h-1.7zM138.6 536.9h1.7v1.7h-1.7zM140 536.5h1.7v1.7h-1.7zM139.6 537.1h1.7v1.7h-1.7zM138.9 537.7h1.7v1.7h-1.7zM138.8 536.7h1.7v1.7h-1.7zM161.6 554.6h1.7v1.7h-1.7zM162.8 555.6h1.7v1.7h-1.7zM162.1 555.3h1.7v1.7h-1.7zM162.7 556h1.7v1.7h-1.7zM162.8 556.6h1.7v1.7h-1.7zM163 556.8h1.7v1.7h-1.7zM163.5 555.8h1.7v1.7h-1.7zM162.8 557.6h1.7v1.7h-1.7zM163.5 556.3h1.7v1.7h-1.7zM164.7 556.7h1.7v1.7h-1.7zM165.1 557.4h1.7v1.7h-1.7zM164.7 557.7h1.7v1.7h-1.7zM163.7 557.1h1.7v1.7h-1.7zM164 559.8h1.7v1.7h-1.7zM165.1 557.7h1.7v1.7h-1.7zM166.1 558.5h1.7v1.7h-1.7zM163.8 560h1.7v1.7h-1.7zM166.4 559.2h1.7v1.7h-1.7zM166.8 559.8h1.7v1.7h-1.7zM166 559.4h1.7v1.7h-1.7zM166.7 560.2h1.7v1.7h-1.7zM166.6 559.9h1.7v1.7h-1.7zM166.1 561.4h1.7v1.7h-1.7zM166 561.8h1.7v1.7h-1.7zM167.1 561.5h1.7v1.7h-1.7zM166.4 562.2h1.7v1.7h-1.7zM168 561.8h1.7v1.7h-1.7zM180.4 566.3h1.7v1.7h-1.7zM180 567.1h1.7v1.7h-1.7zM179.3 566.2h1.7v1.7h-1.7zM180.1 567h1.7v1.7h-1.7zM181 566h1.7v1.7h-1.7zM180.9 567h1.7v1.7h-1.7zM182.2 567.9h1.7v1.7h-1.7zM182.3 567.1h1.7v1.7h-1.7zM182.3 566.5h1.7v1.7h-1.7zM182.3 567.2h1.7v1.7h-1.7zM183.3 567.8h1.7v1.7h-1.7zM182.7 568.4h1.7v1.7h-1.7zM183.2 568.7h1.7v1.7h-1.7zM184.4 568.9h1.7v1.7h-1.7zM183.6 567.9h1.7v1.7h-1.7zM183.6 568.2h1.7v1.7h-1.7zM184.9 568.8h1.7v1.7h-1.7zM184.8 570h1.7v1.7h-1.7zM184.7 570.1h1.7v1.7h-1.7zM185.4 569.2h1.7v1.7h-1.7zM185.3 569.3h1.7v1.7h-1.7zM200 571.7h1.7v1.7h-1.7zM200.2 572.7h1.7v1.7h-1.7zM201.1 572.9h1.7v1.7h-1.7zM199.8 573.4h1.7v1.7h-1.7zM201 573.1h1.7v1.7h-1.7zM200.4 573.4h1.7v1.7h-1.7zM200.6 573.5h1.7v1.7h-1.7zM201.2 574.9h1.7v1.7h-1.7zM203.4 574.8h1.7v1.7h-1.7zM202.3 574.2h1.7v1.7h-1.7zM202.3 574.1h1.7v1.7h-1.7zM202.1 575.5h1.7v1.7h-1.7zM201.8 574.8h1.7v1.7h-1.7zM202.8 575.1h1.7v1.7h-1.7zM201.8 575.6h1.7v1.7h-1.7zM202.6 575.7h1.7v1.7h-1.7zM202.5 576.8h1.7v1.7h-1.7zM202.7 576.7h1.7v1.7h-1.7zM203.8 576.9h1.7v1.7h-1.7zM203.5 577.6h1.7v1.7h-1.7zM204.2 577.8h1.7v1.7h-1.7zM217.9 582.8h1.7v1.7h-1.7zM217.6 583.4h1.7v1.7h-1.7zM218.4 584.7h1.7v1.7h-1.7zM219 584.7h1.7v1.7h-1.7zM218.2 585.7h1.7v1.7h-1.7zM219 585.4h1.7v1.7h-1.7zM219.2 584h1.7v1.7h-1.7zM219.8 585.7h1.7v1.7h-1.7zM219.6 586.5h1.7v1.7h-1.7zM219 585.3h1.7v1.7h-1.7zM219.6 586.3h1.7v1.7h-1.7zM220.9 586.1h1.7v1.7h-1.7zM220.2 587.2h1.7v1.7h-1.7zM220.7 587h1.7v1.7h-1.7zM221.3 588h1.7v1.7h-1.7zM220.8 587.9h1.7v1.7h-1.7zM222.1 588.7h1.7v1.7h-1.7zM221.2 589.1h1.7v1.7h-1.7zM221.4 587.5h1.7v1.7h-1.7zM221.8 589.1h1.7v1.7h-1.7zM222.6 588.9h1.7v1.7h-1.7zM221.9 589.5h1.7v1.7h-1.7zM222.6 589.4h1.7v1.7h-1.7zM222.7 590.7h1.7v1.7h-1.7zM223.2 590.3h1.7v1.7h-1.7zM222.1 590.5h1.7v1.7h-1.7zM223.5 590.8h1.7v1.7h-1.7zM222.4 590.5h1.7v1.7h-1.7zM224.3 591.7h1.7v1.7h-1.7zM223.8 592.4h1.7v1.7h-1.7zM244.3 611.5h1.7v1.7h-1.7zM245.1 611.8h1.7v1.7h-1.7zM244.7 613.4h1.7v1.7h-1.7zM244.3 613.1h1.7v1.7h-1.7zM243.1 613.6h1.7v1.7h-1.7zM245.4 612.5h1.7v1.7h-1.7zM246 613.7h1.7v1.7h-1.7zM246.2 613.8h1.7v1.7h-1.7zM245.7 613.6h1.7v1.7h-1.7zM246 614.2h1.7v1.7h-1.7zM246.2 614.1h1.7v1.7h-1.7zM246.8 615.5h1.7v1.7h-1.7zM246.4 615.3h1.7v1.7h-1.7zM247 615.1h1.7v1.7h-1.7zM247.9 615.7h1.7v1.7h-1.7zM247.3 615.7h1.7v1.7h-1.7zM247.3 615.5h1.7v1.7h-1.7zM248.1 616.4h1.7v1.7h-1.7zM249.1 615.6h1.7v1.7h-1.7zM248.7 617h1.7v1.7h-1.7zM249.1 616.6h1.7v1.7h-1.7zM249 616.7h1.7v1.7h-1.7zM248.5 616.7h1.7v1.7h-1.7zM249.7 616.7h1.7v1.7h-1.7zM249 617.8h1.7v1.7h-1.7zM249 617.9h1.7v1.7h-1.7zM249.4 617.8h1.7v1.7h-1.7zM250.1 620.3h1.7v1.7h-1.7zM250.3 619h1.7v1.7h-1.7zM250.5 619.6h1.7v1.7h-1.7zM251.8 619.8h1.7v1.7h-1.7zM251.8 619.1h1.7v1.7h-1.7zM252.5 620.6h1.7v1.7h-1.7z" fill="#1c78e8"/><ellipse cx="98" cy="468" rx="1.8" ry="7" fill="#0a1ed0"/><ellipse cx="98" cy="468.8" rx="1.3" ry="5" fill="#1408a0"/><ellipse cx="98" cy="469.6" rx="0.8" ry="3.1" fill="#700a60"/><ellipse cx="109" cy="497" rx="2.5" ry="6" fill="#0a1ed0"/><ellipse cx="109" cy="497.8" rx="1.8" ry="4.3" fill="#1408a0"/><ellipse cx="124" cy="518" rx="3" ry="5" fill="#0a1ed0"/><ellipse cx="124" cy="518.8" rx="2.2" ry="3.6" fill="#1408a0"/><ellipse cx="137" cy="534" rx="3" ry="4" fill="#0a1ed0"/><ellipse cx="137" cy="534.8" rx="2.2" ry="2.9" fill="#700a60"/><ellipse cx="150" cy="549" rx="1.5" ry="3.5" fill="#404050"/><ellipse cx="150" cy="549.8" rx="1.1" ry="2.5" fill="#c02020"/><ellipse cx="165" cy="558" rx="2" ry="4" fill="#0a1ed0"/><ellipse cx="165" cy="558.8" rx="1.4" ry="2.9" fill="#1408a0"/><ellipse cx="168" cy="565" rx="1.5" ry="1.5" fill="#f0a020"/><ellipse cx="183" cy="567" rx="1.8" ry="3.5" fill="#0a1ed0"/><ellipse cx="183" cy="567.8" rx="1.3" ry="2.5" fill="#a01030"/><ellipse cx="201.5" cy="574" rx="1.5" ry="4.5" fill="#1408a0"/><ellipse cx="201.5" cy="574.8" rx="1.1" ry="3.2" fill="#a01030"/><ellipse cx="220" cy="586" rx="1.5" ry="3" fill="#a01030"/><ellipse cx="222" cy="591" rx="2" ry="4" fill="#0a1ed0"/><ellipse cx="222" cy="591.8" rx="1.4" ry="2.9" fill="#1408a0"/><ellipse cx="248" cy="616" rx="3" ry="3.5" fill="#0a1ed0"/><ellipse cx="248" cy="616.8" rx="2.2" ry="2.5" fill="#1408a0"/><ellipse cx="246" cy="613" rx="1.2" ry="1.5" fill="#c02020"/></g><rect x="77" y="452" width="223" height="1" fill="#222" shape-rendering="crispEdges"/><rect x="77" y="452" width="1" height="175" fill="#222" shape-rendering="crispEdges"/><rect x="299" y="452" width="1" height="175" fill="#222" shape-rendering="crispEdges"/><rect x="152" y="452" width="1" height="175" fill="#222" shape-rendering="crispEdges"/><rect x="77" y="547" width="222" height="1" fill="#222" shape-rendering="crispEdges"/><rect x="77" y="627" width="223" height="1" fill="#222" shape-rendering="crispEdges"/><rect x="81" y="627" width="1" height="9" fill="#222" shape-rendering="crispEdges"/><rect x="89" y="627" width="1" height="5" fill="#222" shape-rendering="crispEdges"/><rect x="98" y="627" width="1" height="5" fill="#222" shape-rendering="crispEdges"/><rect x="107" y="627" width="1" height="5" fill="#222" shape-rendering="crispEdges"/><rect x="115" y="627" width="1" height="5" fill="#222" shape-rendering="crispEdges"/><rect x="124" y="627" width="1" height="9" fill="#222" shape-rendering="crispEdges"/><rect x="133" y="627" width="1" height="5" fill="#222" shape-rendering="crispEdges"/><rect x="141" y="627" width="1" height="5" fill="#222" shape-rendering="crispEdges"/><rect x="150" y="627" width="1" height="5" fill="#222" shape-rendering="crispEdges"/><rect x="159" y="627" width="1" height="5" fill="#222" shape-rendering="crispEdges"/><rect x="167" y="627" width="1" height="9" fill="#222" shape-rendering="crispEdges"/><rect x="176" y="627" width="1" height="5" fill="#222" shape-rendering="crispEdges"/><rect x="185" y="627" width="1" height="5" fill="#222" shape-rendering="crispEdges"/><rect x="193" y="627" width="1" height="5" fill="#222" shape-rendering="crispEdges"/><rect x="202" y="627" width="1" height="5" fill="#222" shape-rendering="crispEdges"/><rect x="211" y="627" width="1" height="9" fill="#222" shape-rendering="crispEdges"/><rect x="219" y="627" width="1" height="5" fill="#222" shape-rendering="crispEdges"/><rect x="228" y="627" width="1" height="5" fill="#222" shape-rendering="crispEdges"/><rect x="237" y="627" width="1" height="5" fill="#222" shape-rendering="crispEdges"/><rect x="246" y="627" width="1" height="5" fill="#222" shape-rendering="crispEdges"/><rect x="254" y="627" width="1" height="9" fill="#222" shape-rendering="crispEdges"/><rect x="263" y="627" width="1" height="5" fill="#222" shape-rendering="crispEdges"/><rect x="272" y="627" width="1" height="5" fill="#222" shape-rendering="crispEdges"/><rect x="280" y="627" width="1" height="5" fill="#222" shape-rendering="crispEdges"/><rect x="289" y="627" width="1" height="5" fill="#222" shape-rendering="crispEdges"/><rect x="298" y="627" width="1" height="9" fill="#222" shape-rendering="crispEdges"/><text x="124" y="646.5" fill="#222" font-size="11" text-anchor="middle">0.600</text><text x="167.4" y="646.5" fill="#222" font-size="11" text-anchor="middle">0.700</text><text x="210.8" y="646.5" fill="#222" font-size="11" text-anchor="middle">0.800</text><text x="254.2" y="646.5" fill="#222" font-size="11" text-anchor="middle">0.900</text><clipPath id="cx3"><rect x="78" y="627" width="60" height="30"/></clipPath><text x="80.6" y="646.5" fill="#222" font-size="11" text-anchor="middle" clip-path="url(#cx3)">0.500</text><text x="284" y="646.5" fill="#222" font-size="11" text-anchor="start">1.0</text><rect x="69" y="624" width="8" height="1" fill="#222" shape-rendering="crispEdges"/><text x="63.5" y="628.4" fill="#b2b2b2" font-size="11" text-anchor="end">0.00</text><rect x="69" y="601" width="8" height="1" fill="#222" shape-rendering="crispEdges"/><text x="63.5" y="605.6" fill="#b2b2b2" font-size="11" text-anchor="end">2.00</text><rect x="69" y="578" width="8" height="1" fill="#222" shape-rendering="crispEdges"/><text x="63.5" y="582.8" fill="#b2b2b2" font-size="11" text-anchor="end">4.00</text><rect x="69" y="556" width="8" height="1" fill="#222" shape-rendering="crispEdges"/><text x="63.5" y="560" fill="#b2b2b2" font-size="11" text-anchor="end">6.00</text><rect x="69" y="533" width="8" height="1" fill="#222" shape-rendering="crispEdges"/><text x="63.5" y="537.2" fill="#b2b2b2" font-size="11" text-anchor="end">8.00</text><rect x="69" y="510" width="8" height="1" fill="#222" shape-rendering="crispEdges"/><text x="63.5" y="514.4" fill="#b2b2b2" font-size="11" text-anchor="end">10.00</text><rect x="69" y="487" width="8" height="1" fill="#222" shape-rendering="crispEdges"/><text x="63.5" y="491.6" fill="#b2b2b2" font-size="11" text-anchor="end">12.00</text><rect x="69" y="464" width="8" height="1" fill="#222" shape-rendering="crispEdges"/><text x="63.5" y="468.8" fill="#b2b2b2" font-size="11" text-anchor="end">14.00</text><rect x="73" y="619" width="4" height="1" fill="#222" shape-rendering="crispEdges"/><rect x="73" y="615" width="4" height="1" fill="#222" shape-rendering="crispEdges"/><rect x="73" y="610" width="4" height="1" fill="#222" shape-rendering="crispEdges"/><rect x="73" y="606" width="4" height="1" fill="#222" shape-rendering="crispEdges"/><rect x="73" y="597" width="4" height="1" fill="#222" shape-rendering="crispEdges"/><rect x="73" y="592" width="4" height="1" fill="#222" shape-rendering="crispEdges"/><rect x="73" y="587" width="4" height="1" fill="#222" shape-rendering="crispEdges"/><rect x="73" y="583" width="4" height="1" fill="#222" shape-rendering="crispEdges"/><rect x="73" y="574" width="4" height="1" fill="#222" shape-rendering="crispEdges"/><rect x="73" y="569" width="4" height="1" fill="#222" shape-rendering="crispEdges"/><rect x="73" y="565" width="4" height="1" fill="#222" shape-rendering="crispEdges"/><rect x="73" y="560" width="4" height="1" fill="#222" shape-rendering="crispEdges"/><rect x="73" y="551" width="4" height="1" fill="#222" shape-rendering="crispEdges"/><rect x="73" y="546" width="4" height="1" fill="#222" shape-rendering="crispEdges"/><rect x="73" y="542" width="4" height="1" fill="#222" shape-rendering="crispEdges"/><rect x="73" y="537" width="4" height="1" fill="#222" shape-rendering="crispEdges"/><rect x="73" y="528" width="4" height="1" fill="#222" shape-rendering="crispEdges"/><rect x="73" y="524" width="4" height="1" fill="#222" shape-rendering="crispEdges"/><rect x="73" y="519" width="4" height="1" fill="#222" shape-rendering="crispEdges"/><rect x="73" y="514" width="4" height="1" fill="#222" shape-rendering="crispEdges"/><rect x="73" y="505" width="4" height="1" fill="#222" shape-rendering="crispEdges"/><rect x="73" y="501" width="4" height="1" fill="#222" shape-rendering="crispEdges"/><rect x="73" y="496" width="4" height="1" fill="#222" shape-rendering="crispEdges"/><rect x="73" y="492" width="4" height="1" fill="#222" shape-rendering="crispEdges"/><rect x="73" y="483" width="4" height="1" fill="#222" shape-rendering="crispEdges"/><rect x="73" y="478" width="4" height="1" fill="#222" shape-rendering="crispEdges"/><rect x="73" y="473" width="4" height="1" fill="#222" shape-rendering="crispEdges"/><rect x="73" y="469" width="4" height="1" fill="#222" shape-rendering="crispEdges"/><rect x="73" y="460" width="4" height="1" fill="#222" shape-rendering="crispEdges"/><rect x="73" y="455" width="4" height="1" fill="#222" shape-rendering="crispEdges"/><text transform="translate(23.5,540) rotate(-90)" fill="#b2b2b2" font-size="11" text-anchor="middle" textLength="74" lengthAdjust="spacingAndGlyphs">LambdaLabError</text><text x="188" y="663.5" fill="#222" font-size="11" text-anchor="middle">LabNTKon</text><text x="22" y="651" fill="#111" font-size="11" text-anchor="start">0.665</text><text x="22" y="663.5" fill="#b2b2b2" font-size="11" text-anchor="start">6.81</text></svg></div><div class="pn" style="left:3px;top:679px;width:306px;height:123px;"><svg width="304" height="121" viewBox="4 680 304 121"><rect x="77" y="687" width="223" height="1" fill="#222" shape-rendering="crispEdges"/><rect x="77" y="687" width="1" height="67" fill="#222" shape-rendering="crispEdges"/><rect x="299" y="687" width="1" height="67" fill="#222" shape-rendering="crispEdges"/><rect x="77" y="689" width="222" height="1" fill="#222" shape-rendering="crispEdges"/><path d="M253.8 690.2h1.6v1.6h-1.6zM255.1 692.5h1.6v1.6h-1.6zM255 691.7h1.6v1.6h-1.6zM255.8 691.6h1.6v1.6h-1.6zM256 691.8h1.6v1.6h-1.6zM255.9 690.5h1.6v1.6h-1.6zM255.6 691.6h1.6v1.6h-1.6zM257 691.3h1.6v1.6h-1.6zM256.1 691.3h1.6v1.6h-1.6zM257.6 691h1.6v1.6h-1.6zM257.6 692.5h1.6v1.6h-1.6zM259.1 691.9h1.6v1.6h-1.6zM258.9 691.4h1.6v1.6h-1.6zM259 692h1.6v1.6h-1.6zM259.2 691.6h1.6v1.6h-1.6zM260.8 691.1h1.6v1.6h-1.6zM260 692.7h1.6v1.6h-1.6zM261 691.9h1.6v1.6h-1.6zM260.8 691.2h1.6v1.6h-1.6zM262.2 690.7h1.6v1.6h-1.6zM262.2 691.7h1.6v1.6h-1.6zM262.4 691h1.6v1.6h-1.6zM263.2 692.3h1.6v1.6h-1.6zM263.3 692.2h1.6v1.6h-1.6zM262.9 692.1h1.6v1.6h-1.6zM264.2 692h1.6v1.6h-1.6zM262.9 691.9h1.6v1.6h-1.6zM264.9 691.4h1.6v1.6h-1.6zM265.2 692.6h1.6v1.6h-1.6zM265.6 692.6h1.6v1.6h-1.6zM265.7 691.6h1.6v1.6h-1.6zM266.5 691.6h1.6v1.6h-1.6zM266 692.2h1.6v1.6h-1.6zM267.2 692.3h1.6v1.6h-1.6zM267.2 691.8h1.6v1.6h-1.6zM268.2 691.8h1.6v1.6h-1.6zM268.3 692.1h1.6v1.6h-1.6zM268.4 692.1h1.6v1.6h-1.6zM268.5 692.2h1.6v1.6h-1.6zM270.9 692.3h1.6v1.6h-1.6zM269.8 691.2h1.6v1.6h-1.6zM269.8 691.9h1.6v1.6h-1.6zM270.4 692.3h1.6v1.6h-1.6zM271.3 692.5h1.6v1.6h-1.6zM271.5 692.6h1.6v1.6h-1.6zM272.7 691.8h1.6v1.6h-1.6zM272.3 692.2h1.6v1.6h-1.6zM272.8 692.9h1.6v1.6h-1.6zM273 692h1.6v1.6h-1.6zM272.9 691.7h1.6v1.6h-1.6zM274 692.9h1.6v1.6h-1.6zM274.4 692.2h1.6v1.6h-1.6zM274.7 692.2h1.6v1.6h-1.6zM275.7 692.7h1.6v1.6h-1.6zM276.3 693h1.6v1.6h-1.6zM276.3 692.3h1.6v1.6h-1.6zM276.7 692.6h1.6v1.6h-1.6zM276.5 692.9h1.6v1.6h-1.6zM278 693.2h1.6v1.6h-1.6zM278.6 693.3h1.6v1.6h-1.6zM277.3 692.8h1.6v1.6h-1.6zM279.3 693.5h1.6v1.6h-1.6zM278.8 693.2h1.6v1.6h-1.6zM279.2 693.9h1.6v1.6h-1.6zM279.2 693.9h1.6v1.6h-1.6zM279.9 693.6h1.6v1.6h-1.6zM280 694h1.6v1.6h-1.6zM280.2 694.1h1.6v1.6h-1.6zM280.6 694.3h1.6v1.6h-1.6zM282.1 694.9h1.6v1.6h-1.6zM281.8 694.8h1.6v1.6h-1.6zM282 695.6h1.6v1.6h-1.6zM283.1 696.4h1.6v1.6h-1.6zM282.5 696.7h1.6v1.6h-1.6zM284.1 692.5h1.6v1.6h-1.6zM284.5 692.2h1.6v1.6h-1.6zM285 691.3h1.6v1.6h-1.6zM285.7 691.7h1.6v1.6h-1.6zM286 691.8h1.6v1.6h-1.6zM286.7 692.6h1.6v1.6h-1.6zM286.6 691.3h1.6v1.6h-1.6zM287.2 691.9h1.6v1.6h-1.6zM287.9 691.1h1.6v1.6h-1.6zM288.7 691.3h1.6v1.6h-1.6zM289.2 690.6h1.6v1.6h-1.6zM289.5 691.3h1.6v1.6h-1.6zM289.8 691.5h1.6v1.6h-1.6zM290.5 690.7h1.6v1.6h-1.6zM290.9 691.1h1.6v1.6h-1.6zM291.9 690.6h1.6v1.6h-1.6zM292.2 690.6h1.6v1.6h-1.6zM292.2 690.3h1.6v1.6h-1.6zM293.3 690.4h1.6v1.6h-1.6zM293.6 691.2h1.6v1.6h-1.6zM294.4 690.3h1.6v1.6h-1.6zM294.4 690.5h1.6v1.6h-1.6zM294.2 690.6h1.6v1.6h-1.6zM295.3 690.5h1.6v1.6h-1.6zM295.8 690h1.6v1.6h-1.6zM296.8 690.3h1.6v1.6h-1.6z" fill="#1cc2f2"/><path d="M273 691h1.8v1.8h-1.8zM274 692h1.8v1.8h-1.8z" fill="#30106a"/><path d="M277 693h1.8v1.8h-1.8z" fill="#f0a020"/><rect x="152" y="687" width="1" height="67" fill="#222" shape-rendering="crispEdges"/><rect x="77" y="754" width="223" height="1" fill="#222" shape-rendering="crispEdges"/><rect x="81" y="754" width="1" height="9" fill="#222" shape-rendering="crispEdges"/><rect x="89" y="754" width="1" height="5" fill="#222" shape-rendering="crispEdges"/><rect x="98" y="754" width="1" height="5" fill="#222" shape-rendering="crispEdges"/><rect x="107" y="754" width="1" height="5" fill="#222" shape-rendering="crispEdges"/><rect x="115" y="754" width="1" height="5" fill="#222" shape-rendering="crispEdges"/><rect x="124" y="754" width="1" height="9" fill="#222" shape-rendering="crispEdges"/><rect x="133" y="754" width="1" height="5" fill="#222" shape-rendering="crispEdges"/><rect x="141" y="754" width="1" height="5" fill="#222" shape-rendering="crispEdges"/><rect x="150" y="754" width="1" height="5" fill="#222" shape-rendering="crispEdges"/><rect x="159" y="754" width="1" height="5" fill="#222" shape-rendering="crispEdges"/><rect x="167" y="754" width="1" height="9" fill="#222" shape-rendering="crispEdges"/><rect x="176" y="754" width="1" height="5" fill="#222" shape-rendering="crispEdges"/><rect x="185" y="754" width="1" height="5" fill="#222" shape-rendering="crispEdges"/><rect x="193" y="754" width="1" height="5" fill="#222" shape-rendering="crispEdges"/><rect x="202" y="754" width="1" height="5" fill="#222" shape-rendering="crispEdges"/><rect x="211" y="754" width="1" height="9" fill="#222" shape-rendering="crispEdges"/><rect x="219" y="754" width="1" height="5" fill="#222" shape-rendering="crispEdges"/><rect x="228" y="754" width="1" height="5" fill="#222" shape-rendering="crispEdges"/><rect x="237" y="754" width="1" height="5" fill="#222" shape-rendering="crispEdges"/><rect x="246" y="754" width="1" height="5" fill="#222" shape-rendering="crispEdges"/><rect x="254" y="754" width="1" height="9" fill="#222" shape-rendering="crispEdges"/><rect x="263" y="754" width="1" height="5" fill="#222" shape-rendering="crispEdges"/><rect x="272" y="754" width="1" height="5" fill="#222" shape-rendering="crispEdges"/><rect x="280" y="754" width="1" height="5" fill="#222" shape-rendering="crispEdges"/><rect x="289" y="754" width="1" height="5" fill="#222" shape-rendering="crispEdges"/><rect x="298" y="754" width="1" height="9" fill="#222" shape-rendering="crispEdges"/><text x="124" y="774.3" fill="#222" font-size="11" text-anchor="middle">0.600</text><text x="167.4" y="774.3" fill="#222" font-size="11" text-anchor="middle">0.700</text><text x="210.8" y="774.3" fill="#222" font-size="11" text-anchor="middle">0.800</text><text x="254.2" y="774.3" fill="#222" font-size="11" text-anchor="middle">0.900</text><clipPath id="cx4"><rect x="78" y="754" width="60" height="30"/></clipPath><text x="80.6" y="774.3" fill="#222" font-size="11" text-anchor="middle" clip-path="url(#cx4)">0.500</text><text x="284" y="774.3" fill="#222" font-size="11" text-anchor="start">1.0</text><clipPath id="cs4"><rect x="4" y="687.5" width="80" height="80"/></clipPath><g clip-path="url(#cs4)"><rect x="69" y="689" width="8" height="1" fill="#222" shape-rendering="crispEdges"/><text x="63.5" y="693.9" fill="#b2b2b2" font-size="11" text-anchor="end">0.00</text><rect x="69" y="710" width="8" height="1" fill="#222" shape-rendering="crispEdges"/><text x="63.5" y="714.8" fill="#b2b2b2" font-size="11" text-anchor="end">-5.00</text><rect x="69" y="731" width="8" height="1" fill="#222" shape-rendering="crispEdges"/><text x="63.5" y="735.6" fill="#b2b2b2" font-size="11" text-anchor="end">-10.00</text><rect x="69" y="752" width="8" height="1" fill="#222" shape-rendering="crispEdges"/><text x="63.5" y="756.4" fill="#b2b2b2" font-size="11" text-anchor="end">-15.00</text><rect x="73" y="748" width="4" height="1" fill="#222" shape-rendering="crispEdges"/><rect x="73" y="744" width="4" height="1" fill="#222" shape-rendering="crispEdges"/><rect x="73" y="739" width="4" height="1" fill="#222" shape-rendering="crispEdges"/><rect x="73" y="735" width="4" height="1" fill="#222" shape-rendering="crispEdges"/><rect x="73" y="727" width="4" height="1" fill="#222" shape-rendering="crispEdges"/><rect x="73" y="723" width="4" height="1" fill="#222" shape-rendering="crispEdges"/><rect x="73" y="719" width="4" height="1" fill="#222" shape-rendering="crispEdges"/><rect x="73" y="714" width="4" height="1" fill="#222" shape-rendering="crispEdges"/><rect x="73" y="706" width="4" height="1" fill="#222" shape-rendering="crispEdges"/><rect x="73" y="702" width="4" height="1" fill="#222" shape-rendering="crispEdges"/><rect x="73" y="698" width="4" height="1" fill="#222" shape-rendering="crispEdges"/><rect x="73" y="694" width="4" height="1" fill="#222" shape-rendering="crispEdges"/></g><clipPath id="cy4"><rect x="4" y="690" width="40" height="80"/></clipPath><g clip-path="url(#cy4)"><text transform="translate(23.5,752.5) rotate(-90)" fill="#b2b2b2" font-size="11" text-anchor="start" textLength="74" lengthAdjust="spacingAndGlyphs">LambdaLabError</text></g><text x="188" y="790.5" fill="#222" font-size="11" text-anchor="middle">LabNTKon</text><text x="21.5" y="779" fill="#111" font-size="11" text-anchor="start">0.665</text><text x="21.5" y="791.8" fill="#b2b2b2" font-size="11" text-anchor="start">6.81</text></svg></div><div class="pn" style="left:313px;top:46px;width:370px;height:505px;"><svg width="368" height="503" viewBox="314 47 368 503"><polygon points="376,541 376,525.6 376.8,525.6 377.7,526.4 378.5,526.4 379.3,527.2 380.2,527.2 381,527.2 381.8,528 382.7,528.8 383.5,528.8 384.3,528.8 385.2,529.6 386,530 387,520 388,525.8 389,531.5 389.8,519.2 390.7,507 392,505.6 392.8,507.2 393.7,508 394.5,507.2 395.3,508.8 396.2,509.6 397,509.6 397.9,510.4 398.7,510.4 399.5,511.2 400.4,512 401.2,512 402.1,512.8 402.9,513.6 403.7,513.6 404.6,514.4 405.4,515.3 406.3,497.6 407.2,480 408.1,473.3 409,466.4 409.8,467.2 410.6,468 411.4,468.8 412.2,468.8 413,469.6 413.8,470.4 414.6,470.4 415.4,472 416.2,472.8 417.1,472.8 417.9,473.6 418.7,473.6 419.5,474.4 420.3,475.2 421.1,475.2 421.9,476.8 422.7,476.8 423.5,477.6 425,450 425.8,443.2 426.7,436.8 427.5,436.8 428.4,438.4 429.2,438.4 430.1,438.4 430.9,439.2 431.7,440 432.6,440 433.4,441.6 434.2,441.6 435.1,441.6 435.9,443.2 436.8,443.2 437.6,443.2 438.4,444 439.3,444.8 440.1,445.6 441,446.4 441.8,446.6 443,425 444.5,416.8 445.3,417.6 446.1,418.4 446.9,419.2 447.7,420.8 448.5,420.8 449.3,421.6 450.1,422.4 450.9,423.2 451.8,424 452.6,424.8 453.4,425.6 454.2,426.4 455,427.2 455.8,428 456.6,428.8 457.4,429.6 458.2,430.4 459,431 460.5,410 461.4,404.8 462.3,399.2 463.1,400.8 463.9,400 464.7,400.8 465.5,402.4 466.3,402.4 467.1,402.4 467.9,404 468.7,403.2 469.5,404 470.3,404.8 471.1,405.6 471.9,405.6 472.7,406.4 473.5,406.4 474.3,408 475.1,408 475.9,408.8 476.7,408.8 477.5,409.6 478.3,410.4 479.1,410.4 479.9,411.2 480.7,412 481.5,412.4 482.8,390 484.2,380.8 485,380.8 485.8,382.4 486.6,383.2 487.4,383.2 488.2,383.2 489,384.8 489.8,385.6 490.6,384.8 491.4,386.4 492.2,386.4 493,387.2 493.8,387.2 494.6,388 495.4,388 496.2,389.6 497,389.6 497.8,390.4 498.6,390.4 499.4,392 500.2,392 501,392 501.8,392.8 502.6,393.6 503.4,394 505,368 505.8,362.8 506.7,356.8 507.5,357.6 508.4,358.4 509.2,359.2 510,359.2 510.9,359.2 511.7,360.8 512.6,360 513.4,360 514.2,360.8 515.1,361.6 515.9,361.6 516.7,362.4 517.6,362.4 518.4,363.2 519.3,363.2 520.1,364 520.9,364.8 521.8,365.6 522.6,365.3 523.5,355.1 524.5,345 525.6,341 526.7,336.8 527.5,337.6 528.3,337.6 529.2,337.6 530,337.6 530.8,337.6 531.6,339.2 532.4,339.2 533.3,339.2 534.1,339.2 534.9,340 535.7,340 536.6,340 537.4,340 538.2,340.8 539,340.8 539.8,341.6 540.7,341.6 541.5,342.4 542.3,342 543.5,320 545,308 545.8,308 546.6,308 547.5,308.8 548.3,308 549.1,308.8 549.9,308.8 550.8,308.8 551.6,308.8 552.4,309.6 553.2,309.6 554.1,309.6 554.9,309.6 555.7,309.6 556.5,309.6 557.4,310.4 558.2,309.6 559,310.4 559.8,311.2 560.7,311.2 561.5,311.2 562.3,310.4 563.1,311.2 564,311.2 564.8,311.2 565.6,311.4 566.4,290 567.4,273.6 568.2,272.8 569.1,273.6 569.9,272.8 570.7,273.6 571.6,273.6 572.4,272.8 573.3,273.6 574.1,273.6 574.9,273.6 575.8,273.6 576.6,272.8 577.4,272.8 578.3,273.6 579.1,273.6 580,272.8 580.8,272.8 581.6,273.6 582.5,273.6 583.3,273.4 584.2,250 585.4,237.6 586.2,237.6 587.1,236.8 587.9,237.6 588.7,236.8 589.6,236.8 590.4,237.6 591.2,237.6 592.1,237.6 592.9,236.8 593.7,236.8 594.5,236.8 595.4,236.8 596.2,236.8 597,236.8 597.9,236.8 598.7,236.8 599.5,236.8 600.4,236 601.2,236.5 602.4,215 603.8,201.6 604.6,201.6 605.4,201.6 606.2,201.6 607,201.6 607.8,201.6 608.6,200.8 609.4,200.8 610.2,200.8 611,200.8 611.8,200.8 612.6,200 613.5,200 614.3,200 615.1,199.2 615.9,200 616.7,199.2 617.5,199.2 618.3,199.2 619.1,198.4 619.9,198.4 620.7,198.4 621.5,197.6 622.3,198.2 623.6,175 625,163.2 625.8,161.6 626.7,161.6 627.5,160.8 628.4,160.8 629.2,160 630.1,160 630.9,159.2 631.8,159.2 632.6,158.4 633.5,157.6 634.3,156.8 635.2,156.8 636,156 637.2,128 638.6,113.6 639.5,112.8 640.3,112 641.2,112 642,110.4 642.9,110.4 643.7,109.6 644.6,108.8 645.4,108 646.3,107.2 647.1,107.2 648,105.6 648.8,105.6 649.7,104.6 650.6,90 651.8,75 652.7,69 653.6,63 654.5,57 673,57 673,541" fill="#eef0fc"/><rect x="377" y="527.5" width="296" height="3" fill="#e6f6fc" shape-rendering="crispEdges"/><rect x="377" y="530.5" width="296" height="3" fill="#f7eef6" shape-rendering="crispEdges"/><polygon points="387.5,541 387.5,531 390.8,510 390.8,541" fill="#c8de30"/><polyline points="443,537 444.5,536.5 446.1,537.5 447.6,537.5 449.1,537.5 450.7,538 452.2,538.5 453.7,539 455.2,539 456.8,539.5 458.3,540 459.5,534 461,531.5 462.5,531 464.1,531.5 465.6,531.5 467.2,532 468.7,532.5 470.2,532.5 471.8,532.5 473.3,532.5 474.8,533 476.4,533.5 477.9,533.5 479.5,533.5 481,534 482.5,528 484.3,525.5 485.9,525.5 487.4,525.5 489,525.5 490.5,526 492.1,526 493.7,526.5 495.2,526.5 496.8,526.5 498.3,527 499.9,527 501.4,527.5 503,527.5 504.5,520 506.2,517 507.8,516.5 509.4,517 510.9,517.5 512.5,517.5 514.1,518 515.7,518 517.3,518.5 518.8,518.5 520.4,519 522,518.5 524.5,512 526.7,509 528.2,509 529.7,509.5 531.2,509.5 532.7,509.5 534.2,509.5 535.8,509.5 537.3,509.5 538.8,509.5 540.3,510 541.8,510.5 543.3,502 545,499 546.5,499.5 548.1,499 549.6,499.5 551.2,499 552.7,499.5 554.2,499.5 555.8,500 557.3,499.5 558.8,500 560.4,500 561.9,500 563.5,500.5 565,500.5 566.3,490 567.8,486.5 569.3,486.5 570.8,486.5 572.4,486.5 573.9,487 575.4,487 576.9,486.5 578.4,486.5 580,486.5 581.5,486.5 583,487 584.2,478.5 585.6,474 587.1,474 588.6,473.5 590.1,474 591.6,474 593.2,473.5 594.7,474 596.2,473.5 597.7,473.5 599.2,473.5 600.7,473.5 602.5,465 604.2,462 605.8,462 607.5,461.5 609.1,461.5 610.8,461 612.4,461 614,461 615.7,460.5 617.3,460.5 619,460.5 620.6,460.5 622.4,452 624,447.5 625.6,447 627.3,446.5 628.9,446.5 630.5,446 632.1,445.5 633.8,445.5 635.4,445 637.2,436 639,431 640.6,430.5 642.2,430.5 643.8,430 645.4,429 647,428.5 648.6,428.5 650.3,416 652,408.5 653.5,407.5 655,406 656.5,405 658,404.5 659.5,403 661,402 663,392 665,384.5 666.6,384 668.2,382.5 669.8,381.5 671.4,381 673,380" fill="none" stroke="#bdbdbd" stroke-width="1.2" stroke-linejoin="round"/><polyline points="390.8,511 405,524 406,523" fill="none" stroke="#b6d400" stroke-width="1.3" stroke-linejoin="round"/><polyline points="406.3,498.4 407.2,480.8 408.1,474.1 409,467.2 409.8,468 410.6,468.8 411.4,469.6 412.2,467.8 413,468.6 413.8,469.4 414.6,469.4 415.4,471 416.2,471.8 417.1,471.8 417.9,472.6 418.7,472.6 419.5,473.4 420.3,474.2 421.1,476 421.9,477.6 422.7,477.6 423.5,478.4 425,450.8 425.8,444.1 426.7,437.6 427.5,437.6 428.4,439.2 429.2,439.2 430.1,437.4 430.9,438.2 431.7,439 432.6,439 433.4,440.6 434.2,440.6 435.1,440.6 435.9,442.2 436.8,442.2 437.6,442.2 438.4,443 439.3,445.6 440.1,446.4 441,447.2 441.8,447.4 443,425.8 444.5,417.6 445.3,418.4 446.1,419.2 446.9,420 447.7,421.6 448.5,419.8 449.3,420.6 450.1,421.4 450.9,422.2 451.8,423 452.6,423.8 453.4,424.6 454.2,425.4 455,426.2 455.8,427 456.6,427.8 457.4,430.4 458.2,431.2 459,431.8 460.5,410.8 461.4,405.6 462.3,400 463.1,401.6 463.9,400.8 464.7,401.6 465.5,403.2 466.3,401.4 467.1,401.4 467.9,403 468.7,402.2 469.5,403 470.3,403.8 471.1,404.6 471.9,404.6 472.7,405.4 473.5,405.4 474.3,407 475.1,408.8 475.9,409.6 476.7,409.6 477.5,410.4 478.3,411.2 479.1,411.2 479.9,412 480.7,412.8 481.5,413.2 482.8,390.8 484.2,379.8 485,379.8 485.8,381.4 486.6,382.2 487.4,382.2 488.2,382.2 489,383.8 489.8,384.6 490.6,383.8 491.4,385.4 492.2,385.4 493,388 493.8,388 494.6,388.8 495.4,388.8 496.2,390.4 497,390.4 497.8,391.2 498.6,391.2 499.4,392.8 500.2,392.8 501,392.8 501.8,393.6 502.6,392.6 503.4,393 505,367 505.8,361.8 506.7,355.8 507.5,356.6 508.4,357.4 509.2,358.2 510,358.2 510.9,358.2 511.7,361.6 512.6,360.8 513.4,360.8 514.2,361.6 515.1,362.4 515.9,362.4 516.7,363.2 517.6,363.2 518.4,364 519.3,364 520.1,363 520.9,363.8 521.8,364.6 522.6,364.3 523.5,354.1 524.5,344 525.6,340 526.7,335.8 527.5,336.6 528.3,336.6 529.2,338.4 530,338.4 530.8,338.4 531.6,340 532.4,340 533.3,340 534.1,340 534.9,340.8 535.7,340.8 536.6,340.8 537.4,340.8 538.2,339.8 539,339.8 539.8,340.6 540.7,340.6 541.5,341.4 542.3,341 543.5,319 545,307 545.8,307 546.6,307 547.5,309.6 548.3,308.8 549.1,309.6 549.9,309.6 550.8,309.6 551.6,309.6 552.4,310.4 553.2,310.4 554.1,310.4 554.9,310.4 555.7,310.4 556.5,308.6 557.4,309.4 558.2,308.6 559,309.4 559.8,310.2 560.7,310.2 561.5,310.2 562.3,309.4 563.1,310.2 564,310.2 564.8,310.2 565.6,312.2 566.4,290.8 567.4,274.4 568.2,273.6 569.1,274.4 569.9,273.6 570.7,274.4 571.6,274.4 572.4,273.6 573.3,274.4 574.1,272.6 574.9,272.6 575.8,272.6 576.6,271.8 577.4,271.8 578.3,272.6 579.1,272.6 580,271.8 580.8,271.8 581.6,272.6 582.5,272.6 583.3,274.2 584.2,250.8 585.4,238.4 586.2,238.4 587.1,237.6 587.9,238.4 588.7,237.6 589.6,237.6 590.4,238.4 591.2,238.4 592.1,236.6 592.9,235.8 593.7,235.8 594.5,235.8 595.4,235.8 596.2,235.8 597,235.8 597.9,235.8 598.7,235.8 599.5,235.8 600.4,235 601.2,237.3 602.4,215.8 603.8,202.4 604.6,202.4 605.4,202.4 606.2,202.4 607,202.4 607.8,202.4 608.6,201.6 609.4,201.6 610.2,199.8 611,199.8 611.8,199.8 612.6,199 613.5,199 614.3,199 615.1,198.2 615.9,199 616.7,198.2 617.5,198.2 618.3,198.2 619.1,199.2 619.9,199.2 620.7,199.2 621.5,198.4 622.3,199 623.6,175.8 625,164 625.8,162.4 626.7,162.4 627.5,161.6 628.4,159.8 629.2,159 630.1,159 630.9,158.2 631.8,158.2 632.6,157.4 633.5,156.6 634.3,155.8 635.2,155.8 636,155 637.2,128.8 638.6,114.4 639.5,113.6 640.3,112.8 641.2,112.8 642,111.2 642.9,111.2 643.7,110.4 644.6,109.6 645.4,108.8 646.3,106.2 647.1,106.2 648,104.6 648.8,104.6 649.7,103.6 650.6,89 651.8,74 652.7,68 653.6,62 654.5,56" fill="none" stroke="#b6d400" stroke-width="1.6" stroke-linejoin="round"/><polyline points="425.4,541 427,528 429.5,520 437,521.5 441.8,531 442.3,541 442.5,520 443.5,500 445.4,495 455.6,496 456,500.4 458.6,500.4 459,510.5 459.6,490 460.8,470 462.4,465.3 472,466.7 472.5,470 477,472 477.5,477 481.6,481.7 482,488 483,455 484.4,440 486.4,436.5 494,441 494.5,444 502.6,448.8 503,458.4 504,435 506,415 509,410.5 515.7,410.5 516.2,413 521.8,416 522.2,424 523.5,400 525.5,385 528,381.7 541,383 542.5,390 543.5,365 545,351 547.2,347.5 565,349 566,355.7 566.8,330 567.8,314 569,310.5 583,311.4 583.8,316 584.3,290 585,276 586.5,272 600.4,269.5 601.5,273 602.5,250 604,234 605.7,230 621.6,224.7 622.3,228 623,195 624.2,177 625.5,172 630,166 636,160 636.6,163 637.5,135 639,119 643,110 648,102 650,100 650.8,90 651.6,76" fill="none" stroke="#f0204a" stroke-width="1.1" stroke-linejoin="round"/><polyline points="376,525.6 376.8,525.6 377.7,526.4 378.5,526.4 379.3,527.2 380.2,527.2 381,527.2 381.8,528 382.7,528.8 383.5,528.8 384.3,528.8 385.2,529.6 386,530 387,520 388,525.8 389,531.5 389.8,519.2 390.7,507 392,505.6 392.8,507.2 393.7,508 394.5,507.2 395.3,508.8 396.2,509.6 397,509.6 397.9,510.4 398.7,510.4 399.5,511.2 400.4,512 401.2,512 402.1,512.8 402.9,513.6 403.7,513.6 404.6,514.4 405.4,515.3 406.3,497.6 407.2,480 408.1,473.3 409,466.4 409.8,467.2 410.6,468 411.4,468.8 412.2,468.8 413,469.6 413.8,470.4 414.6,470.4 415.4,472 416.2,472.8 417.1,472.8 417.9,473.6 418.7,473.6 419.5,474.4 420.3,475.2 421.1,475.2 421.9,476.8 422.7,476.8 423.5,477.6 425,450 425.8,443.2 426.7,436.8 427.5,436.8 428.4,438.4 429.2,438.4 430.1,438.4 430.9,439.2 431.7,440 432.6,440 433.4,441.6 434.2,441.6 435.1,441.6 435.9,443.2 436.8,443.2 437.6,443.2 438.4,444 439.3,444.8 440.1,445.6 441,446.4 441.8,446.6 443,425 444.5,416.8 445.3,417.6 446.1,418.4 446.9,419.2 447.7,420.8 448.5,420.8 449.3,421.6 450.1,422.4 450.9,423.2 451.8,424 452.6,424.8 453.4,425.6 454.2,426.4 455,427.2 455.8,428 456.6,428.8 457.4,429.6 458.2,430.4 459,431 460.5,410 461.4,404.8 462.3,399.2 463.1,400.8 463.9,400 464.7,400.8 465.5,402.4 466.3,402.4 467.1,402.4 467.9,404 468.7,403.2 469.5,404 470.3,404.8 471.1,405.6 471.9,405.6 472.7,406.4 473.5,406.4 474.3,408 475.1,408 475.9,408.8 476.7,408.8 477.5,409.6 478.3,410.4 479.1,410.4 479.9,411.2 480.7,412 481.5,412.4 482.8,390 484.2,380.8 485,380.8 485.8,382.4 486.6,383.2 487.4,383.2 488.2,383.2 489,384.8 489.8,385.6 490.6,384.8 491.4,386.4 492.2,386.4 493,387.2 493.8,387.2 494.6,388 495.4,388 496.2,389.6 497,389.6 497.8,390.4 498.6,390.4 499.4,392 500.2,392 501,392 501.8,392.8 502.6,393.6 503.4,394 505,368 505.8,362.8 506.7,356.8 507.5,357.6 508.4,358.4 509.2,359.2 510,359.2 510.9,359.2 511.7,360.8 512.6,360 513.4,360 514.2,360.8 515.1,361.6 515.9,361.6 516.7,362.4 517.6,362.4 518.4,363.2 519.3,363.2 520.1,364 520.9,364.8 521.8,365.6 522.6,365.3 523.5,355.1 524.5,345 525.6,341 526.7,336.8 527.5,337.6 528.3,337.6 529.2,337.6 530,337.6 530.8,337.6 531.6,339.2 532.4,339.2 533.3,339.2 534.1,339.2 534.9,340 535.7,340 536.6,340 537.4,340 538.2,340.8 539,340.8 539.8,341.6 540.7,341.6 541.5,342.4 542.3,342 543.5,320 545,308 545.8,308 546.6,308 547.5,308.8 548.3,308 549.1,308.8 549.9,308.8 550.8,308.8 551.6,308.8 552.4,309.6 553.2,309.6 554.1,309.6 554.9,309.6 555.7,309.6 556.5,309.6 557.4,310.4 558.2,309.6 559,310.4 559.8,311.2 560.7,311.2 561.5,311.2 562.3,310.4 563.1,311.2 564,311.2 564.8,311.2 565.6,311.4 566.4,290 567.4,273.6 568.2,272.8 569.1,273.6 569.9,272.8 570.7,273.6 571.6,273.6 572.4,272.8 573.3,273.6 574.1,273.6 574.9,273.6 575.8,273.6 576.6,272.8 577.4,272.8 578.3,273.6 579.1,273.6 580,272.8 580.8,272.8 581.6,273.6 582.5,273.6 583.3,273.4 584.2,250 585.4,237.6 586.2,237.6 587.1,236.8 587.9,237.6 588.7,236.8 589.6,236.8 590.4,237.6 591.2,237.6 592.1,237.6 592.9,236.8 593.7,236.8 594.5,236.8 595.4,236.8 596.2,236.8 597,236.8 597.9,236.8 598.7,236.8 599.5,236.8 600.4,236 601.2,236.5 602.4,215 603.8,201.6 604.6,201.6 605.4,201.6 606.2,201.6 607,201.6 607.8,201.6 608.6,200.8 609.4,200.8 610.2,200.8 611,200.8 611.8,200.8 612.6,200 613.5,200 614.3,200 615.1,199.2 615.9,200 616.7,199.2 617.5,199.2 618.3,199.2 619.1,198.4 619.9,198.4 620.7,198.4 621.5,197.6 622.3,198.2 623.6,175 625,163.2 625.8,161.6 626.7,161.6 627.5,160.8 628.4,160.8 629.2,160 630.1,160 630.9,159.2 631.8,159.2 632.6,158.4 633.5,157.6 634.3,156.8 635.2,156.8 636,156 637.2,128 638.6,113.6 639.5,112.8 640.3,112 641.2,112 642,110.4 642.9,110.4 643.7,109.6 644.6,108.8 645.4,108 646.3,107.2 647.1,107.2 648,105.6 648.8,105.6 649.7,104.6 650.6,90 651.8,75 652.7,69 653.6,63 654.5,57" fill="none" stroke="#0a30dc" stroke-width="1.7" stroke-linejoin="round"/><rect x="377" y="526" width="296" height="1" fill="#e03838" shape-rendering="crispEdges"/><rect x="527" y="58" width="1" height="483" fill="#000" shape-rendering="crispEdges"/><rect x="377" y="338" width="296" height="1" fill="#333" shape-rendering="crispEdges"/><rect x="366" y="337.5" width="8" height="2" fill="#0a30dc" shape-rendering="crispEdges"/><rect x="374" y="56" width="301" height="2" fill="#000" shape-rendering="crispEdges"/><rect x="374" y="541" width="301" height="2" fill="#000" shape-rendering="crispEdges"/><rect x="374" y="56" width="2" height="487" fill="#000" shape-rendering="crispEdges"/><rect x="673" y="56" width="2" height="487" fill="#000" shape-rendering="crispEdges"/><rect x="376" y="58" width="1" height="483" fill="#f03020" shape-rendering="crispEdges"/><rect x="367" y="539" width="7" height="1" fill="#111" shape-rendering="crispEdges"/><text x="361.5" y="543.8" fill="#2f50b4" font-size="11" text-anchor="end">0.500</text><rect x="367" y="515" width="7" height="1" fill="#111" shape-rendering="crispEdges"/><text x="361.5" y="519.7" fill="#2f50b4" font-size="11" text-anchor="end">0.525</text><rect x="367" y="491" width="7" height="1" fill="#111" shape-rendering="crispEdges"/><text x="361.5" y="495.6" fill="#2f50b4" font-size="11" text-anchor="end">0.550</text><rect x="367" y="467" width="7" height="1" fill="#111" shape-rendering="crispEdges"/><text x="361.5" y="471.6" fill="#2f50b4" font-size="11" text-anchor="end">0.575</text><rect x="367" y="443" width="7" height="1" fill="#111" shape-rendering="crispEdges"/><text x="361.5" y="447.5" fill="#2f50b4" font-size="11" text-anchor="end">0.600</text><rect x="367" y="419" width="7" height="1" fill="#111" shape-rendering="crispEdges"/><text x="361.5" y="423.4" fill="#2f50b4" font-size="11" text-anchor="end">0.625</text><rect x="367" y="395" width="7" height="1" fill="#111" shape-rendering="crispEdges"/><text x="361.5" y="399.3" fill="#2f50b4" font-size="11" text-anchor="end">0.650</text><rect x="367" y="371" width="7" height="1" fill="#111" shape-rendering="crispEdges"/><text x="361.5" y="375.2" fill="#2f50b4" font-size="11" text-anchor="end">0.675</text><rect x="367" y="347" width="7" height="1" fill="#111" shape-rendering="crispEdges"/><text x="361.5" y="351.2" fill="#2f50b4" font-size="11" text-anchor="end">0.700</text><rect x="367" y="323" width="7" height="1" fill="#111" shape-rendering="crispEdges"/><text x="361.5" y="327.1" fill="#2f50b4" font-size="11" text-anchor="end">0.725</text><rect x="367" y="298" width="7" height="1" fill="#111" shape-rendering="crispEdges"/><text x="361.5" y="303" fill="#2f50b4" font-size="11" text-anchor="end">0.750</text><rect x="367" y="274" width="7" height="1" fill="#111" shape-rendering="crispEdges"/><text x="361.5" y="278.9" fill="#2f50b4" font-size="11" text-anchor="end">0.775</text><rect x="367" y="250" width="7" height="1" fill="#111" shape-rendering="crispEdges"/><text x="361.5" y="254.8" fill="#2f50b4" font-size="11" text-anchor="end">0.800</text><rect x="367" y="226" width="7" height="1" fill="#111" shape-rendering="crispEdges"/><text x="361.5" y="230.8" fill="#2f50b4" font-size="11" text-anchor="end">0.825</text><rect x="367" y="202" width="7" height="1" fill="#111" shape-rendering="crispEdges"/><text x="361.5" y="206.7" fill="#2f50b4" font-size="11" text-anchor="end">0.850</text><rect x="367" y="178" width="7" height="1" fill="#111" shape-rendering="crispEdges"/><text x="361.5" y="182.6" fill="#2f50b4" font-size="11" text-anchor="end">0.875</text><rect x="367" y="154" width="7" height="1" fill="#111" shape-rendering="crispEdges"/><text x="361.5" y="158.5" fill="#2f50b4" font-size="11" text-anchor="end">0.900</text><rect x="367" y="130" width="7" height="1" fill="#111" shape-rendering="crispEdges"/><text x="361.5" y="134.4" fill="#2f50b4" font-size="11" text-anchor="end">0.925</text><rect x="367" y="106" width="7" height="1" fill="#111" shape-rendering="crispEdges"/><text x="361.5" y="110.4" fill="#2f50b4" font-size="11" text-anchor="end">0.950</text><rect x="367" y="82" width="7" height="1" fill="#111" shape-rendering="crispEdges"/><text x="361.5" y="86.3" fill="#2f50b4" font-size="11" text-anchor="end">0.975</text><rect x="371" y="534" width="3" height="1" fill="#111" shape-rendering="crispEdges"/><rect x="371" y="530" width="3" height="1" fill="#111" shape-rendering="crispEdges"/><rect x="371" y="525" width="3" height="1" fill="#111" shape-rendering="crispEdges"/><rect x="371" y="520" width="3" height="1" fill="#111" shape-rendering="crispEdges"/><rect x="371" y="510" width="3" height="1" fill="#111" shape-rendering="crispEdges"/><rect x="371" y="506" width="3" height="1" fill="#111" shape-rendering="crispEdges"/><rect x="371" y="501" width="3" height="1" fill="#111" shape-rendering="crispEdges"/><rect x="371" y="496" width="3" height="1" fill="#111" shape-rendering="crispEdges"/><rect x="371" y="486" width="3" height="1" fill="#111" shape-rendering="crispEdges"/><rect x="371" y="482" width="3" height="1" fill="#111" shape-rendering="crispEdges"/><rect x="371" y="477" width="3" height="1" fill="#111" shape-rendering="crispEdges"/><rect x="371" y="472" width="3" height="1" fill="#111" shape-rendering="crispEdges"/><rect x="371" y="462" width="3" height="1" fill="#111" shape-rendering="crispEdges"/><rect x="371" y="457" width="3" height="1" fill="#111" shape-rendering="crispEdges"/><rect x="371" y="453" width="3" height="1" fill="#111" shape-rendering="crispEdges"/><rect x="371" y="448" width="3" height="1" fill="#111" shape-rendering="crispEdges"/><rect x="371" y="438" width="3" height="1" fill="#111" shape-rendering="crispEdges"/><rect x="371" y="433" width="3" height="1" fill="#111" shape-rendering="crispEdges"/><rect x="371" y="429" width="3" height="1" fill="#111" shape-rendering="crispEdges"/><rect x="371" y="424" width="3" height="1" fill="#111" shape-rendering="crispEdges"/><rect x="371" y="414" width="3" height="1" fill="#111" shape-rendering="crispEdges"/><rect x="371" y="409" width="3" height="1" fill="#111" shape-rendering="crispEdges"/><rect x="371" y="404" width="3" height="1" fill="#111" shape-rendering="crispEdges"/><rect x="371" y="400" width="3" height="1" fill="#111" shape-rendering="crispEdges"/><rect x="371" y="390" width="3" height="1" fill="#111" shape-rendering="crispEdges"/><rect x="371" y="385" width="3" height="1" fill="#111" shape-rendering="crispEdges"/><rect x="371" y="380" width="3" height="1" fill="#111" shape-rendering="crispEdges"/><rect x="371" y="376" width="3" height="1" fill="#111" shape-rendering="crispEdges"/><rect x="371" y="366" width="3" height="1" fill="#111" shape-rendering="crispEdges"/><rect x="371" y="361" width="3" height="1" fill="#111" shape-rendering="crispEdges"/><rect x="371" y="356" width="3" height="1" fill="#111" shape-rendering="crispEdges"/><rect x="371" y="351" width="3" height="1" fill="#111" shape-rendering="crispEdges"/><rect x="371" y="342" width="3" height="1" fill="#111" shape-rendering="crispEdges"/><rect x="371" y="337" width="3" height="1" fill="#111" shape-rendering="crispEdges"/><rect x="371" y="332" width="3" height="1" fill="#111" shape-rendering="crispEdges"/><rect x="371" y="327" width="3" height="1" fill="#111" shape-rendering="crispEdges"/><rect x="371" y="318" width="3" height="1" fill="#111" shape-rendering="crispEdges"/><rect x="371" y="313" width="3" height="1" fill="#111" shape-rendering="crispEdges"/><rect x="371" y="308" width="3" height="1" fill="#111" shape-rendering="crispEdges"/><rect x="371" y="303" width="3" height="1" fill="#111" shape-rendering="crispEdges"/><rect x="371" y="294" width="3" height="1" fill="#111" shape-rendering="crispEdges"/><rect x="371" y="289" width="3" height="1" fill="#111" shape-rendering="crispEdges"/><rect x="371" y="284" width="3" height="1" fill="#111" shape-rendering="crispEdges"/><rect x="371" y="279" width="3" height="1" fill="#111" shape-rendering="crispEdges"/><rect x="371" y="270" width="3" height="1" fill="#111" shape-rendering="crispEdges"/><rect x="371" y="265" width="3" height="1" fill="#111" shape-rendering="crispEdges"/><rect x="371" y="260" width="3" height="1" fill="#111" shape-rendering="crispEdges"/><rect x="371" y="255" width="3" height="1" fill="#111" shape-rendering="crispEdges"/><rect x="371" y="246" width="3" height="1" fill="#111" shape-rendering="crispEdges"/><rect x="371" y="241" width="3" height="1" fill="#111" shape-rendering="crispEdges"/><rect x="371" y="236" width="3" height="1" fill="#111" shape-rendering="crispEdges"/><rect x="371" y="231" width="3" height="1" fill="#111" shape-rendering="crispEdges"/><rect x="371" y="221" width="3" height="1" fill="#111" shape-rendering="crispEdges"/><rect x="371" y="217" width="3" height="1" fill="#111" shape-rendering="crispEdges"/><rect x="371" y="212" width="3" height="1" fill="#111" shape-rendering="crispEdges"/><rect x="371" y="207" width="3" height="1" fill="#111" shape-rendering="crispEdges"/><rect x="371" y="197" width="3" height="1" fill="#111" shape-rendering="crispEdges"/><rect x="371" y="193" width="3" height="1" fill="#111" shape-rendering="crispEdges"/><rect x="371" y="188" width="3" height="1" fill="#111" shape-rendering="crispEdges"/><rect x="371" y="183" width="3" height="1" fill="#111" shape-rendering="crispEdges"/><rect x="371" y="173" width="3" height="1" fill="#111" shape-rendering="crispEdges"/><rect x="371" y="168" width="3" height="1" fill="#111" shape-rendering="crispEdges"/><rect x="371" y="164" width="3" height="1" fill="#111" shape-rendering="crispEdges"/><rect x="371" y="159" width="3" height="1" fill="#111" shape-rendering="crispEdges"/><rect x="371" y="149" width="3" height="1" fill="#111" shape-rendering="crispEdges"/><rect x="371" y="144" width="3" height="1" fill="#111" shape-rendering="crispEdges"/><rect x="371" y="140" width="3" height="1" fill="#111" shape-rendering="crispEdges"/><rect x="371" y="135" width="3" height="1" fill="#111" shape-rendering="crispEdges"/><rect x="371" y="125" width="3" height="1" fill="#111" shape-rendering="crispEdges"/><rect x="371" y="120" width="3" height="1" fill="#111" shape-rendering="crispEdges"/><rect x="371" y="115" width="3" height="1" fill="#111" shape-rendering="crispEdges"/><rect x="371" y="111" width="3" height="1" fill="#111" shape-rendering="crispEdges"/><rect x="371" y="101" width="3" height="1" fill="#111" shape-rendering="crispEdges"/><rect x="371" y="96" width="3" height="1" fill="#111" shape-rendering="crispEdges"/><rect x="371" y="91" width="3" height="1" fill="#111" shape-rendering="crispEdges"/><rect x="371" y="87" width="3" height="1" fill="#111" shape-rendering="crispEdges"/><rect x="371" y="77" width="3" height="1" fill="#111" shape-rendering="crispEdges"/><rect x="371" y="72" width="3" height="1" fill="#111" shape-rendering="crispEdges"/><rect x="371" y="67" width="3" height="1" fill="#111" shape-rendering="crispEdges"/><rect x="371" y="63" width="3" height="1" fill="#111" shape-rendering="crispEdges"/><text transform="translate(323,300) rotate(-90)" fill="#2f50b4" font-size="11" text-anchor="middle" textLength="83" lengthAdjust="spacingAndGlyphs">LabNTKa_U12 (λ)</text><polygon points="366.7,317.5 366.7,325.1 374.3,321.3" fill="#0a30dc" stroke="#001060" stroke-width="0.8"/><text x="380" y="324.4" fill="#1a1a1a" font-size="9" text-anchor="start">0.726</text><text x="643.5" y="55.5" fill="#1a1a1a" font-size="9" text-anchor="start">1.096</text><polygon points="668.5,55.6 676.5,55.6 672.5,47.6" fill="#0a30dc" stroke="#001060" stroke-width="0.8"/><polygon points="381.5,542.8 389.5,542.8 385.5,550.8" fill="#0a30dc" stroke="#001060" stroke-width="0.8"/><text x="392.5" y="549.3" fill="#1a1a1a" font-size="9" text-anchor="start">0.507</text></svg></div><div class="pn" style="left:313px;top:555px;width:370px;height:247px;"><svg width="368" height="245" viewBox="314 556 368 245"><rect x="375.5" y="565.5" width="298" height="183" fill="#fff" stroke="#c8c8c8" stroke-width="1"/><clipPath id="cl2"><rect x="376" y="566" width="297" height="182"/></clipPath><g clip-path="url(#cl2)"><rect x="376" y="631.6" width="297" height="1.7" fill="#2a5a9e"/><rect x="376" y="630.1" width="4.8" height="1.6" fill="#28ac10"/><rect x="380.8" y="630.1" width="5.7" height="1.6" fill="#28ac10"/><rect x="386.6" y="630.1" width="5.7" height="1.6" fill="#28ac10"/><rect x="392.2" y="630.1" width="3.6" height="1.6" fill="#28ac10"/><rect x="402" y="630.1" width="3.6" height="1.6" fill="#28ac10"/><rect x="405.7" y="630.1" width="3.9" height="1.6" fill="#28ac10"/><rect x="409.6" y="630.1" width="1.6" height="1.6" fill="#28ac10"/><rect x="411.2" y="630.1" width="2.8" height="1.6" fill="#28ac10"/><rect x="413.9" y="630.1" width="4.9" height="1.6" fill="#28ac10"/><rect x="418.9" y="630.1" width="5.1" height="1.6" fill="#28ac10"/><rect x="424" y="630.1" width="4.3" height="1.6" fill="#28ac10"/><rect x="428.2" y="630.1" width="1.5" height="1.6" fill="#28ac10"/><rect x="429.7" y="630.1" width="2.4" height="1.6" fill="#28ac10"/><rect x="432.2" y="630.1" width="5.9" height="1.6" fill="#28ac10"/><rect x="438.1" y="630.1" width="2.8" height="1.6" fill="#28ac10"/><rect x="446.2" y="630.1" width="5.7" height="1.6" fill="#28ac10"/><rect x="451.9" y="630.1" width="5.8" height="1.6" fill="#28ac10"/><rect x="457.8" y="630.1" width="2.8" height="1.6" fill="#28ac10"/><rect x="460.6" y="630.1" width="2.2" height="1.6" fill="#28ac10"/><rect x="462.9" y="630.1" width="1.8" height="1.6" fill="#28ac10"/><rect x="464.7" y="630.1" width="4.2" height="1.6" fill="#28ac10"/><rect x="468.9" y="630.1" width="4.6" height="1.6" fill="#28ac10"/><rect x="473.4" y="630.1" width="2.9" height="1.6" fill="#28ac10"/><rect x="480.6" y="630.1" width="4.7" height="1.6" fill="#28ac10"/><rect x="485.3" y="630.1" width="5.9" height="1.6" fill="#28ac10"/><rect x="491.2" y="630.1" width="4.9" height="1.6" fill="#28ac10"/><rect x="499.2" y="630.1" width="4.1" height="1.6" fill="#28ac10"/><rect x="503.3" y="630.1" width="1.7" height="1.6" fill="#28ac10"/><rect x="505" y="630.1" width="5.8" height="1.6" fill="#28ac10"/><rect x="510.8" y="630.1" width="4.9" height="1.6" fill="#28ac10"/><rect x="522.1" y="630.1" width="3.9" height="1.6" fill="#28ac10"/><rect x="526" y="630.1" width="2" height="1.6" fill="#28ac10"/><rect x="528" y="630.1" width="5.1" height="1.6" fill="#28ac10"/><rect x="536.6" y="630.1" width="3" height="1.6" fill="#28ac10"/><rect x="539.7" y="630.1" width="5.6" height="1.6" fill="#28ac10"/><rect x="545.3" y="630.1" width="5.7" height="1.6" fill="#28ac10"/><rect x="551" y="630.1" width="2.9" height="1.6" fill="#28ac10"/><rect x="553.9" y="630.1" width="2.3" height="1.6" fill="#28ac10"/><rect x="556.2" y="630.1" width="2.2" height="1.6" fill="#28ac10"/><rect x="558.3" y="630.1" width="6" height="1.6" fill="#28ac10"/><rect x="564.3" y="630.1" width="1.7" height="1.6" fill="#28ac10"/><rect x="570.7" y="630.1" width="4.2" height="1.6" fill="#28ac10"/><rect x="579.3" y="630.1" width="5.6" height="1.6" fill="#28ac10"/><rect x="584.9" y="630.1" width="3.7" height="1.6" fill="#28ac10"/><rect x="598.1" y="630.1" width="3.5" height="1.6" fill="#28ac10"/><rect x="601.6" y="630.1" width="5.3" height="1.6" fill="#28ac10"/><rect x="606.9" y="630.1" width="3.5" height="1.6" fill="#28ac10"/><rect x="617.7" y="630.1" width="3.7" height="1.6" fill="#28ac10"/><rect x="621.4" y="630.1" width="3.7" height="1.6" fill="#28ac10"/><rect x="625.1" y="630.1" width="3.3" height="1.6" fill="#28ac10"/><rect x="628.4" y="630.1" width="3.2" height="1.6" fill="#28ac10"/><rect x="638.6" y="630.1" width="3" height="1.6" fill="#28ac10"/><rect x="641.7" y="630.1" width="2.7" height="1.6" fill="#28ac10"/><rect x="644.4" y="630.1" width="5.4" height="1.6" fill="#28ac10"/><rect x="649.8" y="630.1" width="5" height="1.6" fill="#28ac10"/><rect x="654.8" y="630.1" width="4.6" height="1.6" fill="#28ac10"/><rect x="659.5" y="630.1" width="4.9" height="1.6" fill="#28ac10"/><rect x="664.4" y="630.1" width="4.7" height="1.6" fill="#28ac10"/><rect x="669" y="630.1" width="3.7" height="1.6" fill="#28ac10"/><rect x="672.7" y="630.1" width="4.6" height="1.6" fill="#28ac10"/><polygon points="483,560.1 483.8,564.5 484.6,566.1 485.4,567.8 486.2,568.9 487,570.7 487.8,571.2 488.6,572.1 489.4,573.5 490.2,573.8 491,573 491.7,573 492.4,571.5 493.1,571.2 493.9,571.3 494.6,570.6 495.3,568.6 496,568.5 496.7,568.1 497.4,566.3 498.1,568 498.8,567.4 499.5,565.9 500.2,565.7 500.9,564.2 501.6,565.5 502.3,564.9 503,564.3 503.8,564 504.5,566.2 505.2,566.1 506,566.2 506.7,570.3 507.4,572.9 508.1,574.7 508.8,578.4 509.5,580.4 510.2,581.5 510.9,580.5 511.6,580.7 512.3,580.2 513,580.5 513.7,581.6 514.4,581.8 515.1,581.1 515.8,581.6 516.5,580.4 517.2,580.3 517.9,581.5 518.6,580.7 519.3,580.7 520,580.1 520.8,579.9 521.6,580.1 522.4,579.4 523.2,577.5 524,577.4 524.8,581.9 525.7,587.1 526.6,590 527.4,595.3 528.1,596.9 528.9,593.5 529.6,595.5 530.4,596.1 531.1,595.6 531.8,594.2 532.6,597.1 533.3,596.5 534.1,596.4 534.8,598 535.5,595.3 536.3,597.4 537,596.2 537.8,598.8 538.5,599.5 539.2,598.9 539.9,596.5 540.6,597.4 541.3,595.9 542,594.3 543.3,586.5 544.2,593.3 545,598.5 545.8,599.4 546.6,602.9 547.4,603.3 548.2,604.8 549,607.7 549.7,606.5 550.5,606.3 551.2,607.8 552,607.1 552.7,605.2 553.4,607 554.2,607.2 554.9,607.3 555.7,607.8 556.4,606.3 557.1,606.6 557.9,608.1 558.6,607 559.3,608 560.1,607.7 560.8,606.6 561.6,607 562.3,608.5 563.2,605.3 564.1,605 565,603.7 566.3,600.3 567,601.8 567.8,602.1 568.5,604.7 569.2,605.4 569.9,607.5 570.7,607.7 571.4,607.5 572.1,609.6 572.8,609.5 573.5,607.2 574.2,609.1 574.9,608.8 575.6,609.1 576.3,610 577,608.4 577.7,608.2 578.5,607.8 579.2,610.3 579.9,607.9 580.6,608.9 581.3,607.6 582,608.4 582.7,607.6 583.4,608.4 584.7,596 585.8,607.9 586.5,609.3 587.3,611.4 588,611.3 588.8,610.6 589.5,611.7 590.2,611.6 591,612.2 591.7,612 592.4,612.5 593.2,611.7 593.9,612.4 594.6,612.7 595.3,613.6 596.1,612.7 596.8,612.7 597.5,611.9 598.3,612.3 599,611.9 599.9,610.6 600.9,608.2 601.8,605.2 602.7,608.5 603.5,612.7 604.3,613.3 605,616 605.8,620 606.6,618.4 607.3,619.1 608.1,620.8 608.9,619.9 609.7,621 610.5,620.5 611.2,620.4 612,621.7 612.7,622.4 613.5,623.7 614.2,621.2 615,622.8 615.7,622.4 616.5,622.9 617.2,624.2 618,623.7 618.7,623.9 619.5,625.7 620.2,624.3 620.9,623.8 621.7,623.7 622.4,622.4 623.2,633.7 624.2,642.9 624.9,645.5 625.7,647.3 626.4,646.1 627.1,646.3 627.8,645.7 628.5,645.9 629.3,646.5 630,646.6 630.8,647.8 631.5,646.8 632.3,646.7 633,647.8 633.8,649.5 634.6,648.1 635.3,648.8 636.1,649.1 636.9,648.6 637.7,651.6 638.4,650.8 639.2,652.1 640,652.1 640.8,651.9 641.6,652 642.4,653.9 643.2,655 644,656 644.8,652.7 645.6,653.9 646.4,654.3 647.2,654.5 648,654.2 648.8,653.4 649.6,651.1 650.4,651.1 651.2,650.9 652,649.9 652.8,651.1 653.5,651.2 654.2,653.4 655,652.9 655.7,655 656.4,656 657.1,656.7 657.9,656.9 658.6,660 659.3,660.1 660,660.4 660.8,663.5 661.6,665.5 662.3,701.2 663,686.7 664,682.1 664.8,681.5 665.5,677.9 666.3,678.6 667,675.9 667.8,675.4 668.6,677.3 669.4,677.3 670.2,679 671,679.6 671.8,679.1 672.5,680.4 673.2,679.1 673.2,684.6 672.5,685.9 671.8,684.3 671,685.1 670.2,683.8 669.4,683 668.6,682.8 667.8,680.3 667,682.4 666.3,684.5 665.5,683.6 664.8,686.6 664,687.2 663,692.8 662.3,706.3 661.6,670.2 660.8,667.5 660,665 659.3,665.4 658.6,663.8 657.9,661.5 657.1,662.3 656.4,661.1 655.7,660 655,658 654.2,659.4 653.5,656.9 652.8,657.2 652,654.3 651.2,656.5 650.4,655.1 649.6,656.2 648.8,659.9 648,659.4 647.2,658.5 646.4,657.8 645.6,659.2 644.8,659.4 644,661.2 643.2,659 642.4,658.8 641.6,658.7 640.8,658.6 640,658.1 639.2,655.9 638.4,655.7 637.7,655.6 636.9,653.5 636.1,654.3 635.3,653.7 634.6,652.6 633.8,653.8 633,652.2 632.3,651.1 631.5,653.7 630.8,654 630,651.8 629.3,651.3 628.5,651.4 627.8,650.8 627.1,651.9 626.4,652.9 625.7,651.5 624.9,651.7 624.2,649.7 623.2,639.7 622.4,628.3 621.7,630 620.9,627.9 620.2,628.4 619.5,631.1 618.7,630.2 618,629.3 617.2,628.8 616.5,628.5 615.7,629 615,627.7 614.2,625.9 613.5,628.3 612.7,628 612,627 611.2,625.6 610.5,625.5 609.7,626.3 608.9,624 608.1,626.6 607.3,623.4 606.6,622.5 605.8,624.7 605,621.2 604.3,619.3 603.5,618.1 602.7,612.4 601.8,609.3 600.9,613 599.9,613.9 599,617.8 598.3,617.8 597.5,615.4 596.8,618.3 596.1,618.1 595.3,618.4 594.6,618.2 593.9,616.7 593.2,615.4 592.4,617 591.7,617 591,617.3 590.2,616.6 589.5,617.2 588.8,615.8 588,616.9 587.3,618 586.5,614.1 585.8,612.8 584.7,601.8 583.4,614.5 582.7,614 582,613.7 581.3,612.9 580.6,613.5 579.9,613.8 579.2,615.1 578.5,612.4 577.7,613 577,612.2 576.3,613.9 575.6,615.2 574.9,613.7 574.2,613 573.5,613.5 572.8,615.5 572.1,613.9 571.4,612.6 570.7,611.8 569.9,612.2 569.2,609.5 568.5,610.3 567.8,608 567,606 566.3,604.3 565,608.7 564.1,610 563.2,611 562.3,613.3 561.6,611.2 560.8,611.7 560.1,612.5 559.3,612.6 558.6,612.9 557.9,613.7 557.1,612.7 556.4,612.4 555.7,612.5 554.9,612.5 554.2,613.7 553.4,612.9 552.7,611.8 552,611.6 551.2,612.5 550.5,610.4 549.7,610 549,612.3 548.2,609.1 547.4,607.7 546.6,607.4 545.8,606.3 545,603.1 544.2,597.1 543.3,592.2 542,599.6 541.3,601.3 540.6,601.4 539.9,602.4 539.2,603.8 538.5,604.2 537.8,602.2 537,602.8 536.3,603 535.5,601.6 534.8,602.6 534.1,600.2 533.3,600.8 532.6,602.5 531.8,600.5 531.1,600.1 530.4,599.4 529.6,599.8 528.9,600.2 528.1,601.5 527.4,599 526.6,595.8 525.7,592.9 524.8,587.5 524,583.4 523.2,582.9 522.4,584.5 521.6,585.4 520.8,586.2 520,585.9 519.3,584.6 518.6,585.3 517.9,586.9 517.2,585.5 516.5,585.9 515.8,587.4 515.1,585.7 514.4,586 513.7,585.5 513,584.5 512.3,585.5 511.6,586.1 510.9,586.5 510.2,586.4 509.5,586.3 508.8,582 508.1,580.6 507.4,578.2 506.7,576.7 506,572.6 505.2,572.5 504.5,570.5 503.8,569.8 503,567.6 502.3,569.8 501.6,570.3 500.9,569.9 500.2,569.7 499.5,571.4 498.8,572.1 498.1,572 497.4,572.5 496.7,573.6 496,574.1 495.3,573.5 494.6,575.9 493.9,576.7 493.1,576.7 492.4,577 491.7,577.6 491,579.4 490.2,578.5 489.4,578.6 488.6,577.4 487.8,576.8 487,577.2 486.2,573.4 485.4,572.1 484.6,569.5 483.8,568 483,564.7" fill="#8c8c8c"/><polyline points="483,563 483.8,565.6 484.6,567.8 485.4,569.1 486.2,570.4 487,573.9 487.8,573 488.6,574.9 489.4,575 490.2,576.6 491,577 491.7,575.6 492.4,574 493.1,574.1 493.9,573.8 494.6,573.2 495.3,571.3 496,570.5 496.7,570 497.4,570.3 498.1,569.3 498.8,569.4 499.5,568.4 500.2,567.7 500.9,566.2 501.6,568.3 502.3,567.1 503,566 503.8,568 504.5,567.9 505.2,569.3 506,569.2 506.7,573.4 507.4,574.9 508.1,578.1 508.8,579.5 509.5,582.6 510.2,583.5 510.9,582.9 511.6,584.5 512.3,581.8 513,582.2 513.7,583.7 514.4,584.2 515.1,582.5 515.8,584.6 516.5,584.2 517.2,582.5 517.9,583.9 518.6,582.8 519.3,582.5 520,583.7 520.8,582.9 521.6,582.7 522.4,580.9 523.2,579.9 524,580.2 524.8,585.2 525.7,589.6 526.6,592.8 527.4,596.1 528.1,599.2 528.9,596.7 529.6,598.5 530.4,597 531.1,598.4 531.8,597.2 532.6,600 533.3,599 534.1,598.4 534.8,599.3 535.5,599.4 536.3,599.4 537,599 537.8,600.8 538.5,600.9 539.2,599.9 539.9,598.8 540.6,599.4 541.3,598.7 542,597 543.3,588.1 544.2,595.3 545,600.7 545.8,602.4 546.6,605.3 547.4,605.5 548.2,606.8 549,609.5 549.7,608.6 550.5,608.5 551.2,610.3 552,609.7 552.7,608.1 553.4,609.4 554.2,610.1 554.9,610 555.7,609 556.4,608.3 557.1,608.9 557.9,610.1 558.6,609.3 559.3,611 560.1,611 560.8,609.5 561.6,608.6 562.3,610.9 563.2,608.8 564.1,607 565,605.7 566.3,603.2 567,603 567.8,604.9 568.5,607.9 569.2,607.7 569.9,610 570.7,609.6 571.4,609.9 572.1,611.2 572.8,612.4 573.5,610.5 574.2,610.9 574.9,609.9 575.6,611.7 576.3,611.5 577,611 577.7,610 578.5,610.3 579.2,612.3 579.9,611.1 580.6,610.5 581.3,611.2 582,610.9 582.7,610.3 583.4,611.5 584.7,599.6 585.8,610.8 586.5,611.1 587.3,615.4 588,614 588.8,614.4 589.5,615.1 590.2,614.2 591,614.2 591.7,615 592.4,614.3 593.2,612.9 593.9,614.5 594.6,614.5 595.3,616.3 596.1,615 596.8,614.6 597.5,613.1 598.3,616.2 599,615.1 599.9,612.9 600.9,609.9 601.8,606.4 602.7,610.7 603.5,615.6 604.3,616 605,619 605.8,621.7 606.6,620.2 607.3,621.4 608.1,623.7 608.9,622.3 609.7,623.7 610.5,623.1 611.2,623.9 612,622.9 612.7,625.1 613.5,625 614.2,625 615,625.4 615.7,625.7 616.5,625.7 617.2,626.1 618,626.7 618.7,627.2 619.5,627.7 620.2,626.8 620.9,627 621.7,626.6 622.4,626.1 623.2,637.1 624.2,646.2 624.9,648.8 625.7,649.1 626.4,648.7 627.1,648.1 627.8,648.1 628.5,649.4 629.3,648.1 630,650 630.8,650.5 631.5,650.2 632.3,648.8 633,650.2 633.8,651.2 634.6,650.1" fill="none" stroke="#f050b8" stroke-width="1.9" stroke-linejoin="round"/><polyline points="656.4,657.6 657.1,659.9 657.9,660.4 658.6,661.6 659.3,662.2 660,663.2 660.8,664.5 661.6,667.6 662.3,703.4 663,690 664,684.5 664.8,684.2 665.5,681.9 666.3,682.2 667,678.6 667.8,679.1 668.6,679.9 669.4,680.6 670.2,682.5 671,681.8 671.8,682.4 672.5,683.6 673.2,681.5" fill="none" stroke="#f050b8" stroke-width="1.9" stroke-linejoin="round"/><polyline points="634.6,653.6 635.3,654.5 636.1,655 636.9,654.1 637.7,657 638.4,654.5 639.2,657 640,655.4 640.8,659.7 641.6,658.4 642.4,660.2 643.2,657.2 644,660.5 644.8,658.5 645.6,657.8 646.4,656.6 647.2,661.3 648,659.4 648.8,657.9 649.6,658 650.4,656.1 651.2,655.4 652,655.7 652.8,654.8 653.5,656.4 654.2,656.3 655,659.5 655.7,660.4 656.4,661.1" fill="none" stroke="#10e050" stroke-width="2.0" stroke-linejoin="round"/><polyline points="543.3,585 543.3,603" fill="none" stroke="#8f8f8f" stroke-width="1" stroke-linejoin="round"/><polyline points="566.3,597 566.3,612" fill="none" stroke="#8f8f8f" stroke-width="1" stroke-linejoin="round"/><polyline points="584.7,594 584.7,618" fill="none" stroke="#8f8f8f" stroke-width="1" stroke-linejoin="round"/><polyline points="601.8,601 601.8,622" fill="none" stroke="#8f8f8f" stroke-width="1" stroke-linejoin="round"/><polyline points="622.4,618 622.4,640" fill="none" stroke="#8f8f8f" stroke-width="1" stroke-linejoin="round"/><polyline points="651,648 651,668" fill="none" stroke="#8f8f8f" stroke-width="1" stroke-linejoin="round"/><polyline points="662.3,660 662.3,705" fill="none" stroke="#8f8f8f" stroke-width="1" stroke-linejoin="round"/><rect x="376" y="740.6" width="297" height="1.6" fill="#20b4b8"/><polyline points="387.2,744 388.3,741.9 389.4,739.8 390.2,739.9 391.1,739.2 391.9,739.1 392.7,738.9 393.6,738.2 394.4,738.1 395.3,737.1 396.1,737 396.9,737.2 397.8,736.2 398.6,735.7 399.4,735.3 400.3,735.8 401.1,734.7 402,734.7 402.8,734.4 403.6,734.4 404.5,733.7 405.3,733.4 405.8,742 406.6,742.5 407.4,742.2 408.3,741.7 409.1,741.7 409.9,741.1 410.7,740.9 411.5,740.8 412.3,740.3 413.2,739.4 414,739.9 414.8,739.7 415.6,738.7 416.4,738.2 417.3,738.2 418.1,737.7 418.9,737.6 419.7,737.1 420.5,736.9 421.3,736.4 422.2,736.5 423,736.1 423.8,736.2 424.3,743.4 425.2,742.9 426,743.5 426.8,743.2 427.7,742.8 428.5,742.2 429.4,742.3 430.2,742.3 431.1,742.1 431.9,741.7 432.7,742 433.6,742.2 434.4,742 435.3,742.1 436.1,741.8 437,741.8 437.8,741.8 438.6,741.8 439.5,741.6 440.3,741.1 441.2,741.3 442,741.2 442.8,741.3 443.6,741.1 444.5,740.8 445.3,740.5 446.1,740.5 446.9,740.4 447.8,740.8 448.6,740.8 449.4,740.2 450.2,740.5 451,740.7 451.9,740.2 452.7,739.9 453.5,740.3 454.3,740 455.2,739.8 456,739.8 456.8,739.5 457.6,739.6 458.4,739.9 459.3,739.5 460.1,739.4 460.9,740 461.7,740.3 462.5,740.2 463.3,739.7 464.2,740.3 465,739.4 465.8,739.4 466.6,739.3 467.4,739.3 468.3,739.8 469.1,740 469.9,739.7 470.7,740 471.5,739.6 472.4,740.1 473.2,739.7 474,739.6 474.8,739.3 475.6,739.5 476.5,739.5 477.3,739.9 478.1,739.2 478.9,739.3 479.7,739.8 480.5,739 481.4,739.5 482.2,739.1 483,739.6 483.8,739.5 484.6,739 485.4,739.7 486.2,739.4 487,739.3 487.8,739.9 488.6,739.8 489.4,739.4 490.2,739.8 491,739.3 491.8,739.7 492.7,739.3 493.5,739.9 494.3,740.2 495.1,739.9 495.9,739.3 496.7,739.8 497.5,739.8 498.3,739.8 499.1,739.5 499.9,739.7 500.7,739.9 501.5,739.5 502.3,740.1 503.1,739.7 503.9,739.8 504.7,739.6 505.5,739.9 506.3,740.5 507.1,739.9 507.9,739.7 508.7,740 509.5,740.6 510.3,739.8 511.2,740.1 512,740 512.8,740.5 513.6,740.3 514.4,739.9 515.2,740.7 516,740.2 516.8,740.6 517.6,740.4 518.4,740.8 519.2,740 520,740.2 520.8,740.3 521.6,740.3 522.4,740.8 523.2,740.5 524,740.3 524.8,740.5 525.6,740.8 526.4,740.5 527.2,740.4 528,740.6 528.8,740.6 529.6,740.4 530.4,740.4 531.2,740.1 532,740.4 532.8,740.8 533.6,740.2 534.4,740.3 535.2,740.5 536,740.5 536.8,740.1 537.6,740.4 538.4,740.7 539.2,740 540,740 540.8,740.7 541.6,740.8 542.4,740 543.2,740 544,740.5 544.8,740.2 545.6,740.5 546.4,739.9 547.2,740.3 548,740 548.8,740.2 549.6,740.6 550.4,740.4 551.2,740.7 552,740.7 552.8,740.5 553.6,740.7 554.4,740 555.2,740.3 556,740.2 556.8,740.5 557.6,739.9 558.4,740.7 559.2,740.2 560,740.6 560.8,740.8 561.6,740.8 562.4,740.2 563.2,740.7 564,740.8 564.8,740 565.6,740.6 566.4,740.6 567.3,740.4 568.1,740.3 568.9,740.2 569.7,740.5 570.5,741 571.3,740.6 572.1,740.5 573,740.9 573.8,740.7 574.6,740.9 575.4,740.8 576.2,740.7 577,740.5 577.8,741.3 578.7,741.2 579.5,740.8 580.3,741.1 581.1,741.2 581.9,741.2 582.7,741.6 583.5,741.5 584.3,741.1 585.2,741.2 586,741.5 586.8,741.1 587.6,741.9 588.4,741 589.2,741.5 590,741.3 590.9,741.6 591.7,741.2 592.5,741.4 593.3,742.2 594.1,742.1 594.9,741.5 595.7,741.8 596.6,741.4 597.4,741.5 598.2,741.7 599,742.5 599.8,741.9 600.6,741.9 601.4,741.9 602.2,742 603.1,743 603.9,742.8 604.7,743.1 605.5,743.1 606.3,743.2 607.1,742.7 607.9,742.7 608.7,742.9 609.5,742.8 610.3,743 611.2,743.7 612,743.5 612.8,743.1 613.6,743.5 614.4,744.2 615.2,744.3 616,744.3 616.8,744.4 617.6,744.6 618.5,744.4 619.3,744.3 620.1,744.6 620.9,744.4 621.7,744.2 623,741.8 623.9,741.1 624.7,739.9 625.6,739 626.4,739.2 627.2,739.4 628,740.1 628.8,739.7 629.6,740.1 630.4,740.1 631.2,740 632,739.8 632.8,739.9 633.6,739.9 634.4,740.3 635.2,740.6 636,740.6 636.8,740.2 637.6,740.1 638.4,740 639.2,740.7 640,740.4 640.8,740.2 641.6,740.6 642.4,740.6 643.2,740.6 644,741.2 644.8,741.1 645.6,740.8 646.4,741.3 647.2,740.8 648.1,741.5 648.9,740.7 649.7,741.2 650.5,741.4 651.3,741.4 652.1,741.2 652.9,741.6 653.7,741.4 654.5,741.5 655.4,740.9 656.2,741 657,741.3 657.8,741.4 658.6,741 659.4,741.7 660.2,741.3 661,741.4 661.8,741.5 662.6,741.8 663.5,741.3 664.3,741.6 665.1,741.7 665.9,741.7 666.7,741.4 667.5,741.4 668.3,741.6 669.1,741.8 669.9,741.8 670.8,741.3 671.6,741.7 672.4,741.8 673.2,741.5" fill="none" stroke="#1a6400" stroke-width="1.9" stroke-linejoin="round"/><polyline points="376,686.9 376.8,687.2 377.7,686.2 378.5,686.3 379.3,685.8 380.2,685.3 381,685.2 381.8,684.8 382.6,684.7 383.5,684.8 384.3,683.8 385.1,683.7 386,683.7 386.8,683.3" fill="none" stroke="#1a6400" stroke-width="2.6" stroke-linejoin="round"/><polyline points="386.9,683 387.1,745" fill="none" stroke="#3d7a28" stroke-width="1.1" stroke-linejoin="round"/><rect x="387" y="683.2" width="1" height="62.8" fill="#4f8440" shape-rendering="crispEdges"/><rect x="389.5" y="701.7" width="2" height="44.3" fill="#1a6400" shape-rendering="crispEdges"/><rect x="390" y="697.7" width="1" height="6" fill="#5a8c48" shape-rendering="crispEdges"/><rect x="406" y="696.4" width="1" height="49.6" fill="#4f8440" shape-rendering="crispEdges"/><rect x="423.5" y="702.2" width="2" height="43.8" fill="#1a6400" shape-rendering="crispEdges"/><rect x="424" y="698.2" width="1" height="6" fill="#5a8c48" shape-rendering="crispEdges"/><rect x="442" y="699" width="1" height="47" fill="#4f8440" shape-rendering="crispEdges"/><rect x="458.5" y="702.2" width="2" height="43.8" fill="#1a6400" shape-rendering="crispEdges"/><rect x="459" y="698.2" width="1" height="6" fill="#5a8c48" shape-rendering="crispEdges"/><rect x="482.5" y="703" width="2" height="43" fill="#1a6400" shape-rendering="crispEdges"/><rect x="483" y="699" width="1" height="6" fill="#5a8c48" shape-rendering="crispEdges"/><rect x="504" y="696.4" width="1" height="49.6" fill="#4f8440" shape-rendering="crispEdges"/><rect x="523" y="697.7" width="1" height="48.3" fill="#4f8440" shape-rendering="crispEdges"/><rect x="542" y="698.2" width="1" height="47.8" fill="#4f8440" shape-rendering="crispEdges"/><rect x="566" y="695" width="1" height="51" fill="#4f8440" shape-rendering="crispEdges"/><rect x="584" y="697.2" width="1" height="48.8" fill="#4f8440" shape-rendering="crispEdges"/><rect x="601.5" y="701.7" width="2" height="44.3" fill="#1a6400" shape-rendering="crispEdges"/><rect x="602" y="697.7" width="1" height="6" fill="#5a8c48" shape-rendering="crispEdges"/><rect x="622" y="694.5" width="1" height="51.5" fill="#4f8440" shape-rendering="crispEdges"/><rect x="637" y="696.4" width="1" height="49.6" fill="#4f8440" shape-rendering="crispEdges"/><rect x="650" y="695" width="1" height="51" fill="#4f8440" shape-rendering="crispEdges"/><rect x="662" y="696.4" width="1" height="49.6" fill="#4f8440" shape-rendering="crispEdges"/><polyline points="376,727.2 378,727.2 380,727.2 382,727.2 384,727.2 386,727.2 388,727.2 390,727.2 392,727.2 394,727.2 396,727.2 398,727.2 400,727.2 402,727.2 404,727.2 406,726.6 408,726.6 410,726.6 412,726.6 414,726.6 416,726.6 418,726.6 420,726.6 422,726.6 424,726.6 426,726.6 428,726.6 430,726.6 432,726.6 434,726.6 436,726.6 438,726.6 440,726.6 442,726.6 444,726.6 446,726.6 448,726.6 450,726.6 452,726 454,726 456,726 458,726 460,726 462,726 464,726 466,726 468,726 470,726 472,726 474,726 476,726 478,726 480,726 482,726 484,726 486,726 488,726 490,726 492,726 494,726 496,725.4 498,725.4 500,725.4 502,725.4 504,725.4 506,725.4 508,725.4 510,725.4 512,725.4 514,725.4 516,725.4 518,725.4 520,725.4 522,725.4 524,725.4 526,725.4 528,725.4 530,725.4 532,725.4 534,725.4 536,725.4 538,725.4 540,724.8 542,724.8 544,724.8 546,724.8 548,724.8 550,724.8 552,724.8 554,724.8 556,724.8 558,724.8 560,724.8 562,724.8 564,724.8 566,724.8 568,724.8 570,724.8 572,724.8 574,724.8 576,724.8 578,724.8 580,724.8 582,724.8 584,724.8 586,724.2 588,724.2 590,724.2 592,724.2 594,724.2 596,724.2 598,724.2 600,724.2 602,724.2 604,724.2 606,724.2 608,724.2 610,724.2 612,724.2 614,724.2 616,724.2 618,724.2 620,724.2 622,724.2 624,724.2 626,724.2 628,724.2 630,723.6 632,723.6 634,723.6 636,723.6 638,723.6 640,723.6 642,723.6 644,723.6 646,723.6 648,723.6 650,723.6 652,723.6 654,723.6 656,723.6 658,723.6 660,723.6 662,723.6 664,723.6 666,723.6 668,723.6 670,723.6 672,723.6 674,723.6" fill="none" stroke="#e03060" stroke-width="1.3" stroke-linejoin="round"/></g><rect x="527" y="565" width="1" height="183" fill="#000" shape-rendering="crispEdges"/><rect x="376" y="566" width="1" height="182" fill="#e06070" shape-rendering="crispEdges"/><rect x="367" y="745" width="8" height="1" fill="#bdbdbd" shape-rendering="crispEdges"/><text x="361.5" y="749.8" fill="#24cc58" font-size="11" text-anchor="end">-10.0</text><rect x="367" y="723" width="8" height="1" fill="#bdbdbd" shape-rendering="crispEdges"/><text x="361.5" y="727.6" fill="#24cc58" font-size="11" text-anchor="end">-7.5</text><rect x="367" y="701" width="8" height="1" fill="#bdbdbd" shape-rendering="crispEdges"/><text x="361.5" y="705.4" fill="#24cc58" font-size="11" text-anchor="end">-5.0</text><rect x="367" y="679" width="8" height="1" fill="#bdbdbd" shape-rendering="crispEdges"/><text x="361.5" y="683.2" fill="#24cc58" font-size="11" text-anchor="end">-2.5</text><rect x="367" y="656" width="8" height="1" fill="#bdbdbd" shape-rendering="crispEdges"/><text x="361.5" y="661" fill="#24cc58" font-size="11" text-anchor="end">0.0</text><rect x="367" y="634" width="8" height="1" fill="#bdbdbd" shape-rendering="crispEdges"/><text x="361.5" y="638.8" fill="#24cc58" font-size="11" text-anchor="end">2.5</text><rect x="367" y="612" width="8" height="1" fill="#bdbdbd" shape-rendering="crispEdges"/><text x="361.5" y="616.6" fill="#24cc58" font-size="11" text-anchor="end">5.0</text><rect x="367" y="590" width="8" height="1" fill="#bdbdbd" shape-rendering="crispEdges"/><text x="361.5" y="594.4" fill="#24cc58" font-size="11" text-anchor="end">7.5</text><rect x="367" y="568" width="8" height="1" fill="#bdbdbd" shape-rendering="crispEdges"/><text x="361.5" y="572.2" fill="#24cc58" font-size="11" text-anchor="end">10.0</text><rect x="371" y="741" width="4" height="1" fill="#cfcfcf" shape-rendering="crispEdges"/><rect x="371" y="736" width="4" height="1" fill="#cfcfcf" shape-rendering="crispEdges"/><rect x="371" y="732" width="4" height="1" fill="#cfcfcf" shape-rendering="crispEdges"/><rect x="371" y="728" width="4" height="1" fill="#cfcfcf" shape-rendering="crispEdges"/><rect x="371" y="719" width="4" height="1" fill="#cfcfcf" shape-rendering="crispEdges"/><rect x="371" y="714" width="4" height="1" fill="#cfcfcf" shape-rendering="crispEdges"/><rect x="371" y="710" width="4" height="1" fill="#cfcfcf" shape-rendering="crispEdges"/><rect x="371" y="705" width="4" height="1" fill="#cfcfcf" shape-rendering="crispEdges"/><rect x="371" y="696" width="4" height="1" fill="#cfcfcf" shape-rendering="crispEdges"/><rect x="371" y="692" width="4" height="1" fill="#cfcfcf" shape-rendering="crispEdges"/><rect x="371" y="688" width="4" height="1" fill="#cfcfcf" shape-rendering="crispEdges"/><rect x="371" y="683" width="4" height="1" fill="#cfcfcf" shape-rendering="crispEdges"/><rect x="371" y="674" width="4" height="1" fill="#cfcfcf" shape-rendering="crispEdges"/><rect x="371" y="670" width="4" height="1" fill="#cfcfcf" shape-rendering="crispEdges"/><rect x="371" y="665" width="4" height="1" fill="#cfcfcf" shape-rendering="crispEdges"/><rect x="371" y="661" width="4" height="1" fill="#cfcfcf" shape-rendering="crispEdges"/><rect x="371" y="652" width="4" height="1" fill="#cfcfcf" shape-rendering="crispEdges"/><rect x="371" y="648" width="4" height="1" fill="#cfcfcf" shape-rendering="crispEdges"/><rect x="371" y="643" width="4" height="1" fill="#cfcfcf" shape-rendering="crispEdges"/><rect x="371" y="639" width="4" height="1" fill="#cfcfcf" shape-rendering="crispEdges"/><rect x="371" y="630" width="4" height="1" fill="#cfcfcf" shape-rendering="crispEdges"/><rect x="371" y="625" width="4" height="1" fill="#cfcfcf" shape-rendering="crispEdges"/><rect x="371" y="621" width="4" height="1" fill="#cfcfcf" shape-rendering="crispEdges"/><rect x="371" y="617" width="4" height="1" fill="#cfcfcf" shape-rendering="crispEdges"/><rect x="371" y="608" width="4" height="1" fill="#cfcfcf" shape-rendering="crispEdges"/><rect x="371" y="603" width="4" height="1" fill="#cfcfcf" shape-rendering="crispEdges"/><rect x="371" y="599" width="4" height="1" fill="#cfcfcf" shape-rendering="crispEdges"/><rect x="371" y="594" width="4" height="1" fill="#cfcfcf" shape-rendering="crispEdges"/><rect x="371" y="585" width="4" height="1" fill="#cfcfcf" shape-rendering="crispEdges"/><rect x="371" y="581" width="4" height="1" fill="#cfcfcf" shape-rendering="crispEdges"/><rect x="371" y="577" width="4" height="1" fill="#cfcfcf" shape-rendering="crispEdges"/><rect x="371" y="572" width="4" height="1" fill="#cfcfcf" shape-rendering="crispEdges"/><text transform="translate(326,655) rotate(-90)" fill="#24cc58" font-size="11" text-anchor="middle" textLength="50" lengthAdjust="spacingAndGlyphs">LamLabOK</text><polygon points="646.9,564.3 654.3,564.3 650.6,556.9" fill="#10e050" stroke="#0a3a10" stroke-width="0.8"/><text x="657.8" y="564.2" fill="#1a1a1a" font-size="9" text-anchor="start">0.4</text><polygon points="366.3,653.8 366.3,661.2 373.7,657.5" fill="#10e050" stroke="#0a3a10" stroke-width="0.8"/><text x="380" y="661" fill="#1a1a1a" font-size="9" text-anchor="start">-0.1</text><polygon points="645.7,749.8 653.1,749.8 649.4,757.2" fill="#10e050" stroke="#0a3a10" stroke-width="0.8"/><text x="656" y="756.2" fill="#1a1a1a" font-size="9" text-anchor="start">-0.4</text><rect x="375" y="757" width="299" height="1" fill="#222" shape-rendering="crispEdges"/><rect x="384" y="757" width="1" height="4" fill="#222" shape-rendering="crispEdges"/><rect x="405" y="757" width="1" height="4" fill="#222" shape-rendering="crispEdges"/><rect x="427" y="757" width="1" height="4" fill="#222" shape-rendering="crispEdges"/><rect x="448" y="757" width="1" height="4" fill="#222" shape-rendering="crispEdges"/><rect x="469" y="757" width="1" height="4" fill="#222" shape-rendering="crispEdges"/><rect x="491" y="757" width="1" height="4" fill="#222" shape-rendering="crispEdges"/><rect x="512" y="757" width="1" height="4" fill="#222" shape-rendering="crispEdges"/><rect x="534" y="757" width="1" height="4" fill="#222" shape-rendering="crispEdges"/><rect x="555" y="757" width="1" height="4" fill="#222" shape-rendering="crispEdges"/><rect x="577" y="757" width="1" height="4" fill="#222" shape-rendering="crispEdges"/><rect x="598" y="757" width="1" height="4" fill="#222" shape-rendering="crispEdges"/><rect x="620" y="757" width="1" height="4" fill="#222" shape-rendering="crispEdges"/><rect x="641" y="757" width="1" height="4" fill="#222" shape-rendering="crispEdges"/><rect x="663" y="757" width="1" height="4" fill="#222" shape-rendering="crispEdges"/><rect x="405" y="757" width="1" height="9" fill="#222" shape-rendering="crispEdges"/><rect x="512" y="757" width="1" height="9" fill="#222" shape-rendering="crispEdges"/><rect x="620" y="757" width="1" height="9" fill="#222" shape-rendering="crispEdges"/><rect x="526.5" y="757" width="2" height="6" fill="#000" shape-rendering="crispEdges"/><text x="404" y="777" fill="#111" font-size="11" text-anchor="middle">13:07:30.000</text><text x="511.3" y="777" fill="#111" font-size="11" text-anchor="middle">13:11:40.000</text><text x="618.6" y="777" fill="#111" font-size="11" text-anchor="middle">13:15:50.000</text><text x="319" y="767.5" fill="#111" font-size="11" text-anchor="start">Time</text><text x="319" y="780.5" fill="#111" font-size="11" text-anchor="start">(s)</text><rect x="375" y="757" width="1" height="9" fill="#222" shape-rendering="crispEdges"/><rect x="375" y="781.5" width="299" height="11" fill="#d6e4fb" shape-rendering="crispEdges"/><polygon points="377,787 385,783 385,791" fill="#5b8fdc"/><polygon points="672,787 664,783 664,791" fill="#5b8fdc"/><defs><linearGradient id="sbB" x1="0" y1="0" x2="0" y2="1"><stop offset="0" stop-color="#b4d0f6"/><stop offset="1" stop-color="#7fabe8"/></linearGradient></defs><rect x="424" y="782.0" width="224" height="10" fill="url(#sbB)" stroke="#7da6e4" stroke-width="1"/></svg></div><div class="pn" style="left:687px;top:46px;width:193px;height:756px;"><div class="lg" style="left:7px;top:9px;width:176px;height:485px"><div class="lr" style="top:0.0px;"><i style="background:#c8c8c8;border-color:#444"></i><b>AFR_NTKa</b><s>10.35</s></div><div class="lr" style="top:14.6px;"><i style="background:#ffffff;border-color:#9be07a"></i><b>ECMf</b><s>0.665</s></div><div class="lr" style="top:29.2px;"><i style="background:#f0204a;border-color:#444"></i><b>ECMf-f(10)</b><s>0.665</s></div><div class="lr" style="top:43.8px;background:linear-gradient(#fff1c8,#ffd98a);"><i style="background:#0028e0;border-color:#223"></i><b>LabNTKa_U12</b><s>0.710</s></div><div class="lr" style="top:58.4px;"><i style="background:#96c800;border-color:#444"></i><b>Lam4RawL2C_R23</b><s>0.712</s></div></div><div class="lg" style="left:7px;top:518px;width:176px;height:183px"><div class="lr" style="top:0.0px;"><i style="background:#0000d8;border-color:#223"></i><b>% O2</b><s>20.54</s></div><div class="lr" style="top:14.6px;"><i style="background:#1a6400;border-color:#222"></i><b>ExPressL2C_R11</b><s>8</s></div><div class="lr" style="top:29.2px;background:linear-gradient(#cfe0fb,#9fc0f4);"><i style="background:#10e840;border-color:#333"></i><b>LamLabOK</b><s style="letter-spacing:1.7px;right:1px">####</s></div><div class="lr" style="top:43.8px;"><i style="background:#808080;border-color:#333"></i><b>LambdaLabError</b><s>6.81</s></div><div class="lr" style="top:58.4px;"><i style="background:#ff50c0;border-color:#444"></i><b>LambdaLabError-f(500)</b><s>6.96</s></div><div class="lr" style="top:73.0px;"><i style="background:#28aa00;border-color:#333"></i><b>bap</b><s>1006</s></div><div class="lr" style="top:87.6px;"><i style="background:#10b0b0;border-color:#333"></i><b>egt1</b><s>15</s></div><div class="lr" style="top:102.2px;"><i style="background:#f0204a;border-color:#333"></i><b>egt2</b><s>59</s></div></div></div><div class="pn" style="left:3px;top:806px;width:877px;height:175px;"><div class="info" style="left:8.5px;top:9.20px;color:#1f8a2a;letter-spacing:0.019px">.\DownloadedData\RICESP\ECU sensor actuator tests\Lambda Sensor</div><div class="info" style="left:8.5px;top:21.95px;color:#1f8a2a;letter-spacing:0.095px">Calibrations\Current ECM tests\2025-08-06 13-04-29 plus 0h00m00s S12#27290.SD</div><div class="info" style="left:8.5px;top:34.70px;color:#1f8a2a;letter-spacing:-0.229px">S12(27290) Cal(RICESP-RR286-NTKcalibration-53) Cfg(RICESP-RRL020-LAMBDA)</div><div class="info" style="left:8.5px;top:47.45px;color:#1f8a2a;letter-spacing:0.308px">Boot(1.80) Main(1.714.3)</div><div class="info" style="left:8.5px;top:60.20px;color:#1f8a2a;letter-spacing:0.181px">DateTime(2025\8\6 13:04) UncompressedSize(5.88 MB)</div><div class="info" style="left:8.5px;top:72.95px;color:#808080;letter-spacing:0.039px">ECM AFM1000D sn45410180 - 64S9 1813 sensor,Autronic B1351 - LZA08, Syvecs L2C</div><div class="info" style="left:8.5px;top:85.70px;color:#808080;letter-spacing:-0.222px">- RR2222</div><div class="info" style="left:8.5px;top:98.45px;color:#808080;letter-spacing:0.136px">mixture check all 3 2nd day test brand new ECM sensor off 4800P</div><div class="abs" style="left:455px;top:10px;width:1px;height:154px;background:#c4c4c4"></div><div class="info" style="left:464.0px;top:9.20px;color:#e8902e;letter-spacing:0.014px">LabNTKa_U12 (200Hz) samples(170667)</div><div class="info" style="left:464.0px;top:21.95px;color:#e8902e;letter-spacing:0.019px">Unit(Combustion Ratio,Lambda)</div><div class="info" style="left:464.0px;top:34.70px;color:#e8902e;letter-spacing:0.321px">convert using y=(x/1000)+0 to Lambda</div><div class="info" style="left:464.0px;top:47.45px;color:#e8902e;letter-spacing:0.311px">in the range 0.5..3</div><div class="info" style="left:464.0px;top:60.20px;color:#e8902e;letter-spacing:-0.047px">UnitGroup(LabNTKa_U12)</div><div class="info" style="left:476.4px;top:72.95px;color:#e8902e;letter-spacing:-0.235px">LabNTKa_U12</div><div class="abs" style="left:685px;top:10px;width:1px;height:154px;background:#c4c4c4"></div><div class="info" style="left:692.0px;top:9.20px;color:#222;letter-spacing:0.039px">Burst Log Mode</div><div class="info" style="left:692.0px;top:21.95px;color:#222;letter-spacing:0.050px"></div><div class="info" style="left:692.0px;top:34.70px;color:#222;letter-spacing:-0.586px">BASE, ENHANCED</div></div></div></div>
</body></html>
